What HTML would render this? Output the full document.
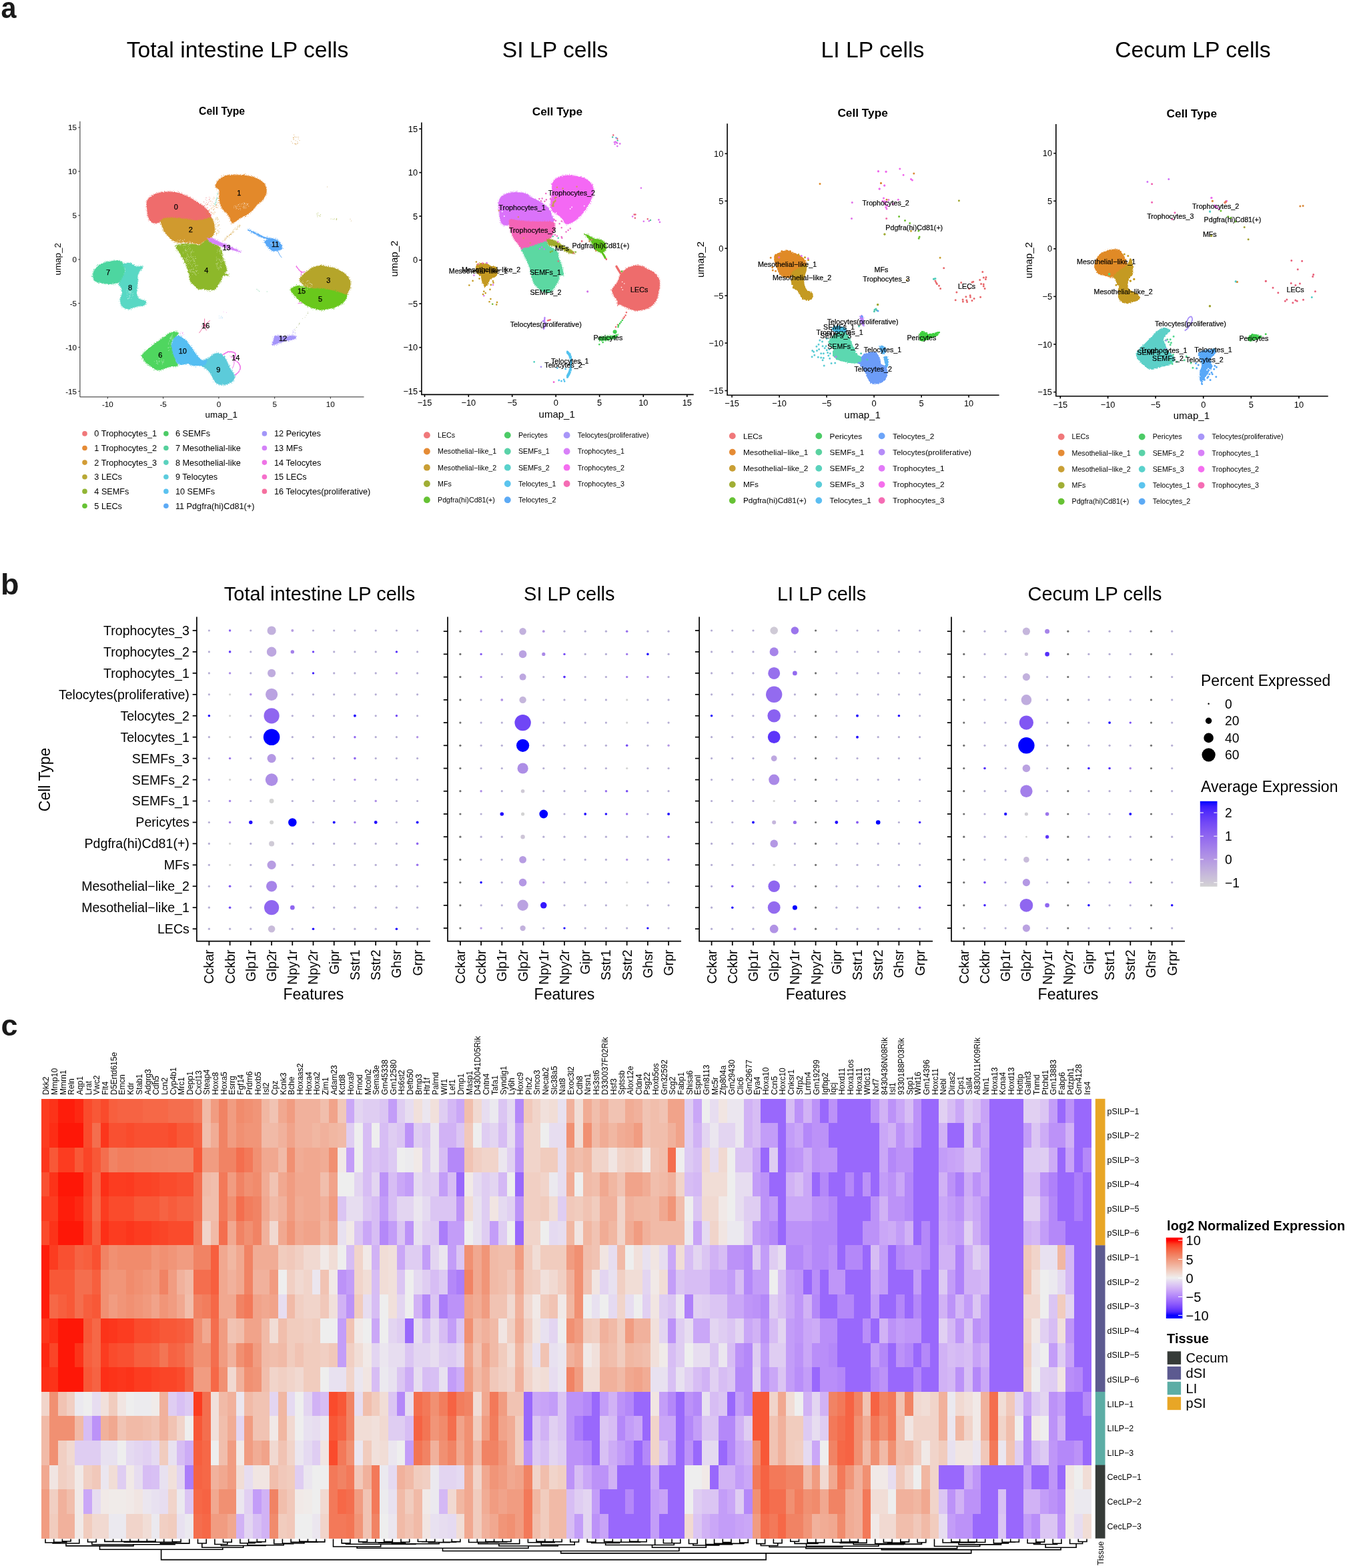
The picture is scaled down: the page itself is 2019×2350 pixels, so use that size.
<!DOCTYPE html>
<html lang="en"><head><meta charset="utf-8"><title>Figure</title>
<style>
html,body{margin:0;padding:0;background:#fff;}
body{width:2019px;height:2350px;overflow:hidden;}
svg{display:block;font-family:"Liberation Sans", Arial, Helvetica, sans-serif;}
text{white-space:pre;}
</style></head><body>
<svg xmlns="http://www.w3.org/2000/svg" width="2019" height="2350" viewBox="0 0 2019 2350">
<rect width="2019" height="2350" fill="#fff"/>
<defs>
<filter id="rough" x="-5%" y="-5%" width="110%" height="110%"><feTurbulence type="fractalNoise" baseFrequency="0.9" numOctaves="2" seed="3" result="n"/><feDisplacementMap in="SourceGraphic" in2="n" scale="2.2" xChannelSelector="R" yChannelSelector="G"/></filter>
<filter id="rough2" x="-5%" y="-5%" width="110%" height="110%"><feTurbulence type="fractalNoise" baseFrequency="0.5" numOctaves="2" seed="7" result="n"/><feDisplacementMap in="SourceGraphic" in2="n" scale="3.5" xChannelSelector="R" yChannelSelector="G"/></filter>
<filter id="speck" x="-10%" y="-10%" width="120%" height="120%"><feTurbulence type="fractalNoise" baseFrequency="1.1" numOctaves="1" seed="11" result="n"/><feDisplacementMap in="SourceGraphic" in2="n" scale="5" xChannelSelector="R" yChannelSelector="G"/></filter>
</defs>
<path d="M219.8,304.3C220.1,301.6 220.6,300.1 222.2,298.1C223.9,296.0 226.4,293.6 229.7,291.9C233.0,290.3 237.7,288.9 242.0,288.2C246.3,287.5 251.1,287.4 255.6,287.6C260.1,287.8 264.9,288.3 269.2,289.4C273.5,290.6 277.5,292.3 281.6,294.4C285.7,296.4 290.0,299.3 293.9,301.8C297.8,304.3 301.8,306.5 305.1,309.2C308.4,311.9 311.8,315.0 313.7,317.9C315.7,320.7 316.6,324.3 316.8,326.5C317.0,328.8 320.0,330.5 314.9,331.5C309.9,332.4 297.4,332.5 286.5,332.1C275.6,331.7 257.7,328.7 249.4,329.0C241.2,329.3 240.4,333.1 237.1,333.9C233.8,334.8 231.8,334.6 229.7,333.9C227.5,333.3 225.4,332.1 224.1,330.2C222.8,328.4 222.2,325.5 221.6,322.8C221.0,320.1 220.7,317.2 220.4,314.2C220.1,311.1 219.5,306.9 219.8,304.3Z" fill="none" stroke="#EF6C6C" stroke-width="2.6" stroke-dasharray="0.9 1.9" filter="url(#speck)"/><path d="M219.8,304.3C220.1,301.6 220.6,300.1 222.2,298.1C223.9,296.0 226.4,293.6 229.7,291.9C233.0,290.3 237.7,288.9 242.0,288.2C246.3,287.5 251.1,287.4 255.6,287.6C260.1,287.8 264.9,288.3 269.2,289.4C273.5,290.6 277.5,292.3 281.6,294.4C285.7,296.4 290.0,299.3 293.9,301.8C297.8,304.3 301.8,306.5 305.1,309.2C308.4,311.9 311.8,315.0 313.7,317.9C315.7,320.7 316.6,324.3 316.8,326.5C317.0,328.8 320.0,330.5 314.9,331.5C309.9,332.4 297.4,332.5 286.5,332.1C275.6,331.7 257.7,328.7 249.4,329.0C241.2,329.3 240.4,333.1 237.1,333.9C233.8,334.8 231.8,334.6 229.7,333.9C227.5,333.3 225.4,332.1 224.1,330.2C222.8,328.4 222.2,325.5 221.6,322.8C221.0,320.1 220.7,317.2 220.4,314.2C220.1,311.1 219.5,306.9 219.8,304.3Z" fill="#EF6C6C" filter="url(#rough)"/>
<path d="M324.8,273.4C326.1,271.1 328.5,268.9 331.0,267.2C333.5,265.4 335.7,263.7 339.7,262.9C343.6,262.0 349.6,262.2 354.5,262.2C359.4,262.2 364.6,262.1 369.3,262.9C374.1,263.6 379.0,265.0 382.9,266.6C386.8,268.1 390.3,270.2 392.8,272.1C395.3,274.1 396.6,276.0 397.8,278.3C398.9,280.6 399.6,283.3 399.6,285.7C399.6,288.2 398.7,290.9 397.8,293.1C396.8,295.4 395.9,297.3 394.0,299.3C392.2,301.4 389.1,303.0 386.6,305.5C384.2,308.0 381.9,311.5 379.2,314.2C376.5,316.8 373.7,319.5 370.6,321.6C367.5,323.6 363.8,324.7 360.7,326.5C357.6,328.4 354.3,331.6 352.0,332.7C349.8,333.8 348.3,334.3 347.1,333.3C345.8,332.3 345.8,328.9 344.6,326.5C343.4,324.1 341.5,321.4 339.7,319.1C337.8,316.8 335.1,315.4 333.5,312.9C331.8,310.4 330.6,307.4 329.8,304.3C329.0,301.2 328.7,297.7 328.5,294.4C328.3,291.1 329.4,286.8 328.5,284.5C327.7,282.2 324.2,282.6 323.6,280.8C323.0,278.9 323.6,275.6 324.8,273.4Z" fill="none" stroke="#E3892C" stroke-width="2.6" stroke-dasharray="0.9 1.9" filter="url(#speck)"/><path d="M324.8,273.4C326.1,271.1 328.5,268.9 331.0,267.2C333.5,265.4 335.7,263.7 339.7,262.9C343.6,262.0 349.6,262.2 354.5,262.2C359.4,262.2 364.6,262.1 369.3,262.9C374.1,263.6 379.0,265.0 382.9,266.6C386.8,268.1 390.3,270.2 392.8,272.1C395.3,274.1 396.6,276.0 397.8,278.3C398.9,280.6 399.6,283.3 399.6,285.7C399.6,288.2 398.7,290.9 397.8,293.1C396.8,295.4 395.9,297.3 394.0,299.3C392.2,301.4 389.1,303.0 386.6,305.5C384.2,308.0 381.9,311.5 379.2,314.2C376.5,316.8 373.7,319.5 370.6,321.6C367.5,323.6 363.8,324.7 360.7,326.5C357.6,328.4 354.3,331.6 352.0,332.7C349.8,333.8 348.3,334.3 347.1,333.3C345.8,332.3 345.8,328.9 344.6,326.5C343.4,324.1 341.5,321.4 339.7,319.1C337.8,316.8 335.1,315.4 333.5,312.9C331.8,310.4 330.6,307.4 329.8,304.3C329.0,301.2 328.7,297.7 328.5,294.4C328.3,291.1 329.4,286.8 328.5,284.5C327.7,282.2 324.2,282.6 323.6,280.8C323.0,278.9 323.6,275.6 324.8,273.4Z" fill="#E3892C" filter="url(#rough)"/>
<path d="M264.3,368.5C265.7,365.9 274.6,365.2 279.1,364.8C283.6,364.4 288.2,365.7 291.5,366.1C294.8,366.5 296.4,368.0 298.9,367.3C301.3,366.6 304.2,363.2 306.3,361.7C308.4,360.3 309.2,358.1 311.2,358.7C313.3,359.2 316.0,363.2 318.7,364.8C321.3,366.5 325.0,366.7 327.3,368.5C329.6,370.4 331.0,372.7 332.2,376.0C333.5,379.3 333.7,384.6 334.7,388.3C335.7,392.0 337.6,395.3 338.4,398.2C339.3,401.1 340.0,403.7 339.7,405.6C339.4,407.5 336.2,408.4 336.6,409.6C337.0,410.7 342.4,411.8 342.1,412.4C341.8,413.0 336.6,411.7 334.7,413.0C332.9,414.4 332.5,418.0 331.0,420.4C329.6,422.9 327.7,425.6 326.1,427.9C324.4,430.1 323.6,432.9 321.1,434.0C318.7,435.2 313.9,434.9 311.2,434.7C308.6,434.5 307.3,433.0 305.1,432.8C302.8,432.6 299.9,434.3 297.6,433.4C295.4,432.6 293.5,429.8 291.5,427.9C289.4,425.9 286.5,424.2 285.3,421.7C284.0,419.2 284.7,415.9 284.0,413.0C283.4,410.2 282.8,407.9 281.6,404.4C280.3,400.9 278.5,395.9 276.6,392.0C274.8,388.1 272.5,384.8 270.4,380.9C268.4,377.0 262.8,371.2 264.3,368.5Z" fill="none" stroke="#8DB82A" stroke-width="2.6" stroke-dasharray="0.9 1.9" filter="url(#speck)"/><path d="M264.3,368.5C265.7,365.9 274.6,365.2 279.1,364.8C283.6,364.4 288.2,365.7 291.5,366.1C294.8,366.5 296.4,368.0 298.9,367.3C301.3,366.6 304.2,363.2 306.3,361.7C308.4,360.3 309.2,358.1 311.2,358.7C313.3,359.2 316.0,363.2 318.7,364.8C321.3,366.5 325.0,366.7 327.3,368.5C329.6,370.4 331.0,372.7 332.2,376.0C333.5,379.3 333.7,384.6 334.7,388.3C335.7,392.0 337.6,395.3 338.4,398.2C339.3,401.1 340.0,403.7 339.7,405.6C339.4,407.5 336.2,408.4 336.6,409.6C337.0,410.7 342.4,411.8 342.1,412.4C341.8,413.0 336.6,411.7 334.7,413.0C332.9,414.4 332.5,418.0 331.0,420.4C329.6,422.9 327.7,425.6 326.1,427.9C324.4,430.1 323.6,432.9 321.1,434.0C318.7,435.2 313.9,434.9 311.2,434.7C308.6,434.5 307.3,433.0 305.1,432.8C302.8,432.6 299.9,434.3 297.6,433.4C295.4,432.6 293.5,429.8 291.5,427.9C289.4,425.9 286.5,424.2 285.3,421.7C284.0,419.2 284.7,415.9 284.0,413.0C283.4,410.2 282.8,407.9 281.6,404.4C280.3,400.9 278.5,395.9 276.6,392.0C274.8,388.1 272.5,384.8 270.4,380.9C268.4,377.0 262.8,371.2 264.3,368.5Z" fill="#8DB82A" filter="url(#rough)"/>
<path d="M240.8,331.5C241.4,329.3 243.9,328.0 247.0,327.1C250.1,326.3 254.8,326.4 259.3,326.5C263.9,326.6 268.8,327.1 274.2,327.8C279.5,328.4 286.3,330.0 291.5,330.2C296.6,330.4 300.9,329.6 305.1,329.0C309.2,328.4 313.6,325.7 316.2,326.5C318.8,327.3 319.6,330.8 320.5,333.9C321.4,337.0 322.1,341.8 321.7,345.1C321.4,348.4 320.4,351.4 318.7,353.7C316.9,356.0 313.3,357.4 311.2,358.7C309.2,359.9 308.4,359.9 306.3,361.1C304.2,362.4 301.3,365.4 298.9,366.1C296.4,366.7 294.8,365.2 291.5,364.8C288.2,364.4 282.8,363.8 279.1,363.6C275.4,363.4 272.3,364.0 269.2,363.6C266.1,363.2 263.2,362.6 260.6,361.1C257.9,359.7 255.4,357.2 253.1,354.9C250.9,352.7 248.6,350.0 247.0,347.5C245.3,345.1 244.3,342.8 243.3,340.1C242.2,337.4 240.2,333.6 240.8,331.5Z" fill="none" stroke="#D09A2E" stroke-width="2.6" stroke-dasharray="0.9 1.9" filter="url(#speck)"/><path d="M240.8,331.5C241.4,329.3 243.9,328.0 247.0,327.1C250.1,326.3 254.8,326.4 259.3,326.5C263.9,326.6 268.8,327.1 274.2,327.8C279.5,328.4 286.3,330.0 291.5,330.2C296.6,330.4 300.9,329.6 305.1,329.0C309.2,328.4 313.6,325.7 316.2,326.5C318.8,327.3 319.6,330.8 320.5,333.9C321.4,337.0 322.1,341.8 321.7,345.1C321.4,348.4 320.4,351.4 318.7,353.7C316.9,356.0 313.3,357.4 311.2,358.7C309.2,359.9 308.4,359.9 306.3,361.1C304.2,362.4 301.3,365.4 298.9,366.1C296.4,366.7 294.8,365.2 291.5,364.8C288.2,364.4 282.8,363.8 279.1,363.6C275.4,363.4 272.3,364.0 269.2,363.6C266.1,363.2 263.2,362.6 260.6,361.1C257.9,359.7 255.4,357.2 253.1,354.9C250.9,352.7 248.6,350.0 247.0,347.5C245.3,345.1 244.3,342.8 243.3,340.1C242.2,337.4 240.2,333.6 240.8,331.5Z" fill="#D09A2E" filter="url(#rough)"/>
<path d="M311.9,357.4C312.2,356.9 316.7,356.8 318.7,357.4C320.6,358.0 328.3,362.4 331.0,363.6C333.7,364.8 342.8,368.4 345.8,369.8C348.9,371.2 361.7,377.3 361.9,377.8C362.2,378.3 351.5,375.6 348.3,374.7C345.1,373.8 333.1,369.8 329.8,368.5C326.4,367.3 316.7,363.5 314.9,362.4C313.2,361.2 311.5,357.9 311.9,357.4Z" fill="none" stroke="#D583FA" stroke-width="2.6" stroke-dasharray="0.9 1.9" filter="url(#speck)"/><path d="M311.9,357.4C312.2,356.9 316.7,356.8 318.7,357.4C320.6,358.0 328.3,362.4 331.0,363.6C333.7,364.8 342.8,368.4 345.8,369.8C348.9,371.2 361.7,377.3 361.9,377.8C362.2,378.3 351.5,375.6 348.3,374.7C345.1,373.8 333.1,369.8 329.8,368.5C326.4,367.3 316.7,363.5 314.9,362.4C313.2,361.2 311.5,357.9 311.9,357.4Z" fill="#D583FA" filter="url(#rough)"/>
<path d="M139.2,413.3C139.2,411.0 139.7,408.3 141.0,405.8C142.4,403.4 144.5,400.5 147.2,398.4C149.9,396.4 153.4,394.7 157.1,393.5C160.8,392.2 165.7,391.4 169.4,391.0C173.1,390.6 176.9,390.4 179.3,391.0C181.8,391.6 183.0,392.9 184.3,394.7C185.5,396.6 186.3,399.5 186.7,402.1C187.2,404.8 187.2,408.1 186.7,410.8C186.3,413.5 185.5,416.1 184.3,418.2C183.0,420.3 181.8,421.9 179.3,423.1C176.9,424.4 172.3,425.2 169.4,425.6C166.6,426.0 164.5,425.8 162.0,425.6C159.6,425.4 157.3,424.8 154.6,424.4C151.9,424.0 148.2,424.0 146.0,423.1C143.7,422.3 142.1,421.1 141.0,419.4C139.9,417.8 139.2,415.5 139.2,413.3Z" fill="none" stroke="#4ED6A0" stroke-width="2.6" stroke-dasharray="0.9 1.9" filter="url(#speck)"/><path d="M139.2,413.3C139.2,411.0 139.7,408.3 141.0,405.8C142.4,403.4 144.5,400.5 147.2,398.4C149.9,396.4 153.4,394.7 157.1,393.5C160.8,392.2 165.7,391.4 169.4,391.0C173.1,390.6 176.9,390.4 179.3,391.0C181.8,391.6 183.0,392.9 184.3,394.7C185.5,396.6 186.3,399.5 186.7,402.1C187.2,404.8 187.2,408.1 186.7,410.8C186.3,413.5 185.5,416.1 184.3,418.2C183.0,420.3 181.8,421.9 179.3,423.1C176.9,424.4 172.3,425.2 169.4,425.6C166.6,426.0 164.5,425.8 162.0,425.6C159.6,425.4 157.3,424.8 154.6,424.4C151.9,424.0 148.2,424.0 146.0,423.1C143.7,422.3 142.1,421.1 141.0,419.4C139.9,417.8 139.2,415.5 139.2,413.3Z" fill="#4ED6A0" filter="url(#rough)"/>
<path d="M184.3,396.0C185.4,394.6 190.9,393.5 194.2,394.1C197.5,394.7 201.2,398.8 204.0,399.7C206.9,400.5 209.8,398.8 211.5,399.0C213.1,399.3 214.3,399.6 213.9,400.9C213.5,402.2 210.2,405.0 209.0,407.1C207.8,409.1 206.9,410.8 206.5,413.3C206.1,415.7 206.7,418.8 206.5,421.9C206.3,425.0 205.5,428.5 205.3,431.8C205.1,435.1 204.7,439.0 205.3,441.7C205.9,444.4 207.1,446.4 209.0,447.9C210.8,449.3 214.8,449.5 216.4,450.3C218.1,451.2 218.9,451.6 218.9,452.8C218.9,454.0 218.5,456.7 216.4,457.8C214.3,458.8 209.4,458.4 206.5,459.0C203.6,459.6 201.6,460.7 199.1,461.5C196.6,462.2 194.2,463.5 191.7,463.3C189.2,463.1 186.1,461.8 184.3,460.2C182.4,458.7 181.2,456.3 180.6,454.0C179.9,451.8 180.1,449.1 180.6,446.6C181.0,444.2 182.8,441.7 183.0,439.2C183.2,436.7 182.6,434.1 181.8,431.8C181.0,429.5 178.1,427.7 178.1,425.6C178.1,423.6 180.4,421.9 181.8,419.4C183.2,417.0 185.8,413.7 186.7,410.8C187.7,407.9 187.8,404.6 187.4,402.1C186.9,399.7 183.1,397.3 184.3,396.0Z" fill="none" stroke="#58D8C4" stroke-width="2.6" stroke-dasharray="0.9 1.9" filter="url(#speck)"/><path d="M184.3,396.0C185.4,394.6 190.9,393.5 194.2,394.1C197.5,394.7 201.2,398.8 204.0,399.7C206.9,400.5 209.8,398.8 211.5,399.0C213.1,399.3 214.3,399.6 213.9,400.9C213.5,402.2 210.2,405.0 209.0,407.1C207.8,409.1 206.9,410.8 206.5,413.3C206.1,415.7 206.7,418.8 206.5,421.9C206.3,425.0 205.5,428.5 205.3,431.8C205.1,435.1 204.7,439.0 205.3,441.7C205.9,444.4 207.1,446.4 209.0,447.9C210.8,449.3 214.8,449.5 216.4,450.3C218.1,451.2 218.9,451.6 218.9,452.8C218.9,454.0 218.5,456.7 216.4,457.8C214.3,458.8 209.4,458.4 206.5,459.0C203.6,459.6 201.6,460.7 199.1,461.5C196.6,462.2 194.2,463.5 191.7,463.3C189.2,463.1 186.1,461.8 184.3,460.2C182.4,458.7 181.2,456.3 180.6,454.0C179.9,451.8 180.1,449.1 180.6,446.6C181.0,444.2 182.8,441.7 183.0,439.2C183.2,436.7 182.6,434.1 181.8,431.8C181.0,429.5 178.1,427.7 178.1,425.6C178.1,423.6 180.4,421.9 181.8,419.4C183.2,417.0 185.8,413.7 186.7,410.8C187.7,407.9 187.8,404.6 187.4,402.1C186.9,399.7 183.1,397.3 184.3,396.0Z" fill="#58D8C4" filter="url(#rough)"/>
<path d="M212.7,533.1C212.7,530.7 214.6,529.9 217.6,527.0C220.7,524.1 226.7,519.3 231.2,515.8C235.8,512.3 241.1,508.6 244.8,506.0C248.5,503.3 250.6,501.2 253.5,499.8C256.4,498.3 259.9,497.3 262.1,497.3C264.4,497.3 267.1,498.1 267.1,499.8C267.1,501.4 263.6,504.5 262.1,507.2C260.7,509.9 258.8,512.3 258.4,515.8C258.0,519.3 258.8,524.3 259.7,528.2C260.5,532.1 262.2,536.0 263.4,539.3C264.5,542.6 267.7,546.3 266.5,548.0C265.2,549.6 258.9,548.6 256.0,549.2C253.0,549.8 251.0,550.9 248.5,551.7C246.1,552.5 243.6,553.7 241.1,554.2C238.7,554.6 236.4,555.2 233.7,554.2C231.0,553.1 227.7,550.0 225.1,548.0C222.4,545.9 219.7,544.3 217.6,541.8C215.6,539.3 212.7,535.6 212.7,533.1Z" fill="none" stroke="#4FD65E" stroke-width="2.6" stroke-dasharray="0.9 1.9" filter="url(#speck)"/><path d="M212.7,533.1C212.7,530.7 214.6,529.9 217.6,527.0C220.7,524.1 226.7,519.3 231.2,515.8C235.8,512.3 241.1,508.6 244.8,506.0C248.5,503.3 250.6,501.2 253.5,499.8C256.4,498.3 259.9,497.3 262.1,497.3C264.4,497.3 267.1,498.1 267.1,499.8C267.1,501.4 263.6,504.5 262.1,507.2C260.7,509.9 258.8,512.3 258.4,515.8C258.0,519.3 258.8,524.3 259.7,528.2C260.5,532.1 262.2,536.0 263.4,539.3C264.5,542.6 267.7,546.3 266.5,548.0C265.2,549.6 258.9,548.6 256.0,549.2C253.0,549.8 251.0,550.9 248.5,551.7C246.1,552.5 243.6,553.7 241.1,554.2C238.7,554.6 236.4,555.2 233.7,554.2C231.0,553.1 227.7,550.0 225.1,548.0C222.4,545.9 219.7,544.3 217.6,541.8C215.6,539.3 212.7,535.6 212.7,533.1Z" fill="#4FD65E" filter="url(#rough)"/>
<path d="M305.4,540.6C307.2,538.7 310.3,538.5 312.8,536.9C315.3,535.2 317.8,531.9 320.2,530.7C322.7,529.4 325.4,529.0 327.6,529.4C329.9,529.9 333.4,533.0 333.8,533.1C334.2,533.3 329.8,530.1 330.0,530.2C330.2,530.2 333.3,531.5 334.9,533.3C336.6,535.0 338.2,537.6 339.9,540.7C341.5,543.8 343.2,548.7 344.8,551.8C346.5,554.9 348.6,556.9 349.8,559.2C350.9,561.5 351.8,563.3 351.6,565.4C351.4,567.5 350.1,569.9 348.5,571.6C347.0,573.2 344.6,574.5 342.4,575.3C340.1,576.1 337.0,576.4 334.9,576.5C332.9,576.6 330.8,575.9 330.0,575.9C329.2,575.9 331.1,576.7 330.1,576.4C329.1,576.1 325.8,575.6 323.9,573.9C322.1,572.3 320.6,569.2 319.0,566.5C317.3,563.8 315.9,560.3 314.0,557.9C312.2,555.4 309.9,553.3 307.9,551.7C305.8,550.0 302.1,549.8 301.7,548.0C301.3,546.1 303.5,542.4 305.4,540.6Z" fill="none" stroke="#5CCBDA" stroke-width="2.6" stroke-dasharray="0.9 1.9" filter="url(#speck)"/><path d="M305.4,540.6C307.2,538.7 310.3,538.5 312.8,536.9C315.3,535.2 317.8,531.9 320.2,530.7C322.7,529.4 325.4,529.0 327.6,529.4C329.9,529.9 333.4,533.0 333.8,533.1C334.2,533.3 329.8,530.1 330.0,530.2C330.2,530.2 333.3,531.5 334.9,533.3C336.6,535.0 338.2,537.6 339.9,540.7C341.5,543.8 343.2,548.7 344.8,551.8C346.5,554.9 348.6,556.9 349.8,559.2C350.9,561.5 351.8,563.3 351.6,565.4C351.4,567.5 350.1,569.9 348.5,571.6C347.0,573.2 344.6,574.5 342.4,575.3C340.1,576.1 337.0,576.4 334.9,576.5C332.9,576.6 330.8,575.9 330.0,575.9C329.2,575.9 331.1,576.7 330.1,576.4C329.1,576.1 325.8,575.6 323.9,573.9C322.1,572.3 320.6,569.2 319.0,566.5C317.3,563.8 315.9,560.3 314.0,557.9C312.2,555.4 309.9,553.3 307.9,551.7C305.8,550.0 302.1,549.8 301.7,548.0C301.3,546.1 303.5,542.4 305.4,540.6Z" fill="#5CCBDA" filter="url(#rough)"/>
<path d="M267.1,502.9C269.1,502.7 271.0,504.4 273.3,506.0C275.5,507.5 278.4,509.7 280.7,512.1C282.9,514.6 284.8,517.9 286.9,520.8C288.9,523.7 291.0,526.8 293.0,529.4C295.1,532.1 297.2,535.0 299.2,536.9C301.3,538.7 303.5,540.2 305.4,540.6C307.2,541.0 310.1,538.3 310.3,539.3C310.5,540.4 308.5,545.3 306.6,546.7C304.8,548.2 301.9,547.8 299.2,548.0C296.5,548.2 293.7,548.4 290.6,548.0C287.5,547.6 283.6,545.7 280.7,545.5C277.8,545.3 275.5,546.7 273.3,546.7C271.0,546.7 268.8,546.9 267.1,545.5C265.3,544.1 264.1,541.0 262.8,538.1C261.4,535.2 260.0,531.9 259.0,528.2C258.1,524.5 256.9,519.3 257.2,515.8C257.5,512.3 259.3,509.4 260.9,507.2C262.5,505.0 265.0,503.1 267.1,502.9Z" fill="none" stroke="#55BEF2" stroke-width="2.6" stroke-dasharray="0.9 1.9" filter="url(#speck)"/><path d="M267.1,502.9C269.1,502.7 271.0,504.4 273.3,506.0C275.5,507.5 278.4,509.7 280.7,512.1C282.9,514.6 284.8,517.9 286.9,520.8C288.9,523.7 291.0,526.8 293.0,529.4C295.1,532.1 297.2,535.0 299.2,536.9C301.3,538.7 303.5,540.2 305.4,540.6C307.2,541.0 310.1,538.3 310.3,539.3C310.5,540.4 308.5,545.3 306.6,546.7C304.8,548.2 301.9,547.8 299.2,548.0C296.5,548.2 293.7,548.4 290.6,548.0C287.5,547.6 283.6,545.7 280.7,545.5C277.8,545.3 275.5,546.7 273.3,546.7C271.0,546.7 268.8,546.9 267.1,545.5C265.3,544.1 264.1,541.0 262.8,538.1C261.4,535.2 260.0,531.9 259.0,528.2C258.1,524.5 256.9,519.3 257.2,515.8C257.5,512.3 259.3,509.4 260.9,507.2C262.5,505.0 265.0,503.1 267.1,502.9Z" fill="#55BEF2" filter="url(#rough)"/>
<path d="M449.3,418.3C449.7,416.5 451.8,414.0 453.6,412.1C455.3,410.3 457.7,408.8 459.8,407.2C461.8,405.5 463.7,403.6 466.0,402.2C468.2,400.9 470.7,399.9 473.4,399.2C476.0,398.4 479.1,397.8 482.0,397.9C484.9,398.0 487.6,399.2 490.7,399.8C493.8,400.4 497.5,400.7 500.6,401.6C503.7,402.6 506.3,403.8 509.2,405.3C512.1,406.9 515.6,408.9 517.9,410.9C520.1,412.9 521.6,414.8 522.8,417.1C524.0,419.3 525.0,422.0 525.3,424.5C525.6,427.0 525.3,429.6 524.7,431.9C524.0,434.2 522.7,435.6 521.6,438.1C520.4,440.6 519.9,444.9 517.9,446.7C515.8,448.6 512.7,449.2 509.2,449.2C505.7,449.2 501.0,447.6 496.9,446.7C492.7,445.9 488.6,445.5 484.5,444.3C480.4,443.0 475.6,441.0 472.1,439.3C468.6,437.7 466.2,436.0 463.5,434.4C460.8,432.7 458.1,431.3 456.1,429.4C454.0,427.6 452.3,425.1 451.1,423.3C450.0,421.4 448.9,420.2 449.3,418.3Z" fill="none" stroke="#B5A52A" stroke-width="2.6" stroke-dasharray="0.9 1.9" filter="url(#speck)"/><path d="M449.3,418.3C449.7,416.5 451.8,414.0 453.6,412.1C455.3,410.3 457.7,408.8 459.8,407.2C461.8,405.5 463.7,403.6 466.0,402.2C468.2,400.9 470.7,399.9 473.4,399.2C476.0,398.4 479.1,397.8 482.0,397.9C484.9,398.0 487.6,399.2 490.7,399.8C493.8,400.4 497.5,400.7 500.6,401.6C503.7,402.6 506.3,403.8 509.2,405.3C512.1,406.9 515.6,408.9 517.9,410.9C520.1,412.9 521.6,414.8 522.8,417.1C524.0,419.3 525.0,422.0 525.3,424.5C525.6,427.0 525.3,429.6 524.7,431.9C524.0,434.2 522.7,435.6 521.6,438.1C520.4,440.6 519.9,444.9 517.9,446.7C515.8,448.6 512.7,449.2 509.2,449.2C505.7,449.2 501.0,447.6 496.9,446.7C492.7,445.9 488.6,445.5 484.5,444.3C480.4,443.0 475.6,441.0 472.1,439.3C468.6,437.7 466.2,436.0 463.5,434.4C460.8,432.7 458.1,431.3 456.1,429.4C454.0,427.6 452.3,425.1 451.1,423.3C450.0,421.4 448.9,420.2 449.3,418.3Z" fill="#B5A52A" filter="url(#rough)"/>
<path d="M435.7,433.8C436.7,431.9 442.0,428.9 444.9,428.2C447.9,427.5 450.1,428.8 453.6,429.4C457.1,430.1 461.8,431.4 466.0,431.9C470.1,432.4 474.2,432.2 478.3,432.5C482.4,432.8 486.6,433.1 490.7,433.8C494.8,434.4 498.9,435.1 503.0,436.2C507.2,437.4 512.5,439.4 515.4,440.6C518.3,441.7 519.9,441.6 520.3,443.0C520.7,444.5 519.3,447.2 517.9,449.2C516.4,451.3 514.2,453.5 511.7,455.4C509.2,457.2 506.1,459.1 503.0,460.3C499.9,461.6 496.9,462.1 493.1,462.8C489.4,463.5 484.7,464.4 480.8,464.3C476.9,464.2 473.2,463.3 469.7,462.2C466.2,461.1 462.9,459.5 459.8,457.9C456.7,456.2 453.8,454.4 451.1,452.3C448.4,450.2 445.8,447.7 443.7,445.5C441.6,443.3 440.1,441.3 438.8,439.3C437.4,437.4 434.6,435.6 435.7,433.8Z" fill="none" stroke="#69C81E" stroke-width="2.6" stroke-dasharray="0.9 1.9" filter="url(#speck)"/><path d="M435.7,433.8C436.7,431.9 442.0,428.9 444.9,428.2C447.9,427.5 450.1,428.8 453.6,429.4C457.1,430.1 461.8,431.4 466.0,431.9C470.1,432.4 474.2,432.2 478.3,432.5C482.4,432.8 486.6,433.1 490.7,433.8C494.8,434.4 498.9,435.1 503.0,436.2C507.2,437.4 512.5,439.4 515.4,440.6C518.3,441.7 519.9,441.6 520.3,443.0C520.7,444.5 519.3,447.2 517.9,449.2C516.4,451.3 514.2,453.5 511.7,455.4C509.2,457.2 506.1,459.1 503.0,460.3C499.9,461.6 496.9,462.1 493.1,462.8C489.4,463.5 484.7,464.4 480.8,464.3C476.9,464.2 473.2,463.3 469.7,462.2C466.2,461.1 462.9,459.5 459.8,457.9C456.7,456.2 453.8,454.4 451.1,452.3C448.4,450.2 445.8,447.7 443.7,445.5C441.6,443.3 440.1,441.3 438.8,439.3C437.4,437.4 434.6,435.6 435.7,433.8Z" fill="#69C81E" filter="url(#rough)"/>
<path d="M408.5,516.0C408.5,514.5 409.8,510.6 410.3,508.5C410.9,506.5 410.1,504.4 411.6,503.6C413.0,502.8 416.1,503.4 419.0,503.6C421.9,503.8 426.2,504.9 428.9,504.8C431.6,504.7 432.8,503.1 435.1,503.0C437.3,502.9 441.1,503.5 442.5,504.2C443.8,504.9 444.3,506.4 443.1,507.3C441.9,508.2 437.8,509.1 435.1,509.8C432.3,510.5 429.5,510.8 426.4,511.6C423.3,512.5 419.2,513.8 416.5,514.7C413.8,515.6 411.7,517.0 410.3,517.2C409.0,517.4 408.5,517.4 408.5,516.0Z" fill="none" stroke="#A595FA" stroke-width="2.6" stroke-dasharray="0.9 1.9" filter="url(#speck)"/><path d="M408.5,516.0C408.5,514.5 409.8,510.6 410.3,508.5C410.9,506.5 410.1,504.4 411.6,503.6C413.0,502.8 416.1,503.4 419.0,503.6C421.9,503.8 426.2,504.9 428.9,504.8C431.6,504.7 432.8,503.1 435.1,503.0C437.3,502.9 441.1,503.5 442.5,504.2C443.8,504.9 444.3,506.4 443.1,507.3C441.9,508.2 437.8,509.1 435.1,509.8C432.3,510.5 429.5,510.8 426.4,511.6C423.3,512.5 419.2,513.8 416.5,514.7C413.8,515.6 411.7,517.0 410.3,517.2C409.0,517.4 408.5,517.4 408.5,516.0Z" fill="#A595FA" filter="url(#rough)"/>
<path d="M396.7,361.7C397.8,360.4 401.9,358.6 404.2,358.0C406.4,357.4 408.3,357.6 410.3,358.0C412.4,358.4 414.7,359.0 416.5,360.4C418.4,361.9 420.5,364.6 421.5,366.6C422.4,368.7 422.9,371.4 422.1,372.8C421.3,374.3 418.5,374.7 416.5,375.3C414.6,375.9 412.2,376.7 410.3,376.5C408.5,376.3 407.0,375.3 405.4,374.0C403.7,372.8 401.7,370.5 400.4,369.1C399.2,367.7 398.6,366.6 398.0,365.4C397.4,364.2 395.7,362.9 396.7,361.7Z" fill="none" stroke="#58A8F8" stroke-width="2.6" stroke-dasharray="0.9 1.9" filter="url(#speck)"/><path d="M396.7,361.7C397.8,360.4 401.9,358.6 404.2,358.0C406.4,357.4 408.3,357.6 410.3,358.0C412.4,358.4 414.7,359.0 416.5,360.4C418.4,361.9 420.5,364.6 421.5,366.6C422.4,368.7 422.9,371.4 422.1,372.8C421.3,374.3 418.5,374.7 416.5,375.3C414.6,375.9 412.2,376.7 410.3,376.5C408.5,376.3 407.0,375.3 405.4,374.0C403.7,372.8 401.7,370.5 400.4,369.1C399.2,367.7 398.6,366.6 398.0,365.4C397.4,364.2 395.7,362.9 396.7,361.7Z" fill="#58A8F8" filter="url(#rough)"/>
<path d="M371.4,344.1C371.6,344.1 380.4,347.4 381.9,348.1C383.4,348.8 392.6,353.6 394.3,354.3C395.9,354.9 406.0,357.6 406.6,358.0C407.3,358.3 405.1,359.4 404.2,359.2C403.2,359.0 393.4,356.2 391.8,355.5C390.1,354.8 380.8,350.1 379.4,349.3C378.1,348.6 371.2,344.2 371.4,344.1Z" fill="none" stroke="#58A8F8" stroke-width="2.6" stroke-dasharray="0.9 1.9" filter="url(#speck)"/><path d="M371.4,344.1C371.6,344.1 380.4,347.4 381.9,348.1C383.4,348.8 392.6,353.6 394.3,354.3C395.9,354.9 406.0,357.6 406.6,358.0C407.3,358.3 405.1,359.4 404.2,359.2C403.2,359.0 393.4,356.2 391.8,355.5C390.1,354.8 380.8,350.1 379.4,349.3C378.1,348.6 371.2,344.2 371.4,344.1Z" fill="#58A8F8" filter="url(#rough)"/>
<path d="M416.5,376.5C417.0,377.5 418.7,381.2 419.6,382.7C420.5,384.2 421.7,385.3 422.1,385.8" fill="none" stroke="#58A8F8" stroke-width="1.0" stroke-linecap="round"/>
<path d="M334.9,531.4C335.8,530.9 338.0,529.0 339.9,528.3C341.7,527.6 343.9,526.8 346.1,527.1C348.2,527.4 351.9,528.3 352.9,530.2C353.8,532.0 350.8,535.8 351.6,538.2C352.5,540.6 356.4,542.2 357.8,544.4C359.3,546.5 360.3,549.0 360.3,551.2C360.3,553.3 359.0,555.6 357.8,557.4C356.6,559.1 353.7,561.0 352.9,561.7" fill="none" stroke="#F072E8" stroke-width="1.6" stroke-linecap="round" filter="url(#rough)"/>
<path d="M344.8,533.3C345.7,533.9 348.7,535.1 349.8,537.0C350.8,538.8 351.2,541.9 351.0,544.4C350.8,546.9 349.0,550.6 348.5,551.8" fill="none" stroke="#F072E8" stroke-width="1.0" stroke-linecap="round" filter="url(#rough)"/>
<path d="M443.7,398.5C444.3,399.4 446.1,401.9 447.4,403.5C448.8,405.0 450.2,407.1 451.7,407.8C453.3,408.5 455.9,407.5 456.7,407.4" fill="none" stroke="#F072E8" stroke-width="1.4" stroke-linecap="round" filter="url(#rough)"/>
<path d="M451.7,407.8 L451.1,412.8" fill="none" stroke="#F072E8" stroke-width="1.0" stroke-linecap="round"/>
<path d="M446.8,454.8 L452.4,453.9" fill="none" stroke="#F072E8" stroke-width="1.0" stroke-linecap="round"/>
<line x1="306.63" y1="487.42" x2="298.53" y2="499.12" stroke="#F0609C" stroke-width="0.9"/>
<line x1="306.63" y1="487.42" x2="314.73" y2="480.22" stroke="#F0609C" stroke-width="0.9"/>
<line x1="306.63" y1="487.42" x2="306.63" y2="477.52" stroke="#F0609C" stroke-width="0.9"/>
<line x1="306.63" y1="487.42" x2="309.33" y2="495.52" stroke="#F0609C" stroke-width="0.9"/>
<line x1="306.63" y1="487.42" x2="302.13" y2="489.22" stroke="#F0609C" stroke-width="0.9"/>
<line x1="306.63" y1="487.42" x2="312.03" y2="491.02" stroke="#F0609C" stroke-width="0.9"/>
<circle cx="306.6" cy="487.4" r="1.60" fill="#F0609C"/>
<path d="M275.3,501.8a0.45,0.45 0 1,0 0.9,0a0.45,0.45 0 1,0 -0.9,0M273.0,498.3a0.45,0.45 0 1,0 0.9,0a0.45,0.45 0 1,0 -0.9,0M270.1,499.8a0.45,0.45 0 1,0 0.9,0a0.45,0.45 0 1,0 -0.9,0M270.7,497.6a0.45,0.45 0 1,0 0.9,0a0.45,0.45 0 1,0 -0.9,0M273.4,500.1a0.45,0.45 0 1,0 0.9,0a0.45,0.45 0 1,0 -0.9,0M274.2,498.1a0.45,0.45 0 1,0 0.9,0a0.45,0.45 0 1,0 -0.9,0M272.8,499.6a0.45,0.45 0 1,0 0.9,0a0.45,0.45 0 1,0 -0.9,0M269.6,500.6a0.45,0.45 0 1,0 0.9,0a0.45,0.45 0 1,0 -0.9,0M273.3,502.7a0.45,0.45 0 1,0 0.9,0a0.45,0.45 0 1,0 -0.9,0M273.4,499.5a0.45,0.45 0 1,0 0.9,0a0.45,0.45 0 1,0 -0.9,0" fill="#F072E8"/>
<path d="M356.3,337.7a0.45,0.45 0 1,0 0.9,0a0.45,0.45 0 1,0 -0.9,0M349.3,348.0a0.45,0.45 0 1,0 0.9,0a0.45,0.45 0 1,0 -0.9,0M358.4,339.3a0.45,0.45 0 1,0 0.9,0a0.45,0.45 0 1,0 -0.9,0M346.2,350.5a0.45,0.45 0 1,0 0.9,0a0.45,0.45 0 1,0 -0.9,0M352.6,343.2a0.45,0.45 0 1,0 0.9,0a0.45,0.45 0 1,0 -0.9,0M359.0,337.2a0.45,0.45 0 1,0 0.9,0a0.45,0.45 0 1,0 -0.9,0M343.4,356.1a0.45,0.45 0 1,0 0.9,0a0.45,0.45 0 1,0 -0.9,0M337.3,359.5a0.45,0.45 0 1,0 0.9,0a0.45,0.45 0 1,0 -0.9,0M339.8,353.4a0.45,0.45 0 1,0 0.9,0a0.45,0.45 0 1,0 -0.9,0M348.7,346.9a0.45,0.45 0 1,0 0.9,0a0.45,0.45 0 1,0 -0.9,0M349.5,344.2a0.45,0.45 0 1,0 0.9,0a0.45,0.45 0 1,0 -0.9,0M335.8,358.5a0.45,0.45 0 1,0 0.9,0a0.45,0.45 0 1,0 -0.9,0M358.2,340.1a0.45,0.45 0 1,0 0.9,0a0.45,0.45 0 1,0 -0.9,0M348.8,348.9a0.45,0.45 0 1,0 0.9,0a0.45,0.45 0 1,0 -0.9,0M340.3,354.2a0.45,0.45 0 1,0 0.9,0a0.45,0.45 0 1,0 -0.9,0M346.0,348.4a0.45,0.45 0 1,0 0.9,0a0.45,0.45 0 1,0 -0.9,0M344.6,351.2a0.45,0.45 0 1,0 0.9,0a0.45,0.45 0 1,0 -0.9,0M359.6,338.8a0.45,0.45 0 1,0 0.9,0a0.45,0.45 0 1,0 -0.9,0M332.7,361.4a0.45,0.45 0 1,0 0.9,0a0.45,0.45 0 1,0 -0.9,0M352.0,341.8a0.45,0.45 0 1,0 0.9,0a0.45,0.45 0 1,0 -0.9,0M337.3,356.2a0.45,0.45 0 1,0 0.9,0a0.45,0.45 0 1,0 -0.9,0M350.7,343.2a0.45,0.45 0 1,0 0.9,0a0.45,0.45 0 1,0 -0.9,0M343.3,352.1a0.45,0.45 0 1,0 0.9,0a0.45,0.45 0 1,0 -0.9,0M344.9,351.2a0.45,0.45 0 1,0 0.9,0a0.45,0.45 0 1,0 -0.9,0M339.5,355.3a0.45,0.45 0 1,0 0.9,0a0.45,0.45 0 1,0 -0.9,0M340.2,354.9a0.45,0.45 0 1,0 0.9,0a0.45,0.45 0 1,0 -0.9,0M344.1,351.7a0.45,0.45 0 1,0 0.9,0a0.45,0.45 0 1,0 -0.9,0M335.9,358.9a0.45,0.45 0 1,0 0.9,0a0.45,0.45 0 1,0 -0.9,0M345.0,350.2a0.45,0.45 0 1,0 0.9,0a0.45,0.45 0 1,0 -0.9,0M348.8,345.9a0.45,0.45 0 1,0 0.9,0a0.45,0.45 0 1,0 -0.9,0M342.9,352.8a0.45,0.45 0 1,0 0.9,0a0.45,0.45 0 1,0 -0.9,0M353.6,344.4a0.45,0.45 0 1,0 0.9,0a0.45,0.45 0 1,0 -0.9,0M337.1,357.4a0.45,0.45 0 1,0 0.9,0a0.45,0.45 0 1,0 -0.9,0M337.7,359.5a0.45,0.45 0 1,0 0.9,0a0.45,0.45 0 1,0 -0.9,0M341.7,354.4a0.45,0.45 0 1,0 0.9,0a0.45,0.45 0 1,0 -0.9,0M358.6,337.3a0.45,0.45 0 1,0 0.9,0a0.45,0.45 0 1,0 -0.9,0M355.6,339.8a0.45,0.45 0 1,0 0.9,0a0.45,0.45 0 1,0 -0.9,0M357.8,340.3a0.45,0.45 0 1,0 0.9,0a0.45,0.45 0 1,0 -0.9,0M354.4,343.2a0.45,0.45 0 1,0 0.9,0a0.45,0.45 0 1,0 -0.9,0M346.7,349.8a0.45,0.45 0 1,0 0.9,0a0.45,0.45 0 1,0 -0.9,0M357.7,338.8a0.45,0.45 0 1,0 0.9,0a0.45,0.45 0 1,0 -0.9,0M355.6,343.5a0.45,0.45 0 1,0 0.9,0a0.45,0.45 0 1,0 -0.9,0M346.1,351.4a0.45,0.45 0 1,0 0.9,0a0.45,0.45 0 1,0 -0.9,0M338.0,357.9a0.45,0.45 0 1,0 0.9,0a0.45,0.45 0 1,0 -0.9,0M355.1,340.7a0.45,0.45 0 1,0 0.9,0a0.45,0.45 0 1,0 -0.9,0M340.2,354.0a0.45,0.45 0 1,0 0.9,0a0.45,0.45 0 1,0 -0.9,0M354.9,342.8a0.45,0.45 0 1,0 0.9,0a0.45,0.45 0 1,0 -0.9,0M345.8,351.7a0.45,0.45 0 1,0 0.9,0a0.45,0.45 0 1,0 -0.9,0M348.0,347.0a0.45,0.45 0 1,0 0.9,0a0.45,0.45 0 1,0 -0.9,0M343.3,353.5a0.45,0.45 0 1,0 0.9,0a0.45,0.45 0 1,0 -0.9,0M334.4,361.0a0.45,0.45 0 1,0 0.9,0a0.45,0.45 0 1,0 -0.9,0M335.9,360.8a0.45,0.45 0 1,0 0.9,0a0.45,0.45 0 1,0 -0.9,0M339.1,356.4a0.45,0.45 0 1,0 0.9,0a0.45,0.45 0 1,0 -0.9,0M358.9,337.7a0.45,0.45 0 1,0 0.9,0a0.45,0.45 0 1,0 -0.9,0M338.9,357.6a0.45,0.45 0 1,0 0.9,0a0.45,0.45 0 1,0 -0.9,0M356.2,340.1a0.45,0.45 0 1,0 0.9,0a0.45,0.45 0 1,0 -0.9,0M339.8,355.0a0.45,0.45 0 1,0 0.9,0a0.45,0.45 0 1,0 -0.9,0M350.4,347.5a0.45,0.45 0 1,0 0.9,0a0.45,0.45 0 1,0 -0.9,0M347.9,348.7a0.45,0.45 0 1,0 0.9,0a0.45,0.45 0 1,0 -0.9,0M341.4,355.1a0.45,0.45 0 1,0 0.9,0a0.45,0.45 0 1,0 -0.9,0" fill="#D09A2E"/>
<path d="M309.1,319.6a0.45,0.45 0 1,0 0.9,0a0.45,0.45 0 1,0 -0.9,0M319.6,308.5a0.45,0.45 0 1,0 0.9,0a0.45,0.45 0 1,0 -0.9,0M315.9,317.8a0.45,0.45 0 1,0 0.9,0a0.45,0.45 0 1,0 -0.9,0M325.9,311.5a0.45,0.45 0 1,0 0.9,0a0.45,0.45 0 1,0 -0.9,0M313.6,314.0a0.45,0.45 0 1,0 0.9,0a0.45,0.45 0 1,0 -0.9,0M320.3,295.8a0.45,0.45 0 1,0 0.9,0a0.45,0.45 0 1,0 -0.9,0M324.2,307.7a0.45,0.45 0 1,0 0.9,0a0.45,0.45 0 1,0 -0.9,0M327.0,303.4a0.45,0.45 0 1,0 0.9,0a0.45,0.45 0 1,0 -0.9,0M309.5,306.9a0.45,0.45 0 1,0 0.9,0a0.45,0.45 0 1,0 -0.9,0M313.1,321.8a0.45,0.45 0 1,0 0.9,0a0.45,0.45 0 1,0 -0.9,0M319.7,313.6a0.45,0.45 0 1,0 0.9,0a0.45,0.45 0 1,0 -0.9,0M323.0,307.2a0.45,0.45 0 1,0 0.9,0a0.45,0.45 0 1,0 -0.9,0M323.8,298.2a0.45,0.45 0 1,0 0.9,0a0.45,0.45 0 1,0 -0.9,0M324.3,303.1a0.45,0.45 0 1,0 0.9,0a0.45,0.45 0 1,0 -0.9,0M312.8,314.7a0.45,0.45 0 1,0 0.9,0a0.45,0.45 0 1,0 -0.9,0M326.4,302.9a0.45,0.45 0 1,0 0.9,0a0.45,0.45 0 1,0 -0.9,0M327.4,308.8a0.45,0.45 0 1,0 0.9,0a0.45,0.45 0 1,0 -0.9,0M318.4,319.2a0.45,0.45 0 1,0 0.9,0a0.45,0.45 0 1,0 -0.9,0M318.7,311.6a0.45,0.45 0 1,0 0.9,0a0.45,0.45 0 1,0 -0.9,0M322.2,318.4a0.45,0.45 0 1,0 0.9,0a0.45,0.45 0 1,0 -0.9,0M325.9,297.2a0.45,0.45 0 1,0 0.9,0a0.45,0.45 0 1,0 -0.9,0M310.3,317.2a0.45,0.45 0 1,0 0.9,0a0.45,0.45 0 1,0 -0.9,0M323.3,300.9a0.45,0.45 0 1,0 0.9,0a0.45,0.45 0 1,0 -0.9,0M316.1,304.6a0.45,0.45 0 1,0 0.9,0a0.45,0.45 0 1,0 -0.9,0M320.2,314.6a0.45,0.45 0 1,0 0.9,0a0.45,0.45 0 1,0 -0.9,0M326.2,304.5a0.45,0.45 0 1,0 0.9,0a0.45,0.45 0 1,0 -0.9,0M325.2,307.1a0.45,0.45 0 1,0 0.9,0a0.45,0.45 0 1,0 -0.9,0M311.1,321.3a0.45,0.45 0 1,0 0.9,0a0.45,0.45 0 1,0 -0.9,0M319.3,308.0a0.45,0.45 0 1,0 0.9,0a0.45,0.45 0 1,0 -0.9,0M318.8,304.8a0.45,0.45 0 1,0 0.9,0a0.45,0.45 0 1,0 -0.9,0M319.7,320.9a0.45,0.45 0 1,0 0.9,0a0.45,0.45 0 1,0 -0.9,0M321.2,312.8a0.45,0.45 0 1,0 0.9,0a0.45,0.45 0 1,0 -0.9,0M323.8,311.0a0.45,0.45 0 1,0 0.9,0a0.45,0.45 0 1,0 -0.9,0M318.9,314.3a0.45,0.45 0 1,0 0.9,0a0.45,0.45 0 1,0 -0.9,0M312.8,321.9a0.45,0.45 0 1,0 0.9,0a0.45,0.45 0 1,0 -0.9,0M320.5,320.4a0.45,0.45 0 1,0 0.9,0a0.45,0.45 0 1,0 -0.9,0M307.8,316.4a0.45,0.45 0 1,0 0.9,0a0.45,0.45 0 1,0 -0.9,0M323.9,306.7a0.45,0.45 0 1,0 0.9,0a0.45,0.45 0 1,0 -0.9,0M313.4,319.2a0.45,0.45 0 1,0 0.9,0a0.45,0.45 0 1,0 -0.9,0M320.3,318.6a0.45,0.45 0 1,0 0.9,0a0.45,0.45 0 1,0 -0.9,0M318.8,310.0a0.45,0.45 0 1,0 0.9,0a0.45,0.45 0 1,0 -0.9,0M323.0,310.4a0.45,0.45 0 1,0 0.9,0a0.45,0.45 0 1,0 -0.9,0M316.3,301.6a0.45,0.45 0 1,0 0.9,0a0.45,0.45 0 1,0 -0.9,0M315.8,312.2a0.45,0.45 0 1,0 0.9,0a0.45,0.45 0 1,0 -0.9,0M328.5,305.0a0.45,0.45 0 1,0 0.9,0a0.45,0.45 0 1,0 -0.9,0M321.3,309.5a0.45,0.45 0 1,0 0.9,0a0.45,0.45 0 1,0 -0.9,0M314.4,321.0a0.45,0.45 0 1,0 0.9,0a0.45,0.45 0 1,0 -0.9,0M324.8,310.7a0.45,0.45 0 1,0 0.9,0a0.45,0.45 0 1,0 -0.9,0M320.8,297.1a0.45,0.45 0 1,0 0.9,0a0.45,0.45 0 1,0 -0.9,0M312.9,319.7a0.45,0.45 0 1,0 0.9,0a0.45,0.45 0 1,0 -0.9,0M313.6,315.3a0.45,0.45 0 1,0 0.9,0a0.45,0.45 0 1,0 -0.9,0M320.2,314.7a0.45,0.45 0 1,0 0.9,0a0.45,0.45 0 1,0 -0.9,0M324.1,310.7a0.45,0.45 0 1,0 0.9,0a0.45,0.45 0 1,0 -0.9,0M318.9,298.0a0.45,0.45 0 1,0 0.9,0a0.45,0.45 0 1,0 -0.9,0M324.5,308.1a0.45,0.45 0 1,0 0.9,0a0.45,0.45 0 1,0 -0.9,0M312.9,316.2a0.45,0.45 0 1,0 0.9,0a0.45,0.45 0 1,0 -0.9,0M309.5,320.0a0.45,0.45 0 1,0 0.9,0a0.45,0.45 0 1,0 -0.9,0M324.0,305.9a0.45,0.45 0 1,0 0.9,0a0.45,0.45 0 1,0 -0.9,0M310.9,317.0a0.45,0.45 0 1,0 0.9,0a0.45,0.45 0 1,0 -0.9,0M315.2,301.3a0.45,0.45 0 1,0 0.9,0a0.45,0.45 0 1,0 -0.9,0M317.3,311.3a0.45,0.45 0 1,0 0.9,0a0.45,0.45 0 1,0 -0.9,0M316.5,313.2a0.45,0.45 0 1,0 0.9,0a0.45,0.45 0 1,0 -0.9,0M316.7,307.0a0.45,0.45 0 1,0 0.9,0a0.45,0.45 0 1,0 -0.9,0M321.5,317.2a0.45,0.45 0 1,0 0.9,0a0.45,0.45 0 1,0 -0.9,0M310.5,320.8a0.45,0.45 0 1,0 0.9,0a0.45,0.45 0 1,0 -0.9,0M310.4,306.3a0.45,0.45 0 1,0 0.9,0a0.45,0.45 0 1,0 -0.9,0M317.5,319.2a0.45,0.45 0 1,0 0.9,0a0.45,0.45 0 1,0 -0.9,0M320.6,305.6a0.45,0.45 0 1,0 0.9,0a0.45,0.45 0 1,0 -0.9,0M322.3,308.8a0.45,0.45 0 1,0 0.9,0a0.45,0.45 0 1,0 -0.9,0M326.1,295.6a0.45,0.45 0 1,0 0.9,0a0.45,0.45 0 1,0 -0.9,0" fill="#E3892C"/>
<path d="M312.8,299.2a0.45,0.45 0 1,0 0.9,0a0.45,0.45 0 1,0 -0.9,0M315.3,308.7a0.45,0.45 0 1,0 0.9,0a0.45,0.45 0 1,0 -0.9,0M314.6,301.6a0.45,0.45 0 1,0 0.9,0a0.45,0.45 0 1,0 -0.9,0M313.2,301.9a0.45,0.45 0 1,0 0.9,0a0.45,0.45 0 1,0 -0.9,0M312.0,303.3a0.45,0.45 0 1,0 0.9,0a0.45,0.45 0 1,0 -0.9,0M307.7,313.0a0.45,0.45 0 1,0 0.9,0a0.45,0.45 0 1,0 -0.9,0M313.3,295.3a0.45,0.45 0 1,0 0.9,0a0.45,0.45 0 1,0 -0.9,0M314.5,297.0a0.45,0.45 0 1,0 0.9,0a0.45,0.45 0 1,0 -0.9,0M309.5,300.3a0.45,0.45 0 1,0 0.9,0a0.45,0.45 0 1,0 -0.9,0M307.9,305.9a0.45,0.45 0 1,0 0.9,0a0.45,0.45 0 1,0 -0.9,0M309.4,296.3a0.45,0.45 0 1,0 0.9,0a0.45,0.45 0 1,0 -0.9,0M310.8,306.8a0.45,0.45 0 1,0 0.9,0a0.45,0.45 0 1,0 -0.9,0M317.8,302.2a0.45,0.45 0 1,0 0.9,0a0.45,0.45 0 1,0 -0.9,0M305.2,302.0a0.45,0.45 0 1,0 0.9,0a0.45,0.45 0 1,0 -0.9,0M314.0,298.9a0.45,0.45 0 1,0 0.9,0a0.45,0.45 0 1,0 -0.9,0M307.1,307.8a0.45,0.45 0 1,0 0.9,0a0.45,0.45 0 1,0 -0.9,0M310.7,305.8a0.45,0.45 0 1,0 0.9,0a0.45,0.45 0 1,0 -0.9,0M307.7,299.1a0.45,0.45 0 1,0 0.9,0a0.45,0.45 0 1,0 -0.9,0M309.0,303.2a0.45,0.45 0 1,0 0.9,0a0.45,0.45 0 1,0 -0.9,0M309.0,307.2a0.45,0.45 0 1,0 0.9,0a0.45,0.45 0 1,0 -0.9,0M313.7,307.9a0.45,0.45 0 1,0 0.9,0a0.45,0.45 0 1,0 -0.9,0M313.2,298.7a0.45,0.45 0 1,0 0.9,0a0.45,0.45 0 1,0 -0.9,0M305.7,308.8a0.45,0.45 0 1,0 0.9,0a0.45,0.45 0 1,0 -0.9,0M310.9,305.1a0.45,0.45 0 1,0 0.9,0a0.45,0.45 0 1,0 -0.9,0M305.2,303.0a0.45,0.45 0 1,0 0.9,0a0.45,0.45 0 1,0 -0.9,0M307.6,298.9a0.45,0.45 0 1,0 0.9,0a0.45,0.45 0 1,0 -0.9,0M308.1,296.4a0.45,0.45 0 1,0 0.9,0a0.45,0.45 0 1,0 -0.9,0M311.2,311.3a0.45,0.45 0 1,0 0.9,0a0.45,0.45 0 1,0 -0.9,0M307.0,304.9a0.45,0.45 0 1,0 0.9,0a0.45,0.45 0 1,0 -0.9,0M305.7,308.2a0.45,0.45 0 1,0 0.9,0a0.45,0.45 0 1,0 -0.9,0" fill="#EF6C6C"/>
<path d="M328.4,331.5a0.45,0.45 0 1,0 0.9,0a0.45,0.45 0 1,0 -0.9,0M323.7,350.0a0.45,0.45 0 1,0 0.9,0a0.45,0.45 0 1,0 -0.9,0M325.7,340.0a0.45,0.45 0 1,0 0.9,0a0.45,0.45 0 1,0 -0.9,0M319.7,337.9a0.45,0.45 0 1,0 0.9,0a0.45,0.45 0 1,0 -0.9,0M326.7,349.2a0.45,0.45 0 1,0 0.9,0a0.45,0.45 0 1,0 -0.9,0M326.5,333.6a0.45,0.45 0 1,0 0.9,0a0.45,0.45 0 1,0 -0.9,0M322.8,326.8a0.45,0.45 0 1,0 0.9,0a0.45,0.45 0 1,0 -0.9,0M321.5,347.3a0.45,0.45 0 1,0 0.9,0a0.45,0.45 0 1,0 -0.9,0M324.1,328.1a0.45,0.45 0 1,0 0.9,0a0.45,0.45 0 1,0 -0.9,0M327.3,328.5a0.45,0.45 0 1,0 0.9,0a0.45,0.45 0 1,0 -0.9,0M328.0,336.3a0.45,0.45 0 1,0 0.9,0a0.45,0.45 0 1,0 -0.9,0M325.5,345.1a0.45,0.45 0 1,0 0.9,0a0.45,0.45 0 1,0 -0.9,0M325.1,349.2a0.45,0.45 0 1,0 0.9,0a0.45,0.45 0 1,0 -0.9,0M324.4,335.7a0.45,0.45 0 1,0 0.9,0a0.45,0.45 0 1,0 -0.9,0M322.6,328.1a0.45,0.45 0 1,0 0.9,0a0.45,0.45 0 1,0 -0.9,0M322.3,347.1a0.45,0.45 0 1,0 0.9,0a0.45,0.45 0 1,0 -0.9,0M326.6,349.2a0.45,0.45 0 1,0 0.9,0a0.45,0.45 0 1,0 -0.9,0M329.2,342.4a0.45,0.45 0 1,0 0.9,0a0.45,0.45 0 1,0 -0.9,0M325.8,328.5a0.45,0.45 0 1,0 0.9,0a0.45,0.45 0 1,0 -0.9,0M323.9,352.2a0.45,0.45 0 1,0 0.9,0a0.45,0.45 0 1,0 -0.9,0M326.2,337.6a0.45,0.45 0 1,0 0.9,0a0.45,0.45 0 1,0 -0.9,0M325.1,326.2a0.45,0.45 0 1,0 0.9,0a0.45,0.45 0 1,0 -0.9,0M322.1,329.0a0.45,0.45 0 1,0 0.9,0a0.45,0.45 0 1,0 -0.9,0M319.9,343.4a0.45,0.45 0 1,0 0.9,0a0.45,0.45 0 1,0 -0.9,0M327.4,337.3a0.45,0.45 0 1,0 0.9,0a0.45,0.45 0 1,0 -0.9,0M325.5,330.2a0.45,0.45 0 1,0 0.9,0a0.45,0.45 0 1,0 -0.9,0M325.8,345.7a0.45,0.45 0 1,0 0.9,0a0.45,0.45 0 1,0 -0.9,0M327.7,348.4a0.45,0.45 0 1,0 0.9,0a0.45,0.45 0 1,0 -0.9,0M326.1,337.7a0.45,0.45 0 1,0 0.9,0a0.45,0.45 0 1,0 -0.9,0M321.8,333.6a0.45,0.45 0 1,0 0.9,0a0.45,0.45 0 1,0 -0.9,0M326.4,344.0a0.45,0.45 0 1,0 0.9,0a0.45,0.45 0 1,0 -0.9,0M324.4,351.0a0.45,0.45 0 1,0 0.9,0a0.45,0.45 0 1,0 -0.9,0M326.6,339.0a0.45,0.45 0 1,0 0.9,0a0.45,0.45 0 1,0 -0.9,0M323.7,339.6a0.45,0.45 0 1,0 0.9,0a0.45,0.45 0 1,0 -0.9,0M321.7,331.1a0.45,0.45 0 1,0 0.9,0a0.45,0.45 0 1,0 -0.9,0M325.5,333.4a0.45,0.45 0 1,0 0.9,0a0.45,0.45 0 1,0 -0.9,0M323.6,348.9a0.45,0.45 0 1,0 0.9,0a0.45,0.45 0 1,0 -0.9,0M323.8,349.5a0.45,0.45 0 1,0 0.9,0a0.45,0.45 0 1,0 -0.9,0M324.4,350.5a0.45,0.45 0 1,0 0.9,0a0.45,0.45 0 1,0 -0.9,0M325.5,326.7a0.45,0.45 0 1,0 0.9,0a0.45,0.45 0 1,0 -0.9,0M328.0,337.2a0.45,0.45 0 1,0 0.9,0a0.45,0.45 0 1,0 -0.9,0M319.8,339.6a0.45,0.45 0 1,0 0.9,0a0.45,0.45 0 1,0 -0.9,0M324.8,328.4a0.45,0.45 0 1,0 0.9,0a0.45,0.45 0 1,0 -0.9,0M322.4,343.9a0.45,0.45 0 1,0 0.9,0a0.45,0.45 0 1,0 -0.9,0M327.9,346.8a0.45,0.45 0 1,0 0.9,0a0.45,0.45 0 1,0 -0.9,0M327.6,347.1a0.45,0.45 0 1,0 0.9,0a0.45,0.45 0 1,0 -0.9,0M319.7,335.0a0.45,0.45 0 1,0 0.9,0a0.45,0.45 0 1,0 -0.9,0M324.7,325.1a0.45,0.45 0 1,0 0.9,0a0.45,0.45 0 1,0 -0.9,0M326.7,346.4a0.45,0.45 0 1,0 0.9,0a0.45,0.45 0 1,0 -0.9,0M321.9,335.4a0.45,0.45 0 1,0 0.9,0a0.45,0.45 0 1,0 -0.9,0" fill="#D09A2E"/>
<path d="M323.8,300.1a0.45,0.45 0 1,0 0.9,0a0.45,0.45 0 1,0 -0.9,0M326.1,289.7a0.45,0.45 0 1,0 0.9,0a0.45,0.45 0 1,0 -0.9,0M324.4,296.2a0.45,0.45 0 1,0 0.9,0a0.45,0.45 0 1,0 -0.9,0M322.5,303.0a0.45,0.45 0 1,0 0.9,0a0.45,0.45 0 1,0 -0.9,0M325.0,297.0a0.45,0.45 0 1,0 0.9,0a0.45,0.45 0 1,0 -0.9,0M324.3,294.1a0.45,0.45 0 1,0 0.9,0a0.45,0.45 0 1,0 -0.9,0M320.7,305.7a0.45,0.45 0 1,0 0.9,0a0.45,0.45 0 1,0 -0.9,0M324.9,297.9a0.45,0.45 0 1,0 0.9,0a0.45,0.45 0 1,0 -0.9,0M323.8,304.1a0.45,0.45 0 1,0 0.9,0a0.45,0.45 0 1,0 -0.9,0M325.4,292.2a0.45,0.45 0 1,0 0.9,0a0.45,0.45 0 1,0 -0.9,0M325.8,296.6a0.45,0.45 0 1,0 0.9,0a0.45,0.45 0 1,0 -0.9,0M323.6,298.6a0.45,0.45 0 1,0 0.9,0a0.45,0.45 0 1,0 -0.9,0M323.8,299.5a0.45,0.45 0 1,0 0.9,0a0.45,0.45 0 1,0 -0.9,0M322.0,304.3a0.45,0.45 0 1,0 0.9,0a0.45,0.45 0 1,0 -0.9,0M323.1,301.3a0.45,0.45 0 1,0 0.9,0a0.45,0.45 0 1,0 -0.9,0M324.2,296.8a0.45,0.45 0 1,0 0.9,0a0.45,0.45 0 1,0 -0.9,0M322.5,306.6a0.45,0.45 0 1,0 0.9,0a0.45,0.45 0 1,0 -0.9,0M323.4,303.7a0.45,0.45 0 1,0 0.9,0a0.45,0.45 0 1,0 -0.9,0M325.0,297.4a0.45,0.45 0 1,0 0.9,0a0.45,0.45 0 1,0 -0.9,0M322.1,306.6a0.45,0.45 0 1,0 0.9,0a0.45,0.45 0 1,0 -0.9,0M322.0,306.0a0.45,0.45 0 1,0 0.9,0a0.45,0.45 0 1,0 -0.9,0M325.5,290.3a0.45,0.45 0 1,0 0.9,0a0.45,0.45 0 1,0 -0.9,0M324.1,298.6a0.45,0.45 0 1,0 0.9,0a0.45,0.45 0 1,0 -0.9,0M325.1,289.8a0.45,0.45 0 1,0 0.9,0a0.45,0.45 0 1,0 -0.9,0M322.6,303.7a0.45,0.45 0 1,0 0.9,0a0.45,0.45 0 1,0 -0.9,0M324.0,301.9a0.45,0.45 0 1,0 0.9,0a0.45,0.45 0 1,0 -0.9,0M322.4,307.2a0.45,0.45 0 1,0 0.9,0a0.45,0.45 0 1,0 -0.9,0M322.1,305.8a0.45,0.45 0 1,0 0.9,0a0.45,0.45 0 1,0 -0.9,0M324.3,299.1a0.45,0.45 0 1,0 0.9,0a0.45,0.45 0 1,0 -0.9,0M323.3,301.1a0.45,0.45 0 1,0 0.9,0a0.45,0.45 0 1,0 -0.9,0" fill="#58D8C4"/>
<path d="M441.3,215.2a0.5,0.5 0 1,0 1.0,0a0.5,0.5 0 1,0 -1.0,0M442.6,215.0a0.5,0.5 0 1,0 1.0,0a0.5,0.5 0 1,0 -1.0,0M444.9,215.3a0.5,0.5 0 1,0 1.0,0a0.5,0.5 0 1,0 -1.0,0M444.7,205.6a0.5,0.5 0 1,0 1.0,0a0.5,0.5 0 1,0 -1.0,0M443.2,216.8a0.5,0.5 0 1,0 1.0,0a0.5,0.5 0 1,0 -1.0,0M440.2,202.0a0.5,0.5 0 1,0 1.0,0a0.5,0.5 0 1,0 -1.0,0M448.5,210.5a0.5,0.5 0 1,0 1.0,0a0.5,0.5 0 1,0 -1.0,0M439.1,205.9a0.5,0.5 0 1,0 1.0,0a0.5,0.5 0 1,0 -1.0,0M436.4,211.9a0.5,0.5 0 1,0 1.0,0a0.5,0.5 0 1,0 -1.0,0M442.6,205.6a0.5,0.5 0 1,0 1.0,0a0.5,0.5 0 1,0 -1.0,0M440.0,206.7a0.5,0.5 0 1,0 1.0,0a0.5,0.5 0 1,0 -1.0,0M446.6,208.1a0.5,0.5 0 1,0 1.0,0a0.5,0.5 0 1,0 -1.0,0M447.1,205.5a0.5,0.5 0 1,0 1.0,0a0.5,0.5 0 1,0 -1.0,0M439.2,206.5a0.5,0.5 0 1,0 1.0,0a0.5,0.5 0 1,0 -1.0,0M439.4,208.5a0.5,0.5 0 1,0 1.0,0a0.5,0.5 0 1,0 -1.0,0M445.8,214.2a0.5,0.5 0 1,0 1.0,0a0.5,0.5 0 1,0 -1.0,0M438.1,214.4a0.5,0.5 0 1,0 1.0,0a0.5,0.5 0 1,0 -1.0,0M442.3,215.8a0.5,0.5 0 1,0 1.0,0a0.5,0.5 0 1,0 -1.0,0M441.2,204.7a0.5,0.5 0 1,0 1.0,0a0.5,0.5 0 1,0 -1.0,0M445.4,212.2a0.5,0.5 0 1,0 1.0,0a0.5,0.5 0 1,0 -1.0,0M439.8,209.2a0.5,0.5 0 1,0 1.0,0a0.5,0.5 0 1,0 -1.0,0M442.6,210.8a0.5,0.5 0 1,0 1.0,0a0.5,0.5 0 1,0 -1.0,0" fill="#D8A050"/>
<path d="M474.5,320.2a0.5,0.5 0 1,0 1.0,0a0.5,0.5 0 1,0 -1.0,0M477.3,322.8a0.5,0.5 0 1,0 1.0,0a0.5,0.5 0 1,0 -1.0,0M476.3,319.1a0.5,0.5 0 1,0 1.0,0a0.5,0.5 0 1,0 -1.0,0M479.9,321.5a0.5,0.5 0 1,0 1.0,0a0.5,0.5 0 1,0 -1.0,0M475.4,324.8a0.5,0.5 0 1,0 1.0,0a0.5,0.5 0 1,0 -1.0,0M479.3,324.1a0.5,0.5 0 1,0 1.0,0a0.5,0.5 0 1,0 -1.0,0M479.0,323.4a0.5,0.5 0 1,0 1.0,0a0.5,0.5 0 1,0 -1.0,0M475.0,322.2a0.5,0.5 0 1,0 1.0,0a0.5,0.5 0 1,0 -1.0,0" fill="#A8B848"/>
<path d="M503.8,329.6a0.5,0.5 0 1,0 1.0,0a0.5,0.5 0 1,0 -1.0,0M504.2,328.0a0.5,0.5 0 1,0 1.0,0a0.5,0.5 0 1,0 -1.0,0M498.7,328.6a0.5,0.5 0 1,0 1.0,0a0.5,0.5 0 1,0 -1.0,0M500.9,328.1a0.5,0.5 0 1,0 1.0,0a0.5,0.5 0 1,0 -1.0,0M495.6,328.1a0.5,0.5 0 1,0 1.0,0a0.5,0.5 0 1,0 -1.0,0M503.6,328.9a0.5,0.5 0 1,0 1.0,0a0.5,0.5 0 1,0 -1.0,0M504.1,327.6a0.5,0.5 0 1,0 1.0,0a0.5,0.5 0 1,0 -1.0,0" fill="#A8B848"/>
<path d="M489.9,279.9a0.5,0.5 0 1,0 1.0,0a0.5,0.5 0 1,0 -1.0,0M524.5,328.3a0.5,0.5 0 1,0 1.0,0a0.5,0.5 0 1,0 -1.0,0M525.8,331.0a0.5,0.5 0 1,0 1.0,0a0.5,0.5 0 1,0 -1.0,0" fill="#C8A860"/>
<path d="M384.5,433.4a0.5,0.5 0 1,0 1.0,0a0.5,0.5 0 1,0 -1.0,0M386.4,435.0a0.5,0.5 0 1,0 1.0,0a0.5,0.5 0 1,0 -1.0,0M388.2,436.6a0.5,0.5 0 1,0 1.0,0a0.5,0.5 0 1,0 -1.0,0M399.7,436.9a0.5,0.5 0 1,0 1.0,0a0.5,0.5 0 1,0 -1.0,0" fill="#60C890"/>
<path d="M330.0,476.7a0.45,0.45 0 1,0 0.9,0a0.45,0.45 0 1,0 -0.9,0M328.0,473.7a0.45,0.45 0 1,0 0.9,0a0.45,0.45 0 1,0 -0.9,0M328.2,476.7a0.45,0.45 0 1,0 0.9,0a0.45,0.45 0 1,0 -0.9,0M331.0,473.9a0.45,0.45 0 1,0 0.9,0a0.45,0.45 0 1,0 -0.9,0M331.3,474.9a0.45,0.45 0 1,0 0.9,0a0.45,0.45 0 1,0 -0.9,0M332.6,477.0a0.45,0.45 0 1,0 0.9,0a0.45,0.45 0 1,0 -0.9,0M332.9,475.7a0.45,0.45 0 1,0 0.9,0a0.45,0.45 0 1,0 -0.9,0M332.5,476.5a0.45,0.45 0 1,0 0.9,0a0.45,0.45 0 1,0 -0.9,0" fill="#80C0F0"/>
<path d="M334.6,467.4a0.45,0.45 0 1,0 0.9,0a0.45,0.45 0 1,0 -0.9,0M338.9,468.3a0.45,0.45 0 1,0 0.9,0a0.45,0.45 0 1,0 -0.9,0" fill="#F072E8"/>
<path d="M444.4,490.5a0.45,0.45 0 1,0 0.9,0a0.45,0.45 0 1,0 -0.9,0M461.2,469.3a0.45,0.45 0 1,0 0.9,0a0.45,0.45 0 1,0 -0.9,0M456.7,475.4a0.45,0.45 0 1,0 0.9,0a0.45,0.45 0 1,0 -0.9,0M461.2,467.8a0.45,0.45 0 1,0 0.9,0a0.45,0.45 0 1,0 -0.9,0M448.1,485.7a0.45,0.45 0 1,0 0.9,0a0.45,0.45 0 1,0 -0.9,0M452.9,477.2a0.45,0.45 0 1,0 0.9,0a0.45,0.45 0 1,0 -0.9,0M448.5,485.4a0.45,0.45 0 1,0 0.9,0a0.45,0.45 0 1,0 -0.9,0M441.7,492.9a0.45,0.45 0 1,0 0.9,0a0.45,0.45 0 1,0 -0.9,0M448.6,483.9a0.45,0.45 0 1,0 0.9,0a0.45,0.45 0 1,0 -0.9,0M460.7,469.9a0.45,0.45 0 1,0 0.9,0a0.45,0.45 0 1,0 -0.9,0M458.6,472.7a0.45,0.45 0 1,0 0.9,0a0.45,0.45 0 1,0 -0.9,0M447.9,484.8a0.45,0.45 0 1,0 0.9,0a0.45,0.45 0 1,0 -0.9,0M446.8,486.9a0.45,0.45 0 1,0 0.9,0a0.45,0.45 0 1,0 -0.9,0M442.1,495.4a0.45,0.45 0 1,0 0.9,0a0.45,0.45 0 1,0 -0.9,0M444.0,490.8a0.45,0.45 0 1,0 0.9,0a0.45,0.45 0 1,0 -0.9,0M460.7,469.6a0.45,0.45 0 1,0 0.9,0a0.45,0.45 0 1,0 -0.9,0" fill="#A0B070"/>
<path d="M437.2,502.3a0.45,0.45 0 1,0 0.9,0a0.45,0.45 0 1,0 -0.9,0M442.0,499.6a0.45,0.45 0 1,0 0.9,0a0.45,0.45 0 1,0 -0.9,0M438.4,499.3a0.45,0.45 0 1,0 0.9,0a0.45,0.45 0 1,0 -0.9,0M437.2,501.2a0.45,0.45 0 1,0 0.9,0a0.45,0.45 0 1,0 -0.9,0M440.0,498.1a0.45,0.45 0 1,0 0.9,0a0.45,0.45 0 1,0 -0.9,0M438.5,498.4a0.45,0.45 0 1,0 0.9,0a0.45,0.45 0 1,0 -0.9,0M439.9,497.3a0.45,0.45 0 1,0 0.9,0a0.45,0.45 0 1,0 -0.9,0M441.7,499.3a0.45,0.45 0 1,0 0.9,0a0.45,0.45 0 1,0 -0.9,0M439.3,495.9a0.45,0.45 0 1,0 0.9,0a0.45,0.45 0 1,0 -0.9,0M441.7,501.9a0.45,0.45 0 1,0 0.9,0a0.45,0.45 0 1,0 -0.9,0M440.7,494.3a0.45,0.45 0 1,0 0.9,0a0.45,0.45 0 1,0 -0.9,0M438.8,501.7a0.45,0.45 0 1,0 0.9,0a0.45,0.45 0 1,0 -0.9,0M439.6,502.4a0.45,0.45 0 1,0 0.9,0a0.45,0.45 0 1,0 -0.9,0M438.6,501.2a0.45,0.45 0 1,0 0.9,0a0.45,0.45 0 1,0 -0.9,0M440.3,493.9a0.45,0.45 0 1,0 0.9,0a0.45,0.45 0 1,0 -0.9,0M438.6,497.8a0.45,0.45 0 1,0 0.9,0a0.45,0.45 0 1,0 -0.9,0M438.2,495.9a0.45,0.45 0 1,0 0.9,0a0.45,0.45 0 1,0 -0.9,0M442.5,498.3a0.45,0.45 0 1,0 0.9,0a0.45,0.45 0 1,0 -0.9,0" fill="#A595FA"/>
<path d="M365.9,304.8a0.4,0.4 0 1,0 0.8,0a0.4,0.4 0 1,0 -0.8,0M350.4,310.1a0.4,0.4 0 1,0 0.8,0a0.4,0.4 0 1,0 -0.8,0M364.2,306.3a0.4,0.4 0 1,0 0.8,0a0.4,0.4 0 1,0 -0.8,0M365.9,311.0a0.4,0.4 0 1,0 0.8,0a0.4,0.4 0 1,0 -0.8,0M357.8,309.7a0.4,0.4 0 1,0 0.8,0a0.4,0.4 0 1,0 -0.8,0M357.0,313.2a0.4,0.4 0 1,0 0.8,0a0.4,0.4 0 1,0 -0.8,0M372.0,308.6a0.4,0.4 0 1,0 0.8,0a0.4,0.4 0 1,0 -0.8,0M357.3,307.7a0.4,0.4 0 1,0 0.8,0a0.4,0.4 0 1,0 -0.8,0M359.9,312.4a0.4,0.4 0 1,0 0.8,0a0.4,0.4 0 1,0 -0.8,0M357.5,313.8a0.4,0.4 0 1,0 0.8,0a0.4,0.4 0 1,0 -0.8,0M352.9,310.7a0.4,0.4 0 1,0 0.8,0a0.4,0.4 0 1,0 -0.8,0M368.9,311.8a0.4,0.4 0 1,0 0.8,0a0.4,0.4 0 1,0 -0.8,0M358.9,312.3a0.4,0.4 0 1,0 0.8,0a0.4,0.4 0 1,0 -0.8,0M372.5,309.4a0.4,0.4 0 1,0 0.8,0a0.4,0.4 0 1,0 -0.8,0M350.4,311.8a0.4,0.4 0 1,0 0.8,0a0.4,0.4 0 1,0 -0.8,0M371.6,305.2a0.4,0.4 0 1,0 0.8,0a0.4,0.4 0 1,0 -0.8,0M365.3,304.1a0.4,0.4 0 1,0 0.8,0a0.4,0.4 0 1,0 -0.8,0M370.5,305.5a0.4,0.4 0 1,0 0.8,0a0.4,0.4 0 1,0 -0.8,0M367.7,310.9a0.4,0.4 0 1,0 0.8,0a0.4,0.4 0 1,0 -0.8,0M350.6,308.8a0.4,0.4 0 1,0 0.8,0a0.4,0.4 0 1,0 -0.8,0M362.9,304.8a0.4,0.4 0 1,0 0.8,0a0.4,0.4 0 1,0 -0.8,0M360.8,306.3a0.4,0.4 0 1,0 0.8,0a0.4,0.4 0 1,0 -0.8,0M370.1,306.3a0.4,0.4 0 1,0 0.8,0a0.4,0.4 0 1,0 -0.8,0M355.3,312.3a0.4,0.4 0 1,0 0.8,0a0.4,0.4 0 1,0 -0.8,0M370.0,307.3a0.4,0.4 0 1,0 0.8,0a0.4,0.4 0 1,0 -0.8,0M364.0,310.5a0.4,0.4 0 1,0 0.8,0a0.4,0.4 0 1,0 -0.8,0M357.5,306.4a0.4,0.4 0 1,0 0.8,0a0.4,0.4 0 1,0 -0.8,0M365.5,307.3a0.4,0.4 0 1,0 0.8,0a0.4,0.4 0 1,0 -0.8,0M353.4,312.9a0.4,0.4 0 1,0 0.8,0a0.4,0.4 0 1,0 -0.8,0M365.1,309.1a0.4,0.4 0 1,0 0.8,0a0.4,0.4 0 1,0 -0.8,0M355.5,309.5a0.4,0.4 0 1,0 0.8,0a0.4,0.4 0 1,0 -0.8,0M366.5,309.9a0.4,0.4 0 1,0 0.8,0a0.4,0.4 0 1,0 -0.8,0M355.3,307.6a0.4,0.4 0 1,0 0.8,0a0.4,0.4 0 1,0 -0.8,0M364.4,309.3a0.4,0.4 0 1,0 0.8,0a0.4,0.4 0 1,0 -0.8,0M366.5,305.0a0.4,0.4 0 1,0 0.8,0a0.4,0.4 0 1,0 -0.8,0M367.3,312.4a0.4,0.4 0 1,0 0.8,0a0.4,0.4 0 1,0 -0.8,0M368.7,308.4a0.4,0.4 0 1,0 0.8,0a0.4,0.4 0 1,0 -0.8,0M366.6,304.8a0.4,0.4 0 1,0 0.8,0a0.4,0.4 0 1,0 -0.8,0M360.0,314.2a0.4,0.4 0 1,0 0.8,0a0.4,0.4 0 1,0 -0.8,0M352.1,308.1a0.4,0.4 0 1,0 0.8,0a0.4,0.4 0 1,0 -0.8,0M367.2,306.1a0.4,0.4 0 1,0 0.8,0a0.4,0.4 0 1,0 -0.8,0M357.0,306.7a0.4,0.4 0 1,0 0.8,0a0.4,0.4 0 1,0 -0.8,0M371.2,306.0a0.4,0.4 0 1,0 0.8,0a0.4,0.4 0 1,0 -0.8,0M359.1,305.1a0.4,0.4 0 1,0 0.8,0a0.4,0.4 0 1,0 -0.8,0M367.5,308.1a0.4,0.4 0 1,0 0.8,0a0.4,0.4 0 1,0 -0.8,0M365.3,312.7a0.4,0.4 0 1,0 0.8,0a0.4,0.4 0 1,0 -0.8,0M362.0,305.5a0.4,0.4 0 1,0 0.8,0a0.4,0.4 0 1,0 -0.8,0M354.1,310.8a0.4,0.4 0 1,0 0.8,0a0.4,0.4 0 1,0 -0.8,0M368.8,304.9a0.4,0.4 0 1,0 0.8,0a0.4,0.4 0 1,0 -0.8,0M359.4,309.1a0.4,0.4 0 1,0 0.8,0a0.4,0.4 0 1,0 -0.8,0M365.8,305.7a0.4,0.4 0 1,0 0.8,0a0.4,0.4 0 1,0 -0.8,0M364.3,311.3a0.4,0.4 0 1,0 0.8,0a0.4,0.4 0 1,0 -0.8,0M361.1,308.9a0.4,0.4 0 1,0 0.8,0a0.4,0.4 0 1,0 -0.8,0M366.6,310.2a0.4,0.4 0 1,0 0.8,0a0.4,0.4 0 1,0 -0.8,0M368.8,305.1a0.4,0.4 0 1,0 0.8,0a0.4,0.4 0 1,0 -0.8,0M370.0,307.0a0.4,0.4 0 1,0 0.8,0a0.4,0.4 0 1,0 -0.8,0M353.3,309.0a0.4,0.4 0 1,0 0.8,0a0.4,0.4 0 1,0 -0.8,0M352.8,310.1a0.4,0.4 0 1,0 0.8,0a0.4,0.4 0 1,0 -0.8,0M365.6,304.0a0.4,0.4 0 1,0 0.8,0a0.4,0.4 0 1,0 -0.8,0M354.0,312.7a0.4,0.4 0 1,0 0.8,0a0.4,0.4 0 1,0 -0.8,0" fill="#fff"/>
<path d="M288.9,403.5a0.4,0.4 0 1,0 0.8,0a0.4,0.4 0 1,0 -0.8,0M279.4,392.4a0.4,0.4 0 1,0 0.8,0a0.4,0.4 0 1,0 -0.8,0M275.6,386.5a0.4,0.4 0 1,0 0.8,0a0.4,0.4 0 1,0 -0.8,0M295.5,405.5a0.4,0.4 0 1,0 0.8,0a0.4,0.4 0 1,0 -0.8,0M293.1,387.5a0.4,0.4 0 1,0 0.8,0a0.4,0.4 0 1,0 -0.8,0M279.3,386.8a0.4,0.4 0 1,0 0.8,0a0.4,0.4 0 1,0 -0.8,0M284.2,406.3a0.4,0.4 0 1,0 0.8,0a0.4,0.4 0 1,0 -0.8,0M287.3,377.0a0.4,0.4 0 1,0 0.8,0a0.4,0.4 0 1,0 -0.8,0M287.8,375.0a0.4,0.4 0 1,0 0.8,0a0.4,0.4 0 1,0 -0.8,0M284.7,377.7a0.4,0.4 0 1,0 0.8,0a0.4,0.4 0 1,0 -0.8,0M280.5,398.1a0.4,0.4 0 1,0 0.8,0a0.4,0.4 0 1,0 -0.8,0M286.3,407.2a0.4,0.4 0 1,0 0.8,0a0.4,0.4 0 1,0 -0.8,0M281.8,394.1a0.4,0.4 0 1,0 0.8,0a0.4,0.4 0 1,0 -0.8,0M284.1,394.0a0.4,0.4 0 1,0 0.8,0a0.4,0.4 0 1,0 -0.8,0M287.2,404.0a0.4,0.4 0 1,0 0.8,0a0.4,0.4 0 1,0 -0.8,0M290.0,390.6a0.4,0.4 0 1,0 0.8,0a0.4,0.4 0 1,0 -0.8,0M293.5,412.7a0.4,0.4 0 1,0 0.8,0a0.4,0.4 0 1,0 -0.8,0M279.8,385.5a0.4,0.4 0 1,0 0.8,0a0.4,0.4 0 1,0 -0.8,0M290.3,389.1a0.4,0.4 0 1,0 0.8,0a0.4,0.4 0 1,0 -0.8,0M278.2,391.7a0.4,0.4 0 1,0 0.8,0a0.4,0.4 0 1,0 -0.8,0M278.9,377.1a0.4,0.4 0 1,0 0.8,0a0.4,0.4 0 1,0 -0.8,0M281.2,374.3a0.4,0.4 0 1,0 0.8,0a0.4,0.4 0 1,0 -0.8,0M279.0,375.2a0.4,0.4 0 1,0 0.8,0a0.4,0.4 0 1,0 -0.8,0M291.9,384.7a0.4,0.4 0 1,0 0.8,0a0.4,0.4 0 1,0 -0.8,0M290.3,394.4a0.4,0.4 0 1,0 0.8,0a0.4,0.4 0 1,0 -0.8,0M289.2,387.0a0.4,0.4 0 1,0 0.8,0a0.4,0.4 0 1,0 -0.8,0M291.0,391.2a0.4,0.4 0 1,0 0.8,0a0.4,0.4 0 1,0 -0.8,0M279.0,396.7a0.4,0.4 0 1,0 0.8,0a0.4,0.4 0 1,0 -0.8,0M284.6,404.7a0.4,0.4 0 1,0 0.8,0a0.4,0.4 0 1,0 -0.8,0M285.2,384.3a0.4,0.4 0 1,0 0.8,0a0.4,0.4 0 1,0 -0.8,0M274.2,378.0a0.4,0.4 0 1,0 0.8,0a0.4,0.4 0 1,0 -0.8,0M278.3,387.7a0.4,0.4 0 1,0 0.8,0a0.4,0.4 0 1,0 -0.8,0M288.2,411.3a0.4,0.4 0 1,0 0.8,0a0.4,0.4 0 1,0 -0.8,0M288.3,388.4a0.4,0.4 0 1,0 0.8,0a0.4,0.4 0 1,0 -0.8,0M279.1,387.7a0.4,0.4 0 1,0 0.8,0a0.4,0.4 0 1,0 -0.8,0M282.1,384.2a0.4,0.4 0 1,0 0.8,0a0.4,0.4 0 1,0 -0.8,0M290.2,403.3a0.4,0.4 0 1,0 0.8,0a0.4,0.4 0 1,0 -0.8,0M279.6,396.2a0.4,0.4 0 1,0 0.8,0a0.4,0.4 0 1,0 -0.8,0M284.9,372.8a0.4,0.4 0 1,0 0.8,0a0.4,0.4 0 1,0 -0.8,0M282.7,385.0a0.4,0.4 0 1,0 0.8,0a0.4,0.4 0 1,0 -0.8,0M285.3,405.0a0.4,0.4 0 1,0 0.8,0a0.4,0.4 0 1,0 -0.8,0M290.3,407.5a0.4,0.4 0 1,0 0.8,0a0.4,0.4 0 1,0 -0.8,0M286.9,385.4a0.4,0.4 0 1,0 0.8,0a0.4,0.4 0 1,0 -0.8,0M285.6,384.1a0.4,0.4 0 1,0 0.8,0a0.4,0.4 0 1,0 -0.8,0M285.4,407.6a0.4,0.4 0 1,0 0.8,0a0.4,0.4 0 1,0 -0.8,0M293.8,406.3a0.4,0.4 0 1,0 0.8,0a0.4,0.4 0 1,0 -0.8,0M283.2,404.4a0.4,0.4 0 1,0 0.8,0a0.4,0.4 0 1,0 -0.8,0M290.4,388.5a0.4,0.4 0 1,0 0.8,0a0.4,0.4 0 1,0 -0.8,0M278.5,394.7a0.4,0.4 0 1,0 0.8,0a0.4,0.4 0 1,0 -0.8,0M281.3,389.1a0.4,0.4 0 1,0 0.8,0a0.4,0.4 0 1,0 -0.8,0M281.5,377.1a0.4,0.4 0 1,0 0.8,0a0.4,0.4 0 1,0 -0.8,0M285.4,391.3a0.4,0.4 0 1,0 0.8,0a0.4,0.4 0 1,0 -0.8,0M292.5,387.0a0.4,0.4 0 1,0 0.8,0a0.4,0.4 0 1,0 -0.8,0M289.8,377.7a0.4,0.4 0 1,0 0.8,0a0.4,0.4 0 1,0 -0.8,0M291.7,408.2a0.4,0.4 0 1,0 0.8,0a0.4,0.4 0 1,0 -0.8,0M282.0,400.8a0.4,0.4 0 1,0 0.8,0a0.4,0.4 0 1,0 -0.8,0M284.9,380.6a0.4,0.4 0 1,0 0.8,0a0.4,0.4 0 1,0 -0.8,0M292.1,410.7a0.4,0.4 0 1,0 0.8,0a0.4,0.4 0 1,0 -0.8,0M285.1,396.2a0.4,0.4 0 1,0 0.8,0a0.4,0.4 0 1,0 -0.8,0M294.3,406.6a0.4,0.4 0 1,0 0.8,0a0.4,0.4 0 1,0 -0.8,0M274.5,379.9a0.4,0.4 0 1,0 0.8,0a0.4,0.4 0 1,0 -0.8,0M278.3,389.4a0.4,0.4 0 1,0 0.8,0a0.4,0.4 0 1,0 -0.8,0M293.8,401.8a0.4,0.4 0 1,0 0.8,0a0.4,0.4 0 1,0 -0.8,0M291.8,410.5a0.4,0.4 0 1,0 0.8,0a0.4,0.4 0 1,0 -0.8,0M289.6,401.8a0.4,0.4 0 1,0 0.8,0a0.4,0.4 0 1,0 -0.8,0M286.5,404.1a0.4,0.4 0 1,0 0.8,0a0.4,0.4 0 1,0 -0.8,0M288.3,407.6a0.4,0.4 0 1,0 0.8,0a0.4,0.4 0 1,0 -0.8,0M296.7,409.6a0.4,0.4 0 1,0 0.8,0a0.4,0.4 0 1,0 -0.8,0M278.1,375.4a0.4,0.4 0 1,0 0.8,0a0.4,0.4 0 1,0 -0.8,0M292.4,393.9a0.4,0.4 0 1,0 0.8,0a0.4,0.4 0 1,0 -0.8,0M277.2,374.1a0.4,0.4 0 1,0 0.8,0a0.4,0.4 0 1,0 -0.8,0M281.7,369.2a0.4,0.4 0 1,0 0.8,0a0.4,0.4 0 1,0 -0.8,0M289.3,406.8a0.4,0.4 0 1,0 0.8,0a0.4,0.4 0 1,0 -0.8,0M287.3,398.7a0.4,0.4 0 1,0 0.8,0a0.4,0.4 0 1,0 -0.8,0M292.2,399.0a0.4,0.4 0 1,0 0.8,0a0.4,0.4 0 1,0 -0.8,0M294.7,397.9a0.4,0.4 0 1,0 0.8,0a0.4,0.4 0 1,0 -0.8,0M278.1,374.6a0.4,0.4 0 1,0 0.8,0a0.4,0.4 0 1,0 -0.8,0M280.8,381.1a0.4,0.4 0 1,0 0.8,0a0.4,0.4 0 1,0 -0.8,0M294.2,406.9a0.4,0.4 0 1,0 0.8,0a0.4,0.4 0 1,0 -0.8,0M286.5,379.1a0.4,0.4 0 1,0 0.8,0a0.4,0.4 0 1,0 -0.8,0M287.3,390.4a0.4,0.4 0 1,0 0.8,0a0.4,0.4 0 1,0 -0.8,0M290.2,408.9a0.4,0.4 0 1,0 0.8,0a0.4,0.4 0 1,0 -0.8,0M291.6,395.2a0.4,0.4 0 1,0 0.8,0a0.4,0.4 0 1,0 -0.8,0M274.9,370.9a0.4,0.4 0 1,0 0.8,0a0.4,0.4 0 1,0 -0.8,0M288.1,407.4a0.4,0.4 0 1,0 0.8,0a0.4,0.4 0 1,0 -0.8,0M284.7,390.8a0.4,0.4 0 1,0 0.8,0a0.4,0.4 0 1,0 -0.8,0M287.4,399.0a0.4,0.4 0 1,0 0.8,0a0.4,0.4 0 1,0 -0.8,0M293.6,411.4a0.4,0.4 0 1,0 0.8,0a0.4,0.4 0 1,0 -0.8,0M283.8,386.7a0.4,0.4 0 1,0 0.8,0a0.4,0.4 0 1,0 -0.8,0M295.9,397.8a0.4,0.4 0 1,0 0.8,0a0.4,0.4 0 1,0 -0.8,0M292.8,397.4a0.4,0.4 0 1,0 0.8,0a0.4,0.4 0 1,0 -0.8,0M287.8,396.1a0.4,0.4 0 1,0 0.8,0a0.4,0.4 0 1,0 -0.8,0M289.8,391.4a0.4,0.4 0 1,0 0.8,0a0.4,0.4 0 1,0 -0.8,0M284.4,406.6a0.4,0.4 0 1,0 0.8,0a0.4,0.4 0 1,0 -0.8,0M280.2,382.9a0.4,0.4 0 1,0 0.8,0a0.4,0.4 0 1,0 -0.8,0M280.2,380.4a0.4,0.4 0 1,0 0.8,0a0.4,0.4 0 1,0 -0.8,0M280.9,391.3a0.4,0.4 0 1,0 0.8,0a0.4,0.4 0 1,0 -0.8,0M289.3,384.6a0.4,0.4 0 1,0 0.8,0a0.4,0.4 0 1,0 -0.8,0M281.9,372.2a0.4,0.4 0 1,0 0.8,0a0.4,0.4 0 1,0 -0.8,0M284.2,374.2a0.4,0.4 0 1,0 0.8,0a0.4,0.4 0 1,0 -0.8,0M285.9,378.6a0.4,0.4 0 1,0 0.8,0a0.4,0.4 0 1,0 -0.8,0M277.2,375.1a0.4,0.4 0 1,0 0.8,0a0.4,0.4 0 1,0 -0.8,0M278.7,390.0a0.4,0.4 0 1,0 0.8,0a0.4,0.4 0 1,0 -0.8,0M279.7,389.4a0.4,0.4 0 1,0 0.8,0a0.4,0.4 0 1,0 -0.8,0M287.5,377.7a0.4,0.4 0 1,0 0.8,0a0.4,0.4 0 1,0 -0.8,0M283.6,389.8a0.4,0.4 0 1,0 0.8,0a0.4,0.4 0 1,0 -0.8,0M282.4,391.5a0.4,0.4 0 1,0 0.8,0a0.4,0.4 0 1,0 -0.8,0M292.8,405.5a0.4,0.4 0 1,0 0.8,0a0.4,0.4 0 1,0 -0.8,0M280.8,388.9a0.4,0.4 0 1,0 0.8,0a0.4,0.4 0 1,0 -0.8,0M291.5,408.0a0.4,0.4 0 1,0 0.8,0a0.4,0.4 0 1,0 -0.8,0M281.7,395.2a0.4,0.4 0 1,0 0.8,0a0.4,0.4 0 1,0 -0.8,0M293.4,398.0a0.4,0.4 0 1,0 0.8,0a0.4,0.4 0 1,0 -0.8,0M277.4,377.8a0.4,0.4 0 1,0 0.8,0a0.4,0.4 0 1,0 -0.8,0M276.5,387.5a0.4,0.4 0 1,0 0.8,0a0.4,0.4 0 1,0 -0.8,0M278.0,372.1a0.4,0.4 0 1,0 0.8,0a0.4,0.4 0 1,0 -0.8,0M291.6,391.6a0.4,0.4 0 1,0 0.8,0a0.4,0.4 0 1,0 -0.8,0M281.7,382.8a0.4,0.4 0 1,0 0.8,0a0.4,0.4 0 1,0 -0.8,0M287.2,385.2a0.4,0.4 0 1,0 0.8,0a0.4,0.4 0 1,0 -0.8,0M286.2,382.2a0.4,0.4 0 1,0 0.8,0a0.4,0.4 0 1,0 -0.8,0M283.7,371.1a0.4,0.4 0 1,0 0.8,0a0.4,0.4 0 1,0 -0.8,0" fill="#fff"/>
<path d="M325.2,401.3a0.4,0.4 0 1,0 0.8,0a0.4,0.4 0 1,0 -0.8,0M331.1,400.8a0.4,0.4 0 1,0 0.8,0a0.4,0.4 0 1,0 -0.8,0M325.2,395.5a0.4,0.4 0 1,0 0.8,0a0.4,0.4 0 1,0 -0.8,0M331.6,396.7a0.4,0.4 0 1,0 0.8,0a0.4,0.4 0 1,0 -0.8,0M327.5,401.3a0.4,0.4 0 1,0 0.8,0a0.4,0.4 0 1,0 -0.8,0M329.6,376.5a0.4,0.4 0 1,0 0.8,0a0.4,0.4 0 1,0 -0.8,0M334.0,389.1a0.4,0.4 0 1,0 0.8,0a0.4,0.4 0 1,0 -0.8,0M332.4,382.1a0.4,0.4 0 1,0 0.8,0a0.4,0.4 0 1,0 -0.8,0M324.9,396.6a0.4,0.4 0 1,0 0.8,0a0.4,0.4 0 1,0 -0.8,0M331.2,381.0a0.4,0.4 0 1,0 0.8,0a0.4,0.4 0 1,0 -0.8,0M329.0,376.1a0.4,0.4 0 1,0 0.8,0a0.4,0.4 0 1,0 -0.8,0M323.0,395.6a0.4,0.4 0 1,0 0.8,0a0.4,0.4 0 1,0 -0.8,0M324.2,395.1a0.4,0.4 0 1,0 0.8,0a0.4,0.4 0 1,0 -0.8,0M332.0,391.9a0.4,0.4 0 1,0 0.8,0a0.4,0.4 0 1,0 -0.8,0M333.0,391.4a0.4,0.4 0 1,0 0.8,0a0.4,0.4 0 1,0 -0.8,0M329.4,388.3a0.4,0.4 0 1,0 0.8,0a0.4,0.4 0 1,0 -0.8,0M329.9,392.2a0.4,0.4 0 1,0 0.8,0a0.4,0.4 0 1,0 -0.8,0M324.6,387.8a0.4,0.4 0 1,0 0.8,0a0.4,0.4 0 1,0 -0.8,0M327.4,404.0a0.4,0.4 0 1,0 0.8,0a0.4,0.4 0 1,0 -0.8,0M332.2,381.3a0.4,0.4 0 1,0 0.8,0a0.4,0.4 0 1,0 -0.8,0M329.9,374.6a0.4,0.4 0 1,0 0.8,0a0.4,0.4 0 1,0 -0.8,0M328.3,402.7a0.4,0.4 0 1,0 0.8,0a0.4,0.4 0 1,0 -0.8,0M328.4,400.3a0.4,0.4 0 1,0 0.8,0a0.4,0.4 0 1,0 -0.8,0M326.6,393.3a0.4,0.4 0 1,0 0.8,0a0.4,0.4 0 1,0 -0.8,0M329.1,373.2a0.4,0.4 0 1,0 0.8,0a0.4,0.4 0 1,0 -0.8,0M325.9,402.1a0.4,0.4 0 1,0 0.8,0a0.4,0.4 0 1,0 -0.8,0M325.4,399.0a0.4,0.4 0 1,0 0.8,0a0.4,0.4 0 1,0 -0.8,0M333.4,387.9a0.4,0.4 0 1,0 0.8,0a0.4,0.4 0 1,0 -0.8,0M331.9,391.9a0.4,0.4 0 1,0 0.8,0a0.4,0.4 0 1,0 -0.8,0M325.8,394.4a0.4,0.4 0 1,0 0.8,0a0.4,0.4 0 1,0 -0.8,0M329.7,378.6a0.4,0.4 0 1,0 0.8,0a0.4,0.4 0 1,0 -0.8,0M326.6,376.2a0.4,0.4 0 1,0 0.8,0a0.4,0.4 0 1,0 -0.8,0M326.7,387.9a0.4,0.4 0 1,0 0.8,0a0.4,0.4 0 1,0 -0.8,0M325.5,374.9a0.4,0.4 0 1,0 0.8,0a0.4,0.4 0 1,0 -0.8,0M330.4,399.6a0.4,0.4 0 1,0 0.8,0a0.4,0.4 0 1,0 -0.8,0M324.6,389.1a0.4,0.4 0 1,0 0.8,0a0.4,0.4 0 1,0 -0.8,0M326.7,373.0a0.4,0.4 0 1,0 0.8,0a0.4,0.4 0 1,0 -0.8,0M333.8,390.4a0.4,0.4 0 1,0 0.8,0a0.4,0.4 0 1,0 -0.8,0M324.1,398.1a0.4,0.4 0 1,0 0.8,0a0.4,0.4 0 1,0 -0.8,0M330.5,400.4a0.4,0.4 0 1,0 0.8,0a0.4,0.4 0 1,0 -0.8,0M331.0,393.7a0.4,0.4 0 1,0 0.8,0a0.4,0.4 0 1,0 -0.8,0M332.9,385.9a0.4,0.4 0 1,0 0.8,0a0.4,0.4 0 1,0 -0.8,0M329.0,377.7a0.4,0.4 0 1,0 0.8,0a0.4,0.4 0 1,0 -0.8,0M324.0,390.3a0.4,0.4 0 1,0 0.8,0a0.4,0.4 0 1,0 -0.8,0M328.9,374.9a0.4,0.4 0 1,0 0.8,0a0.4,0.4 0 1,0 -0.8,0M329.5,398.3a0.4,0.4 0 1,0 0.8,0a0.4,0.4 0 1,0 -0.8,0M323.8,385.2a0.4,0.4 0 1,0 0.8,0a0.4,0.4 0 1,0 -0.8,0M333.1,381.8a0.4,0.4 0 1,0 0.8,0a0.4,0.4 0 1,0 -0.8,0M330.3,396.2a0.4,0.4 0 1,0 0.8,0a0.4,0.4 0 1,0 -0.8,0M328.9,390.0a0.4,0.4 0 1,0 0.8,0a0.4,0.4 0 1,0 -0.8,0M330.4,391.4a0.4,0.4 0 1,0 0.8,0a0.4,0.4 0 1,0 -0.8,0M328.6,375.3a0.4,0.4 0 1,0 0.8,0a0.4,0.4 0 1,0 -0.8,0M329.1,380.1a0.4,0.4 0 1,0 0.8,0a0.4,0.4 0 1,0 -0.8,0M331.4,401.4a0.4,0.4 0 1,0 0.8,0a0.4,0.4 0 1,0 -0.8,0M330.8,374.5a0.4,0.4 0 1,0 0.8,0a0.4,0.4 0 1,0 -0.8,0M331.9,389.5a0.4,0.4 0 1,0 0.8,0a0.4,0.4 0 1,0 -0.8,0M324.7,378.1a0.4,0.4 0 1,0 0.8,0a0.4,0.4 0 1,0 -0.8,0M331.9,382.2a0.4,0.4 0 1,0 0.8,0a0.4,0.4 0 1,0 -0.8,0M327.8,389.1a0.4,0.4 0 1,0 0.8,0a0.4,0.4 0 1,0 -0.8,0M330.1,373.4a0.4,0.4 0 1,0 0.8,0a0.4,0.4 0 1,0 -0.8,0" fill="#fff"/>
<path d="M283.3,361.4a0.4,0.4 0 1,0 0.8,0a0.4,0.4 0 1,0 -0.8,0M270.0,365.6a0.4,0.4 0 1,0 0.8,0a0.4,0.4 0 1,0 -0.8,0M275.9,358.8a0.4,0.4 0 1,0 0.8,0a0.4,0.4 0 1,0 -0.8,0M279.4,363.1a0.4,0.4 0 1,0 0.8,0a0.4,0.4 0 1,0 -0.8,0M265.1,361.8a0.4,0.4 0 1,0 0.8,0a0.4,0.4 0 1,0 -0.8,0M262.6,365.6a0.4,0.4 0 1,0 0.8,0a0.4,0.4 0 1,0 -0.8,0M284.7,361.9a0.4,0.4 0 1,0 0.8,0a0.4,0.4 0 1,0 -0.8,0M270.2,359.6a0.4,0.4 0 1,0 0.8,0a0.4,0.4 0 1,0 -0.8,0M267.9,360.6a0.4,0.4 0 1,0 0.8,0a0.4,0.4 0 1,0 -0.8,0M273.9,368.0a0.4,0.4 0 1,0 0.8,0a0.4,0.4 0 1,0 -0.8,0M282.0,366.3a0.4,0.4 0 1,0 0.8,0a0.4,0.4 0 1,0 -0.8,0M265.8,366.0a0.4,0.4 0 1,0 0.8,0a0.4,0.4 0 1,0 -0.8,0M267.6,360.9a0.4,0.4 0 1,0 0.8,0a0.4,0.4 0 1,0 -0.8,0M280.5,363.3a0.4,0.4 0 1,0 0.8,0a0.4,0.4 0 1,0 -0.8,0M287.4,364.0a0.4,0.4 0 1,0 0.8,0a0.4,0.4 0 1,0 -0.8,0M271.0,366.0a0.4,0.4 0 1,0 0.8,0a0.4,0.4 0 1,0 -0.8,0M264.4,365.5a0.4,0.4 0 1,0 0.8,0a0.4,0.4 0 1,0 -0.8,0M285.5,363.2a0.4,0.4 0 1,0 0.8,0a0.4,0.4 0 1,0 -0.8,0M269.5,366.9a0.4,0.4 0 1,0 0.8,0a0.4,0.4 0 1,0 -0.8,0M264.4,364.7a0.4,0.4 0 1,0 0.8,0a0.4,0.4 0 1,0 -0.8,0M268.8,364.6a0.4,0.4 0 1,0 0.8,0a0.4,0.4 0 1,0 -0.8,0M266.8,365.5a0.4,0.4 0 1,0 0.8,0a0.4,0.4 0 1,0 -0.8,0M277.6,367.9a0.4,0.4 0 1,0 0.8,0a0.4,0.4 0 1,0 -0.8,0M270.3,365.1a0.4,0.4 0 1,0 0.8,0a0.4,0.4 0 1,0 -0.8,0M262.0,361.7a0.4,0.4 0 1,0 0.8,0a0.4,0.4 0 1,0 -0.8,0M275.9,359.7a0.4,0.4 0 1,0 0.8,0a0.4,0.4 0 1,0 -0.8,0M272.8,360.7a0.4,0.4 0 1,0 0.8,0a0.4,0.4 0 1,0 -0.8,0M278.2,365.6a0.4,0.4 0 1,0 0.8,0a0.4,0.4 0 1,0 -0.8,0M269.4,365.7a0.4,0.4 0 1,0 0.8,0a0.4,0.4 0 1,0 -0.8,0M268.5,364.0a0.4,0.4 0 1,0 0.8,0a0.4,0.4 0 1,0 -0.8,0M278.6,365.4a0.4,0.4 0 1,0 0.8,0a0.4,0.4 0 1,0 -0.8,0M277.9,367.8a0.4,0.4 0 1,0 0.8,0a0.4,0.4 0 1,0 -0.8,0M267.7,363.1a0.4,0.4 0 1,0 0.8,0a0.4,0.4 0 1,0 -0.8,0M262.0,365.6a0.4,0.4 0 1,0 0.8,0a0.4,0.4 0 1,0 -0.8,0M264.6,361.9a0.4,0.4 0 1,0 0.8,0a0.4,0.4 0 1,0 -0.8,0M269.0,365.0a0.4,0.4 0 1,0 0.8,0a0.4,0.4 0 1,0 -0.8,0M271.0,362.6a0.4,0.4 0 1,0 0.8,0a0.4,0.4 0 1,0 -0.8,0M274.5,362.4a0.4,0.4 0 1,0 0.8,0a0.4,0.4 0 1,0 -0.8,0M273.6,360.5a0.4,0.4 0 1,0 0.8,0a0.4,0.4 0 1,0 -0.8,0M269.3,360.1a0.4,0.4 0 1,0 0.8,0a0.4,0.4 0 1,0 -0.8,0M280.8,366.3a0.4,0.4 0 1,0 0.8,0a0.4,0.4 0 1,0 -0.8,0M279.9,364.7a0.4,0.4 0 1,0 0.8,0a0.4,0.4 0 1,0 -0.8,0M268.2,365.4a0.4,0.4 0 1,0 0.8,0a0.4,0.4 0 1,0 -0.8,0M266.4,359.4a0.4,0.4 0 1,0 0.8,0a0.4,0.4 0 1,0 -0.8,0M265.8,367.2a0.4,0.4 0 1,0 0.8,0a0.4,0.4 0 1,0 -0.8,0M275.6,367.8a0.4,0.4 0 1,0 0.8,0a0.4,0.4 0 1,0 -0.8,0M267.9,366.6a0.4,0.4 0 1,0 0.8,0a0.4,0.4 0 1,0 -0.8,0M284.6,366.0a0.4,0.4 0 1,0 0.8,0a0.4,0.4 0 1,0 -0.8,0M276.2,366.9a0.4,0.4 0 1,0 0.8,0a0.4,0.4 0 1,0 -0.8,0M270.6,368.0a0.4,0.4 0 1,0 0.8,0a0.4,0.4 0 1,0 -0.8,0M264.6,361.4a0.4,0.4 0 1,0 0.8,0a0.4,0.4 0 1,0 -0.8,0M274.0,361.1a0.4,0.4 0 1,0 0.8,0a0.4,0.4 0 1,0 -0.8,0M285.7,365.2a0.4,0.4 0 1,0 0.8,0a0.4,0.4 0 1,0 -0.8,0M268.7,367.7a0.4,0.4 0 1,0 0.8,0a0.4,0.4 0 1,0 -0.8,0M284.5,362.5a0.4,0.4 0 1,0 0.8,0a0.4,0.4 0 1,0 -0.8,0M284.1,366.4a0.4,0.4 0 1,0 0.8,0a0.4,0.4 0 1,0 -0.8,0M269.1,361.8a0.4,0.4 0 1,0 0.8,0a0.4,0.4 0 1,0 -0.8,0M276.4,367.0a0.4,0.4 0 1,0 0.8,0a0.4,0.4 0 1,0 -0.8,0M283.4,366.9a0.4,0.4 0 1,0 0.8,0a0.4,0.4 0 1,0 -0.8,0M270.4,359.2a0.4,0.4 0 1,0 0.8,0a0.4,0.4 0 1,0 -0.8,0" fill="#fff"/>
<path d="M451.0,431.5a0.4,0.4 0 1,0 0.8,0a0.4,0.4 0 1,0 -0.8,0M463.8,431.4a0.4,0.4 0 1,0 0.8,0a0.4,0.4 0 1,0 -0.8,0M458.1,427.4a0.4,0.4 0 1,0 0.8,0a0.4,0.4 0 1,0 -0.8,0M461.4,429.1a0.4,0.4 0 1,0 0.8,0a0.4,0.4 0 1,0 -0.8,0M458.7,422.7a0.4,0.4 0 1,0 0.8,0a0.4,0.4 0 1,0 -0.8,0M450.4,427.6a0.4,0.4 0 1,0 0.8,0a0.4,0.4 0 1,0 -0.8,0M457.3,432.5a0.4,0.4 0 1,0 0.8,0a0.4,0.4 0 1,0 -0.8,0M453.6,421.0a0.4,0.4 0 1,0 0.8,0a0.4,0.4 0 1,0 -0.8,0M448.9,426.8a0.4,0.4 0 1,0 0.8,0a0.4,0.4 0 1,0 -0.8,0M466.7,425.7a0.4,0.4 0 1,0 0.8,0a0.4,0.4 0 1,0 -0.8,0M453.6,428.7a0.4,0.4 0 1,0 0.8,0a0.4,0.4 0 1,0 -0.8,0M465.6,430.6a0.4,0.4 0 1,0 0.8,0a0.4,0.4 0 1,0 -0.8,0M463.3,430.8a0.4,0.4 0 1,0 0.8,0a0.4,0.4 0 1,0 -0.8,0M456.1,427.4a0.4,0.4 0 1,0 0.8,0a0.4,0.4 0 1,0 -0.8,0M460.2,433.2a0.4,0.4 0 1,0 0.8,0a0.4,0.4 0 1,0 -0.8,0M448.8,425.3a0.4,0.4 0 1,0 0.8,0a0.4,0.4 0 1,0 -0.8,0M460.7,425.8a0.4,0.4 0 1,0 0.8,0a0.4,0.4 0 1,0 -0.8,0M457.2,425.7a0.4,0.4 0 1,0 0.8,0a0.4,0.4 0 1,0 -0.8,0M452.3,429.1a0.4,0.4 0 1,0 0.8,0a0.4,0.4 0 1,0 -0.8,0M465.6,425.5a0.4,0.4 0 1,0 0.8,0a0.4,0.4 0 1,0 -0.8,0M460.8,431.6a0.4,0.4 0 1,0 0.8,0a0.4,0.4 0 1,0 -0.8,0M453.7,426.5a0.4,0.4 0 1,0 0.8,0a0.4,0.4 0 1,0 -0.8,0M452.2,432.0a0.4,0.4 0 1,0 0.8,0a0.4,0.4 0 1,0 -0.8,0M466.9,426.2a0.4,0.4 0 1,0 0.8,0a0.4,0.4 0 1,0 -0.8,0M466.9,429.6a0.4,0.4 0 1,0 0.8,0a0.4,0.4 0 1,0 -0.8,0M449.3,428.6a0.4,0.4 0 1,0 0.8,0a0.4,0.4 0 1,0 -0.8,0M459.8,429.4a0.4,0.4 0 1,0 0.8,0a0.4,0.4 0 1,0 -0.8,0M462.6,424.9a0.4,0.4 0 1,0 0.8,0a0.4,0.4 0 1,0 -0.8,0M465.0,428.3a0.4,0.4 0 1,0 0.8,0a0.4,0.4 0 1,0 -0.8,0M467.3,426.6a0.4,0.4 0 1,0 0.8,0a0.4,0.4 0 1,0 -0.8,0M450.2,431.2a0.4,0.4 0 1,0 0.8,0a0.4,0.4 0 1,0 -0.8,0M460.8,420.8a0.4,0.4 0 1,0 0.8,0a0.4,0.4 0 1,0 -0.8,0M454.3,423.5a0.4,0.4 0 1,0 0.8,0a0.4,0.4 0 1,0 -0.8,0M463.8,424.3a0.4,0.4 0 1,0 0.8,0a0.4,0.4 0 1,0 -0.8,0M465.0,424.9a0.4,0.4 0 1,0 0.8,0a0.4,0.4 0 1,0 -0.8,0M464.0,424.4a0.4,0.4 0 1,0 0.8,0a0.4,0.4 0 1,0 -0.8,0M451.3,429.3a0.4,0.4 0 1,0 0.8,0a0.4,0.4 0 1,0 -0.8,0M456.6,429.4a0.4,0.4 0 1,0 0.8,0a0.4,0.4 0 1,0 -0.8,0M450.3,423.5a0.4,0.4 0 1,0 0.8,0a0.4,0.4 0 1,0 -0.8,0M456.5,433.4a0.4,0.4 0 1,0 0.8,0a0.4,0.4 0 1,0 -0.8,0M460.2,421.0a0.4,0.4 0 1,0 0.8,0a0.4,0.4 0 1,0 -0.8,0M449.5,430.5a0.4,0.4 0 1,0 0.8,0a0.4,0.4 0 1,0 -0.8,0M460.1,421.8a0.4,0.4 0 1,0 0.8,0a0.4,0.4 0 1,0 -0.8,0M463.9,430.4a0.4,0.4 0 1,0 0.8,0a0.4,0.4 0 1,0 -0.8,0M467.6,427.6a0.4,0.4 0 1,0 0.8,0a0.4,0.4 0 1,0 -0.8,0M455.0,430.6a0.4,0.4 0 1,0 0.8,0a0.4,0.4 0 1,0 -0.8,0M450.6,425.2a0.4,0.4 0 1,0 0.8,0a0.4,0.4 0 1,0 -0.8,0M452.1,424.5a0.4,0.4 0 1,0 0.8,0a0.4,0.4 0 1,0 -0.8,0M452.0,422.2a0.4,0.4 0 1,0 0.8,0a0.4,0.4 0 1,0 -0.8,0M451.5,428.6a0.4,0.4 0 1,0 0.8,0a0.4,0.4 0 1,0 -0.8,0M458.4,426.6a0.4,0.4 0 1,0 0.8,0a0.4,0.4 0 1,0 -0.8,0M461.2,430.3a0.4,0.4 0 1,0 0.8,0a0.4,0.4 0 1,0 -0.8,0M460.3,433.4a0.4,0.4 0 1,0 0.8,0a0.4,0.4 0 1,0 -0.8,0M460.1,428.8a0.4,0.4 0 1,0 0.8,0a0.4,0.4 0 1,0 -0.8,0M455.2,431.5a0.4,0.4 0 1,0 0.8,0a0.4,0.4 0 1,0 -0.8,0M462.5,420.7a0.4,0.4 0 1,0 0.8,0a0.4,0.4 0 1,0 -0.8,0M462.8,422.6a0.4,0.4 0 1,0 0.8,0a0.4,0.4 0 1,0 -0.8,0M460.6,427.4a0.4,0.4 0 1,0 0.8,0a0.4,0.4 0 1,0 -0.8,0M452.0,422.3a0.4,0.4 0 1,0 0.8,0a0.4,0.4 0 1,0 -0.8,0M457.2,433.8a0.4,0.4 0 1,0 0.8,0a0.4,0.4 0 1,0 -0.8,0" fill="#fff"/>
<path d="M189.4,436.9a0.4,0.4 0 1,0 0.8,0a0.4,0.4 0 1,0 -0.8,0M192.6,437.4a0.4,0.4 0 1,0 0.8,0a0.4,0.4 0 1,0 -0.8,0M196.5,447.7a0.4,0.4 0 1,0 0.8,0a0.4,0.4 0 1,0 -0.8,0M193.6,442.1a0.4,0.4 0 1,0 0.8,0a0.4,0.4 0 1,0 -0.8,0M192.7,447.6a0.4,0.4 0 1,0 0.8,0a0.4,0.4 0 1,0 -0.8,0M193.5,443.8a0.4,0.4 0 1,0 0.8,0a0.4,0.4 0 1,0 -0.8,0M193.1,446.0a0.4,0.4 0 1,0 0.8,0a0.4,0.4 0 1,0 -0.8,0M193.5,433.7a0.4,0.4 0 1,0 0.8,0a0.4,0.4 0 1,0 -0.8,0M197.9,432.2a0.4,0.4 0 1,0 0.8,0a0.4,0.4 0 1,0 -0.8,0M194.5,436.7a0.4,0.4 0 1,0 0.8,0a0.4,0.4 0 1,0 -0.8,0M191.4,448.0a0.4,0.4 0 1,0 0.8,0a0.4,0.4 0 1,0 -0.8,0M195.1,436.4a0.4,0.4 0 1,0 0.8,0a0.4,0.4 0 1,0 -0.8,0M190.4,441.4a0.4,0.4 0 1,0 0.8,0a0.4,0.4 0 1,0 -0.8,0M193.7,437.5a0.4,0.4 0 1,0 0.8,0a0.4,0.4 0 1,0 -0.8,0M191.7,447.2a0.4,0.4 0 1,0 0.8,0a0.4,0.4 0 1,0 -0.8,0M194.7,437.9a0.4,0.4 0 1,0 0.8,0a0.4,0.4 0 1,0 -0.8,0M189.6,434.9a0.4,0.4 0 1,0 0.8,0a0.4,0.4 0 1,0 -0.8,0M196.5,434.5a0.4,0.4 0 1,0 0.8,0a0.4,0.4 0 1,0 -0.8,0M196.4,438.5a0.4,0.4 0 1,0 0.8,0a0.4,0.4 0 1,0 -0.8,0M195.4,441.6a0.4,0.4 0 1,0 0.8,0a0.4,0.4 0 1,0 -0.8,0M192.0,437.4a0.4,0.4 0 1,0 0.8,0a0.4,0.4 0 1,0 -0.8,0M193.5,443.6a0.4,0.4 0 1,0 0.8,0a0.4,0.4 0 1,0 -0.8,0M199.3,442.6a0.4,0.4 0 1,0 0.8,0a0.4,0.4 0 1,0 -0.8,0M190.8,447.7a0.4,0.4 0 1,0 0.8,0a0.4,0.4 0 1,0 -0.8,0M193.3,434.6a0.4,0.4 0 1,0 0.8,0a0.4,0.4 0 1,0 -0.8,0M194.3,438.8a0.4,0.4 0 1,0 0.8,0a0.4,0.4 0 1,0 -0.8,0M194.8,439.0a0.4,0.4 0 1,0 0.8,0a0.4,0.4 0 1,0 -0.8,0M193.7,446.6a0.4,0.4 0 1,0 0.8,0a0.4,0.4 0 1,0 -0.8,0M199.0,439.7a0.4,0.4 0 1,0 0.8,0a0.4,0.4 0 1,0 -0.8,0M198.4,443.8a0.4,0.4 0 1,0 0.8,0a0.4,0.4 0 1,0 -0.8,0M198.0,440.8a0.4,0.4 0 1,0 0.8,0a0.4,0.4 0 1,0 -0.8,0M194.6,444.4a0.4,0.4 0 1,0 0.8,0a0.4,0.4 0 1,0 -0.8,0M190.1,439.6a0.4,0.4 0 1,0 0.8,0a0.4,0.4 0 1,0 -0.8,0M190.0,444.3a0.4,0.4 0 1,0 0.8,0a0.4,0.4 0 1,0 -0.8,0M194.6,443.2a0.4,0.4 0 1,0 0.8,0a0.4,0.4 0 1,0 -0.8,0M192.4,434.2a0.4,0.4 0 1,0 0.8,0a0.4,0.4 0 1,0 -0.8,0M197.3,436.5a0.4,0.4 0 1,0 0.8,0a0.4,0.4 0 1,0 -0.8,0M192.9,439.5a0.4,0.4 0 1,0 0.8,0a0.4,0.4 0 1,0 -0.8,0M195.7,439.6a0.4,0.4 0 1,0 0.8,0a0.4,0.4 0 1,0 -0.8,0M190.3,433.4a0.4,0.4 0 1,0 0.8,0a0.4,0.4 0 1,0 -0.8,0" fill="#fff"/>
<path d="M258.1,510.0a0.4,0.4 0 1,0 0.8,0a0.4,0.4 0 1,0 -0.8,0M257.2,504.4a0.4,0.4 0 1,0 0.8,0a0.4,0.4 0 1,0 -0.8,0M256.2,516.5a0.4,0.4 0 1,0 0.8,0a0.4,0.4 0 1,0 -0.8,0M257.9,500.4a0.4,0.4 0 1,0 0.8,0a0.4,0.4 0 1,0 -0.8,0M259.1,509.1a0.4,0.4 0 1,0 0.8,0a0.4,0.4 0 1,0 -0.8,0M254.6,507.7a0.4,0.4 0 1,0 0.8,0a0.4,0.4 0 1,0 -0.8,0M253.6,511.5a0.4,0.4 0 1,0 0.8,0a0.4,0.4 0 1,0 -0.8,0M257.1,502.6a0.4,0.4 0 1,0 0.8,0a0.4,0.4 0 1,0 -0.8,0M258.7,505.4a0.4,0.4 0 1,0 0.8,0a0.4,0.4 0 1,0 -0.8,0M252.4,513.7a0.4,0.4 0 1,0 0.8,0a0.4,0.4 0 1,0 -0.8,0M257.0,503.1a0.4,0.4 0 1,0 0.8,0a0.4,0.4 0 1,0 -0.8,0M254.4,506.8a0.4,0.4 0 1,0 0.8,0a0.4,0.4 0 1,0 -0.8,0M255.6,507.5a0.4,0.4 0 1,0 0.8,0a0.4,0.4 0 1,0 -0.8,0M252.1,521.7a0.4,0.4 0 1,0 0.8,0a0.4,0.4 0 1,0 -0.8,0M256.7,515.2a0.4,0.4 0 1,0 0.8,0a0.4,0.4 0 1,0 -0.8,0M257.7,508.3a0.4,0.4 0 1,0 0.8,0a0.4,0.4 0 1,0 -0.8,0M252.2,515.4a0.4,0.4 0 1,0 0.8,0a0.4,0.4 0 1,0 -0.8,0M259.1,507.6a0.4,0.4 0 1,0 0.8,0a0.4,0.4 0 1,0 -0.8,0M255.9,505.8a0.4,0.4 0 1,0 0.8,0a0.4,0.4 0 1,0 -0.8,0M252.3,515.7a0.4,0.4 0 1,0 0.8,0a0.4,0.4 0 1,0 -0.8,0M251.4,521.1a0.4,0.4 0 1,0 0.8,0a0.4,0.4 0 1,0 -0.8,0M257.9,513.4a0.4,0.4 0 1,0 0.8,0a0.4,0.4 0 1,0 -0.8,0M257.5,504.6a0.4,0.4 0 1,0 0.8,0a0.4,0.4 0 1,0 -0.8,0M257.0,513.3a0.4,0.4 0 1,0 0.8,0a0.4,0.4 0 1,0 -0.8,0M255.1,505.2a0.4,0.4 0 1,0 0.8,0a0.4,0.4 0 1,0 -0.8,0M257.7,507.9a0.4,0.4 0 1,0 0.8,0a0.4,0.4 0 1,0 -0.8,0M255.8,514.7a0.4,0.4 0 1,0 0.8,0a0.4,0.4 0 1,0 -0.8,0M258.1,512.0a0.4,0.4 0 1,0 0.8,0a0.4,0.4 0 1,0 -0.8,0M255.0,520.7a0.4,0.4 0 1,0 0.8,0a0.4,0.4 0 1,0 -0.8,0M258.5,510.1a0.4,0.4 0 1,0 0.8,0a0.4,0.4 0 1,0 -0.8,0M252.3,525.4a0.4,0.4 0 1,0 0.8,0a0.4,0.4 0 1,0 -0.8,0M256.7,506.5a0.4,0.4 0 1,0 0.8,0a0.4,0.4 0 1,0 -0.8,0M258.3,502.6a0.4,0.4 0 1,0 0.8,0a0.4,0.4 0 1,0 -0.8,0M255.0,508.0a0.4,0.4 0 1,0 0.8,0a0.4,0.4 0 1,0 -0.8,0M252.8,520.4a0.4,0.4 0 1,0 0.8,0a0.4,0.4 0 1,0 -0.8,0M254.0,510.1a0.4,0.4 0 1,0 0.8,0a0.4,0.4 0 1,0 -0.8,0M256.8,509.5a0.4,0.4 0 1,0 0.8,0a0.4,0.4 0 1,0 -0.8,0M253.1,524.8a0.4,0.4 0 1,0 0.8,0a0.4,0.4 0 1,0 -0.8,0M255.6,505.0a0.4,0.4 0 1,0 0.8,0a0.4,0.4 0 1,0 -0.8,0M255.9,507.0a0.4,0.4 0 1,0 0.8,0a0.4,0.4 0 1,0 -0.8,0" fill="#fff"/>
<path d="M235.4,543.2a0.4,0.4 0 1,0 0.8,0a0.4,0.4 0 1,0 -0.8,0M242.8,545.9a0.4,0.4 0 1,0 0.8,0a0.4,0.4 0 1,0 -0.8,0M238.0,537.1a0.4,0.4 0 1,0 0.8,0a0.4,0.4 0 1,0 -0.8,0M245.0,541.8a0.4,0.4 0 1,0 0.8,0a0.4,0.4 0 1,0 -0.8,0M236.3,545.1a0.4,0.4 0 1,0 0.8,0a0.4,0.4 0 1,0 -0.8,0M237.6,541.0a0.4,0.4 0 1,0 0.8,0a0.4,0.4 0 1,0 -0.8,0M234.2,544.5a0.4,0.4 0 1,0 0.8,0a0.4,0.4 0 1,0 -0.8,0M242.3,539.3a0.4,0.4 0 1,0 0.8,0a0.4,0.4 0 1,0 -0.8,0M235.7,545.3a0.4,0.4 0 1,0 0.8,0a0.4,0.4 0 1,0 -0.8,0M234.5,540.4a0.4,0.4 0 1,0 0.8,0a0.4,0.4 0 1,0 -0.8,0M234.2,541.0a0.4,0.4 0 1,0 0.8,0a0.4,0.4 0 1,0 -0.8,0M242.7,542.0a0.4,0.4 0 1,0 0.8,0a0.4,0.4 0 1,0 -0.8,0M243.1,543.6a0.4,0.4 0 1,0 0.8,0a0.4,0.4 0 1,0 -0.8,0M230.8,541.8a0.4,0.4 0 1,0 0.8,0a0.4,0.4 0 1,0 -0.8,0M238.2,537.5a0.4,0.4 0 1,0 0.8,0a0.4,0.4 0 1,0 -0.8,0M242.4,541.6a0.4,0.4 0 1,0 0.8,0a0.4,0.4 0 1,0 -0.8,0M235.6,543.5a0.4,0.4 0 1,0 0.8,0a0.4,0.4 0 1,0 -0.8,0M242.8,544.0a0.4,0.4 0 1,0 0.8,0a0.4,0.4 0 1,0 -0.8,0M235.4,541.7a0.4,0.4 0 1,0 0.8,0a0.4,0.4 0 1,0 -0.8,0M245.2,539.5a0.4,0.4 0 1,0 0.8,0a0.4,0.4 0 1,0 -0.8,0M238.7,541.9a0.4,0.4 0 1,0 0.8,0a0.4,0.4 0 1,0 -0.8,0M244.6,543.4a0.4,0.4 0 1,0 0.8,0a0.4,0.4 0 1,0 -0.8,0M239.5,540.8a0.4,0.4 0 1,0 0.8,0a0.4,0.4 0 1,0 -0.8,0M244.1,542.0a0.4,0.4 0 1,0 0.8,0a0.4,0.4 0 1,0 -0.8,0M237.7,542.4a0.4,0.4 0 1,0 0.8,0a0.4,0.4 0 1,0 -0.8,0" fill="#fff"/>
<path d="M411.0,365.5a0.4,0.4 0 1,0 0.8,0a0.4,0.4 0 1,0 -0.8,0M409.5,366.9a0.4,0.4 0 1,0 0.8,0a0.4,0.4 0 1,0 -0.8,0M406.3,364.9a0.4,0.4 0 1,0 0.8,0a0.4,0.4 0 1,0 -0.8,0M408.9,366.8a0.4,0.4 0 1,0 0.8,0a0.4,0.4 0 1,0 -0.8,0M410.6,364.4a0.4,0.4 0 1,0 0.8,0a0.4,0.4 0 1,0 -0.8,0M405.5,364.7a0.4,0.4 0 1,0 0.8,0a0.4,0.4 0 1,0 -0.8,0M407.1,367.1a0.4,0.4 0 1,0 0.8,0a0.4,0.4 0 1,0 -0.8,0M410.8,365.5a0.4,0.4 0 1,0 0.8,0a0.4,0.4 0 1,0 -0.8,0M405.9,363.4a0.4,0.4 0 1,0 0.8,0a0.4,0.4 0 1,0 -0.8,0M409.1,366.6a0.4,0.4 0 1,0 0.8,0a0.4,0.4 0 1,0 -0.8,0M410.0,364.9a0.4,0.4 0 1,0 0.8,0a0.4,0.4 0 1,0 -0.8,0M410.0,362.7a0.4,0.4 0 1,0 0.8,0a0.4,0.4 0 1,0 -0.8,0M411.5,367.6a0.4,0.4 0 1,0 0.8,0a0.4,0.4 0 1,0 -0.8,0M409.3,365.9a0.4,0.4 0 1,0 0.8,0a0.4,0.4 0 1,0 -0.8,0M408.0,367.1a0.4,0.4 0 1,0 0.8,0a0.4,0.4 0 1,0 -0.8,0M405.9,364.3a0.4,0.4 0 1,0 0.8,0a0.4,0.4 0 1,0 -0.8,0M409.8,363.0a0.4,0.4 0 1,0 0.8,0a0.4,0.4 0 1,0 -0.8,0M410.3,366.3a0.4,0.4 0 1,0 0.8,0a0.4,0.4 0 1,0 -0.8,0M408.7,364.4a0.4,0.4 0 1,0 0.8,0a0.4,0.4 0 1,0 -0.8,0M413.0,364.6a0.4,0.4 0 1,0 0.8,0a0.4,0.4 0 1,0 -0.8,0" fill="#fff"/>
<path d="M144.7,450.8a0.4,0.4 0 1,0 0.8,0a0.4,0.4 0 1,0 -0.8,0M144.3,451.8a0.4,0.4 0 1,0 0.8,0a0.4,0.4 0 1,0 -0.8,0M144.3,448.1a0.4,0.4 0 1,0 0.8,0a0.4,0.4 0 1,0 -0.8,0M144.3,450.2a0.4,0.4 0 1,0 0.8,0a0.4,0.4 0 1,0 -0.8,0M142.7,451.0a0.4,0.4 0 1,0 0.8,0a0.4,0.4 0 1,0 -0.8,0M146.6,442.0a0.4,0.4 0 1,0 0.8,0a0.4,0.4 0 1,0 -0.8,0M141.5,441.7a0.4,0.4 0 1,0 0.8,0a0.4,0.4 0 1,0 -0.8,0M142.3,450.0a0.4,0.4 0 1,0 0.8,0a0.4,0.4 0 1,0 -0.8,0M144.4,453.9a0.4,0.4 0 1,0 0.8,0a0.4,0.4 0 1,0 -0.8,0M147.1,441.3a0.4,0.4 0 1,0 0.8,0a0.4,0.4 0 1,0 -0.8,0M143.3,445.0a0.4,0.4 0 1,0 0.8,0a0.4,0.4 0 1,0 -0.8,0M147.5,449.8a0.4,0.4 0 1,0 0.8,0a0.4,0.4 0 1,0 -0.8,0M146.5,442.8a0.4,0.4 0 1,0 0.8,0a0.4,0.4 0 1,0 -0.8,0M147.7,442.9a0.4,0.4 0 1,0 0.8,0a0.4,0.4 0 1,0 -0.8,0M144.4,441.8a0.4,0.4 0 1,0 0.8,0a0.4,0.4 0 1,0 -0.8,0M142.0,447.9a0.4,0.4 0 1,0 0.8,0a0.4,0.4 0 1,0 -0.8,0M142.1,450.0a0.4,0.4 0 1,0 0.8,0a0.4,0.4 0 1,0 -0.8,0M145.7,446.9a0.4,0.4 0 1,0 0.8,0a0.4,0.4 0 1,0 -0.8,0M145.8,451.9a0.4,0.4 0 1,0 0.8,0a0.4,0.4 0 1,0 -0.8,0M146.7,441.8a0.4,0.4 0 1,0 0.8,0a0.4,0.4 0 1,0 -0.8,0M145.9,451.0a0.4,0.4 0 1,0 0.8,0a0.4,0.4 0 1,0 -0.8,0M143.3,444.5a0.4,0.4 0 1,0 0.8,0a0.4,0.4 0 1,0 -0.8,0M147.1,449.6a0.4,0.4 0 1,0 0.8,0a0.4,0.4 0 1,0 -0.8,0M144.6,453.0a0.4,0.4 0 1,0 0.8,0a0.4,0.4 0 1,0 -0.8,0M146.1,453.1a0.4,0.4 0 1,0 0.8,0a0.4,0.4 0 1,0 -0.8,0" fill="#fff"/>
<text x="263.91" y="313.73" font-size="11" text-anchor="middle" stroke="#000" stroke-width="0.25">0</text>
<text x="358.27" y="292.70" font-size="11" text-anchor="middle" stroke="#000" stroke-width="0.25">1</text>
<text x="285.82" y="348.20" font-size="11" text-anchor="middle" stroke="#000" stroke-width="0.25">2</text>
<text x="492.36" y="423.57" font-size="11" text-anchor="middle" stroke="#000" stroke-width="0.25">3</text>
<text x="309.19" y="409.26" font-size="11" text-anchor="middle" stroke="#000" stroke-width="0.25">4</text>
<text x="480.09" y="452.20" font-size="11" text-anchor="middle" stroke="#000" stroke-width="0.25">5</text>
<text x="240.25" y="536.04" font-size="11" text-anchor="middle" stroke="#000" stroke-width="0.25">6</text>
<text x="161.95" y="411.89" font-size="11" text-anchor="middle" stroke="#000" stroke-width="0.25">7</text>
<text x="194.97" y="435.26" font-size="11" text-anchor="middle" stroke="#000" stroke-width="0.25">8</text>
<text x="327.30" y="558.24" font-size="11" text-anchor="middle" stroke="#000" stroke-width="0.25">9</text>
<text x="273.84" y="529.62" font-size="11" text-anchor="middle" stroke="#000" stroke-width="0.25">10</text>
<text x="412.60" y="370.40" font-size="11" text-anchor="middle" stroke="#000" stroke-width="0.25">11</text>
<text x="424.00" y="510.63" font-size="11" text-anchor="middle" stroke="#000" stroke-width="0.25">12</text>
<text x="339.57" y="375.08" font-size="11" text-anchor="middle" stroke="#000" stroke-width="0.25">13</text>
<text x="353.30" y="540.13" font-size="11" text-anchor="middle" stroke="#000" stroke-width="0.25">14</text>
<text x="452.04" y="439.93" font-size="11" text-anchor="middle" stroke="#000" stroke-width="0.25">15</text>
<text x="308.31" y="491.64" font-size="11" text-anchor="middle" stroke="#000" stroke-width="0.25">16</text>
<path d="M119.90,181.80V594.90H545.50" fill="none" stroke="#2a2a2a" stroke-width="1.0"/>
<line x1="161.40" y1="594.90" x2="161.40" y2="597.50" stroke="#2a2a2a" stroke-width="1.0"/>
<text x="161.40" y="610.20" font-size="11.7" text-anchor="middle">-10</text>
<line x1="244.60" y1="594.90" x2="244.60" y2="597.50" stroke="#2a2a2a" stroke-width="1.0"/>
<text x="244.60" y="610.20" font-size="11.7" text-anchor="middle">-5</text>
<line x1="327.90" y1="594.90" x2="327.90" y2="597.50" stroke="#2a2a2a" stroke-width="1.0"/>
<text x="327.90" y="610.20" font-size="11.7" text-anchor="middle">0</text>
<line x1="411.70" y1="594.90" x2="411.70" y2="597.50" stroke="#2a2a2a" stroke-width="1.0"/>
<text x="411.70" y="610.20" font-size="11.7" text-anchor="middle">5</text>
<line x1="495.30" y1="594.90" x2="495.30" y2="597.50" stroke="#2a2a2a" stroke-width="1.0"/>
<text x="495.30" y="610.20" font-size="11.7" text-anchor="middle">10</text>
<line x1="117.30" y1="191.10" x2="119.90" y2="191.10" stroke="#2a2a2a" stroke-width="1.0"/>
<text x="115.10" y="195.31" font-size="11.7" text-anchor="end">15</text>
<line x1="117.30" y1="256.90" x2="119.90" y2="256.90" stroke="#2a2a2a" stroke-width="1.0"/>
<text x="115.10" y="261.11" font-size="11.7" text-anchor="end">10</text>
<line x1="117.30" y1="322.90" x2="119.90" y2="322.90" stroke="#2a2a2a" stroke-width="1.0"/>
<text x="115.10" y="327.11" font-size="11.7" text-anchor="end">5</text>
<line x1="117.30" y1="388.90" x2="119.90" y2="388.90" stroke="#2a2a2a" stroke-width="1.0"/>
<text x="115.10" y="393.11" font-size="11.7" text-anchor="end">0</text>
<line x1="117.30" y1="454.60" x2="119.90" y2="454.60" stroke="#2a2a2a" stroke-width="1.0"/>
<text x="115.10" y="458.81" font-size="11.7" text-anchor="end">-5</text>
<line x1="117.30" y1="520.40" x2="119.90" y2="520.40" stroke="#2a2a2a" stroke-width="1.0"/>
<text x="115.10" y="524.61" font-size="11.7" text-anchor="end">-10</text>
<line x1="117.30" y1="586.40" x2="119.90" y2="586.40" stroke="#2a2a2a" stroke-width="1.0"/>
<text x="115.10" y="590.61" font-size="11.7" text-anchor="end">-15</text>
<text x="331.80" y="626.12" font-size="13.4" text-anchor="middle">umap_1</text>
<text x="90.52" y="388.30" font-size="13.4" text-anchor="middle" transform="rotate(-90 90.52 388.30)">umap_2</text>
<text x="332.60" y="171.69" font-size="15.8" text-anchor="middle" font-weight="bold">Cell Type</text>
<circle cx="127.0" cy="649.9" r="3.80" fill="#F0787A"/>
<text x="141.30" y="654.47" font-size="12.7">0 Trophocytes_1</text>
<circle cx="127.0" cy="671.5" r="3.80" fill="#E58B35"/>
<text x="141.30" y="676.07" font-size="12.7">1 Trophocytes_2</text>
<circle cx="127.0" cy="693.1" r="3.80" fill="#D29C35"/>
<text x="141.30" y="697.67" font-size="12.7">2 Trophocytes_3</text>
<circle cx="127.0" cy="714.7" r="3.80" fill="#B8A835"/>
<text x="141.30" y="719.27" font-size="12.7">3 LECs</text>
<circle cx="127.0" cy="736.4" r="3.80" fill="#92B535"/>
<text x="141.30" y="740.97" font-size="12.7">4 SEMFs</text>
<circle cx="127.0" cy="758.3" r="3.80" fill="#66C234"/>
<text x="141.30" y="762.87" font-size="12.7">5 LECs</text>
<circle cx="248.9" cy="649.9" r="3.80" fill="#4CCB66"/>
<text x="262.90" y="654.47" font-size="12.7">6 SEMFs</text>
<circle cx="248.9" cy="671.5" r="3.80" fill="#55D09C"/>
<text x="262.90" y="676.07" font-size="12.7">7 Mesothelial-like</text>
<circle cx="248.9" cy="693.1" r="3.80" fill="#5AD2BE"/>
<text x="262.90" y="697.67" font-size="12.7">8 Mesothelial-like</text>
<circle cx="248.9" cy="714.7" r="3.80" fill="#5CCCDD"/>
<text x="262.90" y="719.27" font-size="12.7">9 Telocytes</text>
<circle cx="248.9" cy="736.4" r="3.80" fill="#5BC2F0"/>
<text x="262.90" y="740.97" font-size="12.7">10 SEMFs</text>
<circle cx="248.9" cy="758.3" r="3.80" fill="#5CAAF5"/>
<text x="262.90" y="762.87" font-size="12.7">11 Pdgfra(hi)Cd81(+)</text>
<circle cx="396.4" cy="649.9" r="3.80" fill="#A296F8"/>
<text x="411.00" y="654.47" font-size="12.7">12 Pericytes</text>
<circle cx="396.4" cy="671.5" r="3.80" fill="#D482F8"/>
<text x="411.00" y="676.07" font-size="12.7">13 MFs</text>
<circle cx="396.4" cy="693.1" r="3.80" fill="#EE74E6"/>
<text x="411.00" y="697.67" font-size="12.7">14 Telocytes</text>
<circle cx="396.4" cy="714.7" r="3.80" fill="#F56FCB"/>
<text x="411.00" y="719.27" font-size="12.7">15 LECs</text>
<circle cx="396.4" cy="736.4" r="3.80" fill="#F5709F"/>
<text x="411.00" y="740.97" font-size="12.7">16 Telocytes(proliferative)</text>
<path d="M827.5,275.8C828.1,273.4 829.4,271.5 831.2,269.7C833.1,267.8 835.8,265.9 838.7,264.7C841.5,263.6 845.0,263.1 848.5,262.9C852.0,262.7 856.0,263.1 859.7,263.5C863.4,263.9 867.3,264.3 870.8,265.3C874.3,266.4 878.0,267.9 880.7,269.7C883.4,271.4 885.4,273.6 886.9,275.8C888.3,278.1 889.0,280.6 889.3,283.3C889.6,285.9 889.3,289.0 888.7,291.9C888.1,294.8 887.0,297.7 885.6,300.6C884.3,303.4 882.5,306.3 880.7,309.2C878.8,312.1 876.6,315.2 874.5,317.9C872.4,320.5 870.6,323.0 868.3,325.3C866.0,327.5 863.4,329.8 860.9,331.5C858.4,333.1 855.7,334.6 853.5,335.2C851.2,335.8 849.0,336.2 847.3,335.2C845.7,334.1 845.0,330.8 843.6,329.0C842.2,327.1 840.7,325.7 838.7,324.0C836.6,322.4 833.3,321.0 831.2,319.1C829.2,317.2 827.3,315.4 826.3,312.9C825.3,310.4 825.1,307.4 825.1,304.3C825.1,301.2 825.9,297.7 826.3,294.4C826.7,291.1 827.3,287.6 827.5,284.5C827.7,281.4 826.9,278.3 827.5,275.8Z" fill="none" stroke="#F468F4" stroke-width="2.6" stroke-dasharray="0.9 1.9" filter="url(#speck)"/><path d="M827.5,275.8C828.1,273.4 829.4,271.5 831.2,269.7C833.1,267.8 835.8,265.9 838.7,264.7C841.5,263.6 845.0,263.1 848.5,262.9C852.0,262.7 856.0,263.1 859.7,263.5C863.4,263.9 867.3,264.3 870.8,265.3C874.3,266.4 878.0,267.9 880.7,269.7C883.4,271.4 885.4,273.6 886.9,275.8C888.3,278.1 889.0,280.6 889.3,283.3C889.6,285.9 889.3,289.0 888.7,291.9C888.1,294.8 887.0,297.7 885.6,300.6C884.3,303.4 882.5,306.3 880.7,309.2C878.8,312.1 876.6,315.2 874.5,317.9C872.4,320.5 870.6,323.0 868.3,325.3C866.0,327.5 863.4,329.8 860.9,331.5C858.4,333.1 855.7,334.6 853.5,335.2C851.2,335.8 849.0,336.2 847.3,335.2C845.7,334.1 845.0,330.8 843.6,329.0C842.2,327.1 840.7,325.7 838.7,324.0C836.6,322.4 833.3,321.0 831.2,319.1C829.2,317.2 827.3,315.4 826.3,312.9C825.3,310.4 825.1,307.4 825.1,304.3C825.1,301.2 825.9,297.7 826.3,294.4C826.7,291.1 827.3,287.6 827.5,284.5C827.7,281.4 826.9,278.3 827.5,275.8Z" fill="#F468F4" filter="url(#rough)"/>
<path d="M747.2,304.3C747.6,300.8 749.0,297.9 750.9,295.6C752.8,293.4 755.2,291.9 758.3,290.7C761.4,289.4 765.5,288.5 769.4,288.2C773.4,287.9 778.5,288.4 781.8,288.8C785.1,289.2 786.7,289.5 789.2,290.7C791.7,291.8 793.7,294.0 796.6,295.6C799.5,297.3 803.2,298.7 806.5,300.6C809.8,302.4 813.5,304.5 816.4,306.7C819.3,309.0 822.0,311.3 823.8,314.2C825.7,317.0 826.7,321.0 827.5,324.0C828.4,327.1 832.3,331.0 828.8,332.7C825.3,334.3 814.3,333.7 806.5,333.9C798.7,334.1 788.4,333.9 781.8,333.9C775.2,333.9 770.5,333.3 767.0,333.9C763.5,334.6 763.1,337.2 760.8,337.6C758.5,338.1 755.2,337.8 753.4,336.4C751.5,335.0 750.5,332.3 749.7,329.0C748.8,325.7 748.8,320.7 748.4,316.6C748.0,312.5 746.8,307.8 747.2,304.3Z" fill="none" stroke="#DA72FA" stroke-width="2.6" stroke-dasharray="0.9 1.9" filter="url(#speck)"/><path d="M747.2,304.3C747.6,300.8 749.0,297.9 750.9,295.6C752.8,293.4 755.2,291.9 758.3,290.7C761.4,289.4 765.5,288.5 769.4,288.2C773.4,287.9 778.5,288.4 781.8,288.8C785.1,289.2 786.7,289.5 789.2,290.7C791.7,291.8 793.7,294.0 796.6,295.6C799.5,297.3 803.2,298.7 806.5,300.6C809.8,302.4 813.5,304.5 816.4,306.7C819.3,309.0 822.0,311.3 823.8,314.2C825.7,317.0 826.7,321.0 827.5,324.0C828.4,327.1 832.3,331.0 828.8,332.7C825.3,334.3 814.3,333.7 806.5,333.9C798.7,334.1 788.4,333.9 781.8,333.9C775.2,333.9 770.5,333.3 767.0,333.9C763.5,334.6 763.1,337.2 760.8,337.6C758.5,338.1 755.2,337.8 753.4,336.4C751.5,335.0 750.5,332.3 749.7,329.0C748.8,325.7 748.8,320.7 748.4,316.6C748.0,312.5 746.8,307.8 747.2,304.3Z" fill="#DA72FA" filter="url(#rough)"/>
<path d="M764.5,329.0C766.6,327.8 771.5,329.8 775.6,330.2C779.7,330.6 784.1,331.2 789.2,331.5C794.4,331.8 799.9,331.9 806.5,332.1C813.1,332.3 824.6,331.2 828.8,332.7C832.9,334.2 831.2,338.3 831.2,341.3C831.2,344.4 829.8,348.6 828.8,351.2C827.7,353.9 826.7,355.4 825.1,357.4C823.4,359.5 822.0,361.9 818.9,363.6C815.8,365.2 810.2,366.3 806.5,367.3C802.8,368.3 799.5,369.0 796.6,369.8C793.7,370.6 791.7,371.6 789.2,372.0C786.7,372.4 784.1,373.4 781.8,372.2C779.5,371.1 777.7,367.5 775.6,364.8C773.6,362.2 771.1,359.3 769.4,356.2C767.8,353.1 766.8,349.4 765.7,346.3C764.7,343.2 763.5,340.5 763.3,337.6C763.1,334.8 762.4,330.2 764.5,329.0Z" fill="none" stroke="#F464B6" stroke-width="2.6" stroke-dasharray="0.9 1.9" filter="url(#speck)"/><path d="M764.5,329.0C766.6,327.8 771.5,329.8 775.6,330.2C779.7,330.6 784.1,331.2 789.2,331.5C794.4,331.8 799.9,331.9 806.5,332.1C813.1,332.3 824.6,331.2 828.8,332.7C832.9,334.2 831.2,338.3 831.2,341.3C831.2,344.4 829.8,348.6 828.8,351.2C827.7,353.9 826.7,355.4 825.1,357.4C823.4,359.5 822.0,361.9 818.9,363.6C815.8,365.2 810.2,366.3 806.5,367.3C802.8,368.3 799.5,369.0 796.6,369.8C793.7,370.6 791.7,371.6 789.2,372.0C786.7,372.4 784.1,373.4 781.8,372.2C779.5,371.1 777.7,367.5 775.6,364.8C773.6,362.2 771.1,359.3 769.4,356.2C767.8,353.1 766.8,349.4 765.7,346.3C764.7,343.2 763.5,340.5 763.3,337.6C763.1,334.8 762.4,330.2 764.5,329.0Z" fill="#F464B6" filter="url(#rough)"/>
<path d="M781.8,373.5C782.6,372.1 786.3,372.5 789.2,371.6C792.1,370.8 795.8,369.7 799.1,368.5C802.4,367.4 805.7,365.9 809.0,364.8C812.3,363.8 816.6,361.7 818.9,362.4C821.1,363.0 820.5,366.7 822.6,368.5C824.6,370.4 829.0,371.8 831.2,373.5C833.5,375.1 835.1,376.4 836.2,378.4C837.2,380.5 836.6,383.0 837.4,385.8C838.2,388.7 840.1,392.6 841.1,395.7C842.2,398.8 843.0,401.7 843.6,404.4C844.2,407.1 845.7,410.4 844.8,411.8C844.0,413.2 839.9,411.8 838.7,413.0C837.4,414.3 838.2,416.9 837.4,419.2C836.6,421.5 835.1,424.2 833.7,426.6C832.3,429.1 830.6,432.0 828.8,434.0C826.9,436.1 824.6,438.4 822.6,439.0C820.5,439.6 818.7,438.6 816.4,437.8C814.1,436.9 811.5,435.9 809.0,434.0C806.5,432.2 803.4,429.3 801.6,426.6C799.7,424.0 798.9,421.1 797.9,418.0C796.8,414.9 796.2,411.4 795.4,408.1C794.6,404.8 794.2,401.7 792.9,398.2C791.7,394.7 789.4,390.2 788.0,387.1C786.5,384.0 785.3,381.9 784.3,379.7C783.2,377.4 781.0,374.8 781.8,373.5Z" fill="none" stroke="#5CD8A2" stroke-width="2.6" stroke-dasharray="0.9 1.9" filter="url(#speck)"/><path d="M781.8,373.5C782.6,372.1 786.3,372.5 789.2,371.6C792.1,370.8 795.8,369.7 799.1,368.5C802.4,367.4 805.7,365.9 809.0,364.8C812.3,363.8 816.6,361.7 818.9,362.4C821.1,363.0 820.5,366.7 822.6,368.5C824.6,370.4 829.0,371.8 831.2,373.5C833.5,375.1 835.1,376.4 836.2,378.4C837.2,380.5 836.6,383.0 837.4,385.8C838.2,388.7 840.1,392.6 841.1,395.7C842.2,398.8 843.0,401.7 843.6,404.4C844.2,407.1 845.7,410.4 844.8,411.8C844.0,413.2 839.9,411.8 838.7,413.0C837.4,414.3 838.2,416.9 837.4,419.2C836.6,421.5 835.1,424.2 833.7,426.6C832.3,429.1 830.6,432.0 828.8,434.0C826.9,436.1 824.6,438.4 822.6,439.0C820.5,439.6 818.7,438.6 816.4,437.8C814.1,436.9 811.5,435.9 809.0,434.0C806.5,432.2 803.4,429.3 801.6,426.6C799.7,424.0 798.9,421.1 797.9,418.0C796.8,414.9 796.2,411.4 795.4,408.1C794.6,404.8 794.2,401.7 792.9,398.2C791.7,394.7 789.4,390.2 788.0,387.1C786.5,384.0 785.3,381.9 784.3,379.7C783.2,377.4 781.0,374.8 781.8,373.5Z" fill="#5CD8A2" filter="url(#rough)"/>
<path d="M820.1,359.3C820.6,358.1 824.8,358.5 826.3,358.7C827.8,358.8 829.6,359.7 831.2,360.5C832.9,361.3 836.3,363.4 838.7,364.8C841.0,366.2 845.9,369.5 848.5,371.0C851.2,372.5 856.8,374.8 858.4,376.0C860.1,377.1 861.4,379.2 860.9,379.7C860.4,380.2 856.7,380.2 854.7,379.7C852.7,379.2 848.4,377.1 846.1,376.0C843.8,374.8 839.7,372.0 837.4,371.0C835.1,370.0 830.7,369.0 828.8,368.5C826.8,368.0 823.7,368.5 822.6,367.3C821.4,366.1 819.6,360.4 820.1,359.3Z" fill="none" stroke="#9FAA2A" stroke-width="2.6" stroke-dasharray="0.9 1.9" filter="url(#speck)"/><path d="M820.1,359.3C820.6,358.1 824.8,358.5 826.3,358.7C827.8,358.8 829.6,359.7 831.2,360.5C832.9,361.3 836.3,363.4 838.7,364.8C841.0,366.2 845.9,369.5 848.5,371.0C851.2,372.5 856.8,374.8 858.4,376.0C860.1,377.1 861.4,379.2 860.9,379.7C860.4,380.2 856.7,380.2 854.7,379.7C852.7,379.2 848.4,377.1 846.1,376.0C843.8,374.8 839.7,372.0 837.4,371.0C835.1,370.0 830.7,369.0 828.8,368.5C826.8,368.0 823.7,368.5 822.6,367.3C821.4,366.1 819.6,360.4 820.1,359.3Z" fill="#9FAA2A" filter="url(#rough)"/>
<path d="M877.0,351.9C876.6,350.9 878.9,351.1 880.7,351.9C882.5,352.6 888.3,356.5 890.6,357.4C892.9,358.3 896.0,358.0 898.0,358.7C900.0,359.3 904.0,361.0 905.4,362.4C906.8,363.7 908.2,366.9 908.5,368.5C908.8,370.2 908.6,373.4 907.9,374.7C907.1,376.0 904.4,378.1 902.9,378.4C901.4,378.8 898.2,377.9 896.7,377.2C895.3,376.5 893.0,375.0 891.8,373.5C890.6,372.0 889.2,368.0 888.1,366.1C886.9,364.1 884.6,360.5 883.1,358.7C881.7,356.8 877.3,352.8 877.0,351.9Z" fill="none" stroke="#5EC21E" stroke-width="2.6" stroke-dasharray="0.9 1.9" filter="url(#speck)"/><path d="M877.0,351.9C876.6,350.9 878.9,351.1 880.7,351.9C882.5,352.6 888.3,356.5 890.6,357.4C892.9,358.3 896.0,358.0 898.0,358.7C900.0,359.3 904.0,361.0 905.4,362.4C906.8,363.7 908.2,366.9 908.5,368.5C908.8,370.2 908.6,373.4 907.9,374.7C907.1,376.0 904.4,378.1 902.9,378.4C901.4,378.8 898.2,377.9 896.7,377.2C895.3,376.5 893.0,375.0 891.8,373.5C890.6,372.0 889.2,368.0 888.1,366.1C886.9,364.1 884.6,360.5 883.1,358.7C881.7,356.8 877.3,352.8 877.0,351.9Z" fill="#5EC21E" filter="url(#rough)"/>
<path d="M901.7,377.2C902.2,378.0 903.8,380.6 904.8,382.1C905.7,383.7 906.8,385.7 907.2,386.5" fill="none" stroke="#5EC21E" stroke-width="2.99" stroke-linecap="round"/>
<path d="M907.6,388.3a1.26,1.26 0 1,0 2.52,0a1.26,1.26 0 1,0 -2.52,0" fill="#EE6C6C"/>
<path d="M827.6,308.5a1.2,1.2 0 1,0 2.4,0a1.2,1.2 0 1,0 -2.4,0M832.5,295.7a1.2,1.2 0 1,0 2.4,0a1.2,1.2 0 1,0 -2.4,0M828.0,306.5a1.2,1.2 0 1,0 2.4,0a1.2,1.2 0 1,0 -2.4,0M828.3,303.8a1.2,1.2 0 1,0 2.4,0a1.2,1.2 0 1,0 -2.4,0M828.3,303.0a1.2,1.2 0 1,0 2.4,0a1.2,1.2 0 1,0 -2.4,0M828.4,308.7a1.2,1.2 0 1,0 2.4,0a1.2,1.2 0 1,0 -2.4,0M829.7,302.3a1.2,1.2 0 1,0 2.4,0a1.2,1.2 0 1,0 -2.4,0M830.7,296.8a1.2,1.2 0 1,0 2.4,0a1.2,1.2 0 1,0 -2.4,0M831.2,300.2a1.2,1.2 0 1,0 2.4,0a1.2,1.2 0 1,0 -2.4,0M829.1,303.8a1.2,1.2 0 1,0 2.4,0a1.2,1.2 0 1,0 -2.4,0M831.2,301.5a1.2,1.2 0 1,0 2.4,0a1.2,1.2 0 1,0 -2.4,0M826.6,308.5a1.2,1.2 0 1,0 2.4,0a1.2,1.2 0 1,0 -2.4,0M828.0,306.0a1.2,1.2 0 1,0 2.4,0a1.2,1.2 0 1,0 -2.4,0M827.6,305.9a1.2,1.2 0 1,0 2.4,0a1.2,1.2 0 1,0 -2.4,0" fill="#C89858"/>
<path d="M833.7,280.8a1.26,1.26 0 1,0 2.52,0a1.26,1.26 0 1,0 -2.52,0M842.3,282.6a1.26,1.26 0 1,0 2.52,0a1.26,1.26 0 1,0 -2.52,0M863.3,279.8a1.26,1.26 0 1,0 2.52,0a1.26,1.26 0 1,0 -2.52,0M775.6,325.3a1.26,1.26 0 1,0 2.52,0a1.26,1.26 0 1,0 -2.52,0M783.6,356.8a1.26,1.26 0 1,0 2.52,0a1.26,1.26 0 1,0 -2.52,0M793.5,364.2a1.26,1.26 0 1,0 2.52,0a1.26,1.26 0 1,0 -2.52,0M746.5,315.4a1.26,1.26 0 1,0 2.52,0a1.26,1.26 0 1,0 -2.52,0" fill="#D89068"/>
<path d="M807.1,298.1a1.26,1.26 0 1,0 2.52,0a1.26,1.26 0 1,0 -2.52,0M811.4,297.5a1.26,1.26 0 1,0 2.52,0a1.26,1.26 0 1,0 -2.52,0M809.6,301.2a1.26,1.26 0 1,0 2.52,0a1.26,1.26 0 1,0 -2.52,0M815.1,301.8a1.26,1.26 0 1,0 2.52,0a1.26,1.26 0 1,0 -2.52,0M817.6,299.3a1.26,1.26 0 1,0 2.52,0a1.26,1.26 0 1,0 -2.52,0M823.8,298.1a1.26,1.26 0 1,0 2.52,0a1.26,1.26 0 1,0 -2.52,0M817.0,290.1a1.26,1.26 0 1,0 2.52,0a1.26,1.26 0 1,0 -2.52,0M837.4,335.2a1.26,1.26 0 1,0 2.52,0a1.26,1.26 0 1,0 -2.52,0M840.5,331.5a1.26,1.26 0 1,0 2.52,0a1.26,1.26 0 1,0 -2.52,0M840.5,341.3a1.26,1.26 0 1,0 2.52,0a1.26,1.26 0 1,0 -2.52,0M853.5,342.6a1.26,1.26 0 1,0 2.52,0a1.26,1.26 0 1,0 -2.52,0M850.4,345.1a1.26,1.26 0 1,0 2.52,0a1.26,1.26 0 1,0 -2.52,0M847.3,347.5a1.26,1.26 0 1,0 2.52,0a1.26,1.26 0 1,0 -2.52,0M830.6,351.9a1.26,1.26 0 1,0 2.52,0a1.26,1.26 0 1,0 -2.52,0M833.7,353.7a1.26,1.26 0 1,0 2.52,0a1.26,1.26 0 1,0 -2.52,0M840.5,354.9a1.26,1.26 0 1,0 2.52,0a1.26,1.26 0 1,0 -2.52,0M841.1,356.8a1.26,1.26 0 1,0 2.52,0a1.26,1.26 0 1,0 -2.52,0M829.4,329.0a1.26,1.26 0 1,0 2.52,0a1.26,1.26 0 1,0 -2.52,0M831.8,330.8a1.26,1.26 0 1,0 2.52,0a1.26,1.26 0 1,0 -2.52,0M834.9,362.4a1.26,1.26 0 1,0 2.52,0a1.26,1.26 0 1,0 -2.52,0M780.5,372.9a1.26,1.26 0 1,0 2.52,0a1.26,1.26 0 1,0 -2.52,0" fill="#EC6CC8"/>
<path d="M827.5,354.3a1.26,1.26 0 1,0 2.52,0a1.26,1.26 0 1,0 -2.52,0M835.5,356.8a1.26,1.26 0 1,0 2.52,0a1.26,1.26 0 1,0 -2.52,0" fill="#50C8A8"/>
<path d="M807.7,372.9a1.26,1.26 0 1,0 2.52,0a1.26,1.26 0 1,0 -2.52,0M810.8,370.4a1.26,1.26 0 1,0 2.52,0a1.26,1.26 0 1,0 -2.52,0M814.5,373.5a1.26,1.26 0 1,0 2.52,0a1.26,1.26 0 1,0 -2.52,0" fill="#C080F0"/>
<path d="M870.8,361.5a1.26,1.26 0 1,0 2.52,0a1.26,1.26 0 1,0 -2.52,0M885.6,359.3a1.26,1.26 0 1,0 2.52,0a1.26,1.26 0 1,0 -2.52,0M835.5,391.4a1.26,1.26 0 1,0 2.52,0a1.26,1.26 0 1,0 -2.52,0M858.4,379.4a1.26,1.26 0 1,0 2.52,0a1.26,1.26 0 1,0 -2.52,0" fill="#E07080"/>
<path d="M861.5,377.8a1.26,1.26 0 1,0 2.52,0a1.26,1.26 0 1,0 -2.52,0M826.3,376.6a1.26,1.26 0 1,0 2.52,0a1.26,1.26 0 1,0 -2.52,0M823.8,377.8a1.26,1.26 0 1,0 2.52,0a1.26,1.26 0 1,0 -2.52,0" fill="#80B030"/>
<path d="M879.3,436.8a1.38,1.38 0 1,0 2.76,0a1.38,1.38 0 1,0 -2.76,0" fill="#D080E8"/>
<path d="M853.8,312.9a0.9,0.9 0 1,0 1.8,0a0.9,0.9 0 1,0 -1.8,0M856.3,310.4a0.9,0.9 0 1,0 1.8,0a0.9,0.9 0 1,0 -1.8,0M874.8,308.6a0.9,0.9 0 1,0 1.8,0a0.9,0.9 0 1,0 -1.8,0M829.1,322.2a0.9,0.9 0 1,0 1.8,0a0.9,0.9 0 1,0 -1.8,0M831.0,325.3a0.9,0.9 0 1,0 1.8,0a0.9,0.9 0 1,0 -1.8,0M835.3,326.5a0.9,0.9 0 1,0 1.8,0a0.9,0.9 0 1,0 -1.8,0M832.8,319.1a0.9,0.9 0 1,0 1.8,0a0.9,0.9 0 1,0 -1.8,0M826.6,319.1a0.9,0.9 0 1,0 1.8,0a0.9,0.9 0 1,0 -1.8,0M754.9,324.0a0.9,0.9 0 1,0 1.8,0a0.9,0.9 0 1,0 -1.8,0M751.9,317.2a0.9,0.9 0 1,0 1.8,0a0.9,0.9 0 1,0 -1.8,0" fill="#fff"/>
<path d="M714.2,397.2C715.4,395.4 717.9,394.5 720.3,394.1C722.8,393.7 726.3,394.0 729.0,394.7C731.7,395.4 734.1,397.6 736.4,398.4C738.7,399.3 740.9,398.6 742.6,399.7C744.2,400.7 745.9,402.5 746.3,404.6C746.7,406.7 745.9,410.2 745.1,412.0C744.2,413.9 742.8,414.9 741.3,415.7C739.9,416.6 737.8,415.7 736.4,417.0C735.0,418.2 733.7,421.3 732.7,423.1C731.7,425.0 731.3,426.9 730.2,428.1C729.2,429.3 727.5,431.0 726.5,430.6C725.5,430.1 724.9,427.5 724.0,425.6C723.2,423.8 722.2,421.5 721.6,419.4C721.0,417.4 721.4,414.7 720.3,413.3C719.3,411.8 716.6,412.2 715.4,410.8C714.2,409.3 713.1,406.9 712.9,404.6C712.7,402.3 712.9,398.9 714.2,397.2Z" fill="#C49A20" filter="url(#rough2)"/>
<path d="M712.6,392.5a1.32,1.32 0 1,0 2.64,0a1.32,1.32 0 1,0 -2.64,0M707.3,420.9a1.32,1.32 0 1,0 2.64,0a1.32,1.32 0 1,0 -2.64,0M702.0,427.5a1.32,1.32 0 1,0 2.64,0a1.32,1.32 0 1,0 -2.64,0M733.2,433.9a1.32,1.32 0 1,0 2.64,0a1.32,1.32 0 1,0 -2.64,0M724.0,436.7a1.32,1.32 0 1,0 2.64,0a1.32,1.32 0 1,0 -2.64,0M726.4,439.2a1.32,1.32 0 1,0 2.64,0a1.32,1.32 0 1,0 -2.64,0M722.7,441.1a1.32,1.32 0 1,0 2.64,0a1.32,1.32 0 1,0 -2.64,0M734.1,448.1a1.32,1.32 0 1,0 2.64,0a1.32,1.32 0 1,0 -2.64,0M732.2,452.2a1.32,1.32 0 1,0 2.64,0a1.32,1.32 0 1,0 -2.64,0M743.7,453.1a1.32,1.32 0 1,0 2.64,0a1.32,1.32 0 1,0 -2.64,0M742.9,456.5a1.32,1.32 0 1,0 2.64,0a1.32,1.32 0 1,0 -2.64,0M737.6,421.3a1.32,1.32 0 1,0 2.64,0a1.32,1.32 0 1,0 -2.64,0M738.2,423.8a1.32,1.32 0 1,0 2.64,0a1.32,1.32 0 1,0 -2.64,0M717.2,417.6a1.32,1.32 0 1,0 2.64,0a1.32,1.32 0 1,0 -2.64,0M734.5,426.9a1.32,1.32 0 1,0 2.64,0a1.32,1.32 0 1,0 -2.64,0M717.8,412.6a1.32,1.32 0 1,0 2.64,0a1.32,1.32 0 1,0 -2.64,0M742.5,401.5a1.32,1.32 0 1,0 2.64,0a1.32,1.32 0 1,0 -2.64,0M709.1,407.1a1.32,1.32 0 1,0 2.64,0a1.32,1.32 0 1,0 -2.64,0" fill="#C49A20"/>
<path d="M709.1,412.6a1.32,1.32 0 1,0 2.64,0a1.32,1.32 0 1,0 -2.64,0M737.6,426.9a1.32,1.32 0 1,0 2.64,0a1.32,1.32 0 1,0 -2.64,0M724.0,443.2a1.32,1.32 0 1,0 2.64,0a1.32,1.32 0 1,0 -2.64,0M728.3,394.1a1.32,1.32 0 1,0 2.64,0a1.32,1.32 0 1,0 -2.64,0" fill="#D878F0"/>
<path d="M715.2,396.0a1.38,1.38 0 1,0 2.76,0a1.38,1.38 0 1,0 -2.76,0M722.0,394.7a1.38,1.38 0 1,0 2.76,0a1.38,1.38 0 1,0 -2.76,0" fill="#E870A0"/>
<path d="M736.9,455.7a1.32,1.32 0 1,0 2.64,0a1.32,1.32 0 1,0 -2.64,0" fill="#70B838"/>
<path d="M816.5,476.0C816.4,476.9 816.1,479.3 816.1,481.2C816.2,483.1 816.9,485.5 816.7,487.4C816.5,489.4 815.2,492.1 814.9,493.0" fill="none" stroke="#B582FA" stroke-width="2.3" stroke-linecap="round"/>
<path d="M812.8,481.2a1.49,1.49 0 1,0 2.98,0a1.49,1.49 0 1,0 -2.98,0M816.5,484.3a1.49,1.49 0 1,0 2.98,0a1.49,1.49 0 1,0 -2.98,0" fill="#B582FA"/>
<path d="M821.1,480.4 L824.8,479.4" fill="none" stroke="#E86878" stroke-width="2.53" stroke-linecap="round"/>
<path d="M850.1,527.6C850.8,528.5 853.4,530.6 854.4,533.1C855.5,535.7 856.1,539.9 856.3,543.0C856.5,546.1 856.2,549.0 855.7,551.7C855.2,554.4 854.1,556.9 853.2,559.1C852.3,561.3 850.6,563.7 850.1,564.7" fill="none" stroke="#52C2EE" stroke-width="4.2" stroke-linecap="round" filter="url(#rough)"/>
<path d="M836.4,570.0a1.38,1.38 0 1,0 2.76,0a1.38,1.38 0 1,0 -2.76,0M840.1,571.2a1.38,1.38 0 1,0 2.76,0a1.38,1.38 0 1,0 -2.76,0M843.8,569.0a1.38,1.38 0 1,0 2.76,0a1.38,1.38 0 1,0 -2.76,0M844.8,571.5a1.38,1.38 0 1,0 2.76,0a1.38,1.38 0 1,0 -2.76,0M833.9,551.7a1.38,1.38 0 1,0 2.76,0a1.38,1.38 0 1,0 -2.76,0M846.3,552.9a1.38,1.38 0 1,0 2.76,0a1.38,1.38 0 1,0 -2.76,0" fill="#52C2EE"/>
<path d="M799.3,542.4a1.38,1.38 0 1,0 2.76,0a1.38,1.38 0 1,0 -2.76,0" fill="#50D0C0"/>
<path d="M809.6,549.8a1.38,1.38 0 1,0 2.76,0a1.38,1.38 0 1,0 -2.76,0" fill="#A890F8"/>
<path d="M828.7,572.7a1.38,1.38 0 1,0 2.76,0a1.38,1.38 0 1,0 -2.76,0" fill="#F060D0"/>
<path d="M917.2,434.9C917.5,432.4 920.0,430.5 921.6,428.1C923.1,425.7 925.3,423.1 926.5,420.7C927.8,418.2 927.8,415.5 929.0,413.3C930.2,411.0 932.1,408.9 933.9,407.1C935.8,405.2 937.8,403.5 940.1,402.1C942.4,400.8 945.1,399.8 947.5,399.0C950.0,398.3 952.3,397.7 954.9,397.8C957.6,397.9 960.9,398.7 963.6,399.7C966.3,400.6 968.5,402.1 971.0,403.4C973.5,404.6 976.2,405.4 978.4,407.1C980.7,408.7 983.0,411.2 984.6,413.3C986.3,415.3 987.6,417.2 988.3,419.4C989.0,421.7 989.0,424.2 988.9,426.9C988.8,429.5 988.2,432.6 987.7,435.5C987.2,438.4 986.8,441.3 985.8,444.2C984.9,447.0 983.8,450.3 982.1,452.8C980.5,455.3 978.4,457.2 976.0,459.0C973.5,460.7 970.2,462.3 967.3,463.3C964.4,464.3 961.3,464.9 958.7,465.2C956.0,465.5 953.9,465.6 951.2,465.2C948.6,464.8 945.3,463.7 942.6,462.7C939.9,461.7 937.4,460.0 935.2,459.0C932.9,458.0 930.5,456.9 929.0,456.5C927.4,456.1 926.5,457.5 925.9,456.5C925.3,455.5 926.2,452.6 925.3,450.3C924.4,448.1 921.7,445.5 920.3,442.9C919.0,440.3 917.0,437.4 917.2,434.9Z" fill="none" stroke="#EE6C6C" stroke-width="2.6" stroke-dasharray="0.9 1.9" filter="url(#speck)"/><path d="M917.2,434.9C917.5,432.4 920.0,430.5 921.6,428.1C923.1,425.7 925.3,423.1 926.5,420.7C927.8,418.2 927.8,415.5 929.0,413.3C930.2,411.0 932.1,408.9 933.9,407.1C935.8,405.2 937.8,403.5 940.1,402.1C942.4,400.8 945.1,399.8 947.5,399.0C950.0,398.3 952.3,397.7 954.9,397.8C957.6,397.9 960.9,398.7 963.6,399.7C966.3,400.6 968.5,402.1 971.0,403.4C973.5,404.6 976.2,405.4 978.4,407.1C980.7,408.7 983.0,411.2 984.6,413.3C986.3,415.3 987.6,417.2 988.3,419.4C989.0,421.7 989.0,424.2 988.9,426.9C988.8,429.5 988.2,432.6 987.7,435.5C987.2,438.4 986.8,441.3 985.8,444.2C984.9,447.0 983.8,450.3 982.1,452.8C980.5,455.3 978.4,457.2 976.0,459.0C973.5,460.7 970.2,462.3 967.3,463.3C964.4,464.3 961.3,464.9 958.7,465.2C956.0,465.5 953.9,465.6 951.2,465.2C948.6,464.8 945.3,463.7 942.6,462.7C939.9,461.7 937.4,460.0 935.2,459.0C932.9,458.0 930.5,456.9 929.0,456.5C927.4,456.1 926.5,457.5 925.9,456.5C925.3,455.5 926.2,452.6 925.3,450.3C924.4,448.1 921.7,445.5 920.3,442.9C919.0,440.3 917.0,437.4 917.2,434.9Z" fill="#EE6C6C" filter="url(#rough)"/>
<path d="M924.0,399.4C924.6,400.3 926.1,402.9 927.1,404.6C928.2,406.3 929.7,408.7 930.2,409.6" fill="none" stroke="#EE6C6C" stroke-width="3.45" stroke-linecap="round"/>
<path d="M930.6,406.8a1.49,1.49 0 1,0 2.98,0a1.49,1.49 0 1,0 -2.98,0" fill="#70B838"/>
<path d="M937.6,468.3a1.32,1.32 0 1,0 2.64,0a1.32,1.32 0 1,0 -2.64,0M936.3,472.6a1.32,1.32 0 1,0 2.64,0a1.32,1.32 0 1,0 -2.64,0M934.5,475.1a1.32,1.32 0 1,0 2.64,0a1.32,1.32 0 1,0 -2.64,0M932.9,477.3a1.32,1.32 0 1,0 2.64,0a1.32,1.32 0 1,0 -2.64,0M924.6,486.8a1.32,1.32 0 1,0 2.64,0a1.32,1.32 0 1,0 -2.64,0M921.7,490.1a1.32,1.32 0 1,0 2.64,0a1.32,1.32 0 1,0 -2.64,0" fill="#EE6C6C"/>
<path d="M931.4,480.0a1.32,1.32 0 1,0 2.64,0a1.32,1.32 0 1,0 -2.64,0M929.5,482.5a1.32,1.32 0 1,0 2.64,0a1.32,1.32 0 1,0 -2.64,0M927.7,484.9a1.32,1.32 0 1,0 2.64,0a1.32,1.32 0 1,0 -2.64,0M925.8,487.4a1.32,1.32 0 1,0 2.64,0a1.32,1.32 0 1,0 -2.64,0M925.2,489.9a1.32,1.32 0 1,0 2.64,0a1.32,1.32 0 1,0 -2.64,0M902.3,513.1a1.32,1.32 0 1,0 2.64,0a1.32,1.32 0 1,0 -2.64,0M897.0,516.2a1.32,1.32 0 1,0 2.64,0a1.32,1.32 0 1,0 -2.64,0" fill="#40CF50"/>
<circle cx="921.6" cy="497.3" r="3.00" fill="#40CF50"/>
<path d="M898.1,506.0C899.0,505.3 902.5,504.4 904.3,504.1C906.1,503.8 909.7,503.6 911.7,503.5C913.7,503.3 917.3,503.2 919.1,502.9C920.9,502.5 924.6,500.6 925.3,501.0C925.9,501.4 925.2,505.0 924.0,506.0C922.9,506.9 918.6,507.9 916.6,508.4C914.7,509.0 911.2,510.0 909.2,510.3C907.2,510.6 903.4,511.1 901.8,510.9C900.2,510.7 898.0,509.7 897.5,509.0C897.0,508.4 897.2,506.6 898.1,506.0Z" fill="none" stroke="#40CF50" stroke-width="2.6" stroke-dasharray="0.9 1.9" filter="url(#speck)"/><path d="M898.1,506.0C899.0,505.3 902.5,504.4 904.3,504.1C906.1,503.8 909.7,503.6 911.7,503.5C913.7,503.3 917.3,503.2 919.1,502.9C920.9,502.5 924.6,500.6 925.3,501.0C925.9,501.4 925.2,505.0 924.0,506.0C922.9,506.9 918.6,507.9 916.6,508.4C914.7,509.0 911.2,510.0 909.2,510.3C907.2,510.6 903.4,511.1 901.8,510.9C900.2,510.7 898.0,509.7 897.5,509.0C897.0,508.4 897.2,506.6 898.1,506.0Z" fill="#40CF50" filter="url(#rough)"/>
<path d="M879.3,437.0a1.49,1.49 0 1,0 2.98,0a1.49,1.49 0 1,0 -2.98,0" fill="#D070E8"/>
<path d="M930.7,430.6a0.8,0.8 0 1,0 1.6,0a0.8,0.8 0 1,0 -1.6,0M931.9,422.5a0.8,0.8 0 1,0 1.6,0a0.8,0.8 0 1,0 -1.6,0M932.5,434.3a0.8,0.8 0 1,0 1.6,0a0.8,0.8 0 1,0 -1.6,0M935.0,425.0a0.8,0.8 0 1,0 1.6,0a0.8,0.8 0 1,0 -1.6,0" fill="#fff"/>
<path d="M918.0,202.5a1.26,1.26 0 1,0 2.52,0a1.26,1.26 0 1,0 -2.52,0M924.0,207.7a1.26,1.26 0 1,0 2.52,0a1.26,1.26 0 1,0 -2.52,0M949.4,321.4a1.26,1.26 0 1,0 2.52,0a1.26,1.26 0 1,0 -2.52,0M951.2,321.4a1.26,1.26 0 1,0 2.52,0a1.26,1.26 0 1,0 -2.52,0M950.6,326.7a1.26,1.26 0 1,0 2.52,0a1.26,1.26 0 1,0 -2.52,0M969.5,328.2a1.26,1.26 0 1,0 2.52,0a1.26,1.26 0 1,0 -2.52,0M870.9,361.6a1.26,1.26 0 1,0 2.52,0a1.26,1.26 0 1,0 -2.52,0M907.6,388.8a1.26,1.26 0 1,0 2.52,0a1.26,1.26 0 1,0 -2.52,0" fill="#E8607A"/>
<path d="M916.9,205.6a1.26,1.26 0 1,0 2.52,0a1.26,1.26 0 1,0 -2.52,0M924.4,210.5a1.26,1.26 0 1,0 2.52,0a1.26,1.26 0 1,0 -2.52,0M973.7,330.1a1.26,1.26 0 1,0 2.52,0a1.26,1.26 0 1,0 -2.52,0" fill="#50C0A0"/>
<path d="M922.2,206.6a1.26,1.26 0 1,0 2.52,0a1.26,1.26 0 1,0 -2.52,0" fill="#60A8F0"/>
<path d="M919.6,213.3a1.32,1.32 0 1,0 2.64,0a1.32,1.32 0 1,0 -2.64,0M921.2,212.6a1.32,1.32 0 1,0 2.64,0a1.32,1.32 0 1,0 -2.64,0M922.7,213.9a1.32,1.32 0 1,0 2.64,0a1.32,1.32 0 1,0 -2.64,0M920.3,216.0a1.32,1.32 0 1,0 2.64,0a1.32,1.32 0 1,0 -2.64,0M924.0,214.5a1.32,1.32 0 1,0 2.64,0a1.32,1.32 0 1,0 -2.64,0M927.9,215.4a1.32,1.32 0 1,0 2.64,0a1.32,1.32 0 1,0 -2.64,0M924.0,219.1a1.32,1.32 0 1,0 2.64,0a1.32,1.32 0 1,0 -2.64,0M959.6,281.7a1.32,1.32 0 1,0 2.64,0a1.32,1.32 0 1,0 -2.64,0M946.8,324.5a1.32,1.32 0 1,0 2.64,0a1.32,1.32 0 1,0 -2.64,0M963.5,331.7a1.32,1.32 0 1,0 2.64,0a1.32,1.32 0 1,0 -2.64,0M971.5,331.3a1.32,1.32 0 1,0 2.64,0a1.32,1.32 0 1,0 -2.64,0M986.1,329.4a1.32,1.32 0 1,0 2.64,0a1.32,1.32 0 1,0 -2.64,0M987.6,332.9a1.32,1.32 0 1,0 2.64,0a1.32,1.32 0 1,0 -2.64,0" fill="#DC70F0"/>
<path d="M882.0,361.6a1.26,1.26 0 1,0 2.52,0a1.26,1.26 0 1,0 -2.52,0M891.9,375.8a1.26,1.26 0 1,0 2.52,0a1.26,1.26 0 1,0 -2.52,0" fill="#D89050"/>
<text x="856.81" y="293.27" font-size="10.7" text-anchor="middle" stroke="#000" stroke-width="0.2">Trophocytes_2</text>
<text x="782.61" y="314.60" font-size="10.7" text-anchor="middle" stroke="#000" stroke-width="0.2">Trophocytes_1</text>
<text x="798.09" y="349.36" font-size="10.7" text-anchor="middle" stroke="#000" stroke-width="0.2">Trophocytes_3</text>
<text x="842.49" y="375.95" font-size="10.7" text-anchor="middle" stroke="#000" stroke-width="0.2">MFs</text>
<text x="900.33" y="371.56" font-size="10.7" text-anchor="middle" stroke="#000" stroke-width="0.2">Pdgfra(hi)Cd81(+)</text>
<text x="736.16" y="408.08" font-size="10.7" text-anchor="middle" stroke="#000" stroke-width="0.2">Mesothelial−like_2</text>
<text x="716.88" y="410.13" font-size="10.7" text-anchor="middle" stroke="#000" stroke-width="0.2">Mesothelial−like_1</text>
<text x="817.37" y="411.59" font-size="10.7" text-anchor="middle" stroke="#000" stroke-width="0.2">SEMFs_1</text>
<text x="817.95" y="441.68" font-size="10.7" text-anchor="middle" stroke="#000" stroke-width="0.2">SEMFs_2</text>
<text x="958.18" y="438.17" font-size="10.7" text-anchor="middle" stroke="#000" stroke-width="0.2">LECs</text>
<text x="818.25" y="489.88" font-size="10.7" text-anchor="middle" stroke="#000" stroke-width="0.2">Telocytes(proliferative)</text>
<text x="911.44" y="509.74" font-size="10.7" text-anchor="middle" stroke="#000" stroke-width="0.2">Pericytes</text>
<text x="854.18" y="545.38" font-size="10.7" text-anchor="middle" stroke="#000" stroke-width="0.2">Telocytes_1</text>
<text x="844.54" y="551.23" font-size="10.7" text-anchor="middle" stroke="#000" stroke-width="0.2">Telocytes_2</text>
<path d="M631.90,183.50V591.40H1039.70" fill="none" stroke="#000" stroke-width="1.6"/>
<line x1="636.50" y1="591.40" x2="636.50" y2="595.00" stroke="#000" stroke-width="1.6"/>
<text x="636.50" y="608.00" font-size="12.8" text-anchor="middle">−15</text>
<line x1="702.30" y1="591.40" x2="702.30" y2="595.00" stroke="#000" stroke-width="1.6"/>
<text x="702.30" y="608.00" font-size="12.8" text-anchor="middle">−10</text>
<line x1="767.70" y1="591.40" x2="767.70" y2="595.00" stroke="#000" stroke-width="1.6"/>
<text x="767.70" y="608.00" font-size="12.8" text-anchor="middle">−5</text>
<line x1="833.20" y1="591.40" x2="833.20" y2="595.00" stroke="#000" stroke-width="1.6"/>
<text x="833.20" y="608.00" font-size="12.8" text-anchor="middle">0</text>
<line x1="898.60" y1="591.40" x2="898.60" y2="595.00" stroke="#000" stroke-width="1.6"/>
<text x="898.60" y="608.00" font-size="12.8" text-anchor="middle">5</text>
<line x1="964.30" y1="591.40" x2="964.30" y2="595.00" stroke="#000" stroke-width="1.6"/>
<text x="964.30" y="608.00" font-size="12.8" text-anchor="middle">10</text>
<line x1="1029.80" y1="591.40" x2="1029.80" y2="595.00" stroke="#000" stroke-width="1.6"/>
<text x="1029.80" y="608.00" font-size="12.8" text-anchor="middle">15</text>
<line x1="628.30" y1="193.20" x2="631.90" y2="193.20" stroke="#000" stroke-width="1.6"/>
<text x="626.10" y="197.81" font-size="12.8" text-anchor="end">15</text>
<line x1="628.30" y1="258.60" x2="631.90" y2="258.60" stroke="#000" stroke-width="1.6"/>
<text x="626.10" y="263.21" font-size="12.8" text-anchor="end">10</text>
<line x1="628.30" y1="324.00" x2="631.90" y2="324.00" stroke="#000" stroke-width="1.6"/>
<text x="626.10" y="328.61" font-size="12.8" text-anchor="end">5</text>
<line x1="628.30" y1="389.80" x2="631.90" y2="389.80" stroke="#000" stroke-width="1.6"/>
<text x="626.10" y="394.41" font-size="12.8" text-anchor="end">0</text>
<line x1="628.30" y1="455.20" x2="631.90" y2="455.20" stroke="#000" stroke-width="1.6"/>
<text x="626.10" y="459.81" font-size="12.8" text-anchor="end">−5</text>
<line x1="628.30" y1="520.70" x2="631.90" y2="520.70" stroke="#000" stroke-width="1.6"/>
<text x="626.10" y="525.31" font-size="12.8" text-anchor="end">−10</text>
<line x1="628.30" y1="586.40" x2="631.90" y2="586.40" stroke="#000" stroke-width="1.6"/>
<text x="626.10" y="591.01" font-size="12.8" text-anchor="end">−15</text>
<text x="834.70" y="626.10" font-size="15" text-anchor="middle">umap_1</text>
<text x="596.10" y="387.70" font-size="15" text-anchor="middle" transform="rotate(-90 596.10 387.70)">umap_2</text>
<text x="835.50" y="173.01" font-size="17.25" text-anchor="middle" font-weight="bold">Cell Type</text>
<circle cx="639.9" cy="652.2" r="4.90" fill="#F0787A"/>
<text x="656.00" y="656.05" font-size="10.7">LECs</text>
<circle cx="639.9" cy="676.5" r="4.90" fill="#E58B35"/>
<text x="656.00" y="680.35" font-size="10.7">Mesothelial−like_1</text>
<circle cx="639.9" cy="700.7" r="4.90" fill="#C99F35"/>
<text x="656.00" y="704.55" font-size="10.7">Mesothelial−like_2</text>
<circle cx="639.9" cy="725.0" r="4.90" fill="#A0AE35"/>
<text x="656.00" y="728.85" font-size="10.7">MFs</text>
<circle cx="639.9" cy="749.2" r="4.90" fill="#66C234"/>
<text x="656.00" y="753.05" font-size="10.7">Pdgfra(hi)Cd81(+)</text>
<circle cx="760.8" cy="652.2" r="4.90" fill="#4CCB66"/>
<text x="776.90" y="656.05" font-size="10.7">Pericytes</text>
<circle cx="760.8" cy="676.5" r="4.90" fill="#5AD2A8"/>
<text x="776.90" y="680.35" font-size="10.7">SEMFs_1</text>
<circle cx="760.8" cy="700.7" r="4.90" fill="#5AD2CC"/>
<text x="776.90" y="704.55" font-size="10.7">SEMFs_2</text>
<circle cx="760.8" cy="725.0" r="4.90" fill="#5BC4EE"/>
<text x="776.90" y="728.85" font-size="10.7">Telocytes_1</text>
<circle cx="760.8" cy="749.2" r="4.90" fill="#5CAAF5"/>
<text x="776.90" y="753.05" font-size="10.7">Telocytes_2</text>
<circle cx="849.6" cy="652.2" r="4.90" fill="#A896F8"/>
<text x="865.70" y="656.05" font-size="10.7">Telocytes(proliferative)</text>
<circle cx="849.6" cy="676.5" r="4.90" fill="#D880F8"/>
<text x="865.70" y="680.35" font-size="10.7">Trophocytes_1</text>
<circle cx="849.6" cy="700.7" r="4.90" fill="#F56EF0"/>
<text x="865.70" y="704.55" font-size="10.7">Trophocytes_2</text>
<circle cx="849.6" cy="725.0" r="4.90" fill="#F56CB4"/>
<text x="865.70" y="728.85" font-size="10.7">Trophocytes_3</text>
<path d="M1160.8,382.1C1162.0,379.9 1165.9,379.5 1168.2,378.4C1170.5,377.4 1172.1,376.5 1174.4,376.0C1176.6,375.4 1179.3,374.9 1181.8,375.3C1184.3,375.7 1186.7,377.5 1189.2,378.4C1191.7,379.4 1194.6,379.9 1196.6,380.9C1198.7,381.9 1199.9,383.2 1201.6,384.6C1203.2,386.0 1205.3,387.7 1206.5,389.6C1207.8,391.4 1209.0,393.7 1209.0,395.7C1209.0,397.8 1208.2,400.7 1206.5,401.9C1204.9,403.1 1201.6,402.5 1199.1,403.1C1196.6,403.8 1193.7,404.0 1191.7,405.6C1189.6,407.3 1188.4,411.2 1186.7,413.0C1185.1,414.9 1183.9,416.3 1181.8,416.7C1179.7,417.2 1176.4,416.3 1174.4,415.5C1172.3,414.7 1170.9,413.4 1169.4,411.8C1168.0,410.2 1166.8,407.7 1165.7,405.6C1164.7,403.6 1164.1,401.7 1163.3,399.4C1162.4,397.2 1161.2,394.9 1160.8,392.0C1160.4,389.1 1159.6,384.4 1160.8,382.1Z" fill="#E08A28" filter="url(#rough2)"/>
<path d="M1186.7,408.1C1188.0,406.0 1191.7,404.6 1194.2,403.1C1196.6,401.7 1199.1,400.7 1201.6,399.4C1204.0,398.2 1207.8,394.9 1209.0,395.7C1210.2,396.6 1209.4,401.5 1209.0,404.4C1208.6,407.3 1207.1,410.2 1206.5,413.0C1205.9,415.9 1205.3,419.0 1205.3,421.7C1205.3,424.4 1205.7,426.8 1206.5,429.1C1207.3,431.4 1208.4,433.6 1210.2,435.3C1212.1,436.9 1216.3,437.3 1217.6,439.0C1219.0,440.6 1218.7,443.5 1218.3,445.2C1217.8,446.8 1216.7,448.1 1215.2,448.9C1213.6,449.7 1211.0,450.3 1209.0,450.1C1206.9,449.9 1204.5,448.9 1202.8,447.6C1201.2,446.4 1200.3,444.6 1199.1,442.7C1197.9,440.8 1196.8,438.2 1195.4,436.5C1194.0,434.9 1191.7,434.5 1190.4,432.8C1189.2,431.2 1188.8,428.5 1188.0,426.6C1187.2,424.8 1185.7,423.5 1185.5,421.7C1185.3,419.8 1186.5,417.8 1186.7,415.5C1186.9,413.2 1185.5,410.2 1186.7,408.1Z" fill="#C49A20" filter="url(#rough2)"/>
<path d="M1153.7,386.2a1.5,1.5 0 1,0 3.0,0a1.5,1.5 0 1,0 -3.0,0M1156.2,400.7a1.5,1.5 0 1,0 3.0,0a1.5,1.5 0 1,0 -3.0,0M1161.1,406.2a1.5,1.5 0 1,0 3.0,0a1.5,1.5 0 1,0 -3.0,0M1156.8,405.0a1.5,1.5 0 1,0 3.0,0a1.5,1.5 0 1,0 -3.0,0M1227.5,275.6a1.5,1.5 0 1,0 3.0,0a1.5,1.5 0 1,0 -3.0,0M1319.0,274.4a1.5,1.5 0 1,0 3.0,0a1.5,1.5 0 1,0 -3.0,0M1170.4,376.6a1.5,1.5 0 1,0 3.0,0a1.5,1.5 0 1,0 -3.0,0M1177.8,375.7a1.5,1.5 0 1,0 3.0,0a1.5,1.5 0 1,0 -3.0,0M1182.8,376.6a1.5,1.5 0 1,0 3.0,0a1.5,1.5 0 1,0 -3.0,0" fill="#E08A28"/>
<path d="M1210.0,389.6a1.5,1.5 0 1,0 3.0,0a1.5,1.5 0 1,0 -3.0,0M1185.9,425.4a1.5,1.5 0 1,0 3.0,0a1.5,1.5 0 1,0 -3.0,0M1187.7,431.0a1.5,1.5 0 1,0 3.0,0a1.5,1.5 0 1,0 -3.0,0M1205.0,385.8a1.5,1.5 0 1,0 3.0,0a1.5,1.5 0 1,0 -3.0,0M1195.1,382.1a1.5,1.5 0 1,0 3.0,0a1.5,1.5 0 1,0 -3.0,0" fill="#C49A20"/>
<path d="M1165.8,385.8a1.7999999999999998,1.7999999999999998 0 1,0 3.5999999999999996,0a1.7999999999999998,1.7999999999999998 0 1,0 -3.5999999999999996,0" fill="#F070A0"/>
<path d="M1199.8,383.4a1.5,1.5 0 1,0 3.0,0a1.5,1.5 0 1,0 -3.0,0M1209.7,387.3a1.5,1.5 0 1,0 3.0,0a1.5,1.5 0 1,0 -3.0,0M1315.0,256.7a1.5,1.5 0 1,0 3.0,0a1.5,1.5 0 1,0 -3.0,0M1326.5,257.3a1.5,1.5 0 1,0 3.0,0a1.5,1.5 0 1,0 -3.0,0M1324.3,277.9a1.5,1.5 0 1,0 3.0,0a1.5,1.5 0 1,0 -3.0,0M1316.6,282.9a1.5,1.5 0 1,0 3.0,0a1.5,1.5 0 1,0 -3.0,0M1275.8,303.4a1.5,1.5 0 1,0 3.0,0a1.5,1.5 0 1,0 -3.0,0M1275.0,327.5a1.5,1.5 0 1,0 3.0,0a1.5,1.5 0 1,0 -3.0,0" fill="#E070E8"/>
<path d="M1324.4,351.0a1.5,1.5 0 1,0 3.0,0a1.5,1.5 0 1,0 -3.0,0M1314.2,456.5a1.5,1.5 0 1,0 3.0,0a1.5,1.5 0 1,0 -3.0,0" fill="#90B030"/>
<path d="M1314.9,256.7a1.5,1.5 0 1,0 3.0,0a1.5,1.5 0 1,0 -3.0,0M1326.6,257.3a1.5,1.5 0 1,0 3.0,0a1.5,1.5 0 1,0 -3.0,0M1347.3,253.0a1.5,1.5 0 1,0 3.0,0a1.5,1.5 0 1,0 -3.0,0M1352.6,262.2a1.5,1.5 0 1,0 3.0,0a1.5,1.5 0 1,0 -3.0,0M1364.0,268.4a1.5,1.5 0 1,0 3.0,0a1.5,1.5 0 1,0 -3.0,0M1365.9,269.9a1.5,1.5 0 1,0 3.0,0a1.5,1.5 0 1,0 -3.0,0M1324.2,277.9a1.5,1.5 0 1,0 3.0,0a1.5,1.5 0 1,0 -3.0,0M1316.7,282.9a1.5,1.5 0 1,0 3.0,0a1.5,1.5 0 1,0 -3.0,0M1323.0,296.9a1.5,1.5 0 1,0 3.0,0a1.5,1.5 0 1,0 -3.0,0M1330.4,299.6a1.5,1.5 0 1,0 3.0,0a1.5,1.5 0 1,0 -3.0,0M1344.8,299.3a1.5,1.5 0 1,0 3.0,0a1.5,1.5 0 1,0 -3.0,0M1321.4,301.2a1.5,1.5 0 1,0 3.0,0a1.5,1.5 0 1,0 -3.0,0M1324.5,301.8a1.5,1.5 0 1,0 3.0,0a1.5,1.5 0 1,0 -3.0,0M1327.5,302.4a1.5,1.5 0 1,0 3.0,0a1.5,1.5 0 1,0 -3.0,0M1325.7,306.7a1.5,1.5 0 1,0 3.0,0a1.5,1.5 0 1,0 -3.0,0M1336.8,305.5a1.5,1.5 0 1,0 3.0,0a1.5,1.5 0 1,0 -3.0,0M1326.3,310.4a1.5,1.5 0 1,0 3.0,0a1.5,1.5 0 1,0 -3.0,0M1327.5,312.9a1.5,1.5 0 1,0 3.0,0a1.5,1.5 0 1,0 -3.0,0M1323.8,304.3a1.5,1.5 0 1,0 3.0,0a1.5,1.5 0 1,0 -3.0,0M1328.8,308.6a1.5,1.5 0 1,0 3.0,0a1.5,1.5 0 1,0 -3.0,0" fill="#F068EC"/>
<path d="M1368.3,260.1a1.5,1.5 0 1,0 3.0,0a1.5,1.5 0 1,0 -3.0,0M1318.9,274.4a1.5,1.5 0 1,0 3.0,0a1.5,1.5 0 1,0 -3.0,0M1327.5,299.3a1.5,1.5 0 1,0 3.0,0a1.5,1.5 0 1,0 -3.0,0" fill="#D88838"/>
<path d="M1327.2,327.4a1.5,1.5 0 1,0 3.0,0a1.5,1.5 0 1,0 -3.0,0" fill="#F06CA8"/>
<path d="M1346.1,324.4a1.5,1.5 0 1,0 3.0,0a1.5,1.5 0 1,0 -3.0,0M1355.0,330.5a1.5,1.5 0 1,0 3.0,0a1.5,1.5 0 1,0 -3.0,0M1362.2,334.6a1.5,1.5 0 1,0 3.0,0a1.5,1.5 0 1,0 -3.0,0M1375.4,346.0a1.5,1.5 0 1,0 3.0,0a1.5,1.5 0 1,0 -3.0,0M1376.6,354.9a1.5,1.5 0 1,0 3.0,0a1.5,1.5 0 1,0 -3.0,0M1375.7,357.2a1.5,1.5 0 1,0 3.0,0a1.5,1.5 0 1,0 -3.0,0" fill="#6CC030"/>
<path d="M1435.9,300.7a1.5,1.5 0 1,0 3.0,0a1.5,1.5 0 1,0 -3.0,0M1324.5,351.1a1.5,1.5 0 1,0 3.0,0a1.5,1.5 0 1,0 -3.0,0M1314.2,456.7a1.5,1.5 0 1,0 3.0,0a1.5,1.5 0 1,0 -3.0,0" fill="#A0A830"/>
<path d="M1364.0,346.3a1.5,1.5 0 1,0 3.0,0a1.5,1.5 0 1,0 -3.0,0M1407.6,386.2a1.5,1.5 0 1,0 3.0,0a1.5,1.5 0 1,0 -3.0,0M1357.8,419.8a1.5,1.5 0 1,0 3.0,0a1.5,1.5 0 1,0 -3.0,0" fill="#C8A030"/>
<path d="M1413.2,401.7a1.5,1.5 0 1,0 3.0,0a1.5,1.5 0 1,0 -3.0,0M1471.3,407.5a1.5,1.5 0 1,0 3.0,0a1.5,1.5 0 1,0 -3.0,0M1472.8,416.1a1.5,1.5 0 1,0 3.0,0a1.5,1.5 0 1,0 -3.0,0M1476.5,415.5a1.5,1.5 0 1,0 3.0,0a1.5,1.5 0 1,0 -3.0,0M1475.9,418.6a1.5,1.5 0 1,0 3.0,0a1.5,1.5 0 1,0 -3.0,0M1467.2,419.5a1.5,1.5 0 1,0 3.0,0a1.5,1.5 0 1,0 -3.0,0M1457.3,422.3a1.5,1.5 0 1,0 3.0,0a1.5,1.5 0 1,0 -3.0,0M1439.2,423.5a1.5,1.5 0 1,0 3.0,0a1.5,1.5 0 1,0 -3.0,0M1469.1,425.4a1.5,1.5 0 1,0 3.0,0a1.5,1.5 0 1,0 -3.0,0M1472.8,426.0a1.5,1.5 0 1,0 3.0,0a1.5,1.5 0 1,0 -3.0,0M1472.8,429.1a1.5,1.5 0 1,0 3.0,0a1.5,1.5 0 1,0 -3.0,0M1474.6,432.4a1.5,1.5 0 1,0 3.0,0a1.5,1.5 0 1,0 -3.0,0M1451.1,432.8a1.5,1.5 0 1,0 3.0,0a1.5,1.5 0 1,0 -3.0,0M1432.4,438.1a1.5,1.5 0 1,0 3.0,0a1.5,1.5 0 1,0 -3.0,0M1452.7,442.7a1.5,1.5 0 1,0 3.0,0a1.5,1.5 0 1,0 -3.0,0M1453.0,445.2a1.5,1.5 0 1,0 3.0,0a1.5,1.5 0 1,0 -3.0,0M1446.4,444.8a1.5,1.5 0 1,0 3.0,0a1.5,1.5 0 1,0 -3.0,0M1468.1,445.2a1.5,1.5 0 1,0 3.0,0a1.5,1.5 0 1,0 -3.0,0M1458.6,447.6a1.5,1.5 0 1,0 3.0,0a1.5,1.5 0 1,0 -3.0,0M1455.5,450.5a1.5,1.5 0 1,0 3.0,0a1.5,1.5 0 1,0 -3.0,0M1430.7,449.7a1.5,1.5 0 1,0 3.0,0a1.5,1.5 0 1,0 -3.0,0M1441.6,448.9a1.5,1.5 0 1,0 3.0,0a1.5,1.5 0 1,0 -3.0,0M1441.9,452.0a1.5,1.5 0 1,0 3.0,0a1.5,1.5 0 1,0 -3.0,0M1447.4,450.1a1.5,1.5 0 1,0 3.0,0a1.5,1.5 0 1,0 -3.0,0M1448.1,452.6a1.5,1.5 0 1,0 3.0,0a1.5,1.5 0 1,0 -3.0,0M1400.5,421.1a1.5,1.5 0 1,0 3.0,0a1.5,1.5 0 1,0 -3.0,0M1401.7,423.5a1.5,1.5 0 1,0 3.0,0a1.5,1.5 0 1,0 -3.0,0M1402.9,425.4a1.5,1.5 0 1,0 3.0,0a1.5,1.5 0 1,0 -3.0,0M1406.0,428.2a1.5,1.5 0 1,0 3.0,0a1.5,1.5 0 1,0 -3.0,0M1408.1,432.4a1.5,1.5 0 1,0 3.0,0a1.5,1.5 0 1,0 -3.0,0M1455.5,422.9a1.5,1.5 0 1,0 3.0,0a1.5,1.5 0 1,0 -3.0,0" fill="#E8686C"/>
<path d="M1398.6,418.0a1.5,1.5 0 1,0 3.0,0a1.5,1.5 0 1,0 -3.0,0M1400.5,417.6a1.5,1.5 0 1,0 3.0,0a1.5,1.5 0 1,0 -3.0,0" fill="#50D0C0"/>
<path d="M1227.3,510.0a1.5,1.5 0 1,0 3.0,0a1.5,1.5 0 1,0 -3.0,0M1231.0,511.9a1.5,1.5 0 1,0 3.0,0a1.5,1.5 0 1,0 -3.0,0M1225.5,516.2a1.5,1.5 0 1,0 3.0,0a1.5,1.5 0 1,0 -3.0,0M1222.4,519.3a1.5,1.5 0 1,0 3.0,0a1.5,1.5 0 1,0 -3.0,0M1231.6,518.7a1.5,1.5 0 1,0 3.0,0a1.5,1.5 0 1,0 -3.0,0M1234.7,521.7a1.5,1.5 0 1,0 3.0,0a1.5,1.5 0 1,0 -3.0,0M1216.2,525.4a1.5,1.5 0 1,0 3.0,0a1.5,1.5 0 1,0 -3.0,0M1218.1,527.3a1.5,1.5 0 1,0 3.0,0a1.5,1.5 0 1,0 -3.0,0M1223.0,525.4a1.5,1.5 0 1,0 3.0,0a1.5,1.5 0 1,0 -3.0,0M1226.1,523.6a1.5,1.5 0 1,0 3.0,0a1.5,1.5 0 1,0 -3.0,0M1229.2,529.8a1.5,1.5 0 1,0 3.0,0a1.5,1.5 0 1,0 -3.0,0M1232.9,529.8a1.5,1.5 0 1,0 3.0,0a1.5,1.5 0 1,0 -3.0,0M1239.1,528.5a1.5,1.5 0 1,0 3.0,0a1.5,1.5 0 1,0 -3.0,0M1242.8,529.8a1.5,1.5 0 1,0 3.0,0a1.5,1.5 0 1,0 -3.0,0M1219.3,532.2a1.5,1.5 0 1,0 3.0,0a1.5,1.5 0 1,0 -3.0,0M1215.6,534.7a1.5,1.5 0 1,0 3.0,0a1.5,1.5 0 1,0 -3.0,0M1224.8,535.3a1.5,1.5 0 1,0 3.0,0a1.5,1.5 0 1,0 -3.0,0M1229.2,536.0a1.5,1.5 0 1,0 3.0,0a1.5,1.5 0 1,0 -3.0,0M1232.9,536.6a1.5,1.5 0 1,0 3.0,0a1.5,1.5 0 1,0 -3.0,0M1240.3,532.9a1.5,1.5 0 1,0 3.0,0a1.5,1.5 0 1,0 -3.0,0M1242.2,537.2a1.5,1.5 0 1,0 3.0,0a1.5,1.5 0 1,0 -3.0,0M1231.6,539.7a1.5,1.5 0 1,0 3.0,0a1.5,1.5 0 1,0 -3.0,0M1244.6,544.6a1.5,1.5 0 1,0 3.0,0a1.5,1.5 0 1,0 -3.0,0M1250.2,544.0a1.5,1.5 0 1,0 3.0,0a1.5,1.5 0 1,0 -3.0,0M1233.7,547.9a1.5,1.5 0 1,0 3.0,0a1.5,1.5 0 1,0 -3.0,0M1237.8,507.5a1.5,1.5 0 1,0 3.0,0a1.5,1.5 0 1,0 -3.0,0M1241.5,523.6a1.5,1.5 0 1,0 3.0,0a1.5,1.5 0 1,0 -3.0,0M1236.6,518.7a1.5,1.5 0 1,0 3.0,0a1.5,1.5 0 1,0 -3.0,0M1237.8,524.8a1.5,1.5 0 1,0 3.0,0a1.5,1.5 0 1,0 -3.0,0" fill="#5CCCD4"/>
<path d="M1246.7,491.5C1247.6,490.1 1251.3,488.6 1254.2,488.4C1257.0,488.2 1261.6,489.1 1264.0,490.2C1266.5,491.4 1268.6,493.7 1269.0,495.2C1269.4,496.6 1268.6,498.3 1266.5,498.9C1264.5,499.5 1259.5,499.3 1256.6,498.9C1253.7,498.5 1250.9,497.6 1249.2,496.4C1247.6,495.2 1245.9,492.8 1246.7,491.5Z" fill="#40B8E0" filter="url(#rough2)"/>
<path d="M1241.8,511.2C1242.2,509.0 1244.7,507.1 1246.7,505.1C1248.8,503.0 1251.7,500.1 1254.2,498.9C1256.6,497.6 1259.1,497.4 1261.6,497.6C1264.0,497.8 1266.9,498.5 1269.0,500.1C1271.0,501.8 1272.5,504.9 1273.9,507.5C1275.4,510.2 1276.4,513.5 1277.6,516.2C1278.9,518.9 1280.1,521.1 1281.3,523.6C1282.6,526.1 1283.4,529.2 1285.1,531.0C1286.7,532.9 1289.6,533.5 1291.2,534.7C1292.9,536.0 1294.9,537.0 1294.9,538.4C1294.9,539.9 1292.9,542.3 1291.2,543.4C1289.6,544.4 1287.3,544.4 1285.1,544.6C1282.8,544.8 1280.1,544.8 1277.6,544.6C1275.2,544.4 1272.5,543.8 1270.2,543.4C1268.0,543.0 1266.3,542.8 1264.0,542.1C1261.8,541.5 1258.9,540.7 1256.6,539.7C1254.4,538.6 1251.9,537.6 1250.4,536.0C1249.0,534.3 1248.2,531.8 1248.0,529.8C1247.8,527.7 1249.8,525.4 1249.2,523.6C1248.6,521.7 1245.5,520.7 1244.3,518.7C1243.0,516.6 1241.4,513.5 1241.8,511.2Z" fill="#5CD8B0" filter="url(#rough2)"/>
<path d="M1318.4,519.3C1319.0,517.8 1321.8,518.2 1323.4,518.7C1324.9,519.1 1327.0,520.1 1327.7,521.7C1328.4,523.4 1328.2,527.0 1327.7,528.5C1327.2,530.1 1325.9,531.2 1324.6,531.0C1323.3,530.8 1320.7,529.3 1319.7,527.3C1318.6,525.3 1317.8,520.7 1318.4,519.3Z" fill="#5CB4F4" filter="url(#rough2)"/>
<path d="M1324.0,535.3C1324.6,534.0 1328.3,533.0 1329.6,534.1C1330.8,535.2 1331.6,539.5 1331.8,542.1C1331.9,544.8 1331.4,548.8 1330.5,550.2C1329.7,551.5 1327.2,551.5 1326.5,550.2C1325.7,548.8 1326.3,544.6 1325.8,542.1C1325.4,539.7 1323.4,536.7 1324.0,535.3Z" fill="#5CB4F4" filter="url(#rough2)"/>
<path d="M1291.2,534.7C1292.3,532.9 1294.9,531.0 1297.4,529.8C1299.9,528.5 1303.4,527.5 1306.1,527.3C1308.7,527.1 1311.6,527.5 1313.5,528.5C1315.3,529.6 1316.2,531.6 1317.2,533.5C1318.2,535.3 1319.0,537.6 1319.7,539.7C1320.3,541.7 1319.7,544.4 1320.9,545.8C1322.1,547.3 1325.5,546.7 1327.1,548.3C1328.6,550.0 1329.8,553.1 1330.2,555.7C1330.6,558.4 1330.3,561.9 1329.6,564.4C1328.8,566.9 1327.5,568.9 1325.8,570.6C1324.2,572.2 1322.1,573.4 1319.7,574.3C1317.2,575.1 1313.5,575.5 1311.0,575.5C1308.5,575.5 1306.5,575.5 1304.8,574.3C1303.2,573.0 1302.4,570.4 1301.1,568.1C1299.9,565.8 1298.7,563.1 1297.4,560.7C1296.2,558.2 1295.1,555.5 1293.7,553.3C1292.3,551.0 1290.0,548.7 1288.8,547.1C1287.5,545.4 1285.9,544.4 1286.3,543.4C1286.7,542.3 1290.4,542.3 1291.2,540.9C1292.1,539.5 1290.2,536.6 1291.2,534.7Z" fill="#6C9CF8" filter="url(#rough2)"/>
<path d="M1323.0,537.2a1.0,1.0 0 1,0 2.0,0a1.0,1.0 0 1,0 -2.0,0M1321.1,544.6a1.0,1.0 0 1,0 2.0,0a1.0,1.0 0 1,0 -2.0,0" fill="#fff"/>
<path d="M1288.8,475.4C1289.1,473.7 1290.4,471.9 1291.2,471.7C1292.1,471.5 1293.1,472.7 1293.7,474.2C1294.3,475.6 1294.6,478.3 1294.9,480.3C1295.3,482.4 1295.7,484.9 1295.6,486.5C1295.5,488.2 1294.9,490.2 1294.3,490.2C1293.7,490.2 1292.7,488.0 1291.9,486.5C1291.0,485.1 1289.9,483.4 1289.4,481.6C1288.9,479.7 1288.5,477.0 1288.8,475.4Z" fill="#B582FA" filter="url(#rough2)"/>
<path d="M1290.4,474.2a1.5,1.5 0 1,0 3.0,0a1.5,1.5 0 1,0 -3.0,0" fill="#60A8F8"/>
<path d="M1286.0,489.0a1.5,1.5 0 1,0 3.0,0a1.5,1.5 0 1,0 -3.0,0M1309.5,464.3a1.5,1.5 0 1,0 3.0,0a1.5,1.5 0 1,0 -3.0,0M1311.4,463.0a1.5,1.5 0 1,0 3.0,0a1.5,1.5 0 1,0 -3.0,0M1308.9,466.7a1.5,1.5 0 1,0 3.0,0a1.5,1.5 0 1,0 -3.0,0M1312.6,464.9a1.5,1.5 0 1,0 3.0,0a1.5,1.5 0 1,0 -3.0,0M1397.9,418.3a1.5,1.5 0 1,0 3.0,0a1.5,1.5 0 1,0 -3.0,0M1289.1,529.8a1.5,1.5 0 1,0 3.0,0a1.5,1.5 0 1,0 -3.0,0M1298.4,539.0a1.5,1.5 0 1,0 3.0,0a1.5,1.5 0 1,0 -3.0,0" fill="#50C8B0"/>
<path d="M1314.5,466.1a1.5,1.5 0 1,0 3.0,0a1.5,1.5 0 1,0 -3.0,0" fill="#60A0F0"/>
<path d="M1314.1,456.6a1.5,1.5 0 1,0 3.0,0a1.5,1.5 0 1,0 -3.0,0" fill="#A0A830"/>
<path d="M1251.4,534.7a1.5,1.5 0 1,0 3.0,0a1.5,1.5 0 1,0 -3.0,0" fill="#B080F0"/>
<path d="M1377.9,502.2C1378.3,499.8 1380.1,496.2 1382.2,495.8C1384.4,495.4 1388.1,499.4 1391.0,499.9C1393.9,500.4 1397.0,499.2 1399.8,498.7C1402.5,498.3 1406.6,496.4 1407.7,497.0C1408.7,497.6 1408.0,500.6 1406.2,502.2C1404.4,503.9 1400.4,505.2 1396.9,506.6C1393.3,508.1 1388.1,510.4 1385.2,511.0C1382.2,511.6 1380.5,511.9 1379.3,510.4C1378.1,509.0 1377.4,504.7 1377.9,502.2Z" fill="#40D040" filter="url(#rough2)"/>
<text x="1327.62" y="307.88" font-size="10.7" text-anchor="middle" stroke="#000" stroke-width="0.2">Trophocytes_2</text>
<text x="1370.27" y="344.69" font-size="10.7" text-anchor="middle" stroke="#000" stroke-width="0.2">Pdgfra(hi)Cd81(+)</text>
<text x="1180.09" y="400.48" font-size="10.7" text-anchor="middle" stroke="#000" stroke-width="0.2">Mesothelial−like_1</text>
<text x="1202.00" y="420.06" font-size="10.7" text-anchor="middle" stroke="#000" stroke-width="0.2">Mesothelial−like_2</text>
<text x="1320.90" y="408.08" font-size="10.7" text-anchor="middle" stroke="#000" stroke-width="0.2">MFs</text>
<text x="1328.49" y="421.81" font-size="10.7" text-anchor="middle" stroke="#000" stroke-width="0.2">Trophocytes_3</text>
<text x="1449.14" y="432.91" font-size="10.7" text-anchor="middle" stroke="#000" stroke-width="0.2">LECs</text>
<text x="1293.14" y="486.08" font-size="10.7" text-anchor="middle" stroke="#000" stroke-width="0.2">Telocytes(proliferative)</text>
<text x="1257.50" y="493.97" font-size="10.7" text-anchor="middle" stroke="#000" stroke-width="0.2">SEMFs_1</text>
<text x="1258.67" y="502.15" font-size="10.7" text-anchor="middle" stroke="#000" stroke-width="0.2">Trophocytes_1</text>
<text x="1252.83" y="507.41" font-size="10.7" text-anchor="middle" stroke="#000" stroke-width="0.2">SEMFs_3</text>
<text x="1263.64" y="523.18" font-size="10.7" text-anchor="middle" stroke="#000" stroke-width="0.2">SEMFs_2</text>
<text x="1322.94" y="528.44" font-size="10.7" text-anchor="middle" stroke="#000" stroke-width="0.2">Telocytes_1</text>
<text x="1381.37" y="510.03" font-size="10.7" text-anchor="middle" stroke="#000" stroke-width="0.2">Pericytes</text>
<text x="1308.63" y="557.07" font-size="10.7" text-anchor="middle" stroke="#000" stroke-width="0.2">Telocytes_2</text>
<path d="M1090.10,185.30V592.20H1497.60" fill="none" stroke="#000" stroke-width="1.6"/>
<line x1="1097.10" y1="592.20" x2="1097.10" y2="595.80" stroke="#000" stroke-width="1.6"/>
<text x="1097.10" y="609.20" font-size="12.8" text-anchor="middle">−15</text>
<line x1="1168.10" y1="592.20" x2="1168.10" y2="595.80" stroke="#000" stroke-width="1.6"/>
<text x="1168.10" y="609.20" font-size="12.8" text-anchor="middle">−10</text>
<line x1="1239.10" y1="592.20" x2="1239.10" y2="595.80" stroke="#000" stroke-width="1.6"/>
<text x="1239.10" y="609.20" font-size="12.8" text-anchor="middle">−5</text>
<line x1="1310.10" y1="592.20" x2="1310.10" y2="595.80" stroke="#000" stroke-width="1.6"/>
<text x="1310.10" y="609.20" font-size="12.8" text-anchor="middle">0</text>
<line x1="1381.10" y1="592.20" x2="1381.10" y2="595.80" stroke="#000" stroke-width="1.6"/>
<text x="1381.10" y="609.20" font-size="12.8" text-anchor="middle">5</text>
<line x1="1452.10" y1="592.20" x2="1452.10" y2="595.80" stroke="#000" stroke-width="1.6"/>
<text x="1452.10" y="609.20" font-size="12.8" text-anchor="middle">10</text>
<line x1="1086.50" y1="230.30" x2="1090.10" y2="230.30" stroke="#000" stroke-width="1.6"/>
<text x="1084.30" y="234.91" font-size="12.8" text-anchor="end">10</text>
<line x1="1086.50" y1="301.30" x2="1090.10" y2="301.30" stroke="#000" stroke-width="1.6"/>
<text x="1084.30" y="305.91" font-size="12.8" text-anchor="end">5</text>
<line x1="1086.50" y1="372.30" x2="1090.10" y2="372.30" stroke="#000" stroke-width="1.6"/>
<text x="1084.30" y="376.91" font-size="12.8" text-anchor="end">0</text>
<line x1="1086.50" y1="443.20" x2="1090.10" y2="443.20" stroke="#000" stroke-width="1.6"/>
<text x="1084.30" y="447.81" font-size="12.8" text-anchor="end">−5</text>
<line x1="1086.50" y1="514.20" x2="1090.10" y2="514.20" stroke="#000" stroke-width="1.6"/>
<text x="1084.30" y="518.81" font-size="12.8" text-anchor="end">−10</text>
<line x1="1086.50" y1="585.50" x2="1090.10" y2="585.50" stroke="#000" stroke-width="1.6"/>
<text x="1084.30" y="590.11" font-size="12.8" text-anchor="end">−15</text>
<text x="1292.70" y="626.70" font-size="15" text-anchor="middle">umap_1</text>
<text x="1054.60" y="388.90" font-size="15" text-anchor="middle" transform="rotate(-90 1054.60 388.90)">umap_2</text>
<text x="1293.10" y="175.11" font-size="17.25" text-anchor="middle" font-weight="bold">Cell Type</text>
<circle cx="1097.8" cy="653.4" r="4.90" fill="#F0787A"/>
<text x="1113.90" y="657.65" font-size="11.8">LECs</text>
<circle cx="1097.8" cy="677.6" r="4.90" fill="#E58B35"/>
<text x="1113.90" y="681.85" font-size="11.8">Mesothelial−like_1</text>
<circle cx="1097.8" cy="701.9" r="4.90" fill="#C99F35"/>
<text x="1113.90" y="706.15" font-size="11.8">Mesothelial−like_2</text>
<circle cx="1097.8" cy="726.1" r="4.90" fill="#A0AE35"/>
<text x="1113.90" y="730.35" font-size="11.8">MFs</text>
<circle cx="1097.8" cy="750.1" r="4.90" fill="#66C234"/>
<text x="1113.90" y="754.35" font-size="11.8">Pdgfra(hi)Cd81(+)</text>
<circle cx="1227.3" cy="653.4" r="4.90" fill="#4CCB66"/>
<text x="1243.60" y="657.65" font-size="11.8">Pericytes</text>
<circle cx="1227.3" cy="677.6" r="4.90" fill="#5AD2A0"/>
<text x="1243.60" y="681.85" font-size="11.8">SEMFs_1</text>
<circle cx="1227.3" cy="701.9" r="4.90" fill="#5AD2BC"/>
<text x="1243.60" y="706.15" font-size="11.8">SEMFs_2</text>
<circle cx="1227.3" cy="726.1" r="4.90" fill="#5ACCD8"/>
<text x="1243.60" y="730.35" font-size="11.8">SEMFs_3</text>
<circle cx="1227.3" cy="750.1" r="4.90" fill="#5BBEF2"/>
<text x="1243.60" y="754.35" font-size="11.8">Telocytes_1</text>
<circle cx="1321.6" cy="653.4" r="4.90" fill="#6CA4F8"/>
<text x="1338.00" y="657.65" font-size="11.8">Telocytes_2</text>
<circle cx="1321.6" cy="677.6" r="4.90" fill="#B58CF8"/>
<text x="1338.00" y="681.85" font-size="11.8">Telocytes(proliferative)</text>
<circle cx="1321.6" cy="701.9" r="4.90" fill="#E27AF8"/>
<text x="1338.00" y="706.15" font-size="11.8">Trophocytes_1</text>
<circle cx="1321.6" cy="726.1" r="4.90" fill="#F56EEC"/>
<text x="1338.00" y="730.35" font-size="11.8">Trophocytes_2</text>
<circle cx="1321.6" cy="750.1" r="4.90" fill="#F56CB4"/>
<text x="1338.00" y="754.35" font-size="11.8">Trophocytes_3</text>
<path d="M1640.2,399.4C1640.0,396.8 1641.1,393.5 1642.0,390.8C1642.9,388.1 1644.1,385.4 1645.7,383.4C1647.4,381.3 1649.4,379.9 1651.9,378.4C1654.4,377.0 1657.7,375.5 1660.6,374.7C1663.4,373.9 1666.7,373.7 1669.2,373.5C1671.7,373.3 1673.5,372.9 1675.4,373.5C1677.2,374.1 1678.9,375.7 1680.3,377.2C1681.8,378.6 1682.8,380.1 1684.0,382.1C1685.3,384.2 1686.7,386.9 1687.8,389.6C1688.8,392.2 1690.0,395.7 1690.2,398.2C1690.4,400.7 1690.0,402.7 1689.0,404.4C1688.0,406.0 1686.1,407.1 1684.0,408.1C1682.0,409.1 1679.1,409.3 1676.6,410.6C1674.2,411.8 1671.5,414.7 1669.2,415.5C1666.9,416.3 1665.3,415.9 1663.0,415.5C1660.8,415.1 1658.1,413.7 1655.6,413.0C1653.1,412.4 1650.3,412.8 1648.2,411.8C1646.1,410.8 1644.6,408.9 1643.3,406.9C1641.9,404.8 1640.4,402.1 1640.2,399.4Z" fill="#E08A28" filter="url(#rough2)"/>
<path d="M1669.2,414.3C1670.0,412.0 1674.2,407.9 1676.6,405.6C1679.1,403.4 1681.8,402.3 1684.0,400.7C1686.3,399.0 1688.6,398.0 1690.2,395.7C1691.9,393.5 1692.7,387.5 1693.9,387.1C1695.2,386.7 1696.9,390.6 1697.6,393.3C1698.4,395.9 1698.3,400.1 1698.3,403.1C1698.3,406.2 1698.6,409.3 1697.6,411.8C1696.7,414.3 1693.9,415.7 1692.7,418.0C1691.5,420.2 1690.4,422.9 1690.2,425.4C1690.0,427.9 1690.2,431.0 1691.5,432.8C1692.7,434.7 1695.4,435.3 1697.6,436.5C1699.9,437.8 1703.3,438.8 1705.1,440.2C1706.8,441.7 1707.9,443.5 1708.1,445.2C1708.4,446.8 1707.8,448.9 1706.3,450.1C1704.7,451.3 1701.3,451.9 1698.9,452.6C1696.4,453.3 1693.7,454.1 1691.5,454.4C1689.2,454.7 1687.3,455.0 1685.3,454.4C1683.2,453.9 1680.6,452.9 1679.1,451.3C1677.6,449.8 1676.5,447.4 1676.0,445.2C1675.5,442.9 1675.8,440.2 1676.0,437.8C1676.2,435.3 1677.6,432.4 1677.2,430.3C1676.9,428.3 1675.1,427.2 1674.2,425.4C1673.2,423.5 1672.5,421.1 1671.7,419.2C1670.9,417.4 1668.4,416.5 1669.2,414.3Z" fill="#C49A20" filter="url(#rough2)"/>
<path d="M1689.3,383.4a1.5,1.5 0 1,0 3.0,0a1.5,1.5 0 1,0 -3.0,0M1698.4,418.3a1.5,1.5 0 1,0 3.0,0a1.5,1.5 0 1,0 -3.0,0M1693.1,421.1a1.5,1.5 0 1,0 3.0,0a1.5,1.5 0 1,0 -3.0,0M1687.5,422.3a1.5,1.5 0 1,0 3.0,0a1.5,1.5 0 1,0 -3.0,0M1671.4,427.2a1.5,1.5 0 1,0 3.0,0a1.5,1.5 0 1,0 -3.0,0M1683.8,380.9a1.5,1.5 0 1,0 3.0,0a1.5,1.5 0 1,0 -3.0,0" fill="#C49A20"/>
<path d="M1698.3,418.5a1.5,1.5 0 1,0 3.0,0a1.5,1.5 0 1,0 -3.0,0M1692.7,421.0a1.5,1.5 0 1,0 3.0,0a1.5,1.5 0 1,0 -3.0,0" fill="#C49A20"/>
<path d="M1660.9,410.9a1.7999999999999998,1.7999999999999998 0 1,0 3.5999999999999996,0a1.7999999999999998,1.7999999999999998 0 1,0 -3.5999999999999996,0" fill="#50D880"/>
<path d="M1718.4,272.4a1.5,1.5 0 1,0 3.0,0a1.5,1.5 0 1,0 -3.0,0M1750.3,268.4a1.5,1.5 0 1,0 3.0,0a1.5,1.5 0 1,0 -3.0,0M1814.4,296.5a1.5,1.5 0 1,0 3.0,0a1.5,1.5 0 1,0 -3.0,0" fill="#D070F8"/>
<path d="M1725.1,275.7a1.5,1.5 0 1,0 3.0,0a1.5,1.5 0 1,0 -3.0,0M1725.1,303.2a1.5,1.5 0 1,0 3.0,0a1.5,1.5 0 1,0 -3.0,0M1759.5,318.7a1.5,1.5 0 1,0 3.0,0a1.5,1.5 0 1,0 -3.0,0M1755.5,328.4a1.5,1.5 0 1,0 3.0,0a1.5,1.5 0 1,0 -3.0,0" fill="#F060B0"/>
<path d="M1815.8,301.2a1.5,1.5 0 1,0 3.0,0a1.5,1.5 0 1,0 -3.0,0" fill="#D88838"/>
<path d="M1812.1,316.9a1.5,1.5 0 1,0 3.0,0a1.5,1.5 0 1,0 -3.0,0" fill="#50D0C8"/>
<path d="M1814.2,353.5a1.5,1.5 0 1,0 3.0,0a1.5,1.5 0 1,0 -3.0,0M1812.1,458.8a1.5,1.5 0 1,0 3.0,0a1.5,1.5 0 1,0 -3.0,0" fill="#98B030"/>
<path d="M1702.9,529.8C1703.4,527.7 1705.2,525.9 1707.2,523.6C1709.1,521.3 1712.1,518.7 1714.6,516.2C1717.1,513.7 1719.6,511.2 1722.0,508.8C1724.5,506.3 1727.2,503.6 1729.4,501.3C1731.7,499.1 1733.6,496.8 1735.6,495.2C1737.7,493.5 1739.7,492.1 1741.8,491.5C1743.9,490.8 1745.9,491.0 1748.0,491.5C1750.0,491.9 1753.5,492.7 1754.2,493.9C1754.8,495.2 1752.9,497.4 1751.7,498.9C1750.4,500.3 1748.0,500.9 1746.7,502.6C1745.5,504.2 1744.3,506.5 1744.3,508.8C1744.3,511.0 1745.9,513.9 1746.7,516.2C1747.6,518.4 1748.0,520.3 1749.2,522.4C1750.4,524.4 1752.5,526.7 1754.2,528.5C1755.8,530.4 1758.1,531.6 1759.1,533.5C1760.1,535.3 1760.7,537.8 1760.3,539.7C1759.9,541.5 1758.3,543.2 1756.6,544.6C1755.0,546.0 1752.9,547.5 1750.4,548.3C1748.0,549.1 1744.5,548.9 1741.8,549.6C1739.1,550.2 1736.9,551.3 1734.4,552.0C1731.9,552.7 1729.4,553.9 1727.0,553.9C1724.5,553.9 1721.8,553.2 1719.6,552.0C1717.3,550.9 1715.4,548.9 1713.4,547.1C1711.3,545.2 1708.7,542.8 1707.2,540.9C1705.6,539.0 1704.8,537.8 1704.1,536.0C1703.4,534.1 1702.4,531.8 1702.9,529.8Z" fill="#5CD0C8" filter="url(#rough2)"/>
<path d="M1757.6,504.2a1.5,1.5 0 1,0 3.0,0a1.5,1.5 0 1,0 -3.0,0M1752.7,508.8a1.5,1.5 0 1,0 3.0,0a1.5,1.5 0 1,0 -3.0,0M1748.3,508.8a1.5,1.5 0 1,0 3.0,0a1.5,1.5 0 1,0 -3.0,0M1750.2,512.5a1.5,1.5 0 1,0 3.0,0a1.5,1.5 0 1,0 -3.0,0M1753.9,513.7a1.5,1.5 0 1,0 3.0,0a1.5,1.5 0 1,0 -3.0,0M1752.7,516.8a1.5,1.5 0 1,0 3.0,0a1.5,1.5 0 1,0 -3.0,0M1745.9,510.0a1.5,1.5 0 1,0 3.0,0a1.5,1.5 0 1,0 -3.0,0M1755.7,545.2a1.5,1.5 0 1,0 3.0,0a1.5,1.5 0 1,0 -3.0,0M1757.0,531.6a1.5,1.5 0 1,0 3.0,0a1.5,1.5 0 1,0 -3.0,0M1762.5,542.1a1.5,1.5 0 1,0 3.0,0a1.5,1.5 0 1,0 -3.0,0M1773.7,539.7a1.5,1.5 0 1,0 3.0,0a1.5,1.5 0 1,0 -3.0,0M1776.8,534.1a1.5,1.5 0 1,0 3.0,0a1.5,1.5 0 1,0 -3.0,0M1783.6,544.0a1.5,1.5 0 1,0 3.0,0a1.5,1.5 0 1,0 -3.0,0M1786.4,551.2a1.5,1.5 0 1,0 3.0,0a1.5,1.5 0 1,0 -3.0,0M1751.4,539.7a1.5,1.5 0 1,0 3.0,0a1.5,1.5 0 1,0 -3.0,0M1753.9,542.1a1.5,1.5 0 1,0 3.0,0a1.5,1.5 0 1,0 -3.0,0" fill="#50D890"/>
<path d="M1745.9,523.6a1.5,1.5 0 1,0 3.0,0a1.5,1.5 0 1,0 -3.0,0M1746.5,510.0a1.5,1.5 0 1,0 3.0,0a1.5,1.5 0 1,0 -3.0,0" fill="#B090F0"/>
<path d="M1776.4,495.2C1777.0,494.7 1778.9,493.5 1780.1,492.1C1781.3,490.6 1782.7,488.5 1783.8,486.5C1785.0,484.6 1786.5,482.2 1786.9,480.3C1787.3,478.5 1786.8,476.3 1786.3,475.4C1785.8,474.5 1784.7,474.4 1783.8,474.8C1782.9,475.2 1781.6,476.3 1780.7,477.9C1779.9,479.4 1779.0,482.1 1778.9,484.0C1778.8,486.0 1779.9,488.7 1780.1,489.6" fill="none" stroke="#A890F8" stroke-width="1.8" stroke-linecap="round"/>
<path d="M1815.3,524.2C1815.7,522.7 1819.7,521.1 1820.9,521.7C1822.1,522.4 1823.2,526.4 1822.8,527.9C1822.3,529.5 1819.7,531.6 1818.4,531.0C1817.2,530.4 1814.9,525.8 1815.3,524.2Z" fill="#5CB8F0" filter="url(#rough2)"/>
<path d="M1796.2,529.8C1797.2,527.9 1801.1,525.9 1803.6,524.8C1806.1,523.8 1808.5,523.6 1811.0,523.6C1813.5,523.6 1816.6,524.0 1818.4,524.8C1820.3,525.7 1822.1,527.1 1822.1,528.5C1822.1,530.0 1819.7,532.0 1818.4,533.5C1817.2,534.9 1815.1,535.3 1814.7,537.2C1814.3,539.0 1815.5,542.3 1816.0,544.6C1816.4,546.9 1817.6,548.9 1817.2,550.8C1816.8,552.6 1814.7,554.1 1813.5,555.7C1812.2,557.4 1811.0,558.8 1809.8,560.7C1808.5,562.5 1807.3,564.8 1806.1,566.9C1804.8,568.9 1803.1,571.6 1802.4,573.0C1801.6,574.5 1802.4,575.9 1801.7,575.5C1801.1,575.1 1799.3,572.6 1798.7,570.6C1798.0,568.5 1798.0,565.6 1798.0,563.1C1798.0,560.7 1798.1,558.2 1798.7,555.7C1799.2,553.3 1800.9,550.6 1801.1,548.3C1801.3,546.0 1800.5,544.2 1799.9,542.1C1799.3,540.1 1798.0,538.0 1797.4,536.0C1796.8,533.9 1795.1,531.6 1796.2,529.8Z" fill="#58A8F8" filter="url(#rough2)"/>
<path d="M1791.0,544.6a1.5,1.5 0 1,0 3.0,0a1.5,1.5 0 1,0 -3.0,0M1792.2,552.0a1.5,1.5 0 1,0 3.0,0a1.5,1.5 0 1,0 -3.0,0M1794.7,547.1a1.5,1.5 0 1,0 3.0,0a1.5,1.5 0 1,0 -3.0,0M1819.4,548.3a1.5,1.5 0 1,0 3.0,0a1.5,1.5 0 1,0 -3.0,0M1821.9,550.2a1.5,1.5 0 1,0 3.0,0a1.5,1.5 0 1,0 -3.0,0M1818.2,553.3a1.5,1.5 0 1,0 3.0,0a1.5,1.5 0 1,0 -3.0,0M1815.7,560.7a1.5,1.5 0 1,0 3.0,0a1.5,1.5 0 1,0 -3.0,0M1809.5,564.4a1.5,1.5 0 1,0 3.0,0a1.5,1.5 0 1,0 -3.0,0M1808.3,566.2a1.5,1.5 0 1,0 3.0,0a1.5,1.5 0 1,0 -3.0,0M1821.3,564.8a1.5,1.5 0 1,0 3.0,0a1.5,1.5 0 1,0 -3.0,0M1812.6,569.6a1.5,1.5 0 1,0 3.0,0a1.5,1.5 0 1,0 -3.0,0M1803.9,569.3a1.5,1.5 0 1,0 3.0,0a1.5,1.5 0 1,0 -3.0,0M1800.2,575.5a1.5,1.5 0 1,0 3.0,0a1.5,1.5 0 1,0 -3.0,0M1814.5,558.2a1.5,1.5 0 1,0 3.0,0a1.5,1.5 0 1,0 -3.0,0M1811.4,560.7a1.5,1.5 0 1,0 3.0,0a1.5,1.5 0 1,0 -3.0,0" fill="#58A8F8"/>
<path d="M1810.0,552.6a1.0,1.0 0 1,0 2.0,0a1.0,1.0 0 1,0 -2.0,0M1812.5,553.9a1.0,1.0 0 1,0 2.0,0a1.0,1.0 0 1,0 -2.0,0M1808.2,554.5a1.0,1.0 0 1,0 2.0,0a1.0,1.0 0 1,0 -2.0,0" fill="#fff"/>
<path d="M1870.0,506.6C1870.5,504.8 1872.9,501.5 1875.9,500.8C1878.8,500.1 1885.0,501.4 1887.5,502.2C1890.1,503.1 1892.3,504.4 1891.3,505.8C1890.4,507.1 1884.8,509.2 1881.7,510.1C1878.6,511.1 1874.9,512.2 1872.9,511.6C1871.0,511.0 1869.5,508.4 1870.0,506.6Z" fill="#40D050" filter="url(#rough2)"/>
<path d="M1895.7,500.8a1.5,1.5 0 1,0 3.0,0a1.5,1.5 0 1,0 -3.0,0" fill="#40D050"/>
<path d="M1850.9,422.0a1.5,1.5 0 1,0 3.0,0a1.5,1.5 0 1,0 -3.0,0" fill="#50C8D0"/>
<path d="M1852.8,422.6a1.5,1.5 0 1,0 3.0,0a1.5,1.5 0 1,0 -3.0,0" fill="#D89040"/>
<path d="M1895.7,421.3a1.5,1.5 0 1,0 3.0,0a1.5,1.5 0 1,0 -3.0,0" fill="#E8686C"/>
<path d="M1811.7,458.8a1.5,1.5 0 1,0 3.0,0a1.5,1.5 0 1,0 -3.0,0" fill="#A0A830"/>
<path d="M1814.4,296.5a1.5,1.5 0 1,0 3.0,0a1.5,1.5 0 1,0 -3.0,0M1819.1,308.0a1.5,1.5 0 1,0 3.0,0a1.5,1.5 0 1,0 -3.0,0M1820.4,310.4a1.5,1.5 0 1,0 3.0,0a1.5,1.5 0 1,0 -3.0,0M1825.3,312.9a1.5,1.5 0 1,0 3.0,0a1.5,1.5 0 1,0 -3.0,0M1822.2,309.8a1.5,1.5 0 1,0 3.0,0a1.5,1.5 0 1,0 -3.0,0M1837.1,301.2a1.5,1.5 0 1,0 3.0,0a1.5,1.5 0 1,0 -3.0,0" fill="#F068EC"/>
<path d="M1815.8,301.2a1.5,1.5 0 1,0 3.0,0a1.5,1.5 0 1,0 -3.0,0M1947.3,309.0a1.5,1.5 0 1,0 3.0,0a1.5,1.5 0 1,0 -3.0,0M1951.6,308.6a1.5,1.5 0 1,0 3.0,0a1.5,1.5 0 1,0 -3.0,0M1852.7,422.6a1.5,1.5 0 1,0 3.0,0a1.5,1.5 0 1,0 -3.0,0" fill="#D88838"/>
<path d="M1834.3,303.7a1.7999999999999998,1.7999999999999998 0 1,0 3.5999999999999996,0a1.7999999999999998,1.7999999999999998 0 1,0 -3.5999999999999996,0M1835.5,302.4a1.7999999999999998,1.7999999999999998 0 1,0 3.5999999999999996,0a1.7999999999999998,1.7999999999999998 0 1,0 -3.5999999999999996,0" fill="#E87860"/>
<path d="M1828.4,316.0a1.5,1.5 0 1,0 3.0,0a1.5,1.5 0 1,0 -3.0,0M1839.3,324.7a1.5,1.5 0 1,0 3.0,0a1.5,1.5 0 1,0 -3.0,0M1843.2,326.5a1.5,1.5 0 1,0 3.0,0a1.5,1.5 0 1,0 -3.0,0M1850.6,332.1a1.5,1.5 0 1,0 3.0,0a1.5,1.5 0 1,0 -3.0,0" fill="#6CC030"/>
<path d="M1812.1,316.9a1.5,1.5 0 1,0 3.0,0a1.5,1.5 0 1,0 -3.0,0M1964.8,445.4a1.5,1.5 0 1,0 3.0,0a1.5,1.5 0 1,0 -3.0,0M1850.6,421.7a1.5,1.5 0 1,0 3.0,0a1.5,1.5 0 1,0 -3.0,0" fill="#50D0C8"/>
<path d="M1863.7,340.4a1.5,1.5 0 1,0 3.0,0a1.5,1.5 0 1,0 -3.0,0M1869.6,358.7a1.5,1.5 0 1,0 3.0,0a1.5,1.5 0 1,0 -3.0,0M1814.4,353.5a1.5,1.5 0 1,0 3.0,0a1.5,1.5 0 1,0 -3.0,0M1812.0,458.8a1.5,1.5 0 1,0 3.0,0a1.5,1.5 0 1,0 -3.0,0" fill="#A0A030"/>
<path d="M1934.3,390.5a1.5,1.5 0 1,0 3.0,0a1.5,1.5 0 1,0 -3.0,0M1950.1,391.3a1.5,1.5 0 1,0 3.0,0a1.5,1.5 0 1,0 -3.0,0M1943.7,403.8a1.5,1.5 0 1,0 3.0,0a1.5,1.5 0 1,0 -3.0,0M1967.2,411.6a1.5,1.5 0 1,0 3.0,0a1.5,1.5 0 1,0 -3.0,0M1966.2,414.6a1.5,1.5 0 1,0 3.0,0a1.5,1.5 0 1,0 -3.0,0M1895.8,421.3a1.5,1.5 0 1,0 3.0,0a1.5,1.5 0 1,0 -3.0,0M1933.7,424.4a1.5,1.5 0 1,0 3.0,0a1.5,1.5 0 1,0 -3.0,0M1940.3,427.5a1.5,1.5 0 1,0 3.0,0a1.5,1.5 0 1,0 -3.0,0M1946.9,425.0a1.5,1.5 0 1,0 3.0,0a1.5,1.5 0 1,0 -3.0,0M1906.5,431.3a1.5,1.5 0 1,0 3.0,0a1.5,1.5 0 1,0 -3.0,0M1914.3,438.7a1.5,1.5 0 1,0 3.0,0a1.5,1.5 0 1,0 -3.0,0M1969.9,436.8a1.5,1.5 0 1,0 3.0,0a1.5,1.5 0 1,0 -3.0,0M1927.3,448.9a1.5,1.5 0 1,0 3.0,0a1.5,1.5 0 1,0 -3.0,0M1924.8,451.3a1.5,1.5 0 1,0 3.0,0a1.5,1.5 0 1,0 -3.0,0M1940.3,450.1a1.5,1.5 0 1,0 3.0,0a1.5,1.5 0 1,0 -3.0,0M1942.7,451.3a1.5,1.5 0 1,0 3.0,0a1.5,1.5 0 1,0 -3.0,0M1952.0,449.2a1.5,1.5 0 1,0 3.0,0a1.5,1.5 0 1,0 -3.0,0M1936.3,453.8a1.5,1.5 0 1,0 3.0,0a1.5,1.5 0 1,0 -3.0,0" fill="#E8607A"/>
<text x="1822.10" y="313.43" font-size="10.7" text-anchor="middle" stroke="#000" stroke-width="0.2">Trophocytes_2</text>
<text x="1754.32" y="328.04" font-size="10.7" text-anchor="middle" stroke="#000" stroke-width="0.2">Trophocytes_3</text>
<text x="1847.51" y="333.00" font-size="10.7" text-anchor="middle" stroke="#000" stroke-width="0.2">Pdgfra(hi)Cd81(+)</text>
<text x="1813.33" y="354.62" font-size="10.7" text-anchor="middle" stroke="#000" stroke-width="0.2">MFs</text>
<text x="1658.21" y="396.39" font-size="10.7" text-anchor="middle" stroke="#000" stroke-width="0.2">Mesothelial−like_1</text>
<text x="1683.63" y="440.80" font-size="10.7" text-anchor="middle" stroke="#000" stroke-width="0.2">Mesothelial−like_2</text>
<text x="1941.58" y="438.17" font-size="10.7" text-anchor="middle" stroke="#000" stroke-width="0.2">LECs</text>
<text x="1784.41" y="489.29" font-size="10.7" text-anchor="middle" stroke="#000" stroke-width="0.2">Telocytes(proliferative)</text>
<text x="1879.36" y="510.62" font-size="10.7" text-anchor="middle" stroke="#000" stroke-width="0.2">Pericytes</text>
<text x="1744.39" y="529.32" font-size="10.7" text-anchor="middle" stroke="#000" stroke-width="0.2">Trophocytes_1</text>
<text x="1727.74" y="532.24" font-size="10.7" text-anchor="middle" stroke="#000" stroke-width="0.2">SEMFs_3</text>
<text x="1818.59" y="528.44" font-size="10.7" text-anchor="middle" stroke="#000" stroke-width="0.2">Telocytes_1</text>
<text x="1750.53" y="541.00" font-size="10.7" text-anchor="middle" stroke="#000" stroke-width="0.2">SEMFs_2</text>
<text x="1805.45" y="542.75" font-size="10.7" text-anchor="middle" stroke="#000" stroke-width="0.2">Telocytes_2</text>
<path d="M1582.80,185.90V593.70H1990.70" fill="none" stroke="#000" stroke-width="1.6"/>
<line x1="1589.30" y1="593.70" x2="1589.30" y2="597.30" stroke="#000" stroke-width="1.6"/>
<text x="1589.30" y="610.80" font-size="12.8" text-anchor="middle">−15</text>
<line x1="1660.60" y1="593.70" x2="1660.60" y2="597.30" stroke="#000" stroke-width="1.6"/>
<text x="1660.60" y="610.80" font-size="12.8" text-anchor="middle">−10</text>
<line x1="1732.10" y1="593.70" x2="1732.10" y2="597.30" stroke="#000" stroke-width="1.6"/>
<text x="1732.10" y="610.80" font-size="12.8" text-anchor="middle">−5</text>
<line x1="1803.70" y1="593.70" x2="1803.70" y2="597.30" stroke="#000" stroke-width="1.6"/>
<text x="1803.70" y="610.80" font-size="12.8" text-anchor="middle">0</text>
<line x1="1875.30" y1="593.70" x2="1875.30" y2="597.30" stroke="#000" stroke-width="1.6"/>
<text x="1875.30" y="610.80" font-size="12.8" text-anchor="middle">5</text>
<line x1="1946.90" y1="593.70" x2="1946.90" y2="597.30" stroke="#000" stroke-width="1.6"/>
<text x="1946.90" y="610.80" font-size="12.8" text-anchor="middle">10</text>
<line x1="1579.20" y1="229.70" x2="1582.80" y2="229.70" stroke="#000" stroke-width="1.6"/>
<text x="1577.00" y="234.31" font-size="12.8" text-anchor="end">10</text>
<line x1="1579.20" y1="301.30" x2="1582.80" y2="301.30" stroke="#000" stroke-width="1.6"/>
<text x="1577.00" y="305.91" font-size="12.8" text-anchor="end">5</text>
<line x1="1579.20" y1="372.80" x2="1582.80" y2="372.80" stroke="#000" stroke-width="1.6"/>
<text x="1577.00" y="377.41" font-size="12.8" text-anchor="end">0</text>
<line x1="1579.20" y1="444.40" x2="1582.80" y2="444.40" stroke="#000" stroke-width="1.6"/>
<text x="1577.00" y="449.01" font-size="12.8" text-anchor="end">−5</text>
<line x1="1579.20" y1="516.00" x2="1582.80" y2="516.00" stroke="#000" stroke-width="1.6"/>
<text x="1577.00" y="520.61" font-size="12.8" text-anchor="end">−10</text>
<line x1="1579.20" y1="587.60" x2="1582.80" y2="587.60" stroke="#000" stroke-width="1.6"/>
<text x="1577.00" y="592.21" font-size="12.8" text-anchor="end">−15</text>
<text x="1785.90" y="628.40" font-size="15" text-anchor="middle">umap_1</text>
<text x="1547.30" y="390.10" font-size="15" text-anchor="middle" transform="rotate(-90 1547.30 390.10)">umap_2</text>
<text x="1786.30" y="175.71" font-size="17.25" text-anchor="middle" font-weight="bold">Cell Type</text>
<circle cx="1590.7" cy="654.6" r="4.90" fill="#F0787A"/>
<text x="1606.50" y="658.45" font-size="10.7">LECs</text>
<circle cx="1590.7" cy="678.8" r="4.90" fill="#E58B35"/>
<text x="1606.50" y="682.65" font-size="10.7">Mesothelial−like_1</text>
<circle cx="1590.7" cy="703.1" r="4.90" fill="#C99F35"/>
<text x="1606.50" y="706.95" font-size="10.7">Mesothelial−like_2</text>
<circle cx="1590.7" cy="727.3" r="4.90" fill="#A0AE35"/>
<text x="1606.50" y="731.15" font-size="10.7">MFs</text>
<circle cx="1590.7" cy="751.6" r="4.90" fill="#66C234"/>
<text x="1606.50" y="755.45" font-size="10.7">Pdgfra(hi)Cd81(+)</text>
<circle cx="1711.7" cy="654.6" r="4.90" fill="#4CCB66"/>
<text x="1727.70" y="658.45" font-size="10.7">Pericytes</text>
<circle cx="1711.7" cy="678.8" r="4.90" fill="#5AD2A8"/>
<text x="1727.70" y="682.65" font-size="10.7">SEMFs_2</text>
<circle cx="1711.7" cy="703.1" r="4.90" fill="#5AD2CC"/>
<text x="1727.70" y="706.95" font-size="10.7">SEMFs_3</text>
<circle cx="1711.7" cy="727.3" r="4.90" fill="#5BC4EE"/>
<text x="1727.70" y="731.15" font-size="10.7">Telocytes_1</text>
<circle cx="1711.7" cy="751.6" r="4.90" fill="#5CAAF5"/>
<text x="1727.70" y="755.45" font-size="10.7">Telocytes_2</text>
<circle cx="1800.5" cy="654.6" r="4.90" fill="#A896F8"/>
<text x="1816.60" y="658.45" font-size="10.7">Telocytes(proliferative)</text>
<circle cx="1800.5" cy="678.8" r="4.90" fill="#D880F8"/>
<text x="1816.60" y="682.65" font-size="10.7">Trophocytes_1</text>
<circle cx="1800.5" cy="703.1" r="4.90" fill="#F56EF0"/>
<text x="1816.60" y="706.95" font-size="10.7">Trophocytes_2</text>
<circle cx="1800.5" cy="727.3" r="4.90" fill="#F56CB4"/>
<text x="1816.60" y="731.15" font-size="10.7">Trophocytes_3</text>
<text transform="translate(1.6 26.6) scale(0.92 1)" font-size="45" font-weight="bold" fill="#1a1a1a">a</text>
<text x="1.10" y="890.60" font-size="45" font-weight="bold" fill="#1a1a1a">b</text>
<text x="1.60" y="1551.60" font-size="45" font-weight="bold" fill="#1a1a1a">c</text>
<text x="356.00" y="85.80" font-size="33.7" text-anchor="middle">Total intestine LP cells</text>
<text x="832.10" y="85.80" font-size="33.7" text-anchor="middle">SI LP cells</text>
<text x="1307.90" y="85.80" font-size="33.7" text-anchor="middle">LI LP cells</text>
<text x="1788.00" y="85.80" font-size="33.7" text-anchor="middle">Cecum LP cells</text>
<text x="479.00" y="899.80" font-size="29.0" text-anchor="middle">Total intestine LP cells</text>
<text x="853.30" y="899.80" font-size="29.0" text-anchor="middle">SI LP cells</text>
<text x="1231.60" y="899.80" font-size="29.0" text-anchor="middle">LI LP cells</text>
<text x="1641.00" y="899.80" font-size="29.0" text-anchor="middle">Cecum LP cells</text>
<path d="M294.90,924.50V1410.60H644.90" fill="none" stroke="#000" stroke-width="1.7"/>
<line x1="288.70" y1="945.00" x2="294.90" y2="945.00" stroke="#000" stroke-width="1.7"/>
<text x="283.90" y="951.96" font-size="19.6" text-anchor="end">Trophocytes_3</text>
<circle cx="313.4" cy="945.0" r="1.60" fill="#B5AED4"/>
<circle cx="344.6" cy="945.0" r="1.70" fill="#865BF2"/>
<circle cx="375.8" cy="945.0" r="1.60" fill="#B5AED4"/>
<circle cx="407.1" cy="945.0" r="6.60" fill="#C2B1DD"/>
<circle cx="438.3" cy="945.0" r="2.00" fill="#B79DE2"/>
<circle cx="469.5" cy="945.0" r="1.60" fill="#B5AED4"/>
<circle cx="500.7" cy="945.0" r="1.60" fill="#B5AED4"/>
<circle cx="531.9" cy="945.0" r="1.60" fill="#B5AED4"/>
<circle cx="563.2" cy="945.0" r="1.60" fill="#B5AED4"/>
<circle cx="594.4" cy="945.0" r="1.60" fill="#B5AED4"/>
<circle cx="625.6" cy="945.0" r="1.60" fill="#B5AED4"/>
<line x1="288.70" y1="976.94" x2="294.90" y2="976.94" stroke="#000" stroke-width="1.7"/>
<text x="283.90" y="983.90" font-size="19.6" text-anchor="end">Trophocytes_2</text>
<circle cx="313.4" cy="976.9" r="1.60" fill="#B5AED4"/>
<circle cx="344.6" cy="976.9" r="1.80" fill="#643BF8"/>
<circle cx="375.8" cy="976.9" r="1.60" fill="#B5AED4"/>
<circle cx="407.1" cy="976.9" r="7.30" fill="#BDA7E0"/>
<circle cx="438.3" cy="976.9" r="2.70" fill="#A37FEA"/>
<circle cx="469.5" cy="976.9" r="1.70" fill="#7046F6"/>
<circle cx="500.7" cy="976.9" r="1.60" fill="#B5AED4"/>
<circle cx="531.9" cy="976.9" r="1.60" fill="#B5AED4"/>
<circle cx="563.2" cy="976.9" r="1.60" fill="#B5AED4"/>
<circle cx="594.4" cy="976.9" r="1.70" fill="#542FFA"/>
<circle cx="625.6" cy="976.9" r="1.60" fill="#B5AED4"/>
<line x1="288.70" y1="1008.88" x2="294.90" y2="1008.88" stroke="#000" stroke-width="1.7"/>
<text x="283.90" y="1015.84" font-size="19.6" text-anchor="end">Trophocytes_1</text>
<circle cx="313.4" cy="1008.9" r="1.60" fill="#B5AED4"/>
<circle cx="344.6" cy="1008.9" r="1.70" fill="#AA89E7"/>
<circle cx="375.8" cy="1008.9" r="1.60" fill="#B5AED4"/>
<circle cx="407.1" cy="1008.9" r="6.10" fill="#BFACDE"/>
<circle cx="438.3" cy="1008.9" r="1.60" fill="#B5AED4"/>
<circle cx="469.5" cy="1008.9" r="1.70" fill="#4121FC"/>
<circle cx="500.7" cy="1008.9" r="1.60" fill="#B5AED4"/>
<circle cx="531.9" cy="1008.9" r="1.60" fill="#B5AED4"/>
<circle cx="563.2" cy="1008.9" r="1.60" fill="#B5AED4"/>
<circle cx="594.4" cy="1008.9" r="1.70" fill="#AD8EE6"/>
<circle cx="625.6" cy="1008.9" r="1.60" fill="#B5AED4"/>
<line x1="288.70" y1="1040.82" x2="294.90" y2="1040.82" stroke="#000" stroke-width="1.7"/>
<text x="283.90" y="1047.78" font-size="19.6" text-anchor="end">Telocytes(proliferative)</text>
<circle cx="313.4" cy="1040.8" r="1.60" fill="#B5AED4"/>
<circle cx="344.6" cy="1040.8" r="1.60" fill="#D3D3D3"/>
<circle cx="375.8" cy="1040.8" r="1.80" fill="#AD8EE6"/>
<circle cx="407.1" cy="1040.8" r="9.10" fill="#BAA2E1"/>
<circle cx="438.3" cy="1040.8" r="1.60" fill="#B5AED4"/>
<circle cx="469.5" cy="1040.8" r="1.60" fill="#B5AED4"/>
<circle cx="500.7" cy="1040.8" r="1.60" fill="#B5AED4"/>
<circle cx="531.9" cy="1040.8" r="1.60" fill="#B5AED4"/>
<circle cx="563.2" cy="1040.8" r="1.60" fill="#B5AED4"/>
<circle cx="594.4" cy="1040.8" r="1.60" fill="#B5AED4"/>
<circle cx="625.6" cy="1040.8" r="1.60" fill="#B5AED4"/>
<line x1="288.70" y1="1072.76" x2="294.90" y2="1072.76" stroke="#000" stroke-width="1.7"/>
<text x="283.90" y="1079.72" font-size="19.6" text-anchor="end">Telocytes_2</text>
<circle cx="313.4" cy="1072.8" r="1.80" fill="#220DFE"/>
<circle cx="344.6" cy="1072.8" r="1.60" fill="#D3D3D3"/>
<circle cx="375.8" cy="1072.8" r="1.60" fill="#B5AED4"/>
<circle cx="407.1" cy="1072.8" r="11.60" fill="#8F66F0"/>
<circle cx="438.3" cy="1072.8" r="1.60" fill="#B5AED4"/>
<circle cx="469.5" cy="1072.8" r="1.60" fill="#B5AED4"/>
<circle cx="500.7" cy="1072.8" r="1.60" fill="#B5AED4"/>
<circle cx="531.9" cy="1072.8" r="2.00" fill="#220DFE"/>
<circle cx="563.2" cy="1072.8" r="1.60" fill="#B5AED4"/>
<circle cx="594.4" cy="1072.8" r="1.70" fill="#7046F6"/>
<circle cx="625.6" cy="1072.8" r="1.60" fill="#B5AED4"/>
<line x1="288.70" y1="1104.70" x2="294.90" y2="1104.70" stroke="#000" stroke-width="1.7"/>
<text x="283.90" y="1111.66" font-size="19.6" text-anchor="end">Telocytes_1</text>
<circle cx="313.4" cy="1104.7" r="1.60" fill="#B5AED4"/>
<circle cx="344.6" cy="1104.7" r="1.60" fill="#D3D3D3"/>
<circle cx="375.8" cy="1104.7" r="1.60" fill="#B5AED4"/>
<circle cx="407.1" cy="1104.7" r="12.30" fill="#0000FF"/>
<circle cx="438.3" cy="1104.7" r="1.60" fill="#B5AED4"/>
<circle cx="469.5" cy="1104.7" r="1.60" fill="#B5AED4"/>
<circle cx="500.7" cy="1104.7" r="1.60" fill="#B5AED4"/>
<circle cx="531.9" cy="1104.7" r="1.70" fill="#8F66F0"/>
<circle cx="563.2" cy="1104.7" r="1.60" fill="#B5AED4"/>
<circle cx="594.4" cy="1104.7" r="1.60" fill="#B5AED4"/>
<circle cx="625.6" cy="1104.7" r="1.70" fill="#B193E5"/>
<line x1="288.70" y1="1136.64" x2="294.90" y2="1136.64" stroke="#000" stroke-width="1.7"/>
<text x="283.90" y="1143.60" font-size="19.6" text-anchor="end">SEMFs_3</text>
<circle cx="313.4" cy="1136.6" r="1.60" fill="#B5AED4"/>
<circle cx="344.6" cy="1136.6" r="1.70" fill="#9770ED"/>
<circle cx="375.8" cy="1136.6" r="1.60" fill="#B5AED4"/>
<circle cx="407.1" cy="1136.6" r="6.60" fill="#B498E4"/>
<circle cx="438.3" cy="1136.6" r="1.60" fill="#B5AED4"/>
<circle cx="469.5" cy="1136.6" r="1.60" fill="#B5AED4"/>
<circle cx="500.7" cy="1136.6" r="1.60" fill="#B5AED4"/>
<circle cx="531.9" cy="1136.6" r="1.80" fill="#8F66F0"/>
<circle cx="563.2" cy="1136.6" r="1.60" fill="#B5AED4"/>
<circle cx="594.4" cy="1136.6" r="1.60" fill="#B5AED4"/>
<circle cx="625.6" cy="1136.6" r="1.60" fill="#B5AED4"/>
<line x1="288.70" y1="1168.58" x2="294.90" y2="1168.58" stroke="#000" stroke-width="1.7"/>
<text x="283.90" y="1175.54" font-size="19.6" text-anchor="end">SEMFs_2</text>
<circle cx="313.4" cy="1168.6" r="1.60" fill="#B5AED4"/>
<circle cx="344.6" cy="1168.6" r="1.60" fill="#D3D3D3"/>
<circle cx="375.8" cy="1168.6" r="1.60" fill="#B5AED4"/>
<circle cx="407.1" cy="1168.6" r="9.30" fill="#AD8EE6"/>
<circle cx="438.3" cy="1168.6" r="1.60" fill="#B5AED4"/>
<circle cx="469.5" cy="1168.6" r="1.60" fill="#B5AED4"/>
<circle cx="500.7" cy="1168.6" r="1.60" fill="#B5AED4"/>
<circle cx="531.9" cy="1168.6" r="1.70" fill="#AD8EE6"/>
<circle cx="563.2" cy="1168.6" r="1.60" fill="#B5AED4"/>
<circle cx="594.4" cy="1168.6" r="1.60" fill="#B5AED4"/>
<circle cx="625.6" cy="1168.6" r="1.60" fill="#B5AED4"/>
<line x1="288.70" y1="1200.52" x2="294.90" y2="1200.52" stroke="#000" stroke-width="1.7"/>
<text x="283.90" y="1207.48" font-size="19.6" text-anchor="end">SEMFs_1</text>
<circle cx="313.4" cy="1200.5" r="1.60" fill="#B5AED4"/>
<circle cx="344.6" cy="1200.5" r="1.70" fill="#A684E9"/>
<circle cx="375.8" cy="1200.5" r="1.60" fill="#B5AED4"/>
<circle cx="407.1" cy="1200.5" r="3.40" fill="#D3D3D3"/>
<circle cx="438.3" cy="1200.5" r="1.60" fill="#B5AED4"/>
<circle cx="469.5" cy="1200.5" r="1.60" fill="#B5AED4"/>
<circle cx="500.7" cy="1200.5" r="1.60" fill="#B5AED4"/>
<circle cx="531.9" cy="1200.5" r="1.60" fill="#B5AED4"/>
<circle cx="563.2" cy="1200.5" r="1.70" fill="#AD8EE6"/>
<circle cx="594.4" cy="1200.5" r="1.60" fill="#B5AED4"/>
<circle cx="625.6" cy="1200.5" r="1.60" fill="#B5AED4"/>
<line x1="288.70" y1="1232.46" x2="294.90" y2="1232.46" stroke="#000" stroke-width="1.7"/>
<text x="283.90" y="1239.42" font-size="19.6" text-anchor="end">Pericytes</text>
<circle cx="313.4" cy="1232.5" r="1.60" fill="#B5AED4"/>
<circle cx="344.6" cy="1232.5" r="1.70" fill="#A37FEA"/>
<circle cx="375.8" cy="1232.5" r="2.70" fill="#220DFE"/>
<circle cx="407.1" cy="1232.5" r="3.00" fill="#D3D3D3"/>
<circle cx="438.3" cy="1232.5" r="6.30" fill="#0000FF"/>
<circle cx="469.5" cy="1232.5" r="1.60" fill="#B5AED4"/>
<circle cx="500.7" cy="1232.5" r="2.00" fill="#220DFE"/>
<circle cx="531.9" cy="1232.5" r="1.70" fill="#A37FEA"/>
<circle cx="563.2" cy="1232.5" r="2.40" fill="#220DFE"/>
<circle cx="594.4" cy="1232.5" r="1.60" fill="#B5AED4"/>
<circle cx="625.6" cy="1232.5" r="2.00" fill="#220DFE"/>
<line x1="288.70" y1="1264.40" x2="294.90" y2="1264.40" stroke="#000" stroke-width="1.7"/>
<text x="283.90" y="1271.36" font-size="19.6" text-anchor="end">Pdgfra(hi)Cd81(+)</text>
<circle cx="313.4" cy="1264.4" r="1.60" fill="#B5AED4"/>
<circle cx="344.6" cy="1264.4" r="1.60" fill="#D3D3D3"/>
<circle cx="375.8" cy="1264.4" r="1.60" fill="#B5AED4"/>
<circle cx="407.1" cy="1264.4" r="4.00" fill="#CFCAD6"/>
<circle cx="438.3" cy="1264.4" r="1.60" fill="#B5AED4"/>
<circle cx="469.5" cy="1264.4" r="1.60" fill="#B5AED4"/>
<circle cx="500.7" cy="1264.4" r="1.60" fill="#B5AED4"/>
<circle cx="531.9" cy="1264.4" r="1.60" fill="#B5AED4"/>
<circle cx="563.2" cy="1264.4" r="1.60" fill="#B5AED4"/>
<circle cx="594.4" cy="1264.4" r="1.60" fill="#B5AED4"/>
<circle cx="625.6" cy="1264.4" r="1.80" fill="#8F66F0"/>
<line x1="288.70" y1="1296.34" x2="294.90" y2="1296.34" stroke="#000" stroke-width="1.7"/>
<text x="283.90" y="1303.30" font-size="19.6" text-anchor="end">MFs</text>
<circle cx="313.4" cy="1296.3" r="1.60" fill="#B5AED4"/>
<circle cx="344.6" cy="1296.3" r="1.60" fill="#D3D3D3"/>
<circle cx="375.8" cy="1296.3" r="1.60" fill="#B5AED4"/>
<circle cx="407.1" cy="1296.3" r="6.60" fill="#B79DE2"/>
<circle cx="438.3" cy="1296.3" r="1.60" fill="#B5AED4"/>
<circle cx="469.5" cy="1296.3" r="1.60" fill="#B5AED4"/>
<circle cx="500.7" cy="1296.3" r="1.60" fill="#B5AED4"/>
<circle cx="531.9" cy="1296.3" r="1.60" fill="#B5AED4"/>
<circle cx="563.2" cy="1296.3" r="1.60" fill="#B5AED4"/>
<circle cx="594.4" cy="1296.3" r="1.60" fill="#B5AED4"/>
<circle cx="625.6" cy="1296.3" r="1.80" fill="#9770ED"/>
<line x1="288.70" y1="1328.28" x2="294.90" y2="1328.28" stroke="#000" stroke-width="1.7"/>
<text x="283.90" y="1335.24" font-size="19.6" text-anchor="end">Mesothelial−like_2</text>
<circle cx="313.4" cy="1328.3" r="1.60" fill="#B5AED4"/>
<circle cx="344.6" cy="1328.3" r="1.80" fill="#8156F3"/>
<circle cx="375.8" cy="1328.3" r="1.60" fill="#B5AED4"/>
<circle cx="407.1" cy="1328.3" r="8.10" fill="#A684E9"/>
<circle cx="438.3" cy="1328.3" r="1.60" fill="#B5AED4"/>
<circle cx="469.5" cy="1328.3" r="1.60" fill="#B5AED4"/>
<circle cx="500.7" cy="1328.3" r="1.60" fill="#B5AED4"/>
<circle cx="531.9" cy="1328.3" r="1.60" fill="#B5AED4"/>
<circle cx="563.2" cy="1328.3" r="1.60" fill="#B5AED4"/>
<circle cx="594.4" cy="1328.3" r="1.60" fill="#B5AED4"/>
<circle cx="625.6" cy="1328.3" r="1.60" fill="#B5AED4"/>
<line x1="288.70" y1="1360.22" x2="294.90" y2="1360.22" stroke="#000" stroke-width="1.7"/>
<text x="283.90" y="1367.18" font-size="19.6" text-anchor="end">Mesothelial−like_1</text>
<circle cx="313.4" cy="1360.2" r="1.60" fill="#B5AED4"/>
<circle cx="344.6" cy="1360.2" r="1.80" fill="#7046F6"/>
<circle cx="375.8" cy="1360.2" r="1.60" fill="#B5AED4"/>
<circle cx="407.1" cy="1360.2" r="11.10" fill="#8F66F0"/>
<circle cx="438.3" cy="1360.2" r="3.40" fill="#8F66F0"/>
<circle cx="469.5" cy="1360.2" r="1.60" fill="#B5AED4"/>
<circle cx="500.7" cy="1360.2" r="1.60" fill="#B5AED4"/>
<circle cx="531.9" cy="1360.2" r="1.60" fill="#B5AED4"/>
<circle cx="563.2" cy="1360.2" r="1.60" fill="#B5AED4"/>
<circle cx="594.4" cy="1360.2" r="1.60" fill="#B5AED4"/>
<circle cx="625.6" cy="1360.2" r="1.60" fill="#B5AED4"/>
<line x1="288.70" y1="1392.16" x2="294.90" y2="1392.16" stroke="#000" stroke-width="1.7"/>
<text x="283.90" y="1399.12" font-size="19.6" text-anchor="end">LECs</text>
<circle cx="313.4" cy="1392.2" r="1.60" fill="#B5AED4"/>
<circle cx="344.6" cy="1392.2" r="1.60" fill="#B5AED4"/>
<circle cx="375.8" cy="1392.2" r="1.60" fill="#B5AED4"/>
<circle cx="407.1" cy="1392.2" r="5.30" fill="#C8BBDA"/>
<circle cx="438.3" cy="1392.2" r="1.60" fill="#B5AED4"/>
<circle cx="469.5" cy="1392.2" r="1.80" fill="#220DFE"/>
<circle cx="500.7" cy="1392.2" r="1.60" fill="#B5AED4"/>
<circle cx="531.9" cy="1392.2" r="1.60" fill="#B5AED4"/>
<circle cx="563.2" cy="1392.2" r="1.60" fill="#B5AED4"/>
<circle cx="594.4" cy="1392.2" r="1.80" fill="#220DFE"/>
<circle cx="625.6" cy="1392.2" r="1.60" fill="#B5AED4"/>
<line x1="313.40" y1="1410.60" x2="313.40" y2="1417.00" stroke="#000" stroke-width="1.7"/>
<text x="320.36" y="1423.40" font-size="19.6" text-anchor="end" transform="rotate(-90 320.36 1423.40)">Cckar</text>
<line x1="344.62" y1="1410.60" x2="344.62" y2="1417.00" stroke="#000" stroke-width="1.7"/>
<text x="351.58" y="1423.40" font-size="19.6" text-anchor="end" transform="rotate(-90 351.58 1423.40)">Cckbr</text>
<line x1="375.84" y1="1410.60" x2="375.84" y2="1417.00" stroke="#000" stroke-width="1.7"/>
<text x="382.80" y="1423.40" font-size="19.6" text-anchor="end" transform="rotate(-90 382.80 1423.40)">Glp1r</text>
<line x1="407.06" y1="1410.60" x2="407.06" y2="1417.00" stroke="#000" stroke-width="1.7"/>
<text x="414.02" y="1423.40" font-size="19.6" text-anchor="end" transform="rotate(-90 414.02 1423.40)">Glp2r</text>
<line x1="438.28" y1="1410.60" x2="438.28" y2="1417.00" stroke="#000" stroke-width="1.7"/>
<text x="445.24" y="1423.40" font-size="19.6" text-anchor="end" transform="rotate(-90 445.24 1423.40)">Npy1r</text>
<line x1="469.50" y1="1410.60" x2="469.50" y2="1417.00" stroke="#000" stroke-width="1.7"/>
<text x="476.46" y="1423.40" font-size="19.6" text-anchor="end" transform="rotate(-90 476.46 1423.40)">Npy2r</text>
<line x1="500.72" y1="1410.60" x2="500.72" y2="1417.00" stroke="#000" stroke-width="1.7"/>
<text x="507.68" y="1423.40" font-size="19.6" text-anchor="end" transform="rotate(-90 507.68 1423.40)">Gipr</text>
<line x1="531.94" y1="1410.60" x2="531.94" y2="1417.00" stroke="#000" stroke-width="1.7"/>
<text x="538.90" y="1423.40" font-size="19.6" text-anchor="end" transform="rotate(-90 538.90 1423.40)">Sstr1</text>
<line x1="563.16" y1="1410.60" x2="563.16" y2="1417.00" stroke="#000" stroke-width="1.7"/>
<text x="570.12" y="1423.40" font-size="19.6" text-anchor="end" transform="rotate(-90 570.12 1423.40)">Sstr2</text>
<line x1="594.38" y1="1410.60" x2="594.38" y2="1417.00" stroke="#000" stroke-width="1.7"/>
<text x="601.34" y="1423.40" font-size="19.6" text-anchor="end" transform="rotate(-90 601.34 1423.40)">Ghsr</text>
<line x1="625.60" y1="1410.60" x2="625.60" y2="1417.00" stroke="#000" stroke-width="1.7"/>
<text x="632.56" y="1423.40" font-size="19.6" text-anchor="end" transform="rotate(-90 632.56 1423.40)">Grpr</text>
<text x="469.90" y="1497.87" font-size="23" text-anchor="middle">Features</text>
<path d="M671.00,924.50V1410.60H1021.00" fill="none" stroke="#000" stroke-width="1.7"/>
<line x1="664.80" y1="946.20" x2="671.00" y2="946.20" stroke="#000" stroke-width="1.7"/>
<circle cx="689.9" cy="946.2" r="1.60" fill="#707070"/>
<circle cx="721.1" cy="946.2" r="1.70" fill="#A37FEA"/>
<circle cx="752.3" cy="946.2" r="1.60" fill="#B5AED4"/>
<circle cx="783.6" cy="946.2" r="5.20" fill="#C2B1DD"/>
<circle cx="814.8" cy="946.2" r="1.90" fill="#B498E4"/>
<circle cx="846.0" cy="946.2" r="1.60" fill="#B5AED4"/>
<circle cx="877.2" cy="946.2" r="1.60" fill="#B5AED4"/>
<circle cx="908.4" cy="946.2" r="1.60" fill="#B5AED4"/>
<circle cx="939.7" cy="946.2" r="1.80" fill="#9770ED"/>
<circle cx="970.9" cy="946.2" r="1.60" fill="#B5AED4"/>
<circle cx="1002.1" cy="946.2" r="1.60" fill="#B5AED4"/>
<line x1="664.80" y1="980.42" x2="671.00" y2="980.42" stroke="#000" stroke-width="1.7"/>
<circle cx="689.9" cy="980.4" r="1.60" fill="#707070"/>
<circle cx="721.1" cy="980.4" r="1.70" fill="#865BF2"/>
<circle cx="752.3" cy="980.4" r="1.60" fill="#B5AED4"/>
<circle cx="783.6" cy="980.4" r="5.80" fill="#BAA2E1"/>
<circle cx="814.8" cy="980.4" r="2.60" fill="#AA89E7"/>
<circle cx="846.0" cy="980.4" r="1.70" fill="#764CF5"/>
<circle cx="877.2" cy="980.4" r="1.60" fill="#B5AED4"/>
<circle cx="908.4" cy="980.4" r="1.60" fill="#B5AED4"/>
<circle cx="939.7" cy="980.4" r="1.70" fill="#9F7AEB"/>
<circle cx="970.9" cy="980.4" r="1.80" fill="#220DFE"/>
<circle cx="1002.1" cy="980.4" r="1.60" fill="#B5AED4"/>
<line x1="664.80" y1="1014.64" x2="671.00" y2="1014.64" stroke="#000" stroke-width="1.7"/>
<circle cx="689.9" cy="1014.6" r="1.60" fill="#707070"/>
<circle cx="721.1" cy="1014.6" r="1.70" fill="#AA89E7"/>
<circle cx="752.3" cy="1014.6" r="1.60" fill="#B5AED4"/>
<circle cx="783.6" cy="1014.6" r="5.00" fill="#BDA7E0"/>
<circle cx="814.8" cy="1014.6" r="1.60" fill="#B5AED4"/>
<circle cx="846.0" cy="1014.6" r="1.80" fill="#542FFA"/>
<circle cx="877.2" cy="1014.6" r="1.60" fill="#B5AED4"/>
<circle cx="908.4" cy="1014.6" r="1.60" fill="#B5AED4"/>
<circle cx="939.7" cy="1014.6" r="1.70" fill="#9F7AEB"/>
<circle cx="970.9" cy="1014.6" r="1.70" fill="#AA89E7"/>
<circle cx="1002.1" cy="1014.6" r="1.60" fill="#B5AED4"/>
<line x1="664.80" y1="1048.86" x2="671.00" y2="1048.86" stroke="#000" stroke-width="1.7"/>
<circle cx="689.9" cy="1048.9" r="1.60" fill="#707070"/>
<circle cx="721.1" cy="1048.9" r="1.60" fill="#B5AED4"/>
<circle cx="752.3" cy="1048.9" r="1.90" fill="#B193E5"/>
<circle cx="783.6" cy="1048.9" r="5.20" fill="#C5B6DC"/>
<circle cx="814.8" cy="1048.9" r="1.60" fill="#B5AED4"/>
<circle cx="846.0" cy="1048.9" r="1.60" fill="#B5AED4"/>
<circle cx="877.2" cy="1048.9" r="1.60" fill="#B5AED4"/>
<circle cx="908.4" cy="1048.9" r="1.60" fill="#B5AED4"/>
<circle cx="939.7" cy="1048.9" r="1.60" fill="#D3D3D3"/>
<circle cx="970.9" cy="1048.9" r="1.60" fill="#B5AED4"/>
<circle cx="1002.1" cy="1048.9" r="1.60" fill="#B5AED4"/>
<line x1="664.80" y1="1083.08" x2="671.00" y2="1083.08" stroke="#000" stroke-width="1.7"/>
<circle cx="689.9" cy="1083.1" r="1.60" fill="#707070"/>
<circle cx="721.1" cy="1083.1" r="1.60" fill="#B5AED4"/>
<circle cx="752.3" cy="1083.1" r="1.60" fill="#B5AED4"/>
<circle cx="783.6" cy="1083.1" r="12.20" fill="#7046F6"/>
<circle cx="814.8" cy="1083.1" r="1.60" fill="#B5AED4"/>
<circle cx="846.0" cy="1083.1" r="1.60" fill="#B5AED4"/>
<circle cx="877.2" cy="1083.1" r="1.60" fill="#B5AED4"/>
<circle cx="908.4" cy="1083.1" r="1.60" fill="#B5AED4"/>
<circle cx="939.7" cy="1083.1" r="1.60" fill="#D3D3D3"/>
<circle cx="970.9" cy="1083.1" r="1.60" fill="#B5AED4"/>
<circle cx="1002.1" cy="1083.1" r="1.60" fill="#B5AED4"/>
<line x1="664.80" y1="1117.30" x2="671.00" y2="1117.30" stroke="#000" stroke-width="1.7"/>
<circle cx="689.9" cy="1117.3" r="1.60" fill="#707070"/>
<circle cx="721.1" cy="1117.3" r="1.60" fill="#B5AED4"/>
<circle cx="752.3" cy="1117.3" r="1.60" fill="#B5AED4"/>
<circle cx="783.6" cy="1117.3" r="9.60" fill="#0000FF"/>
<circle cx="814.8" cy="1117.3" r="1.60" fill="#B5AED4"/>
<circle cx="846.0" cy="1117.3" r="1.60" fill="#B5AED4"/>
<circle cx="877.2" cy="1117.3" r="1.60" fill="#B5AED4"/>
<circle cx="908.4" cy="1117.3" r="1.60" fill="#B5AED4"/>
<circle cx="939.7" cy="1117.3" r="1.80" fill="#764CF5"/>
<circle cx="970.9" cy="1117.3" r="1.60" fill="#B5AED4"/>
<circle cx="1002.1" cy="1117.3" r="1.70" fill="#B498E4"/>
<line x1="664.80" y1="1151.52" x2="671.00" y2="1151.52" stroke="#000" stroke-width="1.7"/>
<circle cx="689.9" cy="1151.5" r="1.60" fill="#707070"/>
<circle cx="721.1" cy="1151.5" r="1.60" fill="#B5AED4"/>
<circle cx="752.3" cy="1151.5" r="1.60" fill="#B5AED4"/>
<circle cx="783.6" cy="1151.5" r="8.10" fill="#AD8EE6"/>
<circle cx="814.8" cy="1151.5" r="1.60" fill="#B5AED4"/>
<circle cx="846.0" cy="1151.5" r="1.60" fill="#B5AED4"/>
<circle cx="877.2" cy="1151.5" r="1.60" fill="#B5AED4"/>
<circle cx="908.4" cy="1151.5" r="1.60" fill="#B5AED4"/>
<circle cx="939.7" cy="1151.5" r="1.60" fill="#D3D3D3"/>
<circle cx="970.9" cy="1151.5" r="1.60" fill="#B5AED4"/>
<circle cx="1002.1" cy="1151.5" r="1.60" fill="#B5AED4"/>
<line x1="664.80" y1="1185.74" x2="671.00" y2="1185.74" stroke="#000" stroke-width="1.7"/>
<circle cx="689.9" cy="1185.7" r="1.60" fill="#707070"/>
<circle cx="721.1" cy="1185.7" r="1.70" fill="#AD8EE6"/>
<circle cx="752.3" cy="1185.7" r="1.60" fill="#B5AED4"/>
<circle cx="783.6" cy="1185.7" r="2.80" fill="#CFCAD6"/>
<circle cx="814.8" cy="1185.7" r="1.60" fill="#B5AED4"/>
<circle cx="846.0" cy="1185.7" r="1.60" fill="#B5AED4"/>
<circle cx="877.2" cy="1185.7" r="1.60" fill="#B5AED4"/>
<circle cx="908.4" cy="1185.7" r="1.70" fill="#9770ED"/>
<circle cx="939.7" cy="1185.7" r="1.80" fill="#764CF5"/>
<circle cx="970.9" cy="1185.7" r="1.60" fill="#B5AED4"/>
<circle cx="1002.1" cy="1185.7" r="1.60" fill="#B5AED4"/>
<line x1="664.80" y1="1219.96" x2="671.00" y2="1219.96" stroke="#000" stroke-width="1.7"/>
<circle cx="689.9" cy="1220.0" r="1.60" fill="#707070"/>
<circle cx="721.1" cy="1220.0" r="1.60" fill="#B5AED4"/>
<circle cx="752.3" cy="1220.0" r="2.80" fill="#220DFE"/>
<circle cx="783.6" cy="1220.0" r="2.60" fill="#D3D3D3"/>
<circle cx="814.8" cy="1220.0" r="6.40" fill="#0000FF"/>
<circle cx="846.0" cy="1220.0" r="1.60" fill="#B5AED4"/>
<circle cx="877.2" cy="1220.0" r="1.90" fill="#220DFE"/>
<circle cx="908.4" cy="1220.0" r="1.80" fill="#220DFE"/>
<circle cx="939.7" cy="1220.0" r="1.70" fill="#9770ED"/>
<circle cx="970.9" cy="1220.0" r="1.60" fill="#B5AED4"/>
<circle cx="1002.1" cy="1220.0" r="2.00" fill="#220DFE"/>
<line x1="664.80" y1="1254.18" x2="671.00" y2="1254.18" stroke="#000" stroke-width="1.7"/>
<circle cx="689.9" cy="1254.2" r="1.60" fill="#707070"/>
<circle cx="721.1" cy="1254.2" r="1.60" fill="#B5AED4"/>
<circle cx="752.3" cy="1254.2" r="1.60" fill="#B5AED4"/>
<circle cx="783.6" cy="1254.2" r="3.20" fill="#CDC5D7"/>
<circle cx="814.8" cy="1254.2" r="1.60" fill="#B5AED4"/>
<circle cx="846.0" cy="1254.2" r="1.60" fill="#B5AED4"/>
<circle cx="877.2" cy="1254.2" r="1.60" fill="#B5AED4"/>
<circle cx="908.4" cy="1254.2" r="1.60" fill="#B5AED4"/>
<circle cx="939.7" cy="1254.2" r="1.60" fill="#B5AED4"/>
<circle cx="970.9" cy="1254.2" r="1.60" fill="#B5AED4"/>
<circle cx="1002.1" cy="1254.2" r="1.70" fill="#9F7AEB"/>
<line x1="664.80" y1="1288.40" x2="671.00" y2="1288.40" stroke="#000" stroke-width="1.7"/>
<circle cx="689.9" cy="1288.4" r="1.60" fill="#707070"/>
<circle cx="721.1" cy="1288.4" r="1.60" fill="#B5AED4"/>
<circle cx="752.3" cy="1288.4" r="1.60" fill="#B5AED4"/>
<circle cx="783.6" cy="1288.4" r="5.40" fill="#B79DE2"/>
<circle cx="814.8" cy="1288.4" r="1.60" fill="#B5AED4"/>
<circle cx="846.0" cy="1288.4" r="1.60" fill="#B5AED4"/>
<circle cx="877.2" cy="1288.4" r="1.60" fill="#B5AED4"/>
<circle cx="908.4" cy="1288.4" r="1.60" fill="#B5AED4"/>
<circle cx="939.7" cy="1288.4" r="1.70" fill="#B193E5"/>
<circle cx="970.9" cy="1288.4" r="1.60" fill="#B5AED4"/>
<circle cx="1002.1" cy="1288.4" r="1.70" fill="#A37FEA"/>
<line x1="664.80" y1="1322.62" x2="671.00" y2="1322.62" stroke="#000" stroke-width="1.7"/>
<circle cx="689.9" cy="1322.6" r="1.60" fill="#707070"/>
<circle cx="721.1" cy="1322.6" r="1.80" fill="#220DFE"/>
<circle cx="752.3" cy="1322.6" r="1.60" fill="#B5AED4"/>
<circle cx="783.6" cy="1322.6" r="5.80" fill="#B498E4"/>
<circle cx="814.8" cy="1322.6" r="1.70" fill="#B79DE2"/>
<circle cx="846.0" cy="1322.6" r="1.60" fill="#B5AED4"/>
<circle cx="877.2" cy="1322.6" r="1.60" fill="#B5AED4"/>
<circle cx="908.4" cy="1322.6" r="1.60" fill="#B5AED4"/>
<circle cx="939.7" cy="1322.6" r="1.60" fill="#D3D3D3"/>
<circle cx="970.9" cy="1322.6" r="1.60" fill="#B5AED4"/>
<circle cx="1002.1" cy="1322.6" r="1.60" fill="#B5AED4"/>
<line x1="664.80" y1="1356.84" x2="671.00" y2="1356.84" stroke="#000" stroke-width="1.7"/>
<circle cx="689.9" cy="1356.8" r="1.60" fill="#707070"/>
<circle cx="721.1" cy="1356.8" r="1.60" fill="#B5AED4"/>
<circle cx="752.3" cy="1356.8" r="1.60" fill="#B5AED4"/>
<circle cx="783.6" cy="1356.8" r="8.20" fill="#BAA2E1"/>
<circle cx="814.8" cy="1356.8" r="4.80" fill="#3418FD"/>
<circle cx="846.0" cy="1356.8" r="1.60" fill="#B5AED4"/>
<circle cx="877.2" cy="1356.8" r="1.60" fill="#B5AED4"/>
<circle cx="908.4" cy="1356.8" r="1.60" fill="#B5AED4"/>
<circle cx="939.7" cy="1356.8" r="1.60" fill="#D3D3D3"/>
<circle cx="970.9" cy="1356.8" r="1.60" fill="#B5AED4"/>
<circle cx="1002.1" cy="1356.8" r="1.60" fill="#B5AED4"/>
<line x1="664.80" y1="1391.06" x2="671.00" y2="1391.06" stroke="#000" stroke-width="1.7"/>
<circle cx="689.9" cy="1391.1" r="1.60" fill="#707070"/>
<circle cx="721.1" cy="1391.1" r="1.70" fill="#B498E4"/>
<circle cx="752.3" cy="1391.1" r="1.60" fill="#B5AED4"/>
<circle cx="783.6" cy="1391.1" r="4.20" fill="#C2B1DD"/>
<circle cx="814.8" cy="1391.1" r="1.60" fill="#B5AED4"/>
<circle cx="846.0" cy="1391.1" r="1.70" fill="#220DFE"/>
<circle cx="877.2" cy="1391.1" r="1.60" fill="#B5AED4"/>
<circle cx="908.4" cy="1391.1" r="1.60" fill="#B5AED4"/>
<circle cx="939.7" cy="1391.1" r="1.60" fill="#B5AED4"/>
<circle cx="970.9" cy="1391.1" r="1.70" fill="#220DFE"/>
<circle cx="1002.1" cy="1391.1" r="1.60" fill="#B5AED4"/>
<line x1="689.90" y1="1410.60" x2="689.90" y2="1417.00" stroke="#000" stroke-width="1.7"/>
<text x="696.86" y="1423.40" font-size="19.6" text-anchor="end" transform="rotate(-90 696.86 1423.40)">Cckar</text>
<line x1="721.12" y1="1410.60" x2="721.12" y2="1417.00" stroke="#000" stroke-width="1.7"/>
<text x="728.08" y="1423.40" font-size="19.6" text-anchor="end" transform="rotate(-90 728.08 1423.40)">Cckbr</text>
<line x1="752.34" y1="1410.60" x2="752.34" y2="1417.00" stroke="#000" stroke-width="1.7"/>
<text x="759.30" y="1423.40" font-size="19.6" text-anchor="end" transform="rotate(-90 759.30 1423.40)">Glp1r</text>
<line x1="783.56" y1="1410.60" x2="783.56" y2="1417.00" stroke="#000" stroke-width="1.7"/>
<text x="790.52" y="1423.40" font-size="19.6" text-anchor="end" transform="rotate(-90 790.52 1423.40)">Glp2r</text>
<line x1="814.78" y1="1410.60" x2="814.78" y2="1417.00" stroke="#000" stroke-width="1.7"/>
<text x="821.74" y="1423.40" font-size="19.6" text-anchor="end" transform="rotate(-90 821.74 1423.40)">Npy1r</text>
<line x1="846.00" y1="1410.60" x2="846.00" y2="1417.00" stroke="#000" stroke-width="1.7"/>
<text x="852.96" y="1423.40" font-size="19.6" text-anchor="end" transform="rotate(-90 852.96 1423.40)">Npy2r</text>
<line x1="877.22" y1="1410.60" x2="877.22" y2="1417.00" stroke="#000" stroke-width="1.7"/>
<text x="884.18" y="1423.40" font-size="19.6" text-anchor="end" transform="rotate(-90 884.18 1423.40)">Gipr</text>
<line x1="908.44" y1="1410.60" x2="908.44" y2="1417.00" stroke="#000" stroke-width="1.7"/>
<text x="915.40" y="1423.40" font-size="19.6" text-anchor="end" transform="rotate(-90 915.40 1423.40)">Sstr1</text>
<line x1="939.66" y1="1410.60" x2="939.66" y2="1417.00" stroke="#000" stroke-width="1.7"/>
<text x="946.62" y="1423.40" font-size="19.6" text-anchor="end" transform="rotate(-90 946.62 1423.40)">Sstr2</text>
<line x1="970.88" y1="1410.60" x2="970.88" y2="1417.00" stroke="#000" stroke-width="1.7"/>
<text x="977.84" y="1423.40" font-size="19.6" text-anchor="end" transform="rotate(-90 977.84 1423.40)">Ghsr</text>
<line x1="1002.10" y1="1410.60" x2="1002.10" y2="1417.00" stroke="#000" stroke-width="1.7"/>
<text x="1009.06" y="1423.40" font-size="19.6" text-anchor="end" transform="rotate(-90 1009.06 1423.40)">Grpr</text>
<text x="846.00" y="1497.87" font-size="23" text-anchor="middle">Features</text>
<path d="M1048.10,924.50V1410.60H1398.00" fill="none" stroke="#000" stroke-width="1.7"/>
<line x1="1041.90" y1="945.00" x2="1048.10" y2="945.00" stroke="#000" stroke-width="1.7"/>
<circle cx="1066.6" cy="945.0" r="1.60" fill="#B5AED4"/>
<circle cx="1097.8" cy="945.0" r="1.60" fill="#B5AED4"/>
<circle cx="1129.0" cy="945.0" r="1.60" fill="#B5AED4"/>
<circle cx="1160.2" cy="945.0" r="5.80" fill="#CFCAD6"/>
<circle cx="1191.4" cy="945.0" r="5.80" fill="#9B75EC"/>
<circle cx="1222.6" cy="945.0" r="1.60" fill="#707070"/>
<circle cx="1253.8" cy="945.0" r="1.60" fill="#B5AED4"/>
<circle cx="1285.0" cy="945.0" r="1.60" fill="#B5AED4"/>
<circle cx="1316.2" cy="945.0" r="1.60" fill="#B5AED4"/>
<circle cx="1347.4" cy="945.0" r="1.60" fill="#B5AED4"/>
<circle cx="1378.6" cy="945.0" r="1.60" fill="#B5AED4"/>
<line x1="1041.90" y1="976.94" x2="1048.10" y2="976.94" stroke="#000" stroke-width="1.7"/>
<circle cx="1066.6" cy="976.9" r="1.60" fill="#B5AED4"/>
<circle cx="1097.8" cy="976.9" r="1.60" fill="#B5AED4"/>
<circle cx="1129.0" cy="976.9" r="1.60" fill="#B5AED4"/>
<circle cx="1160.2" cy="976.9" r="6.60" fill="#A684E9"/>
<circle cx="1191.4" cy="976.9" r="1.60" fill="#B5AED4"/>
<circle cx="1222.6" cy="976.9" r="1.60" fill="#707070"/>
<circle cx="1253.8" cy="976.9" r="1.60" fill="#B5AED4"/>
<circle cx="1285.0" cy="976.9" r="1.60" fill="#B5AED4"/>
<circle cx="1316.2" cy="976.9" r="1.60" fill="#B5AED4"/>
<circle cx="1347.4" cy="976.9" r="1.60" fill="#B5AED4"/>
<circle cx="1378.6" cy="976.9" r="1.60" fill="#B5AED4"/>
<line x1="1041.90" y1="1008.88" x2="1048.10" y2="1008.88" stroke="#000" stroke-width="1.7"/>
<circle cx="1066.6" cy="1008.9" r="1.60" fill="#B5AED4"/>
<circle cx="1097.8" cy="1008.9" r="1.60" fill="#B5AED4"/>
<circle cx="1129.0" cy="1008.9" r="1.60" fill="#B5AED4"/>
<circle cx="1160.2" cy="1008.9" r="9.00" fill="#9770ED"/>
<circle cx="1191.4" cy="1008.9" r="3.40" fill="#936BEF"/>
<circle cx="1222.6" cy="1008.9" r="1.60" fill="#707070"/>
<circle cx="1253.8" cy="1008.9" r="1.60" fill="#B5AED4"/>
<circle cx="1285.0" cy="1008.9" r="1.60" fill="#B5AED4"/>
<circle cx="1316.2" cy="1008.9" r="1.60" fill="#B5AED4"/>
<circle cx="1347.4" cy="1008.9" r="1.60" fill="#B5AED4"/>
<circle cx="1378.6" cy="1008.9" r="1.60" fill="#B5AED4"/>
<line x1="1041.90" y1="1040.82" x2="1048.10" y2="1040.82" stroke="#000" stroke-width="1.7"/>
<circle cx="1066.6" cy="1040.8" r="1.60" fill="#B5AED4"/>
<circle cx="1097.8" cy="1040.8" r="1.60" fill="#B5AED4"/>
<circle cx="1129.0" cy="1040.8" r="1.60" fill="#B5AED4"/>
<circle cx="1160.2" cy="1040.8" r="12.20" fill="#936BEF"/>
<circle cx="1191.4" cy="1040.8" r="1.60" fill="#B5AED4"/>
<circle cx="1222.6" cy="1040.8" r="1.60" fill="#707070"/>
<circle cx="1253.8" cy="1040.8" r="1.60" fill="#B5AED4"/>
<circle cx="1285.0" cy="1040.8" r="1.60" fill="#B5AED4"/>
<circle cx="1316.2" cy="1040.8" r="1.60" fill="#B5AED4"/>
<circle cx="1347.4" cy="1040.8" r="1.60" fill="#B5AED4"/>
<circle cx="1378.6" cy="1040.8" r="1.60" fill="#B5AED4"/>
<line x1="1041.90" y1="1072.76" x2="1048.10" y2="1072.76" stroke="#000" stroke-width="1.7"/>
<circle cx="1066.6" cy="1072.8" r="1.80" fill="#220DFE"/>
<circle cx="1097.8" cy="1072.8" r="1.60" fill="#B5AED4"/>
<circle cx="1129.0" cy="1072.8" r="1.60" fill="#B5AED4"/>
<circle cx="1160.2" cy="1072.8" r="9.80" fill="#8A61F1"/>
<circle cx="1191.4" cy="1072.8" r="1.60" fill="#B5AED4"/>
<circle cx="1222.6" cy="1072.8" r="1.60" fill="#707070"/>
<circle cx="1253.8" cy="1072.8" r="1.60" fill="#B5AED4"/>
<circle cx="1285.0" cy="1072.8" r="2.00" fill="#220DFE"/>
<circle cx="1316.2" cy="1072.8" r="1.60" fill="#B5AED4"/>
<circle cx="1347.4" cy="1072.8" r="1.80" fill="#220DFE"/>
<circle cx="1378.6" cy="1072.8" r="1.60" fill="#B5AED4"/>
<line x1="1041.90" y1="1104.70" x2="1048.10" y2="1104.70" stroke="#000" stroke-width="1.7"/>
<circle cx="1066.6" cy="1104.7" r="1.60" fill="#B5AED4"/>
<circle cx="1097.8" cy="1104.7" r="1.60" fill="#B5AED4"/>
<circle cx="1129.0" cy="1104.7" r="1.60" fill="#B5AED4"/>
<circle cx="1160.2" cy="1104.7" r="9.40" fill="#5C35F9"/>
<circle cx="1191.4" cy="1104.7" r="1.60" fill="#B5AED4"/>
<circle cx="1222.6" cy="1104.7" r="1.60" fill="#707070"/>
<circle cx="1253.8" cy="1104.7" r="1.60" fill="#B5AED4"/>
<circle cx="1285.0" cy="1104.7" r="2.00" fill="#220DFE"/>
<circle cx="1316.2" cy="1104.7" r="1.60" fill="#B5AED4"/>
<circle cx="1347.4" cy="1104.7" r="1.60" fill="#B5AED4"/>
<circle cx="1378.6" cy="1104.7" r="1.60" fill="#B5AED4"/>
<line x1="1041.90" y1="1136.64" x2="1048.10" y2="1136.64" stroke="#000" stroke-width="1.7"/>
<circle cx="1066.6" cy="1136.6" r="1.60" fill="#B5AED4"/>
<circle cx="1097.8" cy="1136.6" r="1.60" fill="#B5AED4"/>
<circle cx="1129.0" cy="1136.6" r="1.60" fill="#B5AED4"/>
<circle cx="1160.2" cy="1136.6" r="4.40" fill="#BDA7E0"/>
<circle cx="1191.4" cy="1136.6" r="1.60" fill="#B5AED4"/>
<circle cx="1222.6" cy="1136.6" r="1.60" fill="#707070"/>
<circle cx="1253.8" cy="1136.6" r="1.60" fill="#B5AED4"/>
<circle cx="1285.0" cy="1136.6" r="1.60" fill="#B5AED4"/>
<circle cx="1316.2" cy="1136.6" r="1.60" fill="#B5AED4"/>
<circle cx="1347.4" cy="1136.6" r="1.60" fill="#B5AED4"/>
<circle cx="1378.6" cy="1136.6" r="1.60" fill="#B5AED4"/>
<line x1="1041.90" y1="1168.58" x2="1048.10" y2="1168.58" stroke="#000" stroke-width="1.7"/>
<circle cx="1066.6" cy="1168.6" r="1.60" fill="#B5AED4"/>
<circle cx="1097.8" cy="1168.6" r="1.60" fill="#B5AED4"/>
<circle cx="1129.0" cy="1168.6" r="1.60" fill="#B5AED4"/>
<circle cx="1160.2" cy="1168.6" r="8.00" fill="#AA89E7"/>
<circle cx="1191.4" cy="1168.6" r="1.60" fill="#B5AED4"/>
<circle cx="1222.6" cy="1168.6" r="1.60" fill="#707070"/>
<circle cx="1253.8" cy="1168.6" r="1.60" fill="#B5AED4"/>
<circle cx="1285.0" cy="1168.6" r="1.60" fill="#B5AED4"/>
<circle cx="1316.2" cy="1168.6" r="1.60" fill="#B5AED4"/>
<circle cx="1347.4" cy="1168.6" r="1.60" fill="#B5AED4"/>
<circle cx="1378.6" cy="1168.6" r="1.60" fill="#B5AED4"/>
<line x1="1041.90" y1="1200.52" x2="1048.10" y2="1200.52" stroke="#000" stroke-width="1.7"/>
<circle cx="1066.6" cy="1200.5" r="1.60" fill="#B5AED4"/>
<circle cx="1097.8" cy="1200.5" r="1.60" fill="#B5AED4"/>
<circle cx="1129.0" cy="1200.5" r="1.60" fill="#B5AED4"/>
<circle cx="1160.2" cy="1200.5" r="1.60" fill="#D3D3D3"/>
<circle cx="1191.4" cy="1200.5" r="1.60" fill="#B5AED4"/>
<circle cx="1222.6" cy="1200.5" r="1.60" fill="#707070"/>
<circle cx="1253.8" cy="1200.5" r="1.60" fill="#B5AED4"/>
<circle cx="1285.0" cy="1200.5" r="1.60" fill="#B5AED4"/>
<circle cx="1316.2" cy="1200.5" r="1.60" fill="#B5AED4"/>
<circle cx="1347.4" cy="1200.5" r="1.60" fill="#B5AED4"/>
<circle cx="1378.6" cy="1200.5" r="1.60" fill="#B5AED4"/>
<line x1="1041.90" y1="1232.46" x2="1048.10" y2="1232.46" stroke="#000" stroke-width="1.7"/>
<circle cx="1066.6" cy="1232.5" r="1.60" fill="#B5AED4"/>
<circle cx="1097.8" cy="1232.5" r="1.60" fill="#B5AED4"/>
<circle cx="1129.0" cy="1232.5" r="2.00" fill="#220DFE"/>
<circle cx="1160.2" cy="1232.5" r="3.00" fill="#C5B6DC"/>
<circle cx="1191.4" cy="1232.5" r="2.60" fill="#9770ED"/>
<circle cx="1222.6" cy="1232.5" r="1.60" fill="#707070"/>
<circle cx="1253.8" cy="1232.5" r="2.40" fill="#220DFE"/>
<circle cx="1285.0" cy="1232.5" r="1.90" fill="#865BF2"/>
<circle cx="1316.2" cy="1232.5" r="3.30" fill="#0000FF"/>
<circle cx="1347.4" cy="1232.5" r="1.60" fill="#B5AED4"/>
<circle cx="1378.6" cy="1232.5" r="1.80" fill="#4121FC"/>
<line x1="1041.90" y1="1264.40" x2="1048.10" y2="1264.40" stroke="#000" stroke-width="1.7"/>
<circle cx="1066.6" cy="1264.4" r="1.60" fill="#B5AED4"/>
<circle cx="1097.8" cy="1264.4" r="1.60" fill="#B5AED4"/>
<circle cx="1129.0" cy="1264.4" r="1.60" fill="#B5AED4"/>
<circle cx="1160.2" cy="1264.4" r="5.80" fill="#B498E4"/>
<circle cx="1191.4" cy="1264.4" r="1.60" fill="#B5AED4"/>
<circle cx="1222.6" cy="1264.4" r="1.60" fill="#707070"/>
<circle cx="1253.8" cy="1264.4" r="1.60" fill="#B5AED4"/>
<circle cx="1285.0" cy="1264.4" r="1.60" fill="#B5AED4"/>
<circle cx="1316.2" cy="1264.4" r="1.60" fill="#B5AED4"/>
<circle cx="1347.4" cy="1264.4" r="1.60" fill="#B5AED4"/>
<circle cx="1378.6" cy="1264.4" r="1.60" fill="#B5AED4"/>
<line x1="1041.90" y1="1296.34" x2="1048.10" y2="1296.34" stroke="#000" stroke-width="1.7"/>
<circle cx="1066.6" cy="1296.3" r="1.60" fill="#B5AED4"/>
<circle cx="1097.8" cy="1296.3" r="1.60" fill="#B5AED4"/>
<circle cx="1129.0" cy="1296.3" r="1.60" fill="#B5AED4"/>
<circle cx="1160.2" cy="1296.3" r="1.60" fill="#D3D3D3"/>
<circle cx="1191.4" cy="1296.3" r="1.60" fill="#B5AED4"/>
<circle cx="1222.6" cy="1296.3" r="1.60" fill="#707070"/>
<circle cx="1253.8" cy="1296.3" r="1.60" fill="#B5AED4"/>
<circle cx="1285.0" cy="1296.3" r="1.60" fill="#B5AED4"/>
<circle cx="1316.2" cy="1296.3" r="1.60" fill="#B5AED4"/>
<circle cx="1347.4" cy="1296.3" r="1.60" fill="#B5AED4"/>
<circle cx="1378.6" cy="1296.3" r="1.60" fill="#B5AED4"/>
<line x1="1041.90" y1="1328.28" x2="1048.10" y2="1328.28" stroke="#000" stroke-width="1.7"/>
<circle cx="1066.6" cy="1328.3" r="1.60" fill="#B5AED4"/>
<circle cx="1097.8" cy="1328.3" r="1.80" fill="#7046F6"/>
<circle cx="1129.0" cy="1328.3" r="1.60" fill="#B5AED4"/>
<circle cx="1160.2" cy="1328.3" r="8.80" fill="#8F66F0"/>
<circle cx="1191.4" cy="1328.3" r="1.60" fill="#B5AED4"/>
<circle cx="1222.6" cy="1328.3" r="1.60" fill="#707070"/>
<circle cx="1253.8" cy="1328.3" r="1.60" fill="#B5AED4"/>
<circle cx="1285.0" cy="1328.3" r="1.60" fill="#B5AED4"/>
<circle cx="1316.2" cy="1328.3" r="1.60" fill="#B5AED4"/>
<circle cx="1347.4" cy="1328.3" r="1.60" fill="#B5AED4"/>
<circle cx="1378.6" cy="1328.3" r="1.80" fill="#220DFE"/>
<line x1="1041.90" y1="1360.22" x2="1048.10" y2="1360.22" stroke="#000" stroke-width="1.7"/>
<circle cx="1066.6" cy="1360.2" r="1.60" fill="#B5AED4"/>
<circle cx="1097.8" cy="1360.2" r="1.80" fill="#220DFE"/>
<circle cx="1129.0" cy="1360.2" r="1.60" fill="#B5AED4"/>
<circle cx="1160.2" cy="1360.2" r="9.40" fill="#936BEF"/>
<circle cx="1191.4" cy="1360.2" r="3.50" fill="#0000FF"/>
<circle cx="1222.6" cy="1360.2" r="1.60" fill="#707070"/>
<circle cx="1253.8" cy="1360.2" r="1.60" fill="#B5AED4"/>
<circle cx="1285.0" cy="1360.2" r="1.60" fill="#B5AED4"/>
<circle cx="1316.2" cy="1360.2" r="1.60" fill="#B5AED4"/>
<circle cx="1347.4" cy="1360.2" r="1.60" fill="#B5AED4"/>
<circle cx="1378.6" cy="1360.2" r="1.80" fill="#865BF2"/>
<line x1="1041.90" y1="1392.16" x2="1048.10" y2="1392.16" stroke="#000" stroke-width="1.7"/>
<circle cx="1066.6" cy="1392.2" r="1.60" fill="#B5AED4"/>
<circle cx="1097.8" cy="1392.2" r="1.60" fill="#B5AED4"/>
<circle cx="1129.0" cy="1392.2" r="1.60" fill="#B5AED4"/>
<circle cx="1160.2" cy="1392.2" r="6.40" fill="#B193E5"/>
<circle cx="1191.4" cy="1392.2" r="2.00" fill="#9F7AEB"/>
<circle cx="1222.6" cy="1392.2" r="1.60" fill="#707070"/>
<circle cx="1253.8" cy="1392.2" r="1.60" fill="#B5AED4"/>
<circle cx="1285.0" cy="1392.2" r="1.60" fill="#B5AED4"/>
<circle cx="1316.2" cy="1392.2" r="1.60" fill="#B5AED4"/>
<circle cx="1347.4" cy="1392.2" r="1.60" fill="#B5AED4"/>
<circle cx="1378.6" cy="1392.2" r="1.60" fill="#B5AED4"/>
<line x1="1066.60" y1="1410.60" x2="1066.60" y2="1417.00" stroke="#000" stroke-width="1.7"/>
<text x="1073.56" y="1423.40" font-size="19.6" text-anchor="end" transform="rotate(-90 1073.56 1423.40)">Cckar</text>
<line x1="1097.80" y1="1410.60" x2="1097.80" y2="1417.00" stroke="#000" stroke-width="1.7"/>
<text x="1104.76" y="1423.40" font-size="19.6" text-anchor="end" transform="rotate(-90 1104.76 1423.40)">Cckbr</text>
<line x1="1129.00" y1="1410.60" x2="1129.00" y2="1417.00" stroke="#000" stroke-width="1.7"/>
<text x="1135.96" y="1423.40" font-size="19.6" text-anchor="end" transform="rotate(-90 1135.96 1423.40)">Glp1r</text>
<line x1="1160.20" y1="1410.60" x2="1160.20" y2="1417.00" stroke="#000" stroke-width="1.7"/>
<text x="1167.16" y="1423.40" font-size="19.6" text-anchor="end" transform="rotate(-90 1167.16 1423.40)">Glp2r</text>
<line x1="1191.40" y1="1410.60" x2="1191.40" y2="1417.00" stroke="#000" stroke-width="1.7"/>
<text x="1198.36" y="1423.40" font-size="19.6" text-anchor="end" transform="rotate(-90 1198.36 1423.40)">Npy1r</text>
<line x1="1222.60" y1="1410.60" x2="1222.60" y2="1417.00" stroke="#000" stroke-width="1.7"/>
<text x="1229.56" y="1423.40" font-size="19.6" text-anchor="end" transform="rotate(-90 1229.56 1423.40)">Npy2r</text>
<line x1="1253.80" y1="1410.60" x2="1253.80" y2="1417.00" stroke="#000" stroke-width="1.7"/>
<text x="1260.76" y="1423.40" font-size="19.6" text-anchor="end" transform="rotate(-90 1260.76 1423.40)">Gipr</text>
<line x1="1285.00" y1="1410.60" x2="1285.00" y2="1417.00" stroke="#000" stroke-width="1.7"/>
<text x="1291.96" y="1423.40" font-size="19.6" text-anchor="end" transform="rotate(-90 1291.96 1423.40)">Sstr1</text>
<line x1="1316.20" y1="1410.60" x2="1316.20" y2="1417.00" stroke="#000" stroke-width="1.7"/>
<text x="1323.16" y="1423.40" font-size="19.6" text-anchor="end" transform="rotate(-90 1323.16 1423.40)">Sstr2</text>
<line x1="1347.40" y1="1410.60" x2="1347.40" y2="1417.00" stroke="#000" stroke-width="1.7"/>
<text x="1354.36" y="1423.40" font-size="19.6" text-anchor="end" transform="rotate(-90 1354.36 1423.40)">Ghsr</text>
<line x1="1378.60" y1="1410.60" x2="1378.60" y2="1417.00" stroke="#000" stroke-width="1.7"/>
<text x="1385.56" y="1423.40" font-size="19.6" text-anchor="end" transform="rotate(-90 1385.56 1423.40)">Grpr</text>
<text x="1223.05" y="1497.87" font-size="23" text-anchor="middle">Features</text>
<path d="M1426.00,924.50V1410.60H1776.00" fill="none" stroke="#000" stroke-width="1.7"/>
<line x1="1419.80" y1="946.20" x2="1426.00" y2="946.20" stroke="#000" stroke-width="1.7"/>
<circle cx="1444.8" cy="946.2" r="1.60" fill="#707070"/>
<circle cx="1476.0" cy="946.2" r="1.60" fill="#B5AED4"/>
<circle cx="1507.2" cy="946.2" r="1.60" fill="#B5AED4"/>
<circle cx="1538.4" cy="946.2" r="5.60" fill="#C5B6DC"/>
<circle cx="1569.6" cy="946.2" r="3.50" fill="#A684E9"/>
<circle cx="1600.8" cy="946.2" r="1.60" fill="#707070"/>
<circle cx="1631.9" cy="946.2" r="1.60" fill="#B5AED4"/>
<circle cx="1663.1" cy="946.2" r="1.60" fill="#B5AED4"/>
<circle cx="1694.3" cy="946.2" r="1.60" fill="#B5AED4"/>
<circle cx="1725.5" cy="946.2" r="1.60" fill="#707070"/>
<circle cx="1756.7" cy="946.2" r="1.60" fill="#B5AED4"/>
<line x1="1419.80" y1="980.42" x2="1426.00" y2="980.42" stroke="#000" stroke-width="1.7"/>
<circle cx="1444.8" cy="980.4" r="1.60" fill="#707070"/>
<circle cx="1476.0" cy="980.4" r="1.60" fill="#B5AED4"/>
<circle cx="1507.2" cy="980.4" r="1.60" fill="#B5AED4"/>
<circle cx="1538.4" cy="980.4" r="2.60" fill="#CAC0D9"/>
<circle cx="1569.6" cy="980.4" r="3.30" fill="#542FFA"/>
<circle cx="1600.8" cy="980.4" r="1.60" fill="#707070"/>
<circle cx="1631.9" cy="980.4" r="1.60" fill="#B5AED4"/>
<circle cx="1663.1" cy="980.4" r="1.60" fill="#B5AED4"/>
<circle cx="1694.3" cy="980.4" r="1.60" fill="#B5AED4"/>
<circle cx="1725.5" cy="980.4" r="1.60" fill="#707070"/>
<circle cx="1756.7" cy="980.4" r="1.60" fill="#B5AED4"/>
<line x1="1419.80" y1="1014.64" x2="1426.00" y2="1014.64" stroke="#000" stroke-width="1.7"/>
<circle cx="1444.8" cy="1014.6" r="1.60" fill="#707070"/>
<circle cx="1476.0" cy="1014.6" r="1.60" fill="#B5AED4"/>
<circle cx="1507.2" cy="1014.6" r="1.60" fill="#B5AED4"/>
<circle cx="1538.4" cy="1014.6" r="5.60" fill="#C2B1DD"/>
<circle cx="1569.6" cy="1014.6" r="1.60" fill="#B5AED4"/>
<circle cx="1600.8" cy="1014.6" r="1.60" fill="#707070"/>
<circle cx="1631.9" cy="1014.6" r="1.60" fill="#B5AED4"/>
<circle cx="1663.1" cy="1014.6" r="1.60" fill="#B5AED4"/>
<circle cx="1694.3" cy="1014.6" r="1.60" fill="#B5AED4"/>
<circle cx="1725.5" cy="1014.6" r="1.60" fill="#707070"/>
<circle cx="1756.7" cy="1014.6" r="1.60" fill="#B5AED4"/>
<line x1="1419.80" y1="1048.86" x2="1426.00" y2="1048.86" stroke="#000" stroke-width="1.7"/>
<circle cx="1444.8" cy="1048.9" r="1.60" fill="#707070"/>
<circle cx="1476.0" cy="1048.9" r="1.60" fill="#B5AED4"/>
<circle cx="1507.2" cy="1048.9" r="1.60" fill="#B5AED4"/>
<circle cx="1538.4" cy="1048.9" r="7.80" fill="#BFACDE"/>
<circle cx="1569.6" cy="1048.9" r="1.60" fill="#B5AED4"/>
<circle cx="1600.8" cy="1048.9" r="1.60" fill="#707070"/>
<circle cx="1631.9" cy="1048.9" r="1.60" fill="#B5AED4"/>
<circle cx="1663.1" cy="1048.9" r="1.60" fill="#B5AED4"/>
<circle cx="1694.3" cy="1048.9" r="1.60" fill="#B5AED4"/>
<circle cx="1725.5" cy="1048.9" r="1.60" fill="#707070"/>
<circle cx="1756.7" cy="1048.9" r="1.60" fill="#B5AED4"/>
<line x1="1419.80" y1="1083.08" x2="1426.00" y2="1083.08" stroke="#000" stroke-width="1.7"/>
<circle cx="1444.8" cy="1083.1" r="1.60" fill="#707070"/>
<circle cx="1476.0" cy="1083.1" r="1.60" fill="#B5AED4"/>
<circle cx="1507.2" cy="1083.1" r="1.60" fill="#B5AED4"/>
<circle cx="1538.4" cy="1083.1" r="10.60" fill="#8156F3"/>
<circle cx="1569.6" cy="1083.1" r="1.60" fill="#B5AED4"/>
<circle cx="1600.8" cy="1083.1" r="1.60" fill="#707070"/>
<circle cx="1631.9" cy="1083.1" r="1.60" fill="#B5AED4"/>
<circle cx="1663.1" cy="1083.1" r="1.90" fill="#220DFE"/>
<circle cx="1694.3" cy="1083.1" r="1.70" fill="#7C51F4"/>
<circle cx="1725.5" cy="1083.1" r="1.60" fill="#707070"/>
<circle cx="1756.7" cy="1083.1" r="1.60" fill="#B5AED4"/>
<line x1="1419.80" y1="1117.30" x2="1426.00" y2="1117.30" stroke="#000" stroke-width="1.7"/>
<circle cx="1444.8" cy="1117.3" r="1.60" fill="#707070"/>
<circle cx="1476.0" cy="1117.3" r="1.60" fill="#B5AED4"/>
<circle cx="1507.2" cy="1117.3" r="1.60" fill="#B5AED4"/>
<circle cx="1538.4" cy="1117.3" r="12.20" fill="#0000FF"/>
<circle cx="1569.6" cy="1117.3" r="1.60" fill="#B5AED4"/>
<circle cx="1600.8" cy="1117.3" r="1.60" fill="#707070"/>
<circle cx="1631.9" cy="1117.3" r="1.60" fill="#B5AED4"/>
<circle cx="1663.1" cy="1117.3" r="1.60" fill="#B5AED4"/>
<circle cx="1694.3" cy="1117.3" r="1.60" fill="#B5AED4"/>
<circle cx="1725.5" cy="1117.3" r="1.60" fill="#707070"/>
<circle cx="1756.7" cy="1117.3" r="1.60" fill="#B5AED4"/>
<line x1="1419.80" y1="1151.52" x2="1426.00" y2="1151.52" stroke="#000" stroke-width="1.7"/>
<circle cx="1444.8" cy="1151.5" r="1.60" fill="#707070"/>
<circle cx="1476.0" cy="1151.5" r="1.80" fill="#542FFA"/>
<circle cx="1507.2" cy="1151.5" r="1.60" fill="#B5AED4"/>
<circle cx="1538.4" cy="1151.5" r="5.80" fill="#BAA2E1"/>
<circle cx="1569.6" cy="1151.5" r="1.60" fill="#B5AED4"/>
<circle cx="1600.8" cy="1151.5" r="1.60" fill="#707070"/>
<circle cx="1631.9" cy="1151.5" r="1.80" fill="#4121FC"/>
<circle cx="1663.1" cy="1151.5" r="1.80" fill="#542FFA"/>
<circle cx="1694.3" cy="1151.5" r="1.70" fill="#AA89E7"/>
<circle cx="1725.5" cy="1151.5" r="1.60" fill="#707070"/>
<circle cx="1756.7" cy="1151.5" r="1.60" fill="#B5AED4"/>
<line x1="1419.80" y1="1185.74" x2="1426.00" y2="1185.74" stroke="#000" stroke-width="1.7"/>
<circle cx="1444.8" cy="1185.7" r="1.60" fill="#707070"/>
<circle cx="1476.0" cy="1185.7" r="1.60" fill="#B5AED4"/>
<circle cx="1507.2" cy="1185.7" r="1.60" fill="#B5AED4"/>
<circle cx="1538.4" cy="1185.7" r="9.20" fill="#A37FEA"/>
<circle cx="1569.6" cy="1185.7" r="1.60" fill="#B5AED4"/>
<circle cx="1600.8" cy="1185.7" r="1.60" fill="#707070"/>
<circle cx="1631.9" cy="1185.7" r="1.60" fill="#B5AED4"/>
<circle cx="1663.1" cy="1185.7" r="1.60" fill="#B5AED4"/>
<circle cx="1694.3" cy="1185.7" r="1.60" fill="#B5AED4"/>
<circle cx="1725.5" cy="1185.7" r="1.60" fill="#707070"/>
<circle cx="1756.7" cy="1185.7" r="1.60" fill="#B5AED4"/>
<line x1="1419.80" y1="1219.96" x2="1426.00" y2="1219.96" stroke="#000" stroke-width="1.7"/>
<circle cx="1444.8" cy="1220.0" r="1.60" fill="#707070"/>
<circle cx="1476.0" cy="1220.0" r="1.60" fill="#B5AED4"/>
<circle cx="1507.2" cy="1220.0" r="2.20" fill="#220DFE"/>
<circle cx="1538.4" cy="1220.0" r="2.60" fill="#D1CFD4"/>
<circle cx="1569.6" cy="1220.0" r="2.80" fill="#9B75EC"/>
<circle cx="1600.8" cy="1220.0" r="1.60" fill="#707070"/>
<circle cx="1631.9" cy="1220.0" r="1.60" fill="#B5AED4"/>
<circle cx="1663.1" cy="1220.0" r="1.60" fill="#B5AED4"/>
<circle cx="1694.3" cy="1220.0" r="2.00" fill="#220DFE"/>
<circle cx="1725.5" cy="1220.0" r="1.60" fill="#707070"/>
<circle cx="1756.7" cy="1220.0" r="1.60" fill="#B5AED4"/>
<line x1="1419.80" y1="1254.18" x2="1426.00" y2="1254.18" stroke="#000" stroke-width="1.7"/>
<circle cx="1444.8" cy="1254.2" r="1.60" fill="#707070"/>
<circle cx="1476.0" cy="1254.2" r="1.60" fill="#B5AED4"/>
<circle cx="1507.2" cy="1254.2" r="1.60" fill="#B5AED4"/>
<circle cx="1538.4" cy="1254.2" r="1.40" fill="#D3D3D3"/>
<circle cx="1569.6" cy="1254.2" r="2.60" fill="#5C35F9"/>
<circle cx="1600.8" cy="1254.2" r="1.60" fill="#707070"/>
<circle cx="1631.9" cy="1254.2" r="1.60" fill="#B5AED4"/>
<circle cx="1663.1" cy="1254.2" r="1.60" fill="#B5AED4"/>
<circle cx="1694.3" cy="1254.2" r="1.60" fill="#B5AED4"/>
<circle cx="1725.5" cy="1254.2" r="1.60" fill="#707070"/>
<circle cx="1756.7" cy="1254.2" r="1.60" fill="#B5AED4"/>
<line x1="1419.80" y1="1288.40" x2="1426.00" y2="1288.40" stroke="#000" stroke-width="1.7"/>
<circle cx="1444.8" cy="1288.4" r="1.60" fill="#707070"/>
<circle cx="1476.0" cy="1288.4" r="1.60" fill="#B5AED4"/>
<circle cx="1507.2" cy="1288.4" r="1.60" fill="#B5AED4"/>
<circle cx="1538.4" cy="1288.4" r="4.30" fill="#C8BBDA"/>
<circle cx="1569.6" cy="1288.4" r="1.60" fill="#B5AED4"/>
<circle cx="1600.8" cy="1288.4" r="1.60" fill="#707070"/>
<circle cx="1631.9" cy="1288.4" r="1.60" fill="#B5AED4"/>
<circle cx="1663.1" cy="1288.4" r="1.60" fill="#B5AED4"/>
<circle cx="1694.3" cy="1288.4" r="1.60" fill="#B5AED4"/>
<circle cx="1725.5" cy="1288.4" r="1.60" fill="#707070"/>
<circle cx="1756.7" cy="1288.4" r="1.60" fill="#B5AED4"/>
<line x1="1419.80" y1="1322.62" x2="1426.00" y2="1322.62" stroke="#000" stroke-width="1.7"/>
<circle cx="1444.8" cy="1322.6" r="1.60" fill="#707070"/>
<circle cx="1476.0" cy="1322.6" r="1.80" fill="#764CF5"/>
<circle cx="1507.2" cy="1322.6" r="1.60" fill="#B5AED4"/>
<circle cx="1538.4" cy="1322.6" r="5.60" fill="#B498E4"/>
<circle cx="1569.6" cy="1322.6" r="1.60" fill="#B5AED4"/>
<circle cx="1600.8" cy="1322.6" r="1.60" fill="#707070"/>
<circle cx="1631.9" cy="1322.6" r="1.60" fill="#B5AED4"/>
<circle cx="1663.1" cy="1322.6" r="1.60" fill="#B5AED4"/>
<circle cx="1694.3" cy="1322.6" r="1.70" fill="#9F7AEB"/>
<circle cx="1725.5" cy="1322.6" r="1.60" fill="#707070"/>
<circle cx="1756.7" cy="1322.6" r="1.60" fill="#B5AED4"/>
<line x1="1419.80" y1="1356.84" x2="1426.00" y2="1356.84" stroke="#000" stroke-width="1.7"/>
<circle cx="1444.8" cy="1356.8" r="1.60" fill="#707070"/>
<circle cx="1476.0" cy="1356.8" r="1.80" fill="#4121FC"/>
<circle cx="1507.2" cy="1356.8" r="1.60" fill="#B5AED4"/>
<circle cx="1538.4" cy="1356.8" r="9.90" fill="#8F66F0"/>
<circle cx="1569.6" cy="1356.8" r="3.30" fill="#8F66F0"/>
<circle cx="1600.8" cy="1356.8" r="1.60" fill="#707070"/>
<circle cx="1631.9" cy="1356.8" r="1.80" fill="#220DFE"/>
<circle cx="1663.1" cy="1356.8" r="1.60" fill="#B5AED4"/>
<circle cx="1694.3" cy="1356.8" r="1.60" fill="#B5AED4"/>
<circle cx="1725.5" cy="1356.8" r="1.60" fill="#707070"/>
<circle cx="1756.7" cy="1356.8" r="1.80" fill="#220DFE"/>
<line x1="1419.80" y1="1391.06" x2="1426.00" y2="1391.06" stroke="#000" stroke-width="1.7"/>
<circle cx="1444.8" cy="1391.1" r="1.60" fill="#707070"/>
<circle cx="1476.0" cy="1391.1" r="1.60" fill="#B5AED4"/>
<circle cx="1507.2" cy="1391.1" r="1.60" fill="#B5AED4"/>
<circle cx="1538.4" cy="1391.1" r="5.60" fill="#BAA2E1"/>
<circle cx="1569.6" cy="1391.1" r="1.60" fill="#B5AED4"/>
<circle cx="1600.8" cy="1391.1" r="1.60" fill="#707070"/>
<circle cx="1631.9" cy="1391.1" r="1.60" fill="#B5AED4"/>
<circle cx="1663.1" cy="1391.1" r="1.60" fill="#B5AED4"/>
<circle cx="1694.3" cy="1391.1" r="1.60" fill="#B5AED4"/>
<circle cx="1725.5" cy="1391.1" r="1.60" fill="#707070"/>
<circle cx="1756.7" cy="1391.1" r="1.60" fill="#B5AED4"/>
<line x1="1444.80" y1="1410.60" x2="1444.80" y2="1417.00" stroke="#000" stroke-width="1.7"/>
<text x="1451.76" y="1423.40" font-size="19.6" text-anchor="end" transform="rotate(-90 1451.76 1423.40)">Cckar</text>
<line x1="1475.99" y1="1410.60" x2="1475.99" y2="1417.00" stroke="#000" stroke-width="1.7"/>
<text x="1482.95" y="1423.40" font-size="19.6" text-anchor="end" transform="rotate(-90 1482.95 1423.40)">Cckbr</text>
<line x1="1507.18" y1="1410.60" x2="1507.18" y2="1417.00" stroke="#000" stroke-width="1.7"/>
<text x="1514.14" y="1423.40" font-size="19.6" text-anchor="end" transform="rotate(-90 1514.14 1423.40)">Glp1r</text>
<line x1="1538.37" y1="1410.60" x2="1538.37" y2="1417.00" stroke="#000" stroke-width="1.7"/>
<text x="1545.33" y="1423.40" font-size="19.6" text-anchor="end" transform="rotate(-90 1545.33 1423.40)">Glp2r</text>
<line x1="1569.56" y1="1410.60" x2="1569.56" y2="1417.00" stroke="#000" stroke-width="1.7"/>
<text x="1576.52" y="1423.40" font-size="19.6" text-anchor="end" transform="rotate(-90 1576.52 1423.40)">Npy1r</text>
<line x1="1600.75" y1="1410.60" x2="1600.75" y2="1417.00" stroke="#000" stroke-width="1.7"/>
<text x="1607.71" y="1423.40" font-size="19.6" text-anchor="end" transform="rotate(-90 1607.71 1423.40)">Npy2r</text>
<line x1="1631.94" y1="1410.60" x2="1631.94" y2="1417.00" stroke="#000" stroke-width="1.7"/>
<text x="1638.90" y="1423.40" font-size="19.6" text-anchor="end" transform="rotate(-90 1638.90 1423.40)">Gipr</text>
<line x1="1663.13" y1="1410.60" x2="1663.13" y2="1417.00" stroke="#000" stroke-width="1.7"/>
<text x="1670.09" y="1423.40" font-size="19.6" text-anchor="end" transform="rotate(-90 1670.09 1423.40)">Sstr1</text>
<line x1="1694.32" y1="1410.60" x2="1694.32" y2="1417.00" stroke="#000" stroke-width="1.7"/>
<text x="1701.28" y="1423.40" font-size="19.6" text-anchor="end" transform="rotate(-90 1701.28 1423.40)">Sstr2</text>
<line x1="1725.51" y1="1410.60" x2="1725.51" y2="1417.00" stroke="#000" stroke-width="1.7"/>
<text x="1732.47" y="1423.40" font-size="19.6" text-anchor="end" transform="rotate(-90 1732.47 1423.40)">Ghsr</text>
<line x1="1756.70" y1="1410.60" x2="1756.70" y2="1417.00" stroke="#000" stroke-width="1.7"/>
<text x="1763.66" y="1423.40" font-size="19.6" text-anchor="end" transform="rotate(-90 1763.66 1423.40)">Grpr</text>
<text x="1601.00" y="1497.87" font-size="23" text-anchor="middle">Features</text>
<text x="75.06" y="1168.40" font-size="23" text-anchor="middle" transform="rotate(-90 75.06 1168.40)">Cell Type</text>
<text x="1800.00" y="1027.90" font-size="23">Percent Expressed</text>
<circle cx="1811.6" cy="1054.8" r="1.20" fill="#000"/>
<text x="1836.10" y="1061.65" font-size="19.3">0</text>
<circle cx="1811.6" cy="1080.3" r="4.70" fill="#000"/>
<text x="1836.10" y="1087.15" font-size="19.3">20</text>
<circle cx="1811.6" cy="1105.9" r="7.30" fill="#000"/>
<text x="1836.10" y="1112.75" font-size="19.3">40</text>
<circle cx="1811.6" cy="1131.3" r="10.10" fill="#000"/>
<text x="1836.10" y="1138.15" font-size="19.3">60</text>
<text x="1800.00" y="1187.20" font-size="23">Average Expression</text>
<linearGradient id="avgexp" x1="0" y1="0" x2="0" y2="1"><stop offset="0.0%" stop-color="#0000FF"/><stop offset="6.2%" stop-color="#3A1CFD"/><stop offset="12.5%" stop-color="#522DFB"/><stop offset="18.8%" stop-color="#633BF8"/><stop offset="25.0%" stop-color="#7248F6"/><stop offset="31.2%" stop-color="#7E54F3"/><stop offset="37.5%" stop-color="#8A60F1"/><stop offset="43.8%" stop-color="#946CEE"/><stop offset="50.0%" stop-color="#9D77EC"/><stop offset="56.2%" stop-color="#A583E9"/><stop offset="62.5%" stop-color="#AD8EE6"/><stop offset="68.8%" stop-color="#B599E3"/><stop offset="75.0%" stop-color="#BBA5E0"/><stop offset="81.2%" stop-color="#C2B0DD"/><stop offset="87.5%" stop-color="#C8BCDA"/><stop offset="93.8%" stop-color="#CEC7D7"/><stop offset="100.0%" stop-color="#D3D3D3"/></linearGradient>
<rect x="1798.80" y="1200.80" width="25.70" height="128.00" fill="url(#avgexp)"/>
<line x1="1798.80" y1="1218.00" x2="1803.90" y2="1218.00" stroke="#fff" stroke-width="1.1"/>
<line x1="1819.40" y1="1218.00" x2="1824.50" y2="1218.00" stroke="#fff" stroke-width="1.1"/>
<text x="1836.10" y="1224.85" font-size="19.3">2</text>
<line x1="1798.80" y1="1253.20" x2="1803.90" y2="1253.20" stroke="#fff" stroke-width="1.1"/>
<line x1="1819.40" y1="1253.20" x2="1824.50" y2="1253.20" stroke="#fff" stroke-width="1.1"/>
<text x="1836.10" y="1260.05" font-size="19.3">1</text>
<line x1="1798.80" y1="1288.00" x2="1803.90" y2="1288.00" stroke="#fff" stroke-width="1.1"/>
<line x1="1819.40" y1="1288.00" x2="1824.50" y2="1288.00" stroke="#fff" stroke-width="1.1"/>
<text x="1836.10" y="1294.85" font-size="19.3">0</text>
<line x1="1798.80" y1="1322.70" x2="1803.90" y2="1322.70" stroke="#fff" stroke-width="1.1"/>
<line x1="1819.40" y1="1322.70" x2="1824.50" y2="1322.70" stroke="#fff" stroke-width="1.1"/>
<text x="1836.10" y="1329.55" font-size="19.3">−1</text>
<g shape-rendering="crispEdges"><rect x="61.70" y="1646.80" width="13.04" height="36.94" fill="#FC3C20"/><rect x="74.39" y="1646.80" width="13.04" height="36.94" fill="#FC3319"/><rect x="87.08" y="1646.80" width="25.73" height="36.94" fill="#FE1D0B"/><rect x="112.46" y="1646.80" width="13.04" height="36.94" fill="#FD2812"/><rect x="125.15" y="1646.80" width="13.04" height="36.94" fill="#FA4B2C"/><rect x="137.84" y="1646.80" width="13.04" height="36.94" fill="#F85837"/><rect x="150.53" y="1646.80" width="13.04" height="36.94" fill="#FA4B2C"/><rect x="163.22" y="1646.80" width="13.04" height="36.94" fill="#F75F3E"/><rect x="175.91" y="1646.80" width="38.42" height="36.94" fill="#F66343"/><rect x="213.98" y="1646.80" width="38.42" height="36.94" fill="#F66847"/><rect x="252.05" y="1646.80" width="38.42" height="36.94" fill="#F46E4E"/><rect x="290.13" y="1646.80" width="13.04" height="36.94" fill="#F37959"/><rect x="302.82" y="1646.80" width="13.04" height="36.94" fill="#F1BAA7"/><rect x="315.51" y="1646.80" width="13.04" height="36.94" fill="#F19C81"/><rect x="328.20" y="1646.80" width="13.04" height="36.94" fill="#F18364"/><rect x="340.89" y="1646.80" width="13.04" height="36.94" fill="#F19C81"/><rect x="353.58" y="1646.80" width="13.04" height="36.94" fill="#F18B6C"/><rect x="366.27" y="1646.80" width="13.04" height="36.94" fill="#F19072"/><rect x="378.96" y="1646.80" width="13.04" height="36.94" fill="#F19578"/><rect x="391.65" y="1646.80" width="13.04" height="36.94" fill="#F1B7A2"/><rect x="404.34" y="1646.80" width="13.04" height="36.94" fill="#F1C3B3"/><rect x="417.03" y="1646.80" width="13.04" height="36.94" fill="#F1A890"/><rect x="429.72" y="1646.80" width="13.04" height="36.94" fill="#F19C81"/><rect x="442.41" y="1646.80" width="38.42" height="36.94" fill="#F1B19C"/><rect x="480.48" y="1646.80" width="13.04" height="36.94" fill="#F1BEAC"/><rect x="493.17" y="1646.80" width="13.04" height="36.94" fill="#F1A38A"/><rect x="505.86" y="1646.80" width="13.04" height="36.94" fill="#F1C8BA"/><rect x="518.55" y="1646.80" width="13.04" height="36.94" fill="#CAA7F7"/><rect x="531.24" y="1646.80" width="13.04" height="36.94" fill="#E3D5F1"/><rect x="543.93" y="1646.80" width="25.73" height="36.94" fill="#DFCDF2"/><rect x="569.31" y="1646.80" width="13.04" height="36.94" fill="#DBC5F3"/><rect x="582.00" y="1646.80" width="13.04" height="36.94" fill="#C39DF8"/><rect x="594.69" y="1646.80" width="13.04" height="36.94" fill="#DFCDF2"/><rect x="607.38" y="1646.80" width="13.04" height="36.94" fill="#E7DDF0"/><rect x="620.07" y="1646.80" width="13.04" height="36.94" fill="#F1E0DB"/><rect x="632.76" y="1646.80" width="13.04" height="36.94" fill="#EBE6EF"/><rect x="645.45" y="1646.80" width="13.04" height="36.94" fill="#F1E0DB"/><rect x="658.15" y="1646.80" width="13.04" height="36.94" fill="#DFCDF2"/><rect x="670.84" y="1646.80" width="13.04" height="36.94" fill="#D4B8F5"/><rect x="683.53" y="1646.80" width="13.04" height="36.94" fill="#CAA7F7"/><rect x="696.22" y="1646.80" width="13.04" height="36.94" fill="#F1BEAC"/><rect x="708.91" y="1646.80" width="13.04" height="36.94" fill="#F1D9D1"/><rect x="721.60" y="1646.80" width="13.04" height="36.94" fill="#E7DDF0"/><rect x="734.29" y="1646.80" width="13.04" height="36.94" fill="#EBE9EF"/><rect x="746.98" y="1646.80" width="13.04" height="36.94" fill="#DBC5F3"/><rect x="759.67" y="1646.80" width="13.04" height="36.94" fill="#E5DAF1"/><rect x="772.36" y="1646.80" width="13.04" height="36.94" fill="#B488F9"/><rect x="785.05" y="1646.80" width="13.04" height="36.94" fill="#F1C8BA"/><rect x="797.74" y="1646.80" width="13.04" height="36.94" fill="#F1D4CA"/><rect x="810.43" y="1646.80" width="13.04" height="36.94" fill="#F1E0DB"/><rect x="823.12" y="1646.80" width="13.04" height="36.94" fill="#F1DDD6"/><rect x="835.81" y="1646.80" width="13.04" height="36.94" fill="#E8E1F0"/><rect x="848.50" y="1646.80" width="13.04" height="36.94" fill="#F1B19C"/><rect x="861.19" y="1646.80" width="13.04" height="36.94" fill="#F1DDD6"/><rect x="873.88" y="1646.80" width="13.04" height="36.94" fill="#F1AC95"/><rect x="886.57" y="1646.80" width="13.04" height="36.94" fill="#F1BEAC"/><rect x="899.26" y="1646.80" width="13.04" height="36.94" fill="#F1B19C"/><rect x="911.95" y="1646.80" width="25.73" height="36.94" fill="#F1C3B3"/><rect x="937.33" y="1646.80" width="13.04" height="36.94" fill="#F1AC95"/><rect x="950.02" y="1646.80" width="13.04" height="36.94" fill="#F1B19C"/><rect x="962.71" y="1646.80" width="13.04" height="36.94" fill="#F1C3B3"/><rect x="975.40" y="1646.80" width="13.04" height="36.94" fill="#F1BEAC"/><rect x="988.09" y="1646.80" width="13.04" height="36.94" fill="#F1C3B3"/><rect x="1000.78" y="1646.80" width="25.73" height="36.94" fill="#F1A38A"/><rect x="1026.16" y="1646.80" width="13.04" height="36.94" fill="#DFCDF2"/><rect x="1038.85" y="1646.80" width="13.04" height="36.94" fill="#CAA7F7"/><rect x="1051.55" y="1646.80" width="13.04" height="36.94" fill="#EEEEEE"/><rect x="1064.24" y="1646.80" width="13.04" height="36.94" fill="#E7DDF0"/><rect x="1076.93" y="1646.80" width="13.04" height="36.94" fill="#F1E5E2"/><rect x="1089.62" y="1646.80" width="25.73" height="36.94" fill="#EBE6EF"/><rect x="1115.00" y="1646.80" width="13.04" height="36.94" fill="#D1B2F5"/><rect x="1127.69" y="1646.80" width="13.04" height="36.94" fill="#D7BDF4"/><rect x="1140.38" y="1646.80" width="38.42" height="36.94" fill="#9968FC"/><rect x="1178.45" y="1646.80" width="13.04" height="36.94" fill="#D7BDF4"/><rect x="1191.14" y="1646.80" width="13.04" height="36.94" fill="#BC92F8"/><rect x="1203.83" y="1646.80" width="13.04" height="36.94" fill="#D1B2F5"/><rect x="1216.52" y="1646.80" width="13.04" height="36.94" fill="#BC92F8"/><rect x="1229.21" y="1646.80" width="13.04" height="36.94" fill="#9968FC"/><rect x="1241.90" y="1646.80" width="13.04" height="36.94" fill="#BC92F8"/><rect x="1254.59" y="1646.80" width="51.11" height="36.94" fill="#9968FC"/><rect x="1305.35" y="1646.80" width="13.04" height="36.94" fill="#BC92F8"/><rect x="1318.04" y="1646.80" width="13.04" height="36.94" fill="#D1B2F5"/><rect x="1330.73" y="1646.80" width="13.04" height="36.94" fill="#BC92F8"/><rect x="1343.42" y="1646.80" width="13.04" height="36.94" fill="#CAA7F7"/><rect x="1356.11" y="1646.80" width="13.04" height="36.94" fill="#D7BDF4"/><rect x="1368.80" y="1646.80" width="13.04" height="36.94" fill="#BC92F8"/><rect x="1381.49" y="1646.80" width="25.73" height="36.94" fill="#9968FC"/><rect x="1406.87" y="1646.80" width="13.04" height="36.94" fill="#E1D0F2"/><rect x="1419.56" y="1646.80" width="13.04" height="36.94" fill="#D7BDF4"/><rect x="1432.25" y="1646.80" width="13.04" height="36.94" fill="#CAA7F7"/><rect x="1444.95" y="1646.80" width="13.04" height="36.94" fill="#DDCAF3"/><rect x="1457.64" y="1646.80" width="13.04" height="36.94" fill="#D7BDF4"/><rect x="1470.33" y="1646.80" width="13.04" height="36.94" fill="#C8A3F7"/><rect x="1483.02" y="1646.80" width="51.11" height="36.94" fill="#9968FC"/><rect x="1533.78" y="1646.80" width="25.73" height="36.94" fill="#E1D0F2"/><rect x="1559.16" y="1646.80" width="13.04" height="36.94" fill="#DBC5F3"/><rect x="1571.85" y="1646.80" width="13.04" height="36.94" fill="#C39DF8"/><rect x="1584.54" y="1646.80" width="13.04" height="36.94" fill="#9968FC"/><rect x="1597.23" y="1646.80" width="13.04" height="36.94" fill="#BC92F8"/><rect x="1609.92" y="1646.80" width="25.73" height="36.94" fill="#9968FC"/><rect x="61.70" y="1683.39" width="13.04" height="36.94" fill="#FC3C20"/><rect x="74.39" y="1683.39" width="13.04" height="36.94" fill="#FD2D15"/><rect x="87.08" y="1683.39" width="38.42" height="36.94" fill="#FE1707"/><rect x="125.15" y="1683.39" width="13.04" height="36.94" fill="#FA4B2C"/><rect x="137.84" y="1683.39" width="13.04" height="36.94" fill="#F46E4E"/><rect x="150.53" y="1683.39" width="13.04" height="36.94" fill="#FC361C"/><rect x="163.22" y="1683.39" width="25.73" height="36.94" fill="#F95031"/><rect x="188.60" y="1683.39" width="13.04" height="36.94" fill="#FA4B2C"/><rect x="201.29" y="1683.39" width="51.11" height="36.94" fill="#F95031"/><rect x="252.05" y="1683.39" width="13.04" height="36.94" fill="#FA4B2C"/><rect x="264.75" y="1683.39" width="25.73" height="36.94" fill="#F85837"/><rect x="290.13" y="1683.39" width="13.04" height="36.94" fill="#F66343"/><rect x="302.82" y="1683.39" width="13.04" height="36.94" fill="#F1BEAC"/><rect x="315.51" y="1683.39" width="13.04" height="36.94" fill="#F1AC95"/><rect x="328.20" y="1683.39" width="13.04" height="36.94" fill="#F18364"/><rect x="340.89" y="1683.39" width="13.04" height="36.94" fill="#F19C81"/><rect x="353.58" y="1683.39" width="13.04" height="36.94" fill="#F19072"/><rect x="366.27" y="1683.39" width="25.73" height="36.94" fill="#F19578"/><rect x="391.65" y="1683.39" width="25.73" height="36.94" fill="#F1BAA7"/><rect x="417.03" y="1683.39" width="13.04" height="36.94" fill="#F1B19C"/><rect x="429.72" y="1683.39" width="13.04" height="36.94" fill="#F1A38A"/><rect x="442.41" y="1683.39" width="25.73" height="36.94" fill="#F1B19C"/><rect x="467.79" y="1683.39" width="13.04" height="36.94" fill="#F1B7A2"/><rect x="480.48" y="1683.39" width="13.04" height="36.94" fill="#F1B19C"/><rect x="493.17" y="1683.39" width="13.04" height="36.94" fill="#F1B7A2"/><rect x="505.86" y="1683.39" width="13.04" height="36.94" fill="#F1BAA7"/><rect x="518.55" y="1683.39" width="13.04" height="36.94" fill="#DFCDF2"/><rect x="531.24" y="1683.39" width="13.04" height="36.94" fill="#EEEEEE"/><rect x="543.93" y="1683.39" width="13.04" height="36.94" fill="#D7BDF4"/><rect x="556.62" y="1683.39" width="13.04" height="36.94" fill="#EEEEEE"/><rect x="569.31" y="1683.39" width="13.04" height="36.94" fill="#D7BDF4"/><rect x="582.00" y="1683.39" width="13.04" height="36.94" fill="#DFCDF2"/><rect x="594.69" y="1683.39" width="13.04" height="36.94" fill="#DBC5F3"/><rect x="607.38" y="1683.39" width="13.04" height="36.94" fill="#BC92F8"/><rect x="620.07" y="1683.39" width="13.04" height="36.94" fill="#DFCDF2"/><rect x="632.76" y="1683.39" width="13.04" height="36.94" fill="#DBC5F3"/><rect x="645.45" y="1683.39" width="13.04" height="36.94" fill="#EBE6EF"/><rect x="658.15" y="1683.39" width="25.73" height="36.94" fill="#D1B2F5"/><rect x="683.53" y="1683.39" width="13.04" height="36.94" fill="#DBC5F3"/><rect x="696.22" y="1683.39" width="13.04" height="36.94" fill="#F1C8BA"/><rect x="708.91" y="1683.39" width="13.04" height="36.94" fill="#EEEEEE"/><rect x="721.60" y="1683.39" width="13.04" height="36.94" fill="#DFCDF2"/><rect x="734.29" y="1683.39" width="13.04" height="36.94" fill="#E3D5F1"/><rect x="746.98" y="1683.39" width="13.04" height="36.94" fill="#D7BDF4"/><rect x="759.67" y="1683.39" width="13.04" height="36.94" fill="#E7DDF0"/><rect x="772.36" y="1683.39" width="13.04" height="36.94" fill="#C39DF8"/><rect x="785.05" y="1683.39" width="25.73" height="36.94" fill="#F1D4CA"/><rect x="810.43" y="1683.39" width="13.04" height="36.94" fill="#EEEEEE"/><rect x="823.12" y="1683.39" width="25.73" height="36.94" fill="#E7DDF0"/><rect x="848.50" y="1683.39" width="13.04" height="36.94" fill="#F19072"/><rect x="861.19" y="1683.39" width="13.04" height="36.94" fill="#F1DDD6"/><rect x="873.88" y="1683.39" width="13.04" height="36.94" fill="#F19072"/><rect x="886.57" y="1683.39" width="13.04" height="36.94" fill="#F1BAA7"/><rect x="899.26" y="1683.39" width="13.04" height="36.94" fill="#F1AC95"/><rect x="911.95" y="1683.39" width="13.04" height="36.94" fill="#F1B7A2"/><rect x="924.64" y="1683.39" width="13.04" height="36.94" fill="#F1AC95"/><rect x="937.33" y="1683.39" width="13.04" height="36.94" fill="#F1A890"/><rect x="950.02" y="1683.39" width="13.04" height="36.94" fill="#F19C81"/><rect x="962.71" y="1683.39" width="13.04" height="36.94" fill="#F1C3B3"/><rect x="975.40" y="1683.39" width="25.73" height="36.94" fill="#F1BEAC"/><rect x="1000.78" y="1683.39" width="13.04" height="36.94" fill="#F1B19C"/><rect x="1013.47" y="1683.39" width="13.04" height="36.94" fill="#F1A38A"/><rect x="1026.16" y="1683.39" width="13.04" height="36.94" fill="#DFCDF2"/><rect x="1038.85" y="1683.39" width="13.04" height="36.94" fill="#D1B2F5"/><rect x="1051.55" y="1683.39" width="13.04" height="36.94" fill="#E3D5F1"/><rect x="1064.24" y="1683.39" width="13.04" height="36.94" fill="#EBE6EF"/><rect x="1076.93" y="1683.39" width="25.73" height="36.94" fill="#E3D5F1"/><rect x="1102.31" y="1683.39" width="13.04" height="36.94" fill="#EBE6EF"/><rect x="1115.00" y="1683.39" width="13.04" height="36.94" fill="#D1B2F5"/><rect x="1127.69" y="1683.39" width="13.04" height="36.94" fill="#D7BDF4"/><rect x="1140.38" y="1683.39" width="25.73" height="36.94" fill="#C39DF8"/><rect x="1165.76" y="1683.39" width="13.04" height="36.94" fill="#9968FC"/><rect x="1178.45" y="1683.39" width="13.04" height="36.94" fill="#C39DF8"/><rect x="1191.14" y="1683.39" width="13.04" height="36.94" fill="#CAA7F7"/><rect x="1203.83" y="1683.39" width="13.04" height="36.94" fill="#B488F9"/><rect x="1216.52" y="1683.39" width="25.73" height="36.94" fill="#BC92F8"/><rect x="1241.90" y="1683.39" width="76.49" height="36.94" fill="#9968FC"/><rect x="1318.04" y="1683.39" width="13.04" height="36.94" fill="#CAA7F7"/><rect x="1330.73" y="1683.39" width="13.04" height="36.94" fill="#D1B2F5"/><rect x="1343.42" y="1683.39" width="13.04" height="36.94" fill="#BC92F8"/><rect x="1356.11" y="1683.39" width="13.04" height="36.94" fill="#CAA7F7"/><rect x="1368.80" y="1683.39" width="13.04" height="36.94" fill="#BC92F8"/><rect x="1381.49" y="1683.39" width="25.73" height="36.94" fill="#9968FC"/><rect x="1406.87" y="1683.39" width="13.04" height="36.94" fill="#D1B2F5"/><rect x="1419.56" y="1683.39" width="25.73" height="36.94" fill="#9968FC"/><rect x="1444.95" y="1683.39" width="13.04" height="36.94" fill="#DDCAF3"/><rect x="1457.64" y="1683.39" width="13.04" height="36.94" fill="#BC92F8"/><rect x="1470.33" y="1683.39" width="13.04" height="36.94" fill="#CAA7F7"/><rect x="1483.02" y="1683.39" width="51.11" height="36.94" fill="#9968FC"/><rect x="1533.78" y="1683.39" width="13.04" height="36.94" fill="#C39DF8"/><rect x="1546.47" y="1683.39" width="13.04" height="36.94" fill="#DBC5F3"/><rect x="1559.16" y="1683.39" width="13.04" height="36.94" fill="#CDACF6"/><rect x="1571.85" y="1683.39" width="25.73" height="36.94" fill="#BC92F8"/><rect x="1597.23" y="1683.39" width="13.04" height="36.94" fill="#D1B2F5"/><rect x="1609.92" y="1683.39" width="25.73" height="36.94" fill="#9968FC"/><rect x="61.70" y="1719.98" width="13.04" height="36.94" fill="#FC361C"/><rect x="74.39" y="1719.98" width="13.04" height="36.94" fill="#F85837"/><rect x="87.08" y="1719.98" width="25.73" height="36.94" fill="#FC3C20"/><rect x="112.46" y="1719.98" width="13.04" height="36.94" fill="#F85837"/><rect x="125.15" y="1719.98" width="13.04" height="36.94" fill="#FA4527"/><rect x="137.84" y="1719.98" width="13.04" height="36.94" fill="#F85837"/><rect x="150.53" y="1719.98" width="13.04" height="36.94" fill="#F46E4E"/><rect x="163.22" y="1719.98" width="13.04" height="36.94" fill="#F18364"/><rect x="175.91" y="1719.98" width="25.73" height="36.94" fill="#F27D5D"/><rect x="201.29" y="1719.98" width="25.73" height="36.94" fill="#F18161"/><rect x="226.67" y="1719.98" width="25.73" height="36.94" fill="#F18364"/><rect x="252.05" y="1719.98" width="38.42" height="36.94" fill="#F18566"/><rect x="290.13" y="1719.98" width="13.04" height="36.94" fill="#F85837"/><rect x="302.82" y="1719.98" width="25.73" height="36.94" fill="#F19C81"/><rect x="328.20" y="1719.98" width="25.73" height="36.94" fill="#F18364"/><rect x="353.58" y="1719.98" width="13.04" height="36.94" fill="#F46E4E"/><rect x="366.27" y="1719.98" width="13.04" height="36.94" fill="#F37959"/><rect x="378.96" y="1719.98" width="13.04" height="36.94" fill="#F19072"/><rect x="391.65" y="1719.98" width="25.73" height="36.94" fill="#F1A890"/><rect x="417.03" y="1719.98" width="13.04" height="36.94" fill="#F1BAA7"/><rect x="429.72" y="1719.98" width="13.04" height="36.94" fill="#F19072"/><rect x="442.41" y="1719.98" width="13.04" height="36.94" fill="#F1AC95"/><rect x="455.10" y="1719.98" width="25.73" height="36.94" fill="#F1A890"/><rect x="480.48" y="1719.98" width="13.04" height="36.94" fill="#F1AC95"/><rect x="493.17" y="1719.98" width="13.04" height="36.94" fill="#F19072"/><rect x="505.86" y="1719.98" width="13.04" height="36.94" fill="#F1E9E7"/><rect x="518.55" y="1719.98" width="13.04" height="36.94" fill="#C39DF8"/><rect x="531.24" y="1719.98" width="13.04" height="36.94" fill="#EEEEEE"/><rect x="543.93" y="1719.98" width="13.04" height="36.94" fill="#D7BDF4"/><rect x="556.62" y="1719.98" width="13.04" height="36.94" fill="#DBC5F3"/><rect x="569.31" y="1719.98" width="13.04" height="36.94" fill="#D7BDF4"/><rect x="582.00" y="1719.98" width="13.04" height="36.94" fill="#DDCAF3"/><rect x="594.69" y="1719.98" width="13.04" height="36.94" fill="#EEEEEE"/><rect x="607.38" y="1719.98" width="13.04" height="36.94" fill="#ECEBEE"/><rect x="620.07" y="1719.98" width="13.04" height="36.94" fill="#F1E9E7"/><rect x="632.76" y="1719.98" width="13.04" height="36.94" fill="#DDCAF3"/><rect x="645.45" y="1719.98" width="13.04" height="36.94" fill="#EBE6EF"/><rect x="658.15" y="1719.98" width="13.04" height="36.94" fill="#D7BDF4"/><rect x="670.84" y="1719.98" width="25.73" height="36.94" fill="#B488F9"/><rect x="696.22" y="1719.98" width="13.04" height="36.94" fill="#F1C3B3"/><rect x="708.91" y="1719.98" width="13.04" height="36.94" fill="#F1CFC3"/><rect x="721.60" y="1719.98" width="25.73" height="36.94" fill="#F1D4CA"/><rect x="746.98" y="1719.98" width="13.04" height="36.94" fill="#EBE6EF"/><rect x="759.67" y="1719.98" width="13.04" height="36.94" fill="#E1D0F2"/><rect x="772.36" y="1719.98" width="13.04" height="36.94" fill="#BC92F8"/><rect x="785.05" y="1719.98" width="25.73" height="36.94" fill="#F1D4CA"/><rect x="810.43" y="1719.98" width="25.73" height="36.94" fill="#F1CCBE"/><rect x="835.81" y="1719.98" width="13.04" height="36.94" fill="#E7DDF0"/><rect x="848.50" y="1719.98" width="13.04" height="36.94" fill="#F1B7A2"/><rect x="861.19" y="1719.98" width="13.04" height="36.94" fill="#F1BEAC"/><rect x="873.88" y="1719.98" width="13.04" height="36.94" fill="#F1B7A2"/><rect x="886.57" y="1719.98" width="25.73" height="36.94" fill="#F1D4CA"/><rect x="911.95" y="1719.98" width="13.04" height="36.94" fill="#F1E5E2"/><rect x="924.64" y="1719.98" width="13.04" height="36.94" fill="#F1D4CA"/><rect x="937.33" y="1719.98" width="13.04" height="36.94" fill="#F1CFC3"/><rect x="950.02" y="1719.98" width="13.04" height="36.94" fill="#F1D4CA"/><rect x="962.71" y="1719.98" width="13.04" height="36.94" fill="#F1E9E7"/><rect x="975.40" y="1719.98" width="13.04" height="36.94" fill="#F1C3B3"/><rect x="988.09" y="1719.98" width="13.04" height="36.94" fill="#F1BEAC"/><rect x="1000.78" y="1719.98" width="13.04" height="36.94" fill="#F46E4E"/><rect x="1013.47" y="1719.98" width="13.04" height="36.94" fill="#EEEEEE"/><rect x="1026.16" y="1719.98" width="13.04" height="36.94" fill="#DDCAF3"/><rect x="1038.85" y="1719.98" width="13.04" height="36.94" fill="#D8C0F4"/><rect x="1051.55" y="1719.98" width="13.04" height="36.94" fill="#F1D9D1"/><rect x="1064.24" y="1719.98" width="13.04" height="36.94" fill="#E7DDF0"/><rect x="1076.93" y="1719.98" width="13.04" height="36.94" fill="#F1D9D1"/><rect x="1089.62" y="1719.98" width="13.04" height="36.94" fill="#EEEEEE"/><rect x="1102.31" y="1719.98" width="25.73" height="36.94" fill="#DBC5F3"/><rect x="1127.69" y="1719.98" width="13.04" height="36.94" fill="#CAA7F7"/><rect x="1140.38" y="1719.98" width="13.04" height="36.94" fill="#9968FC"/><rect x="1153.07" y="1719.98" width="13.04" height="36.94" fill="#DFCDF2"/><rect x="1165.76" y="1719.98" width="13.04" height="36.94" fill="#9968FC"/><rect x="1178.45" y="1719.98" width="13.04" height="36.94" fill="#BC92F8"/><rect x="1191.14" y="1719.98" width="13.04" height="36.94" fill="#BF96F8"/><rect x="1203.83" y="1719.98" width="13.04" height="36.94" fill="#CDACF6"/><rect x="1216.52" y="1719.98" width="13.04" height="36.94" fill="#BC92F8"/><rect x="1229.21" y="1719.98" width="25.73" height="36.94" fill="#BF96F8"/><rect x="1254.59" y="1719.98" width="63.80" height="36.94" fill="#9968FC"/><rect x="1318.04" y="1719.98" width="13.04" height="36.94" fill="#CAA7F7"/><rect x="1330.73" y="1719.98" width="13.04" height="36.94" fill="#B488F9"/><rect x="1343.42" y="1719.98" width="25.73" height="36.94" fill="#BC92F8"/><rect x="1368.80" y="1719.98" width="38.42" height="36.94" fill="#9968FC"/><rect x="1406.87" y="1719.98" width="13.04" height="36.94" fill="#C39DF8"/><rect x="1419.56" y="1719.98" width="13.04" height="36.94" fill="#C8A3F7"/><rect x="1432.25" y="1719.98" width="13.04" height="36.94" fill="#CAA7F7"/><rect x="1444.95" y="1719.98" width="25.73" height="36.94" fill="#D8C0F4"/><rect x="1470.33" y="1719.98" width="13.04" height="36.94" fill="#C39DF8"/><rect x="1483.02" y="1719.98" width="51.11" height="36.94" fill="#9968FC"/><rect x="1533.78" y="1719.98" width="25.73" height="36.94" fill="#DDCAF3"/><rect x="1559.16" y="1719.98" width="13.04" height="36.94" fill="#DFCDF2"/><rect x="1571.85" y="1719.98" width="13.04" height="36.94" fill="#CDACF6"/><rect x="1584.54" y="1719.98" width="13.04" height="36.94" fill="#9968FC"/><rect x="1597.23" y="1719.98" width="13.04" height="36.94" fill="#C8A3F7"/><rect x="1609.92" y="1719.98" width="13.04" height="36.94" fill="#9968FC"/><rect x="1622.61" y="1719.98" width="13.04" height="36.94" fill="#B488F9"/><rect x="61.70" y="1756.57" width="13.04" height="36.94" fill="#F95031"/><rect x="74.39" y="1756.57" width="13.04" height="36.94" fill="#FC3319"/><rect x="87.08" y="1756.57" width="38.42" height="36.94" fill="#FE1707"/><rect x="125.15" y="1756.57" width="13.04" height="36.94" fill="#FC3C20"/><rect x="137.84" y="1756.57" width="13.04" height="36.94" fill="#F66343"/><rect x="150.53" y="1756.57" width="13.04" height="36.94" fill="#FD2F17"/><rect x="163.22" y="1756.57" width="25.73" height="36.94" fill="#FC3C20"/><rect x="188.60" y="1756.57" width="13.04" height="36.94" fill="#FC3A1F"/><rect x="201.29" y="1756.57" width="25.73" height="36.94" fill="#FB4225"/><rect x="226.67" y="1756.57" width="13.04" height="36.94" fill="#FA4527"/><rect x="239.36" y="1756.57" width="25.73" height="36.94" fill="#FA4B2C"/><rect x="264.75" y="1756.57" width="25.73" height="36.94" fill="#F95031"/><rect x="290.13" y="1756.57" width="13.04" height="36.94" fill="#F46E4E"/><rect x="302.82" y="1756.57" width="13.04" height="36.94" fill="#F1BAA7"/><rect x="315.51" y="1756.57" width="13.04" height="36.94" fill="#F1BEAC"/><rect x="328.20" y="1756.57" width="13.04" height="36.94" fill="#F37959"/><rect x="340.89" y="1756.57" width="13.04" height="36.94" fill="#F19C81"/><rect x="353.58" y="1756.57" width="13.04" height="36.94" fill="#F18364"/><rect x="366.27" y="1756.57" width="13.04" height="36.94" fill="#F19072"/><rect x="378.96" y="1756.57" width="13.04" height="36.94" fill="#F18B6C"/><rect x="391.65" y="1756.57" width="13.04" height="36.94" fill="#F1AC95"/><rect x="404.34" y="1756.57" width="13.04" height="36.94" fill="#F1C3B3"/><rect x="417.03" y="1756.57" width="13.04" height="36.94" fill="#F1A890"/><rect x="429.72" y="1756.57" width="13.04" height="36.94" fill="#F19C81"/><rect x="442.41" y="1756.57" width="38.42" height="36.94" fill="#F1A890"/><rect x="480.48" y="1756.57" width="13.04" height="36.94" fill="#F1BEAC"/><rect x="493.17" y="1756.57" width="13.04" height="36.94" fill="#F1A38A"/><rect x="505.86" y="1756.57" width="25.73" height="36.94" fill="#EEEEEE"/><rect x="531.24" y="1756.57" width="13.04" height="36.94" fill="#E3D5F1"/><rect x="543.93" y="1756.57" width="13.04" height="36.94" fill="#D7BDF4"/><rect x="556.62" y="1756.57" width="13.04" height="36.94" fill="#E3D5F1"/><rect x="569.31" y="1756.57" width="13.04" height="36.94" fill="#BC92F8"/><rect x="582.00" y="1756.57" width="13.04" height="36.94" fill="#D7BDF4"/><rect x="594.69" y="1756.57" width="13.04" height="36.94" fill="#CAA7F7"/><rect x="607.38" y="1756.57" width="13.04" height="36.94" fill="#C39DF8"/><rect x="620.07" y="1756.57" width="13.04" height="36.94" fill="#E5DAF1"/><rect x="632.76" y="1756.57" width="13.04" height="36.94" fill="#DFCDF2"/><rect x="645.45" y="1756.57" width="13.04" height="36.94" fill="#E1D0F2"/><rect x="658.15" y="1756.57" width="13.04" height="36.94" fill="#C39DF8"/><rect x="670.84" y="1756.57" width="13.04" height="36.94" fill="#D7BDF4"/><rect x="683.53" y="1756.57" width="13.04" height="36.94" fill="#9968FC"/><rect x="696.22" y="1756.57" width="13.04" height="36.94" fill="#F1E9E7"/><rect x="708.91" y="1756.57" width="13.04" height="36.94" fill="#E5DAF1"/><rect x="721.60" y="1756.57" width="13.04" height="36.94" fill="#DFCDF2"/><rect x="734.29" y="1756.57" width="13.04" height="36.94" fill="#E3D5F1"/><rect x="746.98" y="1756.57" width="13.04" height="36.94" fill="#D4B8F5"/><rect x="759.67" y="1756.57" width="13.04" height="36.94" fill="#EEEEEE"/><rect x="772.36" y="1756.57" width="13.04" height="36.94" fill="#9968FC"/><rect x="785.05" y="1756.57" width="25.73" height="36.94" fill="#F1CFC3"/><rect x="810.43" y="1756.57" width="13.04" height="36.94" fill="#F1D4CA"/><rect x="823.12" y="1756.57" width="13.04" height="36.94" fill="#EBE9EF"/><rect x="835.81" y="1756.57" width="13.04" height="36.94" fill="#E7DDF0"/><rect x="848.50" y="1756.57" width="13.04" height="36.94" fill="#F1AC95"/><rect x="861.19" y="1756.57" width="13.04" height="36.94" fill="#EEEEEE"/><rect x="873.88" y="1756.57" width="13.04" height="36.94" fill="#F1BAA7"/><rect x="886.57" y="1756.57" width="13.04" height="36.94" fill="#F1BEAC"/><rect x="899.26" y="1756.57" width="13.04" height="36.94" fill="#F1A890"/><rect x="911.95" y="1756.57" width="13.04" height="36.94" fill="#F1B7A2"/><rect x="924.64" y="1756.57" width="13.04" height="36.94" fill="#F1C3B3"/><rect x="937.33" y="1756.57" width="25.73" height="36.94" fill="#F1A38A"/><rect x="962.71" y="1756.57" width="13.04" height="36.94" fill="#F1AC95"/><rect x="975.40" y="1756.57" width="13.04" height="36.94" fill="#F1BEAC"/><rect x="988.09" y="1756.57" width="13.04" height="36.94" fill="#F1BAA7"/><rect x="1000.78" y="1756.57" width="13.04" height="36.94" fill="#F1B19C"/><rect x="1013.47" y="1756.57" width="13.04" height="36.94" fill="#F1D4CA"/><rect x="1026.16" y="1756.57" width="13.04" height="36.94" fill="#D7BDF4"/><rect x="1038.85" y="1756.57" width="13.04" height="36.94" fill="#D4B8F5"/><rect x="1051.55" y="1756.57" width="38.42" height="36.94" fill="#F1DDD6"/><rect x="1089.62" y="1756.57" width="13.04" height="36.94" fill="#EEEEEE"/><rect x="1102.31" y="1756.57" width="25.73" height="36.94" fill="#E7DDF0"/><rect x="1127.69" y="1756.57" width="13.04" height="36.94" fill="#C39DF8"/><rect x="1140.38" y="1756.57" width="13.04" height="36.94" fill="#BC92F8"/><rect x="1153.07" y="1756.57" width="25.73" height="36.94" fill="#9968FC"/><rect x="1178.45" y="1756.57" width="13.04" height="36.94" fill="#D1B2F5"/><rect x="1191.14" y="1756.57" width="13.04" height="36.94" fill="#D7BDF4"/><rect x="1203.83" y="1756.57" width="13.04" height="36.94" fill="#CAA7F7"/><rect x="1216.52" y="1756.57" width="13.04" height="36.94" fill="#9968FC"/><rect x="1229.21" y="1756.57" width="13.04" height="36.94" fill="#B488F9"/><rect x="1241.90" y="1756.57" width="25.73" height="36.94" fill="#9968FC"/><rect x="1267.28" y="1756.57" width="13.04" height="36.94" fill="#B488F9"/><rect x="1279.97" y="1756.57" width="13.04" height="36.94" fill="#9968FC"/><rect x="1292.66" y="1756.57" width="13.04" height="36.94" fill="#BC92F8"/><rect x="1305.35" y="1756.57" width="13.04" height="36.94" fill="#9968FC"/><rect x="1318.04" y="1756.57" width="13.04" height="36.94" fill="#C39DF8"/><rect x="1330.73" y="1756.57" width="13.04" height="36.94" fill="#BC92F8"/><rect x="1343.42" y="1756.57" width="13.04" height="36.94" fill="#CAA7F7"/><rect x="1356.11" y="1756.57" width="13.04" height="36.94" fill="#B488F9"/><rect x="1368.80" y="1756.57" width="38.42" height="36.94" fill="#9968FC"/><rect x="1406.87" y="1756.57" width="13.04" height="36.94" fill="#D1B2F5"/><rect x="1419.56" y="1756.57" width="13.04" height="36.94" fill="#BC92F8"/><rect x="1432.25" y="1756.57" width="13.04" height="36.94" fill="#AB7DFA"/><rect x="1444.95" y="1756.57" width="13.04" height="36.94" fill="#CDACF6"/><rect x="1457.64" y="1756.57" width="13.04" height="36.94" fill="#BC92F8"/><rect x="1470.33" y="1756.57" width="13.04" height="36.94" fill="#C8A3F7"/><rect x="1483.02" y="1756.57" width="51.11" height="36.94" fill="#9968FC"/><rect x="1533.78" y="1756.57" width="25.73" height="36.94" fill="#D7BDF4"/><rect x="1559.16" y="1756.57" width="13.04" height="36.94" fill="#BC92F8"/><rect x="1571.85" y="1756.57" width="13.04" height="36.94" fill="#AF81FA"/><rect x="1584.54" y="1756.57" width="25.73" height="36.94" fill="#9968FC"/><rect x="1609.92" y="1756.57" width="13.04" height="36.94" fill="#AB7DFA"/><rect x="1622.61" y="1756.57" width="13.04" height="36.94" fill="#9968FC"/><rect x="61.70" y="1793.16" width="25.73" height="36.94" fill="#FC3C20"/><rect x="87.08" y="1793.16" width="25.73" height="36.94" fill="#FE1D0B"/><rect x="112.46" y="1793.16" width="13.04" height="36.94" fill="#FD2812"/><rect x="125.15" y="1793.16" width="13.04" height="36.94" fill="#FB4225"/><rect x="137.84" y="1793.16" width="13.04" height="36.94" fill="#F66847"/><rect x="150.53" y="1793.16" width="13.04" height="36.94" fill="#FC3C20"/><rect x="163.22" y="1793.16" width="38.42" height="36.94" fill="#FA4B2C"/><rect x="201.29" y="1793.16" width="38.42" height="36.94" fill="#F85837"/><rect x="239.36" y="1793.16" width="13.04" height="36.94" fill="#F66343"/><rect x="252.05" y="1793.16" width="13.04" height="36.94" fill="#F75C3C"/><rect x="264.75" y="1793.16" width="25.73" height="36.94" fill="#F66343"/><rect x="290.13" y="1793.16" width="13.04" height="36.94" fill="#F46E4E"/><rect x="302.82" y="1793.16" width="25.73" height="36.94" fill="#F1BEAC"/><rect x="328.20" y="1793.16" width="13.04" height="36.94" fill="#F37959"/><rect x="340.89" y="1793.16" width="13.04" height="36.94" fill="#F19072"/><rect x="353.58" y="1793.16" width="13.04" height="36.94" fill="#F46E4E"/><rect x="366.27" y="1793.16" width="13.04" height="36.94" fill="#F27D5D"/><rect x="378.96" y="1793.16" width="13.04" height="36.94" fill="#F18364"/><rect x="391.65" y="1793.16" width="13.04" height="36.94" fill="#F1A890"/><rect x="404.34" y="1793.16" width="13.04" height="36.94" fill="#F1BAA7"/><rect x="417.03" y="1793.16" width="13.04" height="36.94" fill="#F1B19C"/><rect x="429.72" y="1793.16" width="13.04" height="36.94" fill="#F19C81"/><rect x="442.41" y="1793.16" width="13.04" height="36.94" fill="#F1AC95"/><rect x="455.10" y="1793.16" width="25.73" height="36.94" fill="#F1A890"/><rect x="480.48" y="1793.16" width="13.04" height="36.94" fill="#F1B19C"/><rect x="493.17" y="1793.16" width="13.04" height="36.94" fill="#F19C81"/><rect x="505.86" y="1793.16" width="13.04" height="36.94" fill="#DBC5F3"/><rect x="518.55" y="1793.16" width="25.73" height="36.94" fill="#E7DDF0"/><rect x="543.93" y="1793.16" width="13.04" height="36.94" fill="#DBC5F3"/><rect x="556.62" y="1793.16" width="13.04" height="36.94" fill="#D7BDF4"/><rect x="569.31" y="1793.16" width="13.04" height="36.94" fill="#C39DF8"/><rect x="582.00" y="1793.16" width="13.04" height="36.94" fill="#D7BDF4"/><rect x="594.69" y="1793.16" width="25.73" height="36.94" fill="#E3D5F1"/><rect x="620.07" y="1793.16" width="13.04" height="36.94" fill="#EBE6EF"/><rect x="632.76" y="1793.16" width="13.04" height="36.94" fill="#E5DAF1"/><rect x="645.45" y="1793.16" width="38.42" height="36.94" fill="#DBC5F3"/><rect x="683.53" y="1793.16" width="13.04" height="36.94" fill="#BC92F8"/><rect x="696.22" y="1793.16" width="13.04" height="36.94" fill="#F1DDD6"/><rect x="708.91" y="1793.16" width="13.04" height="36.94" fill="#E8E1F0"/><rect x="721.60" y="1793.16" width="13.04" height="36.94" fill="#DFCDF2"/><rect x="734.29" y="1793.16" width="13.04" height="36.94" fill="#F1E5E2"/><rect x="746.98" y="1793.16" width="13.04" height="36.94" fill="#E5DAF1"/><rect x="759.67" y="1793.16" width="13.04" height="36.94" fill="#E1D0F2"/><rect x="772.36" y="1793.16" width="13.04" height="36.94" fill="#BC92F8"/><rect x="785.05" y="1793.16" width="25.73" height="36.94" fill="#F1CFC3"/><rect x="810.43" y="1793.16" width="13.04" height="36.94" fill="#F1CCBE"/><rect x="823.12" y="1793.16" width="13.04" height="36.94" fill="#F1DDD6"/><rect x="835.81" y="1793.16" width="13.04" height="36.94" fill="#DFCDF2"/><rect x="848.50" y="1793.16" width="13.04" height="36.94" fill="#F1C8BA"/><rect x="861.19" y="1793.16" width="13.04" height="36.94" fill="#F1CCBE"/><rect x="873.88" y="1793.16" width="13.04" height="36.94" fill="#F1C3B3"/><rect x="886.57" y="1793.16" width="13.04" height="36.94" fill="#F1CCBE"/><rect x="899.26" y="1793.16" width="25.73" height="36.94" fill="#F1B19C"/><rect x="924.64" y="1793.16" width="13.04" height="36.94" fill="#F1D4CA"/><rect x="937.33" y="1793.16" width="13.04" height="36.94" fill="#F1B19C"/><rect x="950.02" y="1793.16" width="25.73" height="36.94" fill="#F1B7A2"/><rect x="975.40" y="1793.16" width="13.04" height="36.94" fill="#F1BAA7"/><rect x="988.09" y="1793.16" width="13.04" height="36.94" fill="#F1A890"/><rect x="1000.78" y="1793.16" width="13.04" height="36.94" fill="#F19578"/><rect x="1013.47" y="1793.16" width="13.04" height="36.94" fill="#F1BEAC"/><rect x="1026.16" y="1793.16" width="13.04" height="36.94" fill="#EEEEEE"/><rect x="1038.85" y="1793.16" width="13.04" height="36.94" fill="#DBC5F3"/><rect x="1051.55" y="1793.16" width="25.73" height="36.94" fill="#F1D9D1"/><rect x="1076.93" y="1793.16" width="13.04" height="36.94" fill="#F1E9E7"/><rect x="1089.62" y="1793.16" width="13.04" height="36.94" fill="#EEEEEE"/><rect x="1102.31" y="1793.16" width="13.04" height="36.94" fill="#E7DDF0"/><rect x="1115.00" y="1793.16" width="25.73" height="36.94" fill="#DFCDF2"/><rect x="1140.38" y="1793.16" width="13.04" height="36.94" fill="#BC92F8"/><rect x="1153.07" y="1793.16" width="13.04" height="36.94" fill="#C39DF8"/><rect x="1165.76" y="1793.16" width="13.04" height="36.94" fill="#9968FC"/><rect x="1178.45" y="1793.16" width="38.42" height="36.94" fill="#CAA7F7"/><rect x="1216.52" y="1793.16" width="25.73" height="36.94" fill="#BC92F8"/><rect x="1241.90" y="1793.16" width="13.04" height="36.94" fill="#B488F9"/><rect x="1254.59" y="1793.16" width="51.11" height="36.94" fill="#9968FC"/><rect x="1305.35" y="1793.16" width="13.04" height="36.94" fill="#BC92F8"/><rect x="1318.04" y="1793.16" width="13.04" height="36.94" fill="#D1B2F5"/><rect x="1330.73" y="1793.16" width="25.73" height="36.94" fill="#BC92F8"/><rect x="1356.11" y="1793.16" width="13.04" height="36.94" fill="#B488F9"/><rect x="1368.80" y="1793.16" width="38.42" height="36.94" fill="#9968FC"/><rect x="1406.87" y="1793.16" width="13.04" height="36.94" fill="#CAA7F7"/><rect x="1419.56" y="1793.16" width="13.04" height="36.94" fill="#C39DF8"/><rect x="1432.25" y="1793.16" width="13.04" height="36.94" fill="#BC92F8"/><rect x="1444.95" y="1793.16" width="13.04" height="36.94" fill="#D1B2F5"/><rect x="1457.64" y="1793.16" width="13.04" height="36.94" fill="#CAA7F7"/><rect x="1470.33" y="1793.16" width="13.04" height="36.94" fill="#BC92F8"/><rect x="1483.02" y="1793.16" width="51.11" height="36.94" fill="#9968FC"/><rect x="1533.78" y="1793.16" width="25.73" height="36.94" fill="#E1D0F2"/><rect x="1559.16" y="1793.16" width="13.04" height="36.94" fill="#CAA7F7"/><rect x="1571.85" y="1793.16" width="13.04" height="36.94" fill="#B488F9"/><rect x="1584.54" y="1793.16" width="25.73" height="36.94" fill="#9968FC"/><rect x="1609.92" y="1793.16" width="13.04" height="36.94" fill="#AB7DFA"/><rect x="1622.61" y="1793.16" width="13.04" height="36.94" fill="#9968FC"/><rect x="61.70" y="1829.74" width="13.04" height="36.94" fill="#FA4B2C"/><rect x="74.39" y="1829.74" width="13.04" height="36.94" fill="#FC3319"/><rect x="87.08" y="1829.74" width="38.42" height="36.94" fill="#FE1707"/><rect x="125.15" y="1829.74" width="13.04" height="36.94" fill="#FC3C20"/><rect x="137.84" y="1829.74" width="13.04" height="36.94" fill="#F75F3E"/><rect x="150.53" y="1829.74" width="13.04" height="36.94" fill="#FD2F17"/><rect x="163.22" y="1829.74" width="25.73" height="36.94" fill="#FC3C20"/><rect x="188.60" y="1829.74" width="13.04" height="36.94" fill="#FC361C"/><rect x="201.29" y="1829.74" width="25.73" height="36.94" fill="#FC3C20"/><rect x="226.67" y="1829.74" width="13.04" height="36.94" fill="#FB4225"/><rect x="239.36" y="1829.74" width="13.04" height="36.94" fill="#FA4527"/><rect x="252.05" y="1829.74" width="38.42" height="36.94" fill="#FA4B2C"/><rect x="290.13" y="1829.74" width="13.04" height="36.94" fill="#F37959"/><rect x="302.82" y="1829.74" width="13.04" height="36.94" fill="#F1D4CA"/><rect x="315.51" y="1829.74" width="13.04" height="36.94" fill="#F1BAA7"/><rect x="328.20" y="1829.74" width="13.04" height="36.94" fill="#F46E4E"/><rect x="340.89" y="1829.74" width="13.04" height="36.94" fill="#F1A890"/><rect x="353.58" y="1829.74" width="13.04" height="36.94" fill="#F18364"/><rect x="366.27" y="1829.74" width="13.04" height="36.94" fill="#F19072"/><rect x="378.96" y="1829.74" width="13.04" height="36.94" fill="#F18364"/><rect x="391.65" y="1829.74" width="13.04" height="36.94" fill="#F1B19C"/><rect x="404.34" y="1829.74" width="13.04" height="36.94" fill="#F1D9D1"/><rect x="417.03" y="1829.74" width="13.04" height="36.94" fill="#F1A890"/><rect x="429.72" y="1829.74" width="13.04" height="36.94" fill="#F19578"/><rect x="442.41" y="1829.74" width="13.04" height="36.94" fill="#F1A890"/><rect x="455.10" y="1829.74" width="25.73" height="36.94" fill="#F1A38A"/><rect x="480.48" y="1829.74" width="13.04" height="36.94" fill="#F1B7A2"/><rect x="493.17" y="1829.74" width="13.04" height="36.94" fill="#F1A890"/><rect x="505.86" y="1829.74" width="13.04" height="36.94" fill="#E8E1F0"/><rect x="518.55" y="1829.74" width="13.04" height="36.94" fill="#F1E9E7"/><rect x="531.24" y="1829.74" width="13.04" height="36.94" fill="#DBC5F3"/><rect x="543.93" y="1829.74" width="13.04" height="36.94" fill="#CAA7F7"/><rect x="556.62" y="1829.74" width="13.04" height="36.94" fill="#D7BDF4"/><rect x="569.31" y="1829.74" width="13.04" height="36.94" fill="#B488F9"/><rect x="582.00" y="1829.74" width="13.04" height="36.94" fill="#C39DF8"/><rect x="594.69" y="1829.74" width="13.04" height="36.94" fill="#DBC5F3"/><rect x="607.38" y="1829.74" width="13.04" height="36.94" fill="#BC92F8"/><rect x="620.07" y="1829.74" width="13.04" height="36.94" fill="#E8E1F0"/><rect x="632.76" y="1829.74" width="13.04" height="36.94" fill="#E1D0F2"/><rect x="645.45" y="1829.74" width="13.04" height="36.94" fill="#DFCDF2"/><rect x="658.15" y="1829.74" width="13.04" height="36.94" fill="#AB7DFA"/><rect x="670.84" y="1829.74" width="25.73" height="36.94" fill="#C39DF8"/><rect x="696.22" y="1829.74" width="13.04" height="36.94" fill="#EEEEEE"/><rect x="708.91" y="1829.74" width="13.04" height="36.94" fill="#E8E1F0"/><rect x="721.60" y="1829.74" width="13.04" height="36.94" fill="#DFCDF2"/><rect x="734.29" y="1829.74" width="13.04" height="36.94" fill="#C39DF8"/><rect x="746.98" y="1829.74" width="13.04" height="36.94" fill="#DFCDF2"/><rect x="759.67" y="1829.74" width="13.04" height="36.94" fill="#EEEEEE"/><rect x="772.36" y="1829.74" width="13.04" height="36.94" fill="#9968FC"/><rect x="785.05" y="1829.74" width="25.73" height="36.94" fill="#F1D4CA"/><rect x="810.43" y="1829.74" width="13.04" height="36.94" fill="#EEEEEE"/><rect x="823.12" y="1829.74" width="13.04" height="36.94" fill="#E5DAF1"/><rect x="835.81" y="1829.74" width="13.04" height="36.94" fill="#E7DDF0"/><rect x="848.50" y="1829.74" width="13.04" height="36.94" fill="#F1B7A2"/><rect x="861.19" y="1829.74" width="13.04" height="36.94" fill="#F1E5E2"/><rect x="873.88" y="1829.74" width="13.04" height="36.94" fill="#F1B7A2"/><rect x="886.57" y="1829.74" width="13.04" height="36.94" fill="#F1C3B3"/><rect x="899.26" y="1829.74" width="13.04" height="36.94" fill="#F1AC95"/><rect x="911.95" y="1829.74" width="13.04" height="36.94" fill="#F1B7A2"/><rect x="924.64" y="1829.74" width="13.04" height="36.94" fill="#F1D4CA"/><rect x="937.33" y="1829.74" width="13.04" height="36.94" fill="#F1AC95"/><rect x="950.02" y="1829.74" width="13.04" height="36.94" fill="#F19C81"/><rect x="962.71" y="1829.74" width="13.04" height="36.94" fill="#F1B19C"/><rect x="975.40" y="1829.74" width="51.11" height="36.94" fill="#F1BAA7"/><rect x="1026.16" y="1829.74" width="13.04" height="36.94" fill="#EBE9EF"/><rect x="1038.85" y="1829.74" width="13.04" height="36.94" fill="#C8A3F7"/><rect x="1051.55" y="1829.74" width="13.04" height="36.94" fill="#E5DAF1"/><rect x="1064.24" y="1829.74" width="13.04" height="36.94" fill="#F1D4CA"/><rect x="1076.93" y="1829.74" width="13.04" height="36.94" fill="#F1E5E2"/><rect x="1089.62" y="1829.74" width="25.73" height="36.94" fill="#EBE9EF"/><rect x="1115.00" y="1829.74" width="13.04" height="36.94" fill="#E1D0F2"/><rect x="1127.69" y="1829.74" width="13.04" height="36.94" fill="#C39DF8"/><rect x="1140.38" y="1829.74" width="13.04" height="36.94" fill="#BC92F8"/><rect x="1153.07" y="1829.74" width="13.04" height="36.94" fill="#B488F9"/><rect x="1165.76" y="1829.74" width="13.04" height="36.94" fill="#9968FC"/><rect x="1178.45" y="1829.74" width="38.42" height="36.94" fill="#BC92F8"/><rect x="1216.52" y="1829.74" width="38.42" height="36.94" fill="#B488F9"/><rect x="1254.59" y="1829.74" width="38.42" height="36.94" fill="#9968FC"/><rect x="1292.66" y="1829.74" width="25.73" height="36.94" fill="#BC92F8"/><rect x="1318.04" y="1829.74" width="13.04" height="36.94" fill="#CAA7F7"/><rect x="1330.73" y="1829.74" width="13.04" height="36.94" fill="#CDACF6"/><rect x="1343.42" y="1829.74" width="13.04" height="36.94" fill="#C39DF8"/><rect x="1356.11" y="1829.74" width="13.04" height="36.94" fill="#D1B2F5"/><rect x="1368.80" y="1829.74" width="13.04" height="36.94" fill="#9968FC"/><rect x="1381.49" y="1829.74" width="13.04" height="36.94" fill="#B488F9"/><rect x="1394.18" y="1829.74" width="13.04" height="36.94" fill="#9968FC"/><rect x="1406.87" y="1829.74" width="13.04" height="36.94" fill="#CDACF6"/><rect x="1419.56" y="1829.74" width="13.04" height="36.94" fill="#C8A3F7"/><rect x="1432.25" y="1829.74" width="13.04" height="36.94" fill="#C39DF8"/><rect x="1444.95" y="1829.74" width="13.04" height="36.94" fill="#E1D0F2"/><rect x="1457.64" y="1829.74" width="13.04" height="36.94" fill="#CDACF6"/><rect x="1470.33" y="1829.74" width="13.04" height="36.94" fill="#BC92F8"/><rect x="1483.02" y="1829.74" width="51.11" height="36.94" fill="#9968FC"/><rect x="1533.78" y="1829.74" width="13.04" height="36.94" fill="#D1B2F5"/><rect x="1546.47" y="1829.74" width="13.04" height="36.94" fill="#D4B8F5"/><rect x="1559.16" y="1829.74" width="13.04" height="36.94" fill="#C39DF8"/><rect x="1571.85" y="1829.74" width="25.73" height="36.94" fill="#B488F9"/><rect x="1597.23" y="1829.74" width="38.42" height="36.94" fill="#9968FC"/><rect x="61.70" y="1866.33" width="13.04" height="36.94" fill="#FE1D0B"/><rect x="74.39" y="1866.33" width="13.04" height="36.94" fill="#FC3C20"/><rect x="87.08" y="1866.33" width="25.73" height="36.94" fill="#F95031"/><rect x="112.46" y="1866.33" width="13.04" height="36.94" fill="#F66343"/><rect x="125.15" y="1866.33" width="13.04" height="36.94" fill="#F75F3E"/><rect x="137.84" y="1866.33" width="13.04" height="36.94" fill="#F95031"/><rect x="150.53" y="1866.33" width="13.04" height="36.94" fill="#F18364"/><rect x="163.22" y="1866.33" width="13.04" height="36.94" fill="#F19072"/><rect x="175.91" y="1866.33" width="51.11" height="36.94" fill="#F18B6C"/><rect x="226.67" y="1866.33" width="13.04" height="36.94" fill="#F19578"/><rect x="239.36" y="1866.33" width="13.04" height="36.94" fill="#F19072"/><rect x="252.05" y="1866.33" width="13.04" height="36.94" fill="#F19578"/><rect x="264.75" y="1866.33" width="25.73" height="36.94" fill="#F19C81"/><rect x="290.13" y="1866.33" width="25.73" height="36.94" fill="#F18364"/><rect x="315.51" y="1866.33" width="13.04" height="36.94" fill="#F75F3E"/><rect x="328.20" y="1866.33" width="13.04" height="36.94" fill="#F1A890"/><rect x="340.89" y="1866.33" width="13.04" height="36.94" fill="#F1B7A2"/><rect x="353.58" y="1866.33" width="13.04" height="36.94" fill="#F1A890"/><rect x="366.27" y="1866.33" width="13.04" height="36.94" fill="#F18364"/><rect x="378.96" y="1866.33" width="38.42" height="36.94" fill="#F1AC95"/><rect x="417.03" y="1866.33" width="13.04" height="36.94" fill="#F1CCBE"/><rect x="429.72" y="1866.33" width="13.04" height="36.94" fill="#F1C8BA"/><rect x="442.41" y="1866.33" width="13.04" height="36.94" fill="#F1CFC3"/><rect x="455.10" y="1866.33" width="25.73" height="36.94" fill="#F1D9D1"/><rect x="480.48" y="1866.33" width="13.04" height="36.94" fill="#F1E9E7"/><rect x="493.17" y="1866.33" width="13.04" height="36.94" fill="#F1DDD6"/><rect x="505.86" y="1866.33" width="13.04" height="36.94" fill="#EEEEEE"/><rect x="518.55" y="1866.33" width="13.04" height="36.94" fill="#D7BDF4"/><rect x="531.24" y="1866.33" width="13.04" height="36.94" fill="#F1D4CA"/><rect x="543.93" y="1866.33" width="13.04" height="36.94" fill="#F1E9E7"/><rect x="556.62" y="1866.33" width="13.04" height="36.94" fill="#D1B2F5"/><rect x="569.31" y="1866.33" width="13.04" height="36.94" fill="#F1DDD6"/><rect x="582.00" y="1866.33" width="13.04" height="36.94" fill="#F1E0DB"/><rect x="594.69" y="1866.33" width="13.04" height="36.94" fill="#CAA7F7"/><rect x="607.38" y="1866.33" width="25.73" height="36.94" fill="#DFCDF2"/><rect x="632.76" y="1866.33" width="13.04" height="36.94" fill="#C39DF8"/><rect x="645.45" y="1866.33" width="13.04" height="36.94" fill="#E3D5F1"/><rect x="658.15" y="1866.33" width="13.04" height="36.94" fill="#EBE6EF"/><rect x="670.84" y="1866.33" width="13.04" height="36.94" fill="#C39DF8"/><rect x="683.53" y="1866.33" width="13.04" height="36.94" fill="#DBC5F3"/><rect x="696.22" y="1866.33" width="13.04" height="36.94" fill="#F19072"/><rect x="708.91" y="1866.33" width="13.04" height="36.94" fill="#F1A890"/><rect x="721.60" y="1866.33" width="13.04" height="36.94" fill="#F19578"/><rect x="734.29" y="1866.33" width="13.04" height="36.94" fill="#F1BAA7"/><rect x="746.98" y="1866.33" width="25.73" height="36.94" fill="#F1BEAC"/><rect x="772.36" y="1866.33" width="13.04" height="36.94" fill="#F19C81"/><rect x="785.05" y="1866.33" width="13.04" height="36.94" fill="#F1CCBE"/><rect x="797.74" y="1866.33" width="13.04" height="36.94" fill="#F1DDD6"/><rect x="810.43" y="1866.33" width="38.42" height="36.94" fill="#F1CCBE"/><rect x="848.50" y="1866.33" width="13.04" height="36.94" fill="#F19C81"/><rect x="861.19" y="1866.33" width="13.04" height="36.94" fill="#F19072"/><rect x="873.88" y="1866.33" width="13.04" height="36.94" fill="#F1BEAC"/><rect x="886.57" y="1866.33" width="13.04" height="36.94" fill="#F1C3B3"/><rect x="899.26" y="1866.33" width="13.04" height="36.94" fill="#F1E5E2"/><rect x="911.95" y="1866.33" width="13.04" height="36.94" fill="#E7DDF0"/><rect x="924.64" y="1866.33" width="13.04" height="36.94" fill="#F1BAA7"/><rect x="937.33" y="1866.33" width="13.04" height="36.94" fill="#EEEEEE"/><rect x="950.02" y="1866.33" width="13.04" height="36.94" fill="#F1E0DB"/><rect x="962.71" y="1866.33" width="13.04" height="36.94" fill="#E8E1F0"/><rect x="975.40" y="1866.33" width="13.04" height="36.94" fill="#F1E5E2"/><rect x="988.09" y="1866.33" width="13.04" height="36.94" fill="#E7DDF0"/><rect x="1000.78" y="1866.33" width="13.04" height="36.94" fill="#CAA7F7"/><rect x="1013.47" y="1866.33" width="13.04" height="36.94" fill="#F1DDD6"/><rect x="1026.16" y="1866.33" width="13.04" height="36.94" fill="#D7BDF4"/><rect x="1038.85" y="1866.33" width="13.04" height="36.94" fill="#E3D5F1"/><rect x="1051.55" y="1866.33" width="13.04" height="36.94" fill="#DBC5F3"/><rect x="1064.24" y="1866.33" width="13.04" height="36.94" fill="#D1B2F5"/><rect x="1076.93" y="1866.33" width="13.04" height="36.94" fill="#D7BDF4"/><rect x="1089.62" y="1866.33" width="25.73" height="36.94" fill="#BC92F8"/><rect x="1115.00" y="1866.33" width="13.04" height="36.94" fill="#B488F9"/><rect x="1127.69" y="1866.33" width="13.04" height="36.94" fill="#DFCDF2"/><rect x="1140.38" y="1866.33" width="13.04" height="36.94" fill="#C39DF8"/><rect x="1153.07" y="1866.33" width="13.04" height="36.94" fill="#DFCDF2"/><rect x="1165.76" y="1866.33" width="13.04" height="36.94" fill="#E7DDF0"/><rect x="1178.45" y="1866.33" width="25.73" height="36.94" fill="#B488F9"/><rect x="1203.83" y="1866.33" width="13.04" height="36.94" fill="#BF96F8"/><rect x="1216.52" y="1866.33" width="25.73" height="36.94" fill="#B488F9"/><rect x="1241.90" y="1866.33" width="13.04" height="36.94" fill="#BC92F8"/><rect x="1254.59" y="1866.33" width="13.04" height="36.94" fill="#9968FC"/><rect x="1267.28" y="1866.33" width="25.73" height="36.94" fill="#B488F9"/><rect x="1292.66" y="1866.33" width="13.04" height="36.94" fill="#9968FC"/><rect x="1305.35" y="1866.33" width="13.04" height="36.94" fill="#D7BDF4"/><rect x="1318.04" y="1866.33" width="13.04" height="36.94" fill="#C39DF8"/><rect x="1330.73" y="1866.33" width="13.04" height="36.94" fill="#9968FC"/><rect x="1343.42" y="1866.33" width="13.04" height="36.94" fill="#B488F9"/><rect x="1356.11" y="1866.33" width="25.73" height="36.94" fill="#BC92F8"/><rect x="1381.49" y="1866.33" width="13.04" height="36.94" fill="#B488F9"/><rect x="1394.18" y="1866.33" width="13.04" height="36.94" fill="#9968FC"/><rect x="1406.87" y="1866.33" width="25.73" height="36.94" fill="#D1B2F5"/><rect x="1432.25" y="1866.33" width="13.04" height="36.94" fill="#AF81FA"/><rect x="1444.95" y="1866.33" width="13.04" height="36.94" fill="#D1B2F5"/><rect x="1457.64" y="1866.33" width="13.04" height="36.94" fill="#DFCDF2"/><rect x="1470.33" y="1866.33" width="13.04" height="36.94" fill="#D7BDF4"/><rect x="1483.02" y="1866.33" width="51.11" height="36.94" fill="#9968FC"/><rect x="1533.78" y="1866.33" width="13.04" height="36.94" fill="#F1C8BA"/><rect x="1546.47" y="1866.33" width="13.04" height="36.94" fill="#F1D4CA"/><rect x="1559.16" y="1866.33" width="25.73" height="36.94" fill="#E8E1F0"/><rect x="1584.54" y="1866.33" width="13.04" height="36.94" fill="#F1B7A2"/><rect x="1597.23" y="1866.33" width="13.04" height="36.94" fill="#D4B8F5"/><rect x="1609.92" y="1866.33" width="25.73" height="36.94" fill="#9968FC"/><rect x="61.70" y="1902.92" width="13.04" height="36.94" fill="#FE1D0B"/><rect x="74.39" y="1902.92" width="38.42" height="36.94" fill="#F85837"/><rect x="112.46" y="1902.92" width="25.73" height="36.94" fill="#F46E4E"/><rect x="137.84" y="1902.92" width="13.04" height="36.94" fill="#F75F3E"/><rect x="150.53" y="1902.92" width="13.04" height="36.94" fill="#F19072"/><rect x="163.22" y="1902.92" width="25.73" height="36.94" fill="#F19578"/><rect x="188.60" y="1902.92" width="13.04" height="36.94" fill="#F18B6C"/><rect x="201.29" y="1902.92" width="13.04" height="36.94" fill="#F19072"/><rect x="213.98" y="1902.92" width="13.04" height="36.94" fill="#F19578"/><rect x="226.67" y="1902.92" width="13.04" height="36.94" fill="#F19A7E"/><rect x="239.36" y="1902.92" width="13.04" height="36.94" fill="#F18364"/><rect x="252.05" y="1902.92" width="13.04" height="36.94" fill="#F19C81"/><rect x="264.75" y="1902.92" width="13.04" height="36.94" fill="#F1B19C"/><rect x="277.44" y="1902.92" width="13.04" height="36.94" fill="#F1BAA7"/><rect x="290.13" y="1902.92" width="25.73" height="36.94" fill="#F46E4E"/><rect x="315.51" y="1902.92" width="13.04" height="36.94" fill="#F75F3E"/><rect x="328.20" y="1902.92" width="13.04" height="36.94" fill="#F1A890"/><rect x="340.89" y="1902.92" width="13.04" height="36.94" fill="#F1B19C"/><rect x="353.58" y="1902.92" width="13.04" height="36.94" fill="#F1A890"/><rect x="366.27" y="1902.92" width="13.04" height="36.94" fill="#F18364"/><rect x="378.96" y="1902.92" width="25.73" height="36.94" fill="#F1B19C"/><rect x="404.34" y="1902.92" width="13.04" height="36.94" fill="#F19C81"/><rect x="417.03" y="1902.92" width="13.04" height="36.94" fill="#EEEEEE"/><rect x="429.72" y="1902.92" width="13.04" height="36.94" fill="#F1CFC3"/><rect x="442.41" y="1902.92" width="13.04" height="36.94" fill="#F1D9D1"/><rect x="455.10" y="1902.92" width="13.04" height="36.94" fill="#F1D4CA"/><rect x="467.79" y="1902.92" width="13.04" height="36.94" fill="#EBE6EF"/><rect x="480.48" y="1902.92" width="13.04" height="36.94" fill="#F1C3B3"/><rect x="493.17" y="1902.92" width="13.04" height="36.94" fill="#F1E9E7"/><rect x="505.86" y="1902.92" width="13.04" height="36.94" fill="#BC92F8"/><rect x="518.55" y="1902.92" width="13.04" height="36.94" fill="#C39DF8"/><rect x="531.24" y="1902.92" width="13.04" height="36.94" fill="#F1D4CA"/><rect x="543.93" y="1902.92" width="13.04" height="36.94" fill="#F1DDD6"/><rect x="556.62" y="1902.92" width="13.04" height="36.94" fill="#D7BDF4"/><rect x="569.31" y="1902.92" width="13.04" height="36.94" fill="#F1DDD6"/><rect x="582.00" y="1902.92" width="13.04" height="36.94" fill="#F1E0DB"/><rect x="594.69" y="1902.92" width="13.04" height="36.94" fill="#DBC5F3"/><rect x="607.38" y="1902.92" width="13.04" height="36.94" fill="#EEEEEE"/><rect x="620.07" y="1902.92" width="13.04" height="36.94" fill="#E5DAF1"/><rect x="632.76" y="1902.92" width="13.04" height="36.94" fill="#DFCDF2"/><rect x="645.45" y="1902.92" width="13.04" height="36.94" fill="#D7BDF4"/><rect x="658.15" y="1902.92" width="13.04" height="36.94" fill="#DDCAF3"/><rect x="670.84" y="1902.92" width="13.04" height="36.94" fill="#B488F9"/><rect x="683.53" y="1902.92" width="13.04" height="36.94" fill="#AB7DFA"/><rect x="696.22" y="1902.92" width="13.04" height="36.94" fill="#F18364"/><rect x="708.91" y="1902.92" width="13.04" height="36.94" fill="#F1A890"/><rect x="721.60" y="1902.92" width="13.04" height="36.94" fill="#F19578"/><rect x="734.29" y="1902.92" width="13.04" height="36.94" fill="#F1BAA7"/><rect x="746.98" y="1902.92" width="13.04" height="36.94" fill="#F1BEAC"/><rect x="759.67" y="1902.92" width="13.04" height="36.94" fill="#F1C8BA"/><rect x="772.36" y="1902.92" width="13.04" height="36.94" fill="#F1A890"/><rect x="785.05" y="1902.92" width="13.04" height="36.94" fill="#F1CCBE"/><rect x="797.74" y="1902.92" width="13.04" height="36.94" fill="#F1CFC3"/><rect x="810.43" y="1902.92" width="13.04" height="36.94" fill="#F1E0DB"/><rect x="823.12" y="1902.92" width="13.04" height="36.94" fill="#F1D9D1"/><rect x="835.81" y="1902.92" width="13.04" height="36.94" fill="#F1CFC3"/><rect x="848.50" y="1902.92" width="13.04" height="36.94" fill="#F1B19C"/><rect x="861.19" y="1902.92" width="13.04" height="36.94" fill="#F19072"/><rect x="873.88" y="1902.92" width="13.04" height="36.94" fill="#F1C3B3"/><rect x="886.57" y="1902.92" width="13.04" height="36.94" fill="#F1E5E2"/><rect x="899.26" y="1902.92" width="13.04" height="36.94" fill="#E3D5F1"/><rect x="911.95" y="1902.92" width="13.04" height="36.94" fill="#E8E1F0"/><rect x="924.64" y="1902.92" width="13.04" height="36.94" fill="#F1CFC3"/><rect x="937.33" y="1902.92" width="25.73" height="36.94" fill="#F1DDD6"/><rect x="962.71" y="1902.92" width="13.04" height="36.94" fill="#E3D5F1"/><rect x="975.40" y="1902.92" width="13.04" height="36.94" fill="#F1E9E7"/><rect x="988.09" y="1902.92" width="13.04" height="36.94" fill="#F1DDD6"/><rect x="1000.78" y="1902.92" width="13.04" height="36.94" fill="#C39DF8"/><rect x="1013.47" y="1902.92" width="13.04" height="36.94" fill="#DBC5F3"/><rect x="1026.16" y="1902.92" width="38.42" height="36.94" fill="#D7BDF4"/><rect x="1064.24" y="1902.92" width="25.73" height="36.94" fill="#CAA7F7"/><rect x="1089.62" y="1902.92" width="13.04" height="36.94" fill="#C39DF8"/><rect x="1102.31" y="1902.92" width="13.04" height="36.94" fill="#D7BDF4"/><rect x="1115.00" y="1902.92" width="13.04" height="36.94" fill="#B488F9"/><rect x="1127.69" y="1902.92" width="25.73" height="36.94" fill="#C39DF8"/><rect x="1153.07" y="1902.92" width="13.04" height="36.94" fill="#EEEEEE"/><rect x="1165.76" y="1902.92" width="13.04" height="36.94" fill="#D8C0F4"/><rect x="1178.45" y="1902.92" width="13.04" height="36.94" fill="#C39DF8"/><rect x="1191.14" y="1902.92" width="13.04" height="36.94" fill="#BF96F8"/><rect x="1203.83" y="1902.92" width="13.04" height="36.94" fill="#9968FC"/><rect x="1216.52" y="1902.92" width="13.04" height="36.94" fill="#B98EF9"/><rect x="1229.21" y="1902.92" width="13.04" height="36.94" fill="#9968FC"/><rect x="1241.90" y="1902.92" width="25.73" height="36.94" fill="#BF96F8"/><rect x="1267.28" y="1902.92" width="38.42" height="36.94" fill="#9968FC"/><rect x="1305.35" y="1902.92" width="13.04" height="36.94" fill="#CAA7F7"/><rect x="1318.04" y="1902.92" width="13.04" height="36.94" fill="#C39DF8"/><rect x="1330.73" y="1902.92" width="38.42" height="36.94" fill="#9968FC"/><rect x="1368.80" y="1902.92" width="13.04" height="36.94" fill="#C39DF8"/><rect x="1381.49" y="1902.92" width="25.73" height="36.94" fill="#9968FC"/><rect x="1406.87" y="1902.92" width="13.04" height="36.94" fill="#DDCAF3"/><rect x="1419.56" y="1902.92" width="13.04" height="36.94" fill="#C39DF8"/><rect x="1432.25" y="1902.92" width="13.04" height="36.94" fill="#AF81FA"/><rect x="1444.95" y="1902.92" width="25.73" height="36.94" fill="#D1B2F5"/><rect x="1470.33" y="1902.92" width="13.04" height="36.94" fill="#D4B8F5"/><rect x="1483.02" y="1902.92" width="51.11" height="36.94" fill="#9968FC"/><rect x="1533.78" y="1902.92" width="13.04" height="36.94" fill="#F1C3B3"/><rect x="1546.47" y="1902.92" width="13.04" height="36.94" fill="#F1E0DB"/><rect x="1559.16" y="1902.92" width="13.04" height="36.94" fill="#EEEEEE"/><rect x="1571.85" y="1902.92" width="13.04" height="36.94" fill="#EBE9EF"/><rect x="1584.54" y="1902.92" width="13.04" height="36.94" fill="#E5DAF1"/><rect x="1597.23" y="1902.92" width="13.04" height="36.94" fill="#D4B8F5"/><rect x="1609.92" y="1902.92" width="25.73" height="36.94" fill="#9968FC"/><rect x="61.70" y="1939.51" width="13.04" height="36.94" fill="#FE1D0B"/><rect x="74.39" y="1939.51" width="13.04" height="36.94" fill="#F66847"/><rect x="87.08" y="1939.51" width="13.04" height="36.94" fill="#F75F3E"/><rect x="99.77" y="1939.51" width="13.04" height="36.94" fill="#F85837"/><rect x="112.46" y="1939.51" width="13.04" height="36.94" fill="#F46E4E"/><rect x="125.15" y="1939.51" width="13.04" height="36.94" fill="#F75F3E"/><rect x="137.84" y="1939.51" width="13.04" height="36.94" fill="#F85837"/><rect x="150.53" y="1939.51" width="13.04" height="36.94" fill="#F19072"/><rect x="163.22" y="1939.51" width="13.04" height="36.94" fill="#F19C81"/><rect x="175.91" y="1939.51" width="13.04" height="36.94" fill="#F19578"/><rect x="188.60" y="1939.51" width="13.04" height="36.94" fill="#F19072"/><rect x="201.29" y="1939.51" width="13.04" height="36.94" fill="#F19578"/><rect x="213.98" y="1939.51" width="13.04" height="36.94" fill="#F19A7E"/><rect x="226.67" y="1939.51" width="13.04" height="36.94" fill="#F1A38A"/><rect x="239.36" y="1939.51" width="13.04" height="36.94" fill="#F19578"/><rect x="252.05" y="1939.51" width="13.04" height="36.94" fill="#F19C81"/><rect x="264.75" y="1939.51" width="13.04" height="36.94" fill="#F1A890"/><rect x="277.44" y="1939.51" width="13.04" height="36.94" fill="#F1BEAC"/><rect x="290.13" y="1939.51" width="13.04" height="36.94" fill="#F18364"/><rect x="302.82" y="1939.51" width="13.04" height="36.94" fill="#F27D5D"/><rect x="315.51" y="1939.51" width="13.04" height="36.94" fill="#F66847"/><rect x="328.20" y="1939.51" width="25.73" height="36.94" fill="#F1A890"/><rect x="353.58" y="1939.51" width="13.04" height="36.94" fill="#F18364"/><rect x="366.27" y="1939.51" width="13.04" height="36.94" fill="#F37959"/><rect x="378.96" y="1939.51" width="13.04" height="36.94" fill="#F1A38A"/><rect x="391.65" y="1939.51" width="13.04" height="36.94" fill="#F1A890"/><rect x="404.34" y="1939.51" width="13.04" height="36.94" fill="#F1A38A"/><rect x="417.03" y="1939.51" width="13.04" height="36.94" fill="#E7DDF0"/><rect x="429.72" y="1939.51" width="13.04" height="36.94" fill="#F1BAA7"/><rect x="442.41" y="1939.51" width="13.04" height="36.94" fill="#F1CFC3"/><rect x="455.10" y="1939.51" width="25.73" height="36.94" fill="#F1D4CA"/><rect x="480.48" y="1939.51" width="13.04" height="36.94" fill="#F1C8BA"/><rect x="493.17" y="1939.51" width="13.04" height="36.94" fill="#F1E0DB"/><rect x="505.86" y="1939.51" width="13.04" height="36.94" fill="#D1B2F5"/><rect x="518.55" y="1939.51" width="13.04" height="36.94" fill="#BC92F8"/><rect x="531.24" y="1939.51" width="13.04" height="36.94" fill="#F1CCBE"/><rect x="543.93" y="1939.51" width="13.04" height="36.94" fill="#E7DDF0"/><rect x="556.62" y="1939.51" width="13.04" height="36.94" fill="#D7BDF4"/><rect x="569.31" y="1939.51" width="13.04" height="36.94" fill="#EEEEEE"/><rect x="582.00" y="1939.51" width="13.04" height="36.94" fill="#F1E0DB"/><rect x="594.69" y="1939.51" width="13.04" height="36.94" fill="#E3D5F1"/><rect x="607.38" y="1939.51" width="13.04" height="36.94" fill="#EEEEEE"/><rect x="620.07" y="1939.51" width="13.04" height="36.94" fill="#D1B2F5"/><rect x="632.76" y="1939.51" width="13.04" height="36.94" fill="#B488F9"/><rect x="645.45" y="1939.51" width="13.04" height="36.94" fill="#DBC5F3"/><rect x="658.15" y="1939.51" width="13.04" height="36.94" fill="#AB7DFA"/><rect x="670.84" y="1939.51" width="25.73" height="36.94" fill="#BC92F8"/><rect x="696.22" y="1939.51" width="13.04" height="36.94" fill="#F1A38A"/><rect x="708.91" y="1939.51" width="13.04" height="36.94" fill="#F1AC95"/><rect x="721.60" y="1939.51" width="13.04" height="36.94" fill="#F19C81"/><rect x="734.29" y="1939.51" width="25.73" height="36.94" fill="#F1C3B3"/><rect x="759.67" y="1939.51" width="13.04" height="36.94" fill="#F1D9D1"/><rect x="772.36" y="1939.51" width="13.04" height="36.94" fill="#F1B19C"/><rect x="785.05" y="1939.51" width="13.04" height="36.94" fill="#F1D9D1"/><rect x="797.74" y="1939.51" width="13.04" height="36.94" fill="#F1E9E7"/><rect x="810.43" y="1939.51" width="13.04" height="36.94" fill="#F1CCBE"/><rect x="823.12" y="1939.51" width="13.04" height="36.94" fill="#F1C3B3"/><rect x="835.81" y="1939.51" width="13.04" height="36.94" fill="#F1E9E7"/><rect x="848.50" y="1939.51" width="13.04" height="36.94" fill="#F1B7A2"/><rect x="861.19" y="1939.51" width="13.04" height="36.94" fill="#F19072"/><rect x="873.88" y="1939.51" width="13.04" height="36.94" fill="#EEEEEE"/><rect x="886.57" y="1939.51" width="13.04" height="36.94" fill="#E8E1F0"/><rect x="899.26" y="1939.51" width="13.04" height="36.94" fill="#EEEEEE"/><rect x="911.95" y="1939.51" width="13.04" height="36.94" fill="#E5DAF1"/><rect x="924.64" y="1939.51" width="13.04" height="36.94" fill="#F1D4CA"/><rect x="937.33" y="1939.51" width="13.04" height="36.94" fill="#E7DDF0"/><rect x="950.02" y="1939.51" width="13.04" height="36.94" fill="#EEEEEE"/><rect x="962.71" y="1939.51" width="13.04" height="36.94" fill="#E1D0F2"/><rect x="975.40" y="1939.51" width="13.04" height="36.94" fill="#F1E5E2"/><rect x="988.09" y="1939.51" width="13.04" height="36.94" fill="#DFCDF2"/><rect x="1000.78" y="1939.51" width="13.04" height="36.94" fill="#DBC5F3"/><rect x="1013.47" y="1939.51" width="13.04" height="36.94" fill="#EBE6EF"/><rect x="1026.16" y="1939.51" width="13.04" height="36.94" fill="#AF81FA"/><rect x="1038.85" y="1939.51" width="13.04" height="36.94" fill="#E1D0F2"/><rect x="1051.55" y="1939.51" width="13.04" height="36.94" fill="#DFCDF2"/><rect x="1064.24" y="1939.51" width="25.73" height="36.94" fill="#DBC5F3"/><rect x="1089.62" y="1939.51" width="25.73" height="36.94" fill="#CAA7F7"/><rect x="1115.00" y="1939.51" width="13.04" height="36.94" fill="#BF96F8"/><rect x="1127.69" y="1939.51" width="13.04" height="36.94" fill="#BC92F8"/><rect x="1140.38" y="1939.51" width="13.04" height="36.94" fill="#B488F9"/><rect x="1153.07" y="1939.51" width="13.04" height="36.94" fill="#DFCDF2"/><rect x="1165.76" y="1939.51" width="13.04" height="36.94" fill="#D7BDF4"/><rect x="1178.45" y="1939.51" width="13.04" height="36.94" fill="#CAA7F7"/><rect x="1191.14" y="1939.51" width="13.04" height="36.94" fill="#BF96F8"/><rect x="1203.83" y="1939.51" width="13.04" height="36.94" fill="#D1B2F5"/><rect x="1216.52" y="1939.51" width="13.04" height="36.94" fill="#B488F9"/><rect x="1229.21" y="1939.51" width="25.73" height="36.94" fill="#9968FC"/><rect x="1254.59" y="1939.51" width="25.73" height="36.94" fill="#B488F9"/><rect x="1279.97" y="1939.51" width="25.73" height="36.94" fill="#9968FC"/><rect x="1305.35" y="1939.51" width="13.04" height="36.94" fill="#C39DF8"/><rect x="1318.04" y="1939.51" width="25.73" height="36.94" fill="#9968FC"/><rect x="1343.42" y="1939.51" width="13.04" height="36.94" fill="#B488F9"/><rect x="1356.11" y="1939.51" width="13.04" height="36.94" fill="#9968FC"/><rect x="1368.80" y="1939.51" width="13.04" height="36.94" fill="#B488F9"/><rect x="1381.49" y="1939.51" width="25.73" height="36.94" fill="#9968FC"/><rect x="1406.87" y="1939.51" width="13.04" height="36.94" fill="#D1B2F5"/><rect x="1419.56" y="1939.51" width="13.04" height="36.94" fill="#BC92F8"/><rect x="1432.25" y="1939.51" width="13.04" height="36.94" fill="#D4B8F5"/><rect x="1444.95" y="1939.51" width="13.04" height="36.94" fill="#C39DF8"/><rect x="1457.64" y="1939.51" width="13.04" height="36.94" fill="#DBC5F3"/><rect x="1470.33" y="1939.51" width="13.04" height="36.94" fill="#C39DF8"/><rect x="1483.02" y="1939.51" width="51.11" height="36.94" fill="#9968FC"/><rect x="1533.78" y="1939.51" width="25.73" height="36.94" fill="#F1D9D1"/><rect x="1559.16" y="1939.51" width="13.04" height="36.94" fill="#EEEEEE"/><rect x="1571.85" y="1939.51" width="13.04" height="36.94" fill="#DBC5F3"/><rect x="1584.54" y="1939.51" width="13.04" height="36.94" fill="#F1CCBE"/><rect x="1597.23" y="1939.51" width="13.04" height="36.94" fill="#E3D5F1"/><rect x="1609.92" y="1939.51" width="25.73" height="36.94" fill="#9968FC"/><rect x="61.70" y="1976.10" width="13.04" height="36.94" fill="#FC361C"/><rect x="74.39" y="1976.10" width="13.04" height="36.94" fill="#FD2D15"/><rect x="87.08" y="1976.10" width="38.42" height="36.94" fill="#FE1707"/><rect x="125.15" y="1976.10" width="13.04" height="36.94" fill="#F85837"/><rect x="137.84" y="1976.10" width="13.04" height="36.94" fill="#F66847"/><rect x="150.53" y="1976.10" width="13.04" height="36.94" fill="#FC3319"/><rect x="163.22" y="1976.10" width="13.04" height="36.94" fill="#FC361C"/><rect x="175.91" y="1976.10" width="25.73" height="36.94" fill="#FC3C20"/><rect x="201.29" y="1976.10" width="25.73" height="36.94" fill="#FA4B2C"/><rect x="226.67" y="1976.10" width="13.04" height="36.94" fill="#F95031"/><rect x="239.36" y="1976.10" width="25.73" height="36.94" fill="#F85837"/><rect x="264.75" y="1976.10" width="13.04" height="36.94" fill="#F75C3C"/><rect x="277.44" y="1976.10" width="13.04" height="36.94" fill="#F66343"/><rect x="290.13" y="1976.10" width="13.04" height="36.94" fill="#F19072"/><rect x="302.82" y="1976.10" width="13.04" height="36.94" fill="#F1A890"/><rect x="315.51" y="1976.10" width="13.04" height="36.94" fill="#F46E4E"/><rect x="328.20" y="1976.10" width="13.04" height="36.94" fill="#F19C81"/><rect x="340.89" y="1976.10" width="13.04" height="36.94" fill="#F1C3B3"/><rect x="353.58" y="1976.10" width="13.04" height="36.94" fill="#F1BEAC"/><rect x="366.27" y="1976.10" width="25.73" height="36.94" fill="#F1A38A"/><rect x="391.65" y="1976.10" width="13.04" height="36.94" fill="#F1BAA7"/><rect x="404.34" y="1976.10" width="13.04" height="36.94" fill="#F1DDD6"/><rect x="417.03" y="1976.10" width="13.04" height="36.94" fill="#F1BEAC"/><rect x="429.72" y="1976.10" width="25.73" height="36.94" fill="#F1CCBE"/><rect x="455.10" y="1976.10" width="13.04" height="36.94" fill="#F1CFC3"/><rect x="467.79" y="1976.10" width="13.04" height="36.94" fill="#F1CCBE"/><rect x="480.48" y="1976.10" width="25.73" height="36.94" fill="#EEEEEE"/><rect x="505.86" y="1976.10" width="13.04" height="36.94" fill="#C39DF8"/><rect x="518.55" y="1976.10" width="13.04" height="36.94" fill="#F1C3B3"/><rect x="531.24" y="1976.10" width="13.04" height="36.94" fill="#F1E9E7"/><rect x="543.93" y="1976.10" width="13.04" height="36.94" fill="#EEEEEE"/><rect x="556.62" y="1976.10" width="13.04" height="36.94" fill="#CAA7F7"/><rect x="569.31" y="1976.10" width="13.04" height="36.94" fill="#EEEEEE"/><rect x="582.00" y="1976.10" width="13.04" height="36.94" fill="#E3D5F1"/><rect x="594.69" y="1976.10" width="13.04" height="36.94" fill="#DFCDF2"/><rect x="607.38" y="1976.10" width="13.04" height="36.94" fill="#9968FC"/><rect x="620.07" y="1976.10" width="13.04" height="36.94" fill="#E7DDF0"/><rect x="632.76" y="1976.10" width="13.04" height="36.94" fill="#D8C0F4"/><rect x="645.45" y="1976.10" width="13.04" height="36.94" fill="#E5DAF1"/><rect x="658.15" y="1976.10" width="13.04" height="36.94" fill="#D7BDF4"/><rect x="670.84" y="1976.10" width="13.04" height="36.94" fill="#C39DF8"/><rect x="683.53" y="1976.10" width="13.04" height="36.94" fill="#DBC5F3"/><rect x="696.22" y="1976.10" width="13.04" height="36.94" fill="#F19072"/><rect x="708.91" y="1976.10" width="13.04" height="36.94" fill="#F1BAA7"/><rect x="721.60" y="1976.10" width="13.04" height="36.94" fill="#F1B19C"/><rect x="734.29" y="1976.10" width="13.04" height="36.94" fill="#F1BAA7"/><rect x="746.98" y="1976.10" width="13.04" height="36.94" fill="#F1E5E2"/><rect x="759.67" y="1976.10" width="13.04" height="36.94" fill="#F1CFC3"/><rect x="772.36" y="1976.10" width="13.04" height="36.94" fill="#F1AC95"/><rect x="785.05" y="1976.10" width="13.04" height="36.94" fill="#F1CFC3"/><rect x="797.74" y="1976.10" width="13.04" height="36.94" fill="#F1E5E2"/><rect x="810.43" y="1976.10" width="13.04" height="36.94" fill="#E8E1F0"/><rect x="823.12" y="1976.10" width="13.04" height="36.94" fill="#E3D5F1"/><rect x="835.81" y="1976.10" width="13.04" height="36.94" fill="#EEEEEE"/><rect x="848.50" y="1976.10" width="13.04" height="36.94" fill="#F19072"/><rect x="861.19" y="1976.10" width="13.04" height="36.94" fill="#F19C81"/><rect x="873.88" y="1976.10" width="13.04" height="36.94" fill="#F1CCBE"/><rect x="886.57" y="1976.10" width="13.04" height="36.94" fill="#F1CFC3"/><rect x="899.26" y="1976.10" width="13.04" height="36.94" fill="#F1B19C"/><rect x="911.95" y="1976.10" width="13.04" height="36.94" fill="#F1BAA7"/><rect x="924.64" y="1976.10" width="13.04" height="36.94" fill="#F1CCBE"/><rect x="937.33" y="1976.10" width="13.04" height="36.94" fill="#F19C81"/><rect x="950.02" y="1976.10" width="25.73" height="36.94" fill="#F1B19C"/><rect x="975.40" y="1976.10" width="13.04" height="36.94" fill="#F1E0DB"/><rect x="988.09" y="1976.10" width="13.04" height="36.94" fill="#E3D5F1"/><rect x="1000.78" y="1976.10" width="13.04" height="36.94" fill="#BC92F8"/><rect x="1013.47" y="1976.10" width="13.04" height="36.94" fill="#DFCDF2"/><rect x="1026.16" y="1976.10" width="13.04" height="36.94" fill="#E7DDF0"/><rect x="1038.85" y="1976.10" width="25.73" height="36.94" fill="#CAA7F7"/><rect x="1064.24" y="1976.10" width="13.04" height="36.94" fill="#E3D5F1"/><rect x="1076.93" y="1976.10" width="13.04" height="36.94" fill="#DFCDF2"/><rect x="1089.62" y="1976.10" width="13.04" height="36.94" fill="#DBC5F3"/><rect x="1102.31" y="1976.10" width="13.04" height="36.94" fill="#E3D5F1"/><rect x="1115.00" y="1976.10" width="13.04" height="36.94" fill="#CAA7F7"/><rect x="1127.69" y="1976.10" width="13.04" height="36.94" fill="#D1B2F5"/><rect x="1140.38" y="1976.10" width="13.04" height="36.94" fill="#BC92F8"/><rect x="1153.07" y="1976.10" width="13.04" height="36.94" fill="#D7BDF4"/><rect x="1165.76" y="1976.10" width="13.04" height="36.94" fill="#E3D5F1"/><rect x="1178.45" y="1976.10" width="13.04" height="36.94" fill="#C39DF8"/><rect x="1191.14" y="1976.10" width="13.04" height="36.94" fill="#BF96F8"/><rect x="1203.83" y="1976.10" width="13.04" height="36.94" fill="#CAA7F7"/><rect x="1216.52" y="1976.10" width="13.04" height="36.94" fill="#CDACF6"/><rect x="1229.21" y="1976.10" width="25.73" height="36.94" fill="#B98EF9"/><rect x="1254.59" y="1976.10" width="38.42" height="36.94" fill="#9968FC"/><rect x="1292.66" y="1976.10" width="13.04" height="36.94" fill="#B98EF9"/><rect x="1305.35" y="1976.10" width="13.04" height="36.94" fill="#9968FC"/><rect x="1318.04" y="1976.10" width="13.04" height="36.94" fill="#D1B2F5"/><rect x="1330.73" y="1976.10" width="13.04" height="36.94" fill="#BC92F8"/><rect x="1343.42" y="1976.10" width="13.04" height="36.94" fill="#C39DF8"/><rect x="1356.11" y="1976.10" width="25.73" height="36.94" fill="#BF96F8"/><rect x="1381.49" y="1976.10" width="25.73" height="36.94" fill="#9968FC"/><rect x="1406.87" y="1976.10" width="13.04" height="36.94" fill="#E1D0F2"/><rect x="1419.56" y="1976.10" width="13.04" height="36.94" fill="#D4B8F5"/><rect x="1432.25" y="1976.10" width="13.04" height="36.94" fill="#BF96F8"/><rect x="1444.95" y="1976.10" width="13.04" height="36.94" fill="#DBC5F3"/><rect x="1457.64" y="1976.10" width="13.04" height="36.94" fill="#BC92F8"/><rect x="1470.33" y="1976.10" width="13.04" height="36.94" fill="#C39DF8"/><rect x="1483.02" y="1976.10" width="51.11" height="36.94" fill="#9968FC"/><rect x="1533.78" y="1976.10" width="13.04" height="36.94" fill="#F1D4CA"/><rect x="1546.47" y="1976.10" width="13.04" height="36.94" fill="#F1E9E7"/><rect x="1559.16" y="1976.10" width="13.04" height="36.94" fill="#E1D0F2"/><rect x="1571.85" y="1976.10" width="13.04" height="36.94" fill="#D7BDF4"/><rect x="1584.54" y="1976.10" width="13.04" height="36.94" fill="#F1E0DB"/><rect x="1597.23" y="1976.10" width="13.04" height="36.94" fill="#BF96F8"/><rect x="1609.92" y="1976.10" width="25.73" height="36.94" fill="#9968FC"/><rect x="61.70" y="2012.69" width="13.04" height="36.94" fill="#FD2812"/><rect x="74.39" y="2012.69" width="13.04" height="36.94" fill="#FA4527"/><rect x="87.08" y="2012.69" width="25.73" height="36.94" fill="#FE1707"/><rect x="112.46" y="2012.69" width="13.04" height="36.94" fill="#FC3319"/><rect x="125.15" y="2012.69" width="13.04" height="36.94" fill="#F75F3E"/><rect x="137.84" y="2012.69" width="13.04" height="36.94" fill="#F66847"/><rect x="150.53" y="2012.69" width="13.04" height="36.94" fill="#FC3C20"/><rect x="163.22" y="2012.69" width="13.04" height="36.94" fill="#FA4B2C"/><rect x="175.91" y="2012.69" width="25.73" height="36.94" fill="#F95031"/><rect x="201.29" y="2012.69" width="25.73" height="36.94" fill="#F75F3E"/><rect x="226.67" y="2012.69" width="13.04" height="36.94" fill="#F66343"/><rect x="239.36" y="2012.69" width="13.04" height="36.94" fill="#F37554"/><rect x="252.05" y="2012.69" width="13.04" height="36.94" fill="#F66343"/><rect x="264.75" y="2012.69" width="13.04" height="36.94" fill="#F66847"/><rect x="277.44" y="2012.69" width="13.04" height="36.94" fill="#F37959"/><rect x="290.13" y="2012.69" width="25.73" height="36.94" fill="#F19072"/><rect x="315.51" y="2012.69" width="13.04" height="36.94" fill="#F46E4E"/><rect x="328.20" y="2012.69" width="13.04" height="36.94" fill="#F19C81"/><rect x="340.89" y="2012.69" width="13.04" height="36.94" fill="#F1B19C"/><rect x="353.58" y="2012.69" width="13.04" height="36.94" fill="#F19072"/><rect x="366.27" y="2012.69" width="13.04" height="36.94" fill="#F18364"/><rect x="378.96" y="2012.69" width="13.04" height="36.94" fill="#F19C81"/><rect x="391.65" y="2012.69" width="13.04" height="36.94" fill="#F1BAA7"/><rect x="404.34" y="2012.69" width="13.04" height="36.94" fill="#F1BEAC"/><rect x="417.03" y="2012.69" width="13.04" height="36.94" fill="#F1BAA7"/><rect x="429.72" y="2012.69" width="13.04" height="36.94" fill="#F1CCBE"/><rect x="442.41" y="2012.69" width="13.04" height="36.94" fill="#F1C3B3"/><rect x="455.10" y="2012.69" width="25.73" height="36.94" fill="#F1CCBE"/><rect x="480.48" y="2012.69" width="13.04" height="36.94" fill="#F1CFC3"/><rect x="493.17" y="2012.69" width="13.04" height="36.94" fill="#F1C8BA"/><rect x="505.86" y="2012.69" width="13.04" height="36.94" fill="#C39DF8"/><rect x="518.55" y="2012.69" width="13.04" height="36.94" fill="#F1CFC3"/><rect x="531.24" y="2012.69" width="13.04" height="36.94" fill="#F1DDD6"/><rect x="543.93" y="2012.69" width="13.04" height="36.94" fill="#F1E9E7"/><rect x="556.62" y="2012.69" width="13.04" height="36.94" fill="#E3D5F1"/><rect x="569.31" y="2012.69" width="13.04" height="36.94" fill="#EBE6EF"/><rect x="582.00" y="2012.69" width="25.73" height="36.94" fill="#E7DDF0"/><rect x="607.38" y="2012.69" width="13.04" height="36.94" fill="#DBC5F3"/><rect x="620.07" y="2012.69" width="25.73" height="36.94" fill="#E3D5F1"/><rect x="645.45" y="2012.69" width="13.04" height="36.94" fill="#E7DDF0"/><rect x="658.15" y="2012.69" width="13.04" height="36.94" fill="#DFCDF2"/><rect x="670.84" y="2012.69" width="13.04" height="36.94" fill="#DDCAF3"/><rect x="683.53" y="2012.69" width="13.04" height="36.94" fill="#E3D5F1"/><rect x="696.22" y="2012.69" width="13.04" height="36.94" fill="#F1A38A"/><rect x="708.91" y="2012.69" width="13.04" height="36.94" fill="#F1C3B3"/><rect x="721.60" y="2012.69" width="13.04" height="36.94" fill="#F1A38A"/><rect x="734.29" y="2012.69" width="13.04" height="36.94" fill="#F1BAA7"/><rect x="746.98" y="2012.69" width="13.04" height="36.94" fill="#F1CCBE"/><rect x="759.67" y="2012.69" width="13.04" height="36.94" fill="#F1DDD6"/><rect x="772.36" y="2012.69" width="13.04" height="36.94" fill="#F1B7A2"/><rect x="785.05" y="2012.69" width="13.04" height="36.94" fill="#F1D9D1"/><rect x="797.74" y="2012.69" width="13.04" height="36.94" fill="#E8E1F0"/><rect x="810.43" y="2012.69" width="13.04" height="36.94" fill="#F1C3B3"/><rect x="823.12" y="2012.69" width="13.04" height="36.94" fill="#E8E1F0"/><rect x="835.81" y="2012.69" width="13.04" height="36.94" fill="#EBE6EF"/><rect x="848.50" y="2012.69" width="13.04" height="36.94" fill="#F1B19C"/><rect x="861.19" y="2012.69" width="13.04" height="36.94" fill="#F1A890"/><rect x="873.88" y="2012.69" width="13.04" height="36.94" fill="#F1E9E7"/><rect x="886.57" y="2012.69" width="13.04" height="36.94" fill="#F1E0DB"/><rect x="899.26" y="2012.69" width="13.04" height="36.94" fill="#F1BAA7"/><rect x="911.95" y="2012.69" width="13.04" height="36.94" fill="#F1BEAC"/><rect x="924.64" y="2012.69" width="13.04" height="36.94" fill="#F1CCBE"/><rect x="937.33" y="2012.69" width="13.04" height="36.94" fill="#F1B7A2"/><rect x="950.02" y="2012.69" width="13.04" height="36.94" fill="#F1BAA7"/><rect x="962.71" y="2012.69" width="13.04" height="36.94" fill="#F1BEAC"/><rect x="975.40" y="2012.69" width="13.04" height="36.94" fill="#F1E0DB"/><rect x="988.09" y="2012.69" width="13.04" height="36.94" fill="#F0EBE9"/><rect x="1000.78" y="2012.69" width="13.04" height="36.94" fill="#D7BDF4"/><rect x="1013.47" y="2012.69" width="13.04" height="36.94" fill="#DFCDF2"/><rect x="1026.16" y="2012.69" width="13.04" height="36.94" fill="#EEEEEE"/><rect x="1038.85" y="2012.69" width="25.73" height="36.94" fill="#E7DDF0"/><rect x="1064.24" y="2012.69" width="13.04" height="36.94" fill="#DBC5F3"/><rect x="1076.93" y="2012.69" width="13.04" height="36.94" fill="#EBE6EF"/><rect x="1089.62" y="2012.69" width="13.04" height="36.94" fill="#D7BDF4"/><rect x="1102.31" y="2012.69" width="13.04" height="36.94" fill="#BC92F8"/><rect x="1115.00" y="2012.69" width="13.04" height="36.94" fill="#B488F9"/><rect x="1127.69" y="2012.69" width="13.04" height="36.94" fill="#DFCDF2"/><rect x="1140.38" y="2012.69" width="13.04" height="36.94" fill="#C39DF8"/><rect x="1153.07" y="2012.69" width="25.73" height="36.94" fill="#DFCDF2"/><rect x="1178.45" y="2012.69" width="13.04" height="36.94" fill="#C39DF8"/><rect x="1191.14" y="2012.69" width="13.04" height="36.94" fill="#BC92F8"/><rect x="1203.83" y="2012.69" width="13.04" height="36.94" fill="#CAA7F7"/><rect x="1216.52" y="2012.69" width="25.73" height="36.94" fill="#B98EF9"/><rect x="1241.90" y="2012.69" width="13.04" height="36.94" fill="#B488F9"/><rect x="1254.59" y="2012.69" width="51.11" height="36.94" fill="#9968FC"/><rect x="1305.35" y="2012.69" width="13.04" height="36.94" fill="#C39DF8"/><rect x="1318.04" y="2012.69" width="13.04" height="36.94" fill="#B488F9"/><rect x="1330.73" y="2012.69" width="13.04" height="36.94" fill="#9968FC"/><rect x="1343.42" y="2012.69" width="13.04" height="36.94" fill="#BC92F8"/><rect x="1356.11" y="2012.69" width="13.04" height="36.94" fill="#B488F9"/><rect x="1368.80" y="2012.69" width="13.04" height="36.94" fill="#9968FC"/><rect x="1381.49" y="2012.69" width="13.04" height="36.94" fill="#B488F9"/><rect x="1394.18" y="2012.69" width="13.04" height="36.94" fill="#9968FC"/><rect x="1406.87" y="2012.69" width="13.04" height="36.94" fill="#D1B2F5"/><rect x="1419.56" y="2012.69" width="13.04" height="36.94" fill="#D7BDF4"/><rect x="1432.25" y="2012.69" width="13.04" height="36.94" fill="#D4B8F5"/><rect x="1444.95" y="2012.69" width="13.04" height="36.94" fill="#D7BDF4"/><rect x="1457.64" y="2012.69" width="13.04" height="36.94" fill="#C8A3F7"/><rect x="1470.33" y="2012.69" width="13.04" height="36.94" fill="#D1B2F5"/><rect x="1483.02" y="2012.69" width="51.11" height="36.94" fill="#9968FC"/><rect x="1533.78" y="2012.69" width="13.04" height="36.94" fill="#F1CFC3"/><rect x="1546.47" y="2012.69" width="13.04" height="36.94" fill="#EBE6EF"/><rect x="1559.16" y="2012.69" width="13.04" height="36.94" fill="#EEEEEE"/><rect x="1571.85" y="2012.69" width="13.04" height="36.94" fill="#C39DF8"/><rect x="1584.54" y="2012.69" width="13.04" height="36.94" fill="#DFCDF2"/><rect x="1597.23" y="2012.69" width="13.04" height="36.94" fill="#C8A3F7"/><rect x="1609.92" y="2012.69" width="25.73" height="36.94" fill="#9968FC"/><rect x="61.70" y="2049.28" width="13.04" height="36.94" fill="#FD2F17"/><rect x="74.39" y="2049.28" width="13.04" height="36.94" fill="#FC3319"/><rect x="87.08" y="2049.28" width="38.42" height="36.94" fill="#FE1707"/><rect x="125.15" y="2049.28" width="13.04" height="36.94" fill="#F85837"/><rect x="137.84" y="2049.28" width="13.04" height="36.94" fill="#F66343"/><rect x="150.53" y="2049.28" width="13.04" height="36.94" fill="#FD2F17"/><rect x="163.22" y="2049.28" width="13.04" height="36.94" fill="#FC3319"/><rect x="175.91" y="2049.28" width="13.04" height="36.94" fill="#FC361C"/><rect x="188.60" y="2049.28" width="13.04" height="36.94" fill="#FC3319"/><rect x="201.29" y="2049.28" width="25.73" height="36.94" fill="#FC3C20"/><rect x="226.67" y="2049.28" width="13.04" height="36.94" fill="#FB4225"/><rect x="239.36" y="2049.28" width="25.73" height="36.94" fill="#FA4527"/><rect x="264.75" y="2049.28" width="13.04" height="36.94" fill="#FA4B2C"/><rect x="277.44" y="2049.28" width="13.04" height="36.94" fill="#F66343"/><rect x="290.13" y="2049.28" width="25.73" height="36.94" fill="#F19C81"/><rect x="315.51" y="2049.28" width="13.04" height="36.94" fill="#F66847"/><rect x="328.20" y="2049.28" width="13.04" height="36.94" fill="#F19072"/><rect x="340.89" y="2049.28" width="13.04" height="36.94" fill="#F1D9D1"/><rect x="353.58" y="2049.28" width="13.04" height="36.94" fill="#F1B19C"/><rect x="366.27" y="2049.28" width="13.04" height="36.94" fill="#F19072"/><rect x="378.96" y="2049.28" width="13.04" height="36.94" fill="#F19578"/><rect x="391.65" y="2049.28" width="13.04" height="36.94" fill="#F1BEAC"/><rect x="404.34" y="2049.28" width="13.04" height="36.94" fill="#F1D4CA"/><rect x="417.03" y="2049.28" width="13.04" height="36.94" fill="#F1CFC3"/><rect x="429.72" y="2049.28" width="13.04" height="36.94" fill="#F1D4CA"/><rect x="442.41" y="2049.28" width="13.04" height="36.94" fill="#F1D9D1"/><rect x="455.10" y="2049.28" width="25.73" height="36.94" fill="#F1CCBE"/><rect x="480.48" y="2049.28" width="13.04" height="36.94" fill="#EEEEEE"/><rect x="493.17" y="2049.28" width="25.73" height="36.94" fill="#E8E1F0"/><rect x="518.55" y="2049.28" width="13.04" height="36.94" fill="#F1D4CA"/><rect x="531.24" y="2049.28" width="13.04" height="36.94" fill="#EBE6EF"/><rect x="543.93" y="2049.28" width="13.04" height="36.94" fill="#F1E5E2"/><rect x="556.62" y="2049.28" width="13.04" height="36.94" fill="#D7BDF4"/><rect x="569.31" y="2049.28" width="13.04" height="36.94" fill="#EBE9EF"/><rect x="582.00" y="2049.28" width="13.04" height="36.94" fill="#E8E1F0"/><rect x="594.69" y="2049.28" width="13.04" height="36.94" fill="#DBC5F3"/><rect x="607.38" y="2049.28" width="13.04" height="36.94" fill="#CDACF6"/><rect x="620.07" y="2049.28" width="13.04" height="36.94" fill="#E7DDF0"/><rect x="632.76" y="2049.28" width="13.04" height="36.94" fill="#D7BDF4"/><rect x="645.45" y="2049.28" width="13.04" height="36.94" fill="#D8C0F4"/><rect x="658.15" y="2049.28" width="13.04" height="36.94" fill="#E8E1F0"/><rect x="670.84" y="2049.28" width="13.04" height="36.94" fill="#C39DF8"/><rect x="683.53" y="2049.28" width="13.04" height="36.94" fill="#CDACF6"/><rect x="696.22" y="2049.28" width="13.04" height="36.94" fill="#F19C81"/><rect x="708.91" y="2049.28" width="13.04" height="36.94" fill="#F1BAA7"/><rect x="721.60" y="2049.28" width="13.04" height="36.94" fill="#F1AC95"/><rect x="734.29" y="2049.28" width="13.04" height="36.94" fill="#F1C8BA"/><rect x="746.98" y="2049.28" width="13.04" height="36.94" fill="#F1CFC3"/><rect x="759.67" y="2049.28" width="13.04" height="36.94" fill="#F1D4CA"/><rect x="772.36" y="2049.28" width="13.04" height="36.94" fill="#F1B19C"/><rect x="785.05" y="2049.28" width="13.04" height="36.94" fill="#F1D4CA"/><rect x="797.74" y="2049.28" width="13.04" height="36.94" fill="#F1E0DB"/><rect x="810.43" y="2049.28" width="13.04" height="36.94" fill="#F1DDD6"/><rect x="823.12" y="2049.28" width="13.04" height="36.94" fill="#E7DDF0"/><rect x="835.81" y="2049.28" width="13.04" height="36.94" fill="#EBE6EF"/><rect x="848.50" y="2049.28" width="13.04" height="36.94" fill="#F18364"/><rect x="861.19" y="2049.28" width="13.04" height="36.94" fill="#F19C81"/><rect x="873.88" y="2049.28" width="25.73" height="36.94" fill="#F1DDD6"/><rect x="899.26" y="2049.28" width="25.73" height="36.94" fill="#F1B19C"/><rect x="924.64" y="2049.28" width="13.04" height="36.94" fill="#F1BAA7"/><rect x="937.33" y="2049.28" width="13.04" height="36.94" fill="#F1A890"/><rect x="950.02" y="2049.28" width="13.04" height="36.94" fill="#F1A38A"/><rect x="962.71" y="2049.28" width="13.04" height="36.94" fill="#F1AC95"/><rect x="975.40" y="2049.28" width="25.73" height="36.94" fill="#E8E1F0"/><rect x="1000.78" y="2049.28" width="13.04" height="36.94" fill="#D8C0F4"/><rect x="1013.47" y="2049.28" width="13.04" height="36.94" fill="#E8E1F0"/><rect x="1026.16" y="2049.28" width="13.04" height="36.94" fill="#E1D0F2"/><rect x="1038.85" y="2049.28" width="13.04" height="36.94" fill="#D7BDF4"/><rect x="1051.55" y="2049.28" width="13.04" height="36.94" fill="#D1B2F5"/><rect x="1064.24" y="2049.28" width="13.04" height="36.94" fill="#E1D0F2"/><rect x="1076.93" y="2049.28" width="13.04" height="36.94" fill="#D7BDF4"/><rect x="1089.62" y="2049.28" width="13.04" height="36.94" fill="#DBC5F3"/><rect x="1102.31" y="2049.28" width="25.73" height="36.94" fill="#B488F9"/><rect x="1127.69" y="2049.28" width="13.04" height="36.94" fill="#E3D5F1"/><rect x="1140.38" y="2049.28" width="13.04" height="36.94" fill="#BC92F8"/><rect x="1153.07" y="2049.28" width="13.04" height="36.94" fill="#CAA7F7"/><rect x="1165.76" y="2049.28" width="13.04" height="36.94" fill="#DBC5F3"/><rect x="1178.45" y="2049.28" width="13.04" height="36.94" fill="#C39DF8"/><rect x="1191.14" y="2049.28" width="13.04" height="36.94" fill="#B98EF9"/><rect x="1203.83" y="2049.28" width="13.04" height="36.94" fill="#C39DF8"/><rect x="1216.52" y="2049.28" width="13.04" height="36.94" fill="#9968FC"/><rect x="1229.21" y="2049.28" width="25.73" height="36.94" fill="#B98EF9"/><rect x="1254.59" y="2049.28" width="13.04" height="36.94" fill="#B488F9"/><rect x="1267.28" y="2049.28" width="38.42" height="36.94" fill="#9968FC"/><rect x="1305.35" y="2049.28" width="13.04" height="36.94" fill="#B488F9"/><rect x="1318.04" y="2049.28" width="13.04" height="36.94" fill="#BC92F8"/><rect x="1330.73" y="2049.28" width="38.42" height="36.94" fill="#9968FC"/><rect x="1368.80" y="2049.28" width="13.04" height="36.94" fill="#B488F9"/><rect x="1381.49" y="2049.28" width="25.73" height="36.94" fill="#9968FC"/><rect x="1406.87" y="2049.28" width="13.04" height="36.94" fill="#D1B2F5"/><rect x="1419.56" y="2049.28" width="13.04" height="36.94" fill="#D4B8F5"/><rect x="1432.25" y="2049.28" width="13.04" height="36.94" fill="#BC92F8"/><rect x="1444.95" y="2049.28" width="13.04" height="36.94" fill="#D8C0F4"/><rect x="1457.64" y="2049.28" width="13.04" height="36.94" fill="#B488F9"/><rect x="1470.33" y="2049.28" width="13.04" height="36.94" fill="#CAA7F7"/><rect x="1483.02" y="2049.28" width="51.11" height="36.94" fill="#9968FC"/><rect x="1533.78" y="2049.28" width="13.04" height="36.94" fill="#F1D4CA"/><rect x="1546.47" y="2049.28" width="13.04" height="36.94" fill="#EEEEEE"/><rect x="1559.16" y="2049.28" width="13.04" height="36.94" fill="#E1D0F2"/><rect x="1571.85" y="2049.28" width="13.04" height="36.94" fill="#DFCDF2"/><rect x="1584.54" y="2049.28" width="13.04" height="36.94" fill="#F1E5E2"/><rect x="1597.23" y="2049.28" width="13.04" height="36.94" fill="#B98EF9"/><rect x="1609.92" y="2049.28" width="13.04" height="36.94" fill="#B488F9"/><rect x="1622.61" y="2049.28" width="13.04" height="36.94" fill="#9968FC"/><rect x="61.70" y="2085.87" width="13.04" height="36.94" fill="#F1D4CA"/><rect x="74.39" y="2085.87" width="13.04" height="36.94" fill="#F19072"/><rect x="87.08" y="2085.87" width="13.04" height="36.94" fill="#F1C3B3"/><rect x="99.77" y="2085.87" width="13.04" height="36.94" fill="#F1CFC3"/><rect x="112.46" y="2085.87" width="13.04" height="36.94" fill="#EBE9EF"/><rect x="125.15" y="2085.87" width="13.04" height="36.94" fill="#EEEEEE"/><rect x="137.84" y="2085.87" width="13.04" height="36.94" fill="#E7DDF0"/><rect x="150.53" y="2085.87" width="13.04" height="36.94" fill="#F1E0DB"/><rect x="163.22" y="2085.87" width="13.04" height="36.94" fill="#F1CCBE"/><rect x="175.91" y="2085.87" width="13.04" height="36.94" fill="#F1E5E2"/><rect x="188.60" y="2085.87" width="13.04" height="36.94" fill="#EEEEEE"/><rect x="201.29" y="2085.87" width="25.73" height="36.94" fill="#ECEBEE"/><rect x="226.67" y="2085.87" width="13.04" height="36.94" fill="#F0EBE9"/><rect x="239.36" y="2085.87" width="13.04" height="36.94" fill="#F1B19C"/><rect x="252.05" y="2085.87" width="13.04" height="36.94" fill="#DFCDF2"/><rect x="264.75" y="2085.87" width="13.04" height="36.94" fill="#D8C0F4"/><rect x="277.44" y="2085.87" width="13.04" height="36.94" fill="#DDCAF3"/><rect x="290.13" y="2085.87" width="13.04" height="36.94" fill="#FC3C20"/><rect x="302.82" y="2085.87" width="13.04" height="36.94" fill="#F46E4E"/><rect x="315.51" y="2085.87" width="13.04" height="36.94" fill="#F1E0DB"/><rect x="328.20" y="2085.87" width="13.04" height="36.94" fill="#F1BAA7"/><rect x="340.89" y="2085.87" width="13.04" height="36.94" fill="#F1B19C"/><rect x="353.58" y="2085.87" width="13.04" height="36.94" fill="#EBE6EF"/><rect x="366.27" y="2085.87" width="13.04" height="36.94" fill="#F1BAA7"/><rect x="378.96" y="2085.87" width="25.73" height="36.94" fill="#F1C3B3"/><rect x="404.34" y="2085.87" width="13.04" height="36.94" fill="#E3D5F1"/><rect x="417.03" y="2085.87" width="13.04" height="36.94" fill="#F1B7A2"/><rect x="429.72" y="2085.87" width="13.04" height="36.94" fill="#E5DAF1"/><rect x="442.41" y="2085.87" width="13.04" height="36.94" fill="#EEEEEE"/><rect x="455.10" y="2085.87" width="13.04" height="36.94" fill="#E3D5F1"/><rect x="467.79" y="2085.87" width="13.04" height="36.94" fill="#D1B2F5"/><rect x="480.48" y="2085.87" width="13.04" height="36.94" fill="#D7BDF4"/><rect x="493.17" y="2085.87" width="13.04" height="36.94" fill="#FA4B2C"/><rect x="505.86" y="2085.87" width="13.04" height="36.94" fill="#F85837"/><rect x="518.55" y="2085.87" width="13.04" height="36.94" fill="#F18364"/><rect x="531.24" y="2085.87" width="13.04" height="36.94" fill="#E7DDF0"/><rect x="543.93" y="2085.87" width="13.04" height="36.94" fill="#F1BEAC"/><rect x="556.62" y="2085.87" width="13.04" height="36.94" fill="#F1CCBE"/><rect x="569.31" y="2085.87" width="13.04" height="36.94" fill="#F1DDD6"/><rect x="582.00" y="2085.87" width="13.04" height="36.94" fill="#DBC5F3"/><rect x="594.69" y="2085.87" width="13.04" height="36.94" fill="#B488F9"/><rect x="607.38" y="2085.87" width="13.04" height="36.94" fill="#E7DDF0"/><rect x="620.07" y="2085.87" width="13.04" height="36.94" fill="#F46E4E"/><rect x="632.76" y="2085.87" width="13.04" height="36.94" fill="#F37959"/><rect x="645.45" y="2085.87" width="13.04" height="36.94" fill="#F19072"/><rect x="658.15" y="2085.87" width="13.04" height="36.94" fill="#F27D5D"/><rect x="670.84" y="2085.87" width="13.04" height="36.94" fill="#F66343"/><rect x="683.53" y="2085.87" width="13.04" height="36.94" fill="#F27D5D"/><rect x="696.22" y="2085.87" width="13.04" height="36.94" fill="#F18364"/><rect x="708.91" y="2085.87" width="13.04" height="36.94" fill="#F1DDD6"/><rect x="721.60" y="2085.87" width="13.04" height="36.94" fill="#F1A890"/><rect x="734.29" y="2085.87" width="13.04" height="36.94" fill="#F37959"/><rect x="746.98" y="2085.87" width="13.04" height="36.94" fill="#F19C81"/><rect x="759.67" y="2085.87" width="25.73" height="36.94" fill="#F1C3B3"/><rect x="785.05" y="2085.87" width="13.04" height="36.94" fill="#9968FC"/><rect x="797.74" y="2085.87" width="13.04" height="36.94" fill="#CAA7F7"/><rect x="810.43" y="2085.87" width="13.04" height="36.94" fill="#C8A3F7"/><rect x="823.12" y="2085.87" width="13.04" height="36.94" fill="#C39DF8"/><rect x="835.81" y="2085.87" width="13.04" height="36.94" fill="#DBC5F3"/><rect x="848.50" y="2085.87" width="25.73" height="36.94" fill="#BC92F8"/><rect x="873.88" y="2085.87" width="13.04" height="36.94" fill="#B488F9"/><rect x="886.57" y="2085.87" width="13.04" height="36.94" fill="#9968FC"/><rect x="899.26" y="2085.87" width="13.04" height="36.94" fill="#C39DF8"/><rect x="911.95" y="2085.87" width="13.04" height="36.94" fill="#D1B2F5"/><rect x="924.64" y="2085.87" width="13.04" height="36.94" fill="#BC92F8"/><rect x="937.33" y="2085.87" width="13.04" height="36.94" fill="#B488F9"/><rect x="950.02" y="2085.87" width="25.73" height="36.94" fill="#9968FC"/><rect x="975.40" y="2085.87" width="13.04" height="36.94" fill="#F1E5E2"/><rect x="988.09" y="2085.87" width="13.04" height="36.94" fill="#C39DF8"/><rect x="1000.78" y="2085.87" width="13.04" height="36.94" fill="#B488F9"/><rect x="1013.47" y="2085.87" width="13.04" height="36.94" fill="#9968FC"/><rect x="1026.16" y="2085.87" width="13.04" height="36.94" fill="#BC92F8"/><rect x="1038.85" y="2085.87" width="13.04" height="36.94" fill="#B488F9"/><rect x="1051.55" y="2085.87" width="13.04" height="36.94" fill="#E8E1F0"/><rect x="1064.24" y="2085.87" width="13.04" height="36.94" fill="#D7BDF4"/><rect x="1076.93" y="2085.87" width="13.04" height="36.94" fill="#DBC5F3"/><rect x="1089.62" y="2085.87" width="13.04" height="36.94" fill="#9968FC"/><rect x="1102.31" y="2085.87" width="13.04" height="36.94" fill="#C39DF8"/><rect x="1115.00" y="2085.87" width="13.04" height="36.94" fill="#B488F9"/><rect x="1127.69" y="2085.87" width="25.73" height="36.94" fill="#F85837"/><rect x="1153.07" y="2085.87" width="13.04" height="36.94" fill="#F1D4CA"/><rect x="1165.76" y="2085.87" width="13.04" height="36.94" fill="#F1A890"/><rect x="1178.45" y="2085.87" width="13.04" height="36.94" fill="#F1DDD6"/><rect x="1191.14" y="2085.87" width="13.04" height="36.94" fill="#EEEEEE"/><rect x="1203.83" y="2085.87" width="13.04" height="36.94" fill="#D1B2F5"/><rect x="1216.52" y="2085.87" width="13.04" height="36.94" fill="#E3D5F1"/><rect x="1229.21" y="2085.87" width="13.04" height="36.94" fill="#D1B2F5"/><rect x="1241.90" y="2085.87" width="13.04" height="36.94" fill="#F18364"/><rect x="1254.59" y="2085.87" width="13.04" height="36.94" fill="#F37959"/><rect x="1267.28" y="2085.87" width="13.04" height="36.94" fill="#F66343"/><rect x="1279.97" y="2085.87" width="13.04" height="36.94" fill="#F18364"/><rect x="1292.66" y="2085.87" width="13.04" height="36.94" fill="#F1C3B3"/><rect x="1305.35" y="2085.87" width="13.04" height="36.94" fill="#F66343"/><rect x="1318.04" y="2085.87" width="13.04" height="36.94" fill="#F18364"/><rect x="1330.73" y="2085.87" width="13.04" height="36.94" fill="#F37959"/><rect x="1343.42" y="2085.87" width="13.04" height="36.94" fill="#F1C3B3"/><rect x="1356.11" y="2085.87" width="13.04" height="36.94" fill="#F18364"/><rect x="1368.80" y="2085.87" width="13.04" height="36.94" fill="#F1D9D1"/><rect x="1381.49" y="2085.87" width="13.04" height="36.94" fill="#F1DDD6"/><rect x="1394.18" y="2085.87" width="13.04" height="36.94" fill="#F1D4CA"/><rect x="1406.87" y="2085.87" width="13.04" height="36.94" fill="#F1B19C"/><rect x="1419.56" y="2085.87" width="13.04" height="36.94" fill="#EBE9EF"/><rect x="1432.25" y="2085.87" width="13.04" height="36.94" fill="#F1D9D1"/><rect x="1444.95" y="2085.87" width="13.04" height="36.94" fill="#F1E0DB"/><rect x="1457.64" y="2085.87" width="13.04" height="36.94" fill="#F1E9E7"/><rect x="1470.33" y="2085.87" width="13.04" height="36.94" fill="#F1B19C"/><rect x="1483.02" y="2085.87" width="13.04" height="36.94" fill="#F46E4E"/><rect x="1495.71" y="2085.87" width="13.04" height="36.94" fill="#F1DDD6"/><rect x="1508.40" y="2085.87" width="13.04" height="36.94" fill="#F1C8BA"/><rect x="1521.09" y="2085.87" width="13.04" height="36.94" fill="#E3D5F1"/><rect x="1533.78" y="2085.87" width="13.04" height="36.94" fill="#C8A3F7"/><rect x="1546.47" y="2085.87" width="13.04" height="36.94" fill="#DDCAF3"/><rect x="1559.16" y="2085.87" width="13.04" height="36.94" fill="#E3D5F1"/><rect x="1571.85" y="2085.87" width="13.04" height="36.94" fill="#BC92F8"/><rect x="1584.54" y="2085.87" width="13.04" height="36.94" fill="#C39DF8"/><rect x="1597.23" y="2085.87" width="25.73" height="36.94" fill="#9968FC"/><rect x="1622.61" y="2085.87" width="13.04" height="36.94" fill="#B488F9"/><rect x="61.70" y="2122.46" width="13.04" height="36.94" fill="#F1BAA7"/><rect x="74.39" y="2122.46" width="38.42" height="36.94" fill="#F19072"/><rect x="112.46" y="2122.46" width="13.04" height="36.94" fill="#F1BAA7"/><rect x="125.15" y="2122.46" width="13.04" height="36.94" fill="#D7BDF4"/><rect x="137.84" y="2122.46" width="13.04" height="36.94" fill="#BC92F8"/><rect x="150.53" y="2122.46" width="13.04" height="36.94" fill="#F1B19C"/><rect x="163.22" y="2122.46" width="13.04" height="36.94" fill="#F1A890"/><rect x="175.91" y="2122.46" width="13.04" height="36.94" fill="#F1C3B3"/><rect x="188.60" y="2122.46" width="25.73" height="36.94" fill="#F1BAA7"/><rect x="213.98" y="2122.46" width="13.04" height="36.94" fill="#F1BEAC"/><rect x="226.67" y="2122.46" width="13.04" height="36.94" fill="#F1C3B3"/><rect x="239.36" y="2122.46" width="13.04" height="36.94" fill="#F1B19C"/><rect x="252.05" y="2122.46" width="13.04" height="36.94" fill="#F1C3B3"/><rect x="264.75" y="2122.46" width="13.04" height="36.94" fill="#F1D4CA"/><rect x="277.44" y="2122.46" width="13.04" height="36.94" fill="#EEEEEE"/><rect x="290.13" y="2122.46" width="13.04" height="36.94" fill="#F85837"/><rect x="302.82" y="2122.46" width="13.04" height="36.94" fill="#F46E4E"/><rect x="315.51" y="2122.46" width="13.04" height="36.94" fill="#F1E0DB"/><rect x="328.20" y="2122.46" width="13.04" height="36.94" fill="#F1BEAC"/><rect x="340.89" y="2122.46" width="13.04" height="36.94" fill="#F1AC95"/><rect x="353.58" y="2122.46" width="13.04" height="36.94" fill="#E3D5F1"/><rect x="366.27" y="2122.46" width="13.04" height="36.94" fill="#F19C81"/><rect x="378.96" y="2122.46" width="25.73" height="36.94" fill="#F1C3B3"/><rect x="404.34" y="2122.46" width="13.04" height="36.94" fill="#F1E9E7"/><rect x="417.03" y="2122.46" width="13.04" height="36.94" fill="#F1B7A2"/><rect x="429.72" y="2122.46" width="13.04" height="36.94" fill="#F1D9D1"/><rect x="442.41" y="2122.46" width="13.04" height="36.94" fill="#EEEEEE"/><rect x="455.10" y="2122.46" width="13.04" height="36.94" fill="#E8E1F0"/><rect x="467.79" y="2122.46" width="13.04" height="36.94" fill="#E7DDF0"/><rect x="480.48" y="2122.46" width="13.04" height="36.94" fill="#EBE6EF"/><rect x="493.17" y="2122.46" width="13.04" height="36.94" fill="#F85837"/><rect x="505.86" y="2122.46" width="13.04" height="36.94" fill="#F66343"/><rect x="518.55" y="2122.46" width="13.04" height="36.94" fill="#F18364"/><rect x="531.24" y="2122.46" width="25.73" height="36.94" fill="#F1DDD6"/><rect x="556.62" y="2122.46" width="13.04" height="36.94" fill="#F1E0DB"/><rect x="569.31" y="2122.46" width="13.04" height="36.94" fill="#F1D9D1"/><rect x="582.00" y="2122.46" width="25.73" height="36.94" fill="#DFCDF2"/><rect x="607.38" y="2122.46" width="13.04" height="36.94" fill="#D7BDF4"/><rect x="620.07" y="2122.46" width="13.04" height="36.94" fill="#F66343"/><rect x="632.76" y="2122.46" width="13.04" height="36.94" fill="#F37554"/><rect x="645.45" y="2122.46" width="13.04" height="36.94" fill="#F19578"/><rect x="658.15" y="2122.46" width="13.04" height="36.94" fill="#F18B6C"/><rect x="670.84" y="2122.46" width="13.04" height="36.94" fill="#F46E4E"/><rect x="683.53" y="2122.46" width="13.04" height="36.94" fill="#F1A38A"/><rect x="696.22" y="2122.46" width="13.04" height="36.94" fill="#F19072"/><rect x="708.91" y="2122.46" width="13.04" height="36.94" fill="#F1CCBE"/><rect x="721.60" y="2122.46" width="13.04" height="36.94" fill="#F19C81"/><rect x="734.29" y="2122.46" width="13.04" height="36.94" fill="#F27D5D"/><rect x="746.98" y="2122.46" width="13.04" height="36.94" fill="#F1A38A"/><rect x="759.67" y="2122.46" width="13.04" height="36.94" fill="#F1AC95"/><rect x="772.36" y="2122.46" width="13.04" height="36.94" fill="#F1CCBE"/><rect x="785.05" y="2122.46" width="13.04" height="36.94" fill="#9968FC"/><rect x="797.74" y="2122.46" width="13.04" height="36.94" fill="#DBC5F3"/><rect x="810.43" y="2122.46" width="13.04" height="36.94" fill="#D1B2F5"/><rect x="823.12" y="2122.46" width="13.04" height="36.94" fill="#E1D0F2"/><rect x="835.81" y="2122.46" width="13.04" height="36.94" fill="#DBC5F3"/><rect x="848.50" y="2122.46" width="13.04" height="36.94" fill="#BC92F8"/><rect x="861.19" y="2122.46" width="13.04" height="36.94" fill="#AB7DFA"/><rect x="873.88" y="2122.46" width="25.73" height="36.94" fill="#9968FC"/><rect x="899.26" y="2122.46" width="13.04" height="36.94" fill="#DBC5F3"/><rect x="911.95" y="2122.46" width="13.04" height="36.94" fill="#D7BDF4"/><rect x="924.64" y="2122.46" width="13.04" height="36.94" fill="#B488F9"/><rect x="937.33" y="2122.46" width="13.04" height="36.94" fill="#C39DF8"/><rect x="950.02" y="2122.46" width="13.04" height="36.94" fill="#CAA7F7"/><rect x="962.71" y="2122.46" width="13.04" height="36.94" fill="#9968FC"/><rect x="975.40" y="2122.46" width="13.04" height="36.94" fill="#F1D4CA"/><rect x="988.09" y="2122.46" width="25.73" height="36.94" fill="#CAA7F7"/><rect x="1013.47" y="2122.46" width="13.04" height="36.94" fill="#9968FC"/><rect x="1026.16" y="2122.46" width="13.04" height="36.94" fill="#B488F9"/><rect x="1038.85" y="2122.46" width="13.04" height="36.94" fill="#C39DF8"/><rect x="1051.55" y="2122.46" width="25.73" height="36.94" fill="#DBC5F3"/><rect x="1076.93" y="2122.46" width="25.73" height="36.94" fill="#B488F9"/><rect x="1102.31" y="2122.46" width="13.04" height="36.94" fill="#D1B2F5"/><rect x="1115.00" y="2122.46" width="13.04" height="36.94" fill="#DFCDF2"/><rect x="1127.69" y="2122.46" width="25.73" height="36.94" fill="#F85837"/><rect x="1153.07" y="2122.46" width="13.04" height="36.94" fill="#F1C3B3"/><rect x="1165.76" y="2122.46" width="13.04" height="36.94" fill="#F1B19C"/><rect x="1178.45" y="2122.46" width="25.73" height="36.94" fill="#F1CCBE"/><rect x="1203.83" y="2122.46" width="13.04" height="36.94" fill="#DDCAF3"/><rect x="1216.52" y="2122.46" width="13.04" height="36.94" fill="#E7DDF0"/><rect x="1229.21" y="2122.46" width="13.04" height="36.94" fill="#DFCDF2"/><rect x="1241.90" y="2122.46" width="13.04" height="36.94" fill="#F37959"/><rect x="1254.59" y="2122.46" width="13.04" height="36.94" fill="#F46E4E"/><rect x="1267.28" y="2122.46" width="13.04" height="36.94" fill="#F66343"/><rect x="1279.97" y="2122.46" width="13.04" height="36.94" fill="#F19072"/><rect x="1292.66" y="2122.46" width="13.04" height="36.94" fill="#F1AC95"/><rect x="1305.35" y="2122.46" width="13.04" height="36.94" fill="#F37959"/><rect x="1318.04" y="2122.46" width="13.04" height="36.94" fill="#F19072"/><rect x="1330.73" y="2122.46" width="13.04" height="36.94" fill="#F37959"/><rect x="1343.42" y="2122.46" width="13.04" height="36.94" fill="#F1BEAC"/><rect x="1356.11" y="2122.46" width="13.04" height="36.94" fill="#F1E5E2"/><rect x="1368.80" y="2122.46" width="38.42" height="36.94" fill="#F1D4CA"/><rect x="1406.87" y="2122.46" width="13.04" height="36.94" fill="#F1B19C"/><rect x="1419.56" y="2122.46" width="13.04" height="36.94" fill="#EBE6EF"/><rect x="1432.25" y="2122.46" width="13.04" height="36.94" fill="#F1B7A2"/><rect x="1444.95" y="2122.46" width="13.04" height="36.94" fill="#F1D4CA"/><rect x="1457.64" y="2122.46" width="13.04" height="36.94" fill="#F1E9E7"/><rect x="1470.33" y="2122.46" width="13.04" height="36.94" fill="#F1B19C"/><rect x="1483.02" y="2122.46" width="13.04" height="36.94" fill="#F46E4E"/><rect x="1495.71" y="2122.46" width="13.04" height="36.94" fill="#F1D4CA"/><rect x="1508.40" y="2122.46" width="13.04" height="36.94" fill="#F1BEAC"/><rect x="1521.09" y="2122.46" width="13.04" height="36.94" fill="#EEEEEE"/><rect x="1533.78" y="2122.46" width="13.04" height="36.94" fill="#B488F9"/><rect x="1546.47" y="2122.46" width="13.04" height="36.94" fill="#F1E9E7"/><rect x="1559.16" y="2122.46" width="13.04" height="36.94" fill="#EEEEEE"/><rect x="1571.85" y="2122.46" width="13.04" height="36.94" fill="#BC92F8"/><rect x="1584.54" y="2122.46" width="13.04" height="36.94" fill="#D1B2F5"/><rect x="1597.23" y="2122.46" width="38.42" height="36.94" fill="#9968FC"/><rect x="61.70" y="2159.04" width="13.04" height="36.94" fill="#F1BAA7"/><rect x="74.39" y="2159.04" width="13.04" height="36.94" fill="#F19072"/><rect x="87.08" y="2159.04" width="13.04" height="36.94" fill="#F1CFC3"/><rect x="99.77" y="2159.04" width="13.04" height="36.94" fill="#F1D9D1"/><rect x="112.46" y="2159.04" width="38.42" height="36.94" fill="#DFCDF2"/><rect x="150.53" y="2159.04" width="25.73" height="36.94" fill="#E8E1F0"/><rect x="175.91" y="2159.04" width="13.04" height="36.94" fill="#EEEEEE"/><rect x="188.60" y="2159.04" width="13.04" height="36.94" fill="#E5DAF1"/><rect x="201.29" y="2159.04" width="13.04" height="36.94" fill="#E3D5F1"/><rect x="213.98" y="2159.04" width="13.04" height="36.94" fill="#E1D0F2"/><rect x="226.67" y="2159.04" width="13.04" height="36.94" fill="#E5DAF1"/><rect x="239.36" y="2159.04" width="13.04" height="36.94" fill="#F1CCBE"/><rect x="252.05" y="2159.04" width="13.04" height="36.94" fill="#E8E1F0"/><rect x="264.75" y="2159.04" width="13.04" height="36.94" fill="#D7BDF4"/><rect x="277.44" y="2159.04" width="13.04" height="36.94" fill="#CDACF6"/><rect x="290.13" y="2159.04" width="13.04" height="36.94" fill="#F75F3E"/><rect x="302.82" y="2159.04" width="13.04" height="36.94" fill="#F66847"/><rect x="315.51" y="2159.04" width="13.04" height="36.94" fill="#EEEEEE"/><rect x="328.20" y="2159.04" width="13.04" height="36.94" fill="#F1BEAC"/><rect x="340.89" y="2159.04" width="13.04" height="36.94" fill="#F19C81"/><rect x="353.58" y="2159.04" width="13.04" height="36.94" fill="#F1E9E7"/><rect x="366.27" y="2159.04" width="13.04" height="36.94" fill="#F19C81"/><rect x="378.96" y="2159.04" width="13.04" height="36.94" fill="#F1AC95"/><rect x="391.65" y="2159.04" width="13.04" height="36.94" fill="#F1A38A"/><rect x="404.34" y="2159.04" width="13.04" height="36.94" fill="#F1D9D1"/><rect x="417.03" y="2159.04" width="13.04" height="36.94" fill="#F1C3B3"/><rect x="429.72" y="2159.04" width="13.04" height="36.94" fill="#F1D4CA"/><rect x="442.41" y="2159.04" width="13.04" height="36.94" fill="#EBE6EF"/><rect x="455.10" y="2159.04" width="13.04" height="36.94" fill="#E5DAF1"/><rect x="467.79" y="2159.04" width="13.04" height="36.94" fill="#DFCDF2"/><rect x="480.48" y="2159.04" width="13.04" height="36.94" fill="#F1E5E2"/><rect x="493.17" y="2159.04" width="13.04" height="36.94" fill="#FA4B2C"/><rect x="505.86" y="2159.04" width="13.04" height="36.94" fill="#F37959"/><rect x="518.55" y="2159.04" width="13.04" height="36.94" fill="#F19072"/><rect x="531.24" y="2159.04" width="13.04" height="36.94" fill="#EBE6EF"/><rect x="543.93" y="2159.04" width="13.04" height="36.94" fill="#F1CCBE"/><rect x="556.62" y="2159.04" width="13.04" height="36.94" fill="#F1E0DB"/><rect x="569.31" y="2159.04" width="13.04" height="36.94" fill="#F1DDD6"/><rect x="582.00" y="2159.04" width="13.04" height="36.94" fill="#EBE6EF"/><rect x="594.69" y="2159.04" width="13.04" height="36.94" fill="#EEEEEE"/><rect x="607.38" y="2159.04" width="13.04" height="36.94" fill="#C39DF8"/><rect x="620.07" y="2159.04" width="13.04" height="36.94" fill="#F37554"/><rect x="632.76" y="2159.04" width="13.04" height="36.94" fill="#F18364"/><rect x="645.45" y="2159.04" width="13.04" height="36.94" fill="#F1B19C"/><rect x="658.15" y="2159.04" width="13.04" height="36.94" fill="#F19072"/><rect x="670.84" y="2159.04" width="13.04" height="36.94" fill="#F18364"/><rect x="683.53" y="2159.04" width="13.04" height="36.94" fill="#F1A890"/><rect x="696.22" y="2159.04" width="13.04" height="36.94" fill="#F19072"/><rect x="708.91" y="2159.04" width="13.04" height="36.94" fill="#F1BAA7"/><rect x="721.60" y="2159.04" width="25.73" height="36.94" fill="#F18364"/><rect x="746.98" y="2159.04" width="13.04" height="36.94" fill="#F19578"/><rect x="759.67" y="2159.04" width="13.04" height="36.94" fill="#F1AC95"/><rect x="772.36" y="2159.04" width="13.04" height="36.94" fill="#F1CCBE"/><rect x="785.05" y="2159.04" width="13.04" height="36.94" fill="#BC92F8"/><rect x="797.74" y="2159.04" width="13.04" height="36.94" fill="#DDCAF3"/><rect x="810.43" y="2159.04" width="13.04" height="36.94" fill="#D8C0F4"/><rect x="823.12" y="2159.04" width="13.04" height="36.94" fill="#E3D5F1"/><rect x="835.81" y="2159.04" width="13.04" height="36.94" fill="#DFCDF2"/><rect x="848.50" y="2159.04" width="25.73" height="36.94" fill="#BC92F8"/><rect x="873.88" y="2159.04" width="13.04" height="36.94" fill="#B488F9"/><rect x="886.57" y="2159.04" width="13.04" height="36.94" fill="#9968FC"/><rect x="899.26" y="2159.04" width="13.04" height="36.94" fill="#D8C0F4"/><rect x="911.95" y="2159.04" width="13.04" height="36.94" fill="#CDACF6"/><rect x="924.64" y="2159.04" width="13.04" height="36.94" fill="#C39DF8"/><rect x="937.33" y="2159.04" width="13.04" height="36.94" fill="#B98EF9"/><rect x="950.02" y="2159.04" width="13.04" height="36.94" fill="#9968FC"/><rect x="962.71" y="2159.04" width="13.04" height="36.94" fill="#B488F9"/><rect x="975.40" y="2159.04" width="13.04" height="36.94" fill="#F1D4CA"/><rect x="988.09" y="2159.04" width="13.04" height="36.94" fill="#DBC5F3"/><rect x="1000.78" y="2159.04" width="13.04" height="36.94" fill="#C39DF8"/><rect x="1013.47" y="2159.04" width="13.04" height="36.94" fill="#9968FC"/><rect x="1026.16" y="2159.04" width="13.04" height="36.94" fill="#BC92F8"/><rect x="1038.85" y="2159.04" width="13.04" height="36.94" fill="#9968FC"/><rect x="1051.55" y="2159.04" width="25.73" height="36.94" fill="#E5DAF1"/><rect x="1076.93" y="2159.04" width="13.04" height="36.94" fill="#9968FC"/><rect x="1089.62" y="2159.04" width="13.04" height="36.94" fill="#B488F9"/><rect x="1102.31" y="2159.04" width="13.04" height="36.94" fill="#CAA7F7"/><rect x="1115.00" y="2159.04" width="13.04" height="36.94" fill="#D1B2F5"/><rect x="1127.69" y="2159.04" width="13.04" height="36.94" fill="#F19072"/><rect x="1140.38" y="2159.04" width="13.04" height="36.94" fill="#F85837"/><rect x="1153.07" y="2159.04" width="13.04" height="36.94" fill="#F1C3B3"/><rect x="1165.76" y="2159.04" width="13.04" height="36.94" fill="#F1B19C"/><rect x="1178.45" y="2159.04" width="13.04" height="36.94" fill="#F1CCBE"/><rect x="1191.14" y="2159.04" width="13.04" height="36.94" fill="#F1CFC3"/><rect x="1203.83" y="2159.04" width="13.04" height="36.94" fill="#E5DAF1"/><rect x="1216.52" y="2159.04" width="13.04" height="36.94" fill="#CAA7F7"/><rect x="1229.21" y="2159.04" width="13.04" height="36.94" fill="#EEEEEE"/><rect x="1241.90" y="2159.04" width="13.04" height="36.94" fill="#F18364"/><rect x="1254.59" y="2159.04" width="13.04" height="36.94" fill="#F66847"/><rect x="1267.28" y="2159.04" width="13.04" height="36.94" fill="#F66343"/><rect x="1279.97" y="2159.04" width="13.04" height="36.94" fill="#F19072"/><rect x="1292.66" y="2159.04" width="13.04" height="36.94" fill="#F1BAA7"/><rect x="1305.35" y="2159.04" width="13.04" height="36.94" fill="#F19072"/><rect x="1318.04" y="2159.04" width="13.04" height="36.94" fill="#F1BAA7"/><rect x="1330.73" y="2159.04" width="13.04" height="36.94" fill="#F19072"/><rect x="1343.42" y="2159.04" width="13.04" height="36.94" fill="#F1BEAC"/><rect x="1356.11" y="2159.04" width="13.04" height="36.94" fill="#F1BAA7"/><rect x="1368.80" y="2159.04" width="13.04" height="36.94" fill="#F1CFC3"/><rect x="1381.49" y="2159.04" width="13.04" height="36.94" fill="#F1E9E7"/><rect x="1394.18" y="2159.04" width="13.04" height="36.94" fill="#F1D4CA"/><rect x="1406.87" y="2159.04" width="13.04" height="36.94" fill="#F1CCBE"/><rect x="1419.56" y="2159.04" width="13.04" height="36.94" fill="#E8E1F0"/><rect x="1432.25" y="2159.04" width="25.73" height="36.94" fill="#F1E5E2"/><rect x="1457.64" y="2159.04" width="13.04" height="36.94" fill="#EBE6EF"/><rect x="1470.33" y="2159.04" width="13.04" height="36.94" fill="#F1C8BA"/><rect x="1483.02" y="2159.04" width="13.04" height="36.94" fill="#F37959"/><rect x="1495.71" y="2159.04" width="13.04" height="36.94" fill="#EBE6EF"/><rect x="1508.40" y="2159.04" width="13.04" height="36.94" fill="#F1C3B3"/><rect x="1521.09" y="2159.04" width="13.04" height="36.94" fill="#DFCDF2"/><rect x="1533.78" y="2159.04" width="13.04" height="36.94" fill="#B488F9"/><rect x="1546.47" y="2159.04" width="13.04" height="36.94" fill="#D7BDF4"/><rect x="1559.16" y="2159.04" width="13.04" height="36.94" fill="#DDCAF3"/><rect x="1571.85" y="2159.04" width="13.04" height="36.94" fill="#BF96F8"/><rect x="1584.54" y="2159.04" width="25.73" height="36.94" fill="#B488F9"/><rect x="1609.92" y="2159.04" width="13.04" height="36.94" fill="#BC92F8"/><rect x="1622.61" y="2159.04" width="13.04" height="36.94" fill="#9968FC"/><rect x="61.70" y="2195.63" width="13.04" height="36.94" fill="#F1A890"/><rect x="74.39" y="2195.63" width="13.04" height="36.94" fill="#F1E5E2"/><rect x="87.08" y="2195.63" width="13.04" height="36.94" fill="#F1CFC3"/><rect x="99.77" y="2195.63" width="13.04" height="36.94" fill="#F1D4CA"/><rect x="112.46" y="2195.63" width="13.04" height="36.94" fill="#F1E9E7"/><rect x="125.15" y="2195.63" width="13.04" height="36.94" fill="#F1CFC3"/><rect x="137.84" y="2195.63" width="13.04" height="36.94" fill="#F1C8BA"/><rect x="150.53" y="2195.63" width="13.04" height="36.94" fill="#EBE6EF"/><rect x="163.22" y="2195.63" width="13.04" height="36.94" fill="#F1DDD6"/><rect x="175.91" y="2195.63" width="13.04" height="36.94" fill="#DFCDF2"/><rect x="188.60" y="2195.63" width="13.04" height="36.94" fill="#F1E9E7"/><rect x="201.29" y="2195.63" width="13.04" height="36.94" fill="#E7DDF0"/><rect x="213.98" y="2195.63" width="13.04" height="36.94" fill="#D7BDF4"/><rect x="226.67" y="2195.63" width="13.04" height="36.94" fill="#D8C0F4"/><rect x="239.36" y="2195.63" width="13.04" height="36.94" fill="#E8E1F0"/><rect x="252.05" y="2195.63" width="13.04" height="36.94" fill="#F1E0DB"/><rect x="264.75" y="2195.63" width="13.04" height="36.94" fill="#E3D5F1"/><rect x="277.44" y="2195.63" width="13.04" height="36.94" fill="#AB7DFA"/><rect x="290.13" y="2195.63" width="13.04" height="36.94" fill="#F66343"/><rect x="302.82" y="2195.63" width="13.04" height="36.94" fill="#F66847"/><rect x="315.51" y="2195.63" width="13.04" height="36.94" fill="#F1B19C"/><rect x="328.20" y="2195.63" width="13.04" height="36.94" fill="#F1A890"/><rect x="340.89" y="2195.63" width="13.04" height="36.94" fill="#F19C81"/><rect x="353.58" y="2195.63" width="13.04" height="36.94" fill="#F1DDD6"/><rect x="366.27" y="2195.63" width="13.04" height="36.94" fill="#E7DDF0"/><rect x="378.96" y="2195.63" width="25.73" height="36.94" fill="#F1E5E2"/><rect x="404.34" y="2195.63" width="13.04" height="36.94" fill="#F1BEAC"/><rect x="417.03" y="2195.63" width="13.04" height="36.94" fill="#F1C8BA"/><rect x="429.72" y="2195.63" width="13.04" height="36.94" fill="#F1CCBE"/><rect x="442.41" y="2195.63" width="13.04" height="36.94" fill="#DFCDF2"/><rect x="455.10" y="2195.63" width="13.04" height="36.94" fill="#EBE6EF"/><rect x="467.79" y="2195.63" width="25.73" height="36.94" fill="#EEEEEE"/><rect x="493.17" y="2195.63" width="13.04" height="36.94" fill="#F37959"/><rect x="505.86" y="2195.63" width="13.04" height="36.94" fill="#F18364"/><rect x="518.55" y="2195.63" width="13.04" height="36.94" fill="#F37959"/><rect x="531.24" y="2195.63" width="13.04" height="36.94" fill="#F1C8BA"/><rect x="543.93" y="2195.63" width="13.04" height="36.94" fill="#F1B19C"/><rect x="556.62" y="2195.63" width="13.04" height="36.94" fill="#F37959"/><rect x="569.31" y="2195.63" width="13.04" height="36.94" fill="#EBE9EF"/><rect x="582.00" y="2195.63" width="13.04" height="36.94" fill="#E5DAF1"/><rect x="594.69" y="2195.63" width="13.04" height="36.94" fill="#F1B19C"/><rect x="607.38" y="2195.63" width="13.04" height="36.94" fill="#F1BAA7"/><rect x="620.07" y="2195.63" width="13.04" height="36.94" fill="#F1CCBE"/><rect x="632.76" y="2195.63" width="13.04" height="36.94" fill="#F1CFC3"/><rect x="645.45" y="2195.63" width="13.04" height="36.94" fill="#EBE9EF"/><rect x="658.15" y="2195.63" width="25.73" height="36.94" fill="#E3D5F1"/><rect x="683.53" y="2195.63" width="13.04" height="36.94" fill="#E5DAF1"/><rect x="696.22" y="2195.63" width="13.04" height="36.94" fill="#F1A890"/><rect x="708.91" y="2195.63" width="13.04" height="36.94" fill="#F1D4CA"/><rect x="721.60" y="2195.63" width="13.04" height="36.94" fill="#F1A890"/><rect x="734.29" y="2195.63" width="13.04" height="36.94" fill="#F19578"/><rect x="746.98" y="2195.63" width="13.04" height="36.94" fill="#F19C81"/><rect x="759.67" y="2195.63" width="13.04" height="36.94" fill="#F1A890"/><rect x="772.36" y="2195.63" width="13.04" height="36.94" fill="#F1A38A"/><rect x="785.05" y="2195.63" width="13.04" height="36.94" fill="#F18364"/><rect x="797.74" y="2195.63" width="13.04" height="36.94" fill="#F1D4CA"/><rect x="810.43" y="2195.63" width="13.04" height="36.94" fill="#F1BEAC"/><rect x="823.12" y="2195.63" width="13.04" height="36.94" fill="#F1D4CA"/><rect x="835.81" y="2195.63" width="13.04" height="36.94" fill="#F1CFC3"/><rect x="848.50" y="2195.63" width="13.04" height="36.94" fill="#BC92F8"/><rect x="861.19" y="2195.63" width="13.04" height="36.94" fill="#D7BDF4"/><rect x="873.88" y="2195.63" width="13.04" height="36.94" fill="#CAA7F7"/><rect x="886.57" y="2195.63" width="25.73" height="36.94" fill="#BC92F8"/><rect x="911.95" y="2195.63" width="13.04" height="36.94" fill="#D1B2F5"/><rect x="924.64" y="2195.63" width="51.11" height="36.94" fill="#9968FC"/><rect x="975.40" y="2195.63" width="13.04" height="36.94" fill="#CAA7F7"/><rect x="988.09" y="2195.63" width="38.42" height="36.94" fill="#9968FC"/><rect x="1026.16" y="2195.63" width="25.73" height="36.94" fill="#EEEEEE"/><rect x="1051.55" y="2195.63" width="13.04" height="36.94" fill="#F1E9E7"/><rect x="1064.24" y="2195.63" width="13.04" height="36.94" fill="#9968FC"/><rect x="1076.93" y="2195.63" width="25.73" height="36.94" fill="#D1B2F5"/><rect x="1102.31" y="2195.63" width="13.04" height="36.94" fill="#C39DF8"/><rect x="1115.00" y="2195.63" width="13.04" height="36.94" fill="#CAA7F7"/><rect x="1127.69" y="2195.63" width="13.04" height="36.94" fill="#F37959"/><rect x="1140.38" y="2195.63" width="13.04" height="36.94" fill="#F66343"/><rect x="1153.07" y="2195.63" width="25.73" height="36.94" fill="#F37959"/><rect x="1178.45" y="2195.63" width="25.73" height="36.94" fill="#F18364"/><rect x="1203.83" y="2195.63" width="13.04" height="36.94" fill="#F1BAA7"/><rect x="1216.52" y="2195.63" width="13.04" height="36.94" fill="#F19C81"/><rect x="1229.21" y="2195.63" width="13.04" height="36.94" fill="#F1D9D1"/><rect x="1241.90" y="2195.63" width="13.04" height="36.94" fill="#F1A890"/><rect x="1254.59" y="2195.63" width="13.04" height="36.94" fill="#F37959"/><rect x="1267.28" y="2195.63" width="13.04" height="36.94" fill="#F19578"/><rect x="1279.97" y="2195.63" width="13.04" height="36.94" fill="#F1B19C"/><rect x="1292.66" y="2195.63" width="13.04" height="36.94" fill="#F19072"/><rect x="1305.35" y="2195.63" width="25.73" height="36.94" fill="#F1E9E7"/><rect x="1330.73" y="2195.63" width="13.04" height="36.94" fill="#E7DDF0"/><rect x="1343.42" y="2195.63" width="13.04" height="36.94" fill="#F1C8BA"/><rect x="1356.11" y="2195.63" width="13.04" height="36.94" fill="#F1D9D1"/><rect x="1368.80" y="2195.63" width="13.04" height="36.94" fill="#EEEEEE"/><rect x="1381.49" y="2195.63" width="13.04" height="36.94" fill="#F1B7A2"/><rect x="1394.18" y="2195.63" width="13.04" height="36.94" fill="#F1D4CA"/><rect x="1406.87" y="2195.63" width="38.42" height="36.94" fill="#9968FC"/><rect x="1444.95" y="2195.63" width="13.04" height="36.94" fill="#CDACF6"/><rect x="1457.64" y="2195.63" width="13.04" height="36.94" fill="#BF96F8"/><rect x="1470.33" y="2195.63" width="63.80" height="36.94" fill="#9968FC"/><rect x="1533.78" y="2195.63" width="13.04" height="36.94" fill="#C39DF8"/><rect x="1546.47" y="2195.63" width="25.73" height="36.94" fill="#9968FC"/><rect x="1571.85" y="2195.63" width="13.04" height="36.94" fill="#BF96F8"/><rect x="1584.54" y="2195.63" width="13.04" height="36.94" fill="#9968FC"/><rect x="1597.23" y="2195.63" width="13.04" height="36.94" fill="#F1E5E2"/><rect x="1609.92" y="2195.63" width="13.04" height="36.94" fill="#EEEEEE"/><rect x="1622.61" y="2195.63" width="13.04" height="36.94" fill="#F1DDD6"/><rect x="61.70" y="2232.22" width="13.04" height="36.94" fill="#F19C81"/><rect x="74.39" y="2232.22" width="13.04" height="36.94" fill="#F1CFC3"/><rect x="87.08" y="2232.22" width="13.04" height="36.94" fill="#F1B19C"/><rect x="99.77" y="2232.22" width="13.04" height="36.94" fill="#F1BEAC"/><rect x="112.46" y="2232.22" width="13.04" height="36.94" fill="#F1E9E7"/><rect x="125.15" y="2232.22" width="13.04" height="36.94" fill="#CAA7F7"/><rect x="137.84" y="2232.22" width="13.04" height="36.94" fill="#E7DDF0"/><rect x="150.53" y="2232.22" width="13.04" height="36.94" fill="#F1E9E7"/><rect x="163.22" y="2232.22" width="25.73" height="36.94" fill="#F0EBE9"/><rect x="188.60" y="2232.22" width="13.04" height="36.94" fill="#F1E9E7"/><rect x="201.29" y="2232.22" width="13.04" height="36.94" fill="#F1E5E2"/><rect x="213.98" y="2232.22" width="13.04" height="36.94" fill="#EBE6EF"/><rect x="226.67" y="2232.22" width="13.04" height="36.94" fill="#E8E1F0"/><rect x="239.36" y="2232.22" width="13.04" height="36.94" fill="#E7DDF0"/><rect x="252.05" y="2232.22" width="13.04" height="36.94" fill="#F1D4CA"/><rect x="264.75" y="2232.22" width="13.04" height="36.94" fill="#EBE9EF"/><rect x="277.44" y="2232.22" width="13.04" height="36.94" fill="#DBC5F3"/><rect x="290.13" y="2232.22" width="13.04" height="36.94" fill="#F66847"/><rect x="302.82" y="2232.22" width="13.04" height="36.94" fill="#F66343"/><rect x="315.51" y="2232.22" width="13.04" height="36.94" fill="#F1A890"/><rect x="328.20" y="2232.22" width="25.73" height="36.94" fill="#F19072"/><rect x="353.58" y="2232.22" width="13.04" height="36.94" fill="#EBE6EF"/><rect x="366.27" y="2232.22" width="13.04" height="36.94" fill="#E1D0F2"/><rect x="378.96" y="2232.22" width="13.04" height="36.94" fill="#C39DF8"/><rect x="391.65" y="2232.22" width="13.04" height="36.94" fill="#D1B2F5"/><rect x="404.34" y="2232.22" width="13.04" height="36.94" fill="#F18364"/><rect x="417.03" y="2232.22" width="13.04" height="36.94" fill="#F1BEAC"/><rect x="429.72" y="2232.22" width="13.04" height="36.94" fill="#F1C8BA"/><rect x="442.41" y="2232.22" width="13.04" height="36.94" fill="#F1E9E7"/><rect x="455.10" y="2232.22" width="13.04" height="36.94" fill="#F0EBE9"/><rect x="467.79" y="2232.22" width="13.04" height="36.94" fill="#EEEEEE"/><rect x="480.48" y="2232.22" width="13.04" height="36.94" fill="#F1D9D1"/><rect x="493.17" y="2232.22" width="13.04" height="36.94" fill="#F37959"/><rect x="505.86" y="2232.22" width="13.04" height="36.94" fill="#F66847"/><rect x="518.55" y="2232.22" width="13.04" height="36.94" fill="#F46E4E"/><rect x="531.24" y="2232.22" width="13.04" height="36.94" fill="#F19C81"/><rect x="543.93" y="2232.22" width="13.04" height="36.94" fill="#F1C3B3"/><rect x="556.62" y="2232.22" width="13.04" height="36.94" fill="#F37959"/><rect x="569.31" y="2232.22" width="13.04" height="36.94" fill="#ECEBEE"/><rect x="582.00" y="2232.22" width="13.04" height="36.94" fill="#E8E1F0"/><rect x="594.69" y="2232.22" width="13.04" height="36.94" fill="#F1BAA7"/><rect x="607.38" y="2232.22" width="13.04" height="36.94" fill="#F1CCBE"/><rect x="620.07" y="2232.22" width="13.04" height="36.94" fill="#F1BAA7"/><rect x="632.76" y="2232.22" width="13.04" height="36.94" fill="#F1E9E7"/><rect x="645.45" y="2232.22" width="13.04" height="36.94" fill="#EBE9EF"/><rect x="658.15" y="2232.22" width="13.04" height="36.94" fill="#D4B8F5"/><rect x="670.84" y="2232.22" width="13.04" height="36.94" fill="#F1D9D1"/><rect x="683.53" y="2232.22" width="13.04" height="36.94" fill="#F1B7A2"/><rect x="696.22" y="2232.22" width="13.04" height="36.94" fill="#F1A890"/><rect x="708.91" y="2232.22" width="13.04" height="36.94" fill="#F1CCBE"/><rect x="721.60" y="2232.22" width="13.04" height="36.94" fill="#F1AC95"/><rect x="734.29" y="2232.22" width="13.04" height="36.94" fill="#F19C81"/><rect x="746.98" y="2232.22" width="13.04" height="36.94" fill="#F1A38A"/><rect x="759.67" y="2232.22" width="25.73" height="36.94" fill="#F19C81"/><rect x="785.05" y="2232.22" width="13.04" height="36.94" fill="#F37959"/><rect x="797.74" y="2232.22" width="13.04" height="36.94" fill="#F1B7A2"/><rect x="810.43" y="2232.22" width="13.04" height="36.94" fill="#F1CCBE"/><rect x="823.12" y="2232.22" width="25.73" height="36.94" fill="#F1BAA7"/><rect x="848.50" y="2232.22" width="13.04" height="36.94" fill="#D7BDF4"/><rect x="861.19" y="2232.22" width="13.04" height="36.94" fill="#DFCDF2"/><rect x="873.88" y="2232.22" width="13.04" height="36.94" fill="#E3D5F1"/><rect x="886.57" y="2232.22" width="13.04" height="36.94" fill="#C39DF8"/><rect x="899.26" y="2232.22" width="38.42" height="36.94" fill="#9968FC"/><rect x="937.33" y="2232.22" width="13.04" height="36.94" fill="#B488F9"/><rect x="950.02" y="2232.22" width="25.73" height="36.94" fill="#9968FC"/><rect x="975.40" y="2232.22" width="13.04" height="36.94" fill="#C39DF8"/><rect x="988.09" y="2232.22" width="13.04" height="36.94" fill="#C8A3F7"/><rect x="1000.78" y="2232.22" width="25.73" height="36.94" fill="#9968FC"/><rect x="1026.16" y="2232.22" width="13.04" height="36.94" fill="#EEEEEE"/><rect x="1038.85" y="2232.22" width="13.04" height="36.94" fill="#DFCDF2"/><rect x="1051.55" y="2232.22" width="25.73" height="36.94" fill="#DBC5F3"/><rect x="1076.93" y="2232.22" width="13.04" height="36.94" fill="#C39DF8"/><rect x="1089.62" y="2232.22" width="13.04" height="36.94" fill="#CAA7F7"/><rect x="1102.31" y="2232.22" width="13.04" height="36.94" fill="#DFCDF2"/><rect x="1115.00" y="2232.22" width="13.04" height="36.94" fill="#B488F9"/><rect x="1127.69" y="2232.22" width="13.04" height="36.94" fill="#F19072"/><rect x="1140.38" y="2232.22" width="13.04" height="36.94" fill="#F66343"/><rect x="1153.07" y="2232.22" width="25.73" height="36.94" fill="#F46E4E"/><rect x="1178.45" y="2232.22" width="13.04" height="36.94" fill="#F19072"/><rect x="1191.14" y="2232.22" width="13.04" height="36.94" fill="#F27D5D"/><rect x="1203.83" y="2232.22" width="13.04" height="36.94" fill="#F19072"/><rect x="1216.52" y="2232.22" width="13.04" height="36.94" fill="#F18B6C"/><rect x="1229.21" y="2232.22" width="13.04" height="36.94" fill="#F1A890"/><rect x="1241.90" y="2232.22" width="25.73" height="36.94" fill="#F18364"/><rect x="1267.28" y="2232.22" width="13.04" height="36.94" fill="#F1AC95"/><rect x="1279.97" y="2232.22" width="13.04" height="36.94" fill="#F1B19C"/><rect x="1292.66" y="2232.22" width="13.04" height="36.94" fill="#F37959"/><rect x="1305.35" y="2232.22" width="25.73" height="36.94" fill="#F1DDD6"/><rect x="1330.73" y="2232.22" width="13.04" height="36.94" fill="#EEEEEE"/><rect x="1343.42" y="2232.22" width="25.73" height="36.94" fill="#F1B19C"/><rect x="1368.80" y="2232.22" width="13.04" height="36.94" fill="#F1B7A2"/><rect x="1381.49" y="2232.22" width="13.04" height="36.94" fill="#F1A890"/><rect x="1394.18" y="2232.22" width="13.04" height="36.94" fill="#F1D4CA"/><rect x="1406.87" y="2232.22" width="13.04" height="36.94" fill="#DBC5F3"/><rect x="1419.56" y="2232.22" width="13.04" height="36.94" fill="#BC92F8"/><rect x="1432.25" y="2232.22" width="13.04" height="36.94" fill="#D1B2F5"/><rect x="1444.95" y="2232.22" width="25.73" height="36.94" fill="#BC92F8"/><rect x="1470.33" y="2232.22" width="25.73" height="36.94" fill="#9968FC"/><rect x="1495.71" y="2232.22" width="13.04" height="36.94" fill="#D8C0F4"/><rect x="1508.40" y="2232.22" width="25.73" height="36.94" fill="#9968FC"/><rect x="1533.78" y="2232.22" width="25.73" height="36.94" fill="#D1B2F5"/><rect x="1559.16" y="2232.22" width="13.04" height="36.94" fill="#C39DF8"/><rect x="1571.85" y="2232.22" width="13.04" height="36.94" fill="#BC92F8"/><rect x="1584.54" y="2232.22" width="13.04" height="36.94" fill="#B488F9"/><rect x="1597.23" y="2232.22" width="13.04" height="36.94" fill="#F1E9E7"/><rect x="1609.92" y="2232.22" width="25.73" height="36.94" fill="#EBE9EF"/><rect x="61.70" y="2268.81" width="13.04" height="36.94" fill="#F19C81"/><rect x="74.39" y="2268.81" width="13.04" height="36.94" fill="#F1CCBE"/><rect x="87.08" y="2268.81" width="25.73" height="36.94" fill="#F1B19C"/><rect x="112.46" y="2268.81" width="13.04" height="36.94" fill="#F1E9E7"/><rect x="125.15" y="2268.81" width="13.04" height="36.94" fill="#F1CCBE"/><rect x="137.84" y="2268.81" width="25.73" height="36.94" fill="#F1D9D1"/><rect x="163.22" y="2268.81" width="25.73" height="36.94" fill="#EBE9EF"/><rect x="188.60" y="2268.81" width="25.73" height="36.94" fill="#F1D4CA"/><rect x="213.98" y="2268.81" width="13.04" height="36.94" fill="#F1DDD6"/><rect x="226.67" y="2268.81" width="13.04" height="36.94" fill="#EBE9EF"/><rect x="239.36" y="2268.81" width="13.04" height="36.94" fill="#F1CFC3"/><rect x="252.05" y="2268.81" width="13.04" height="36.94" fill="#F1CCBE"/><rect x="264.75" y="2268.81" width="13.04" height="36.94" fill="#E8E1F0"/><rect x="277.44" y="2268.81" width="13.04" height="36.94" fill="#EBE9EF"/><rect x="290.13" y="2268.81" width="13.04" height="36.94" fill="#F46E4E"/><rect x="302.82" y="2268.81" width="13.04" height="36.94" fill="#F66847"/><rect x="315.51" y="2268.81" width="25.73" height="36.94" fill="#F19C81"/><rect x="340.89" y="2268.81" width="13.04" height="36.94" fill="#F1A890"/><rect x="353.58" y="2268.81" width="13.04" height="36.94" fill="#D1B2F5"/><rect x="366.27" y="2268.81" width="13.04" height="36.94" fill="#E3D5F1"/><rect x="378.96" y="2268.81" width="13.04" height="36.94" fill="#D8C0F4"/><rect x="391.65" y="2268.81" width="13.04" height="36.94" fill="#D1B2F5"/><rect x="404.34" y="2268.81" width="13.04" height="36.94" fill="#F18B6C"/><rect x="417.03" y="2268.81" width="13.04" height="36.94" fill="#F1CCBE"/><rect x="429.72" y="2268.81" width="13.04" height="36.94" fill="#F1C8BA"/><rect x="442.41" y="2268.81" width="25.73" height="36.94" fill="#EEEEEE"/><rect x="467.79" y="2268.81" width="13.04" height="36.94" fill="#EBE6EF"/><rect x="480.48" y="2268.81" width="13.04" height="36.94" fill="#F1D4CA"/><rect x="493.17" y="2268.81" width="25.73" height="36.94" fill="#F37959"/><rect x="518.55" y="2268.81" width="13.04" height="36.94" fill="#F37554"/><rect x="531.24" y="2268.81" width="13.04" height="36.94" fill="#F19578"/><rect x="543.93" y="2268.81" width="13.04" height="36.94" fill="#F1C3B3"/><rect x="556.62" y="2268.81" width="13.04" height="36.94" fill="#F18364"/><rect x="569.31" y="2268.81" width="13.04" height="36.94" fill="#EEEEEE"/><rect x="582.00" y="2268.81" width="13.04" height="36.94" fill="#EBE6EF"/><rect x="594.69" y="2268.81" width="13.04" height="36.94" fill="#F1BAA7"/><rect x="607.38" y="2268.81" width="13.04" height="36.94" fill="#F1C3B3"/><rect x="620.07" y="2268.81" width="13.04" height="36.94" fill="#F1BAA7"/><rect x="632.76" y="2268.81" width="13.04" height="36.94" fill="#F1E5E2"/><rect x="645.45" y="2268.81" width="13.04" height="36.94" fill="#E8E1F0"/><rect x="658.15" y="2268.81" width="13.04" height="36.94" fill="#E7DDF0"/><rect x="670.84" y="2268.81" width="13.04" height="36.94" fill="#E5DAF1"/><rect x="683.53" y="2268.81" width="13.04" height="36.94" fill="#F1DDD6"/><rect x="696.22" y="2268.81" width="13.04" height="36.94" fill="#F1A890"/><rect x="708.91" y="2268.81" width="13.04" height="36.94" fill="#F1CCBE"/><rect x="721.60" y="2268.81" width="13.04" height="36.94" fill="#F1B19C"/><rect x="734.29" y="2268.81" width="13.04" height="36.94" fill="#F1A890"/><rect x="746.98" y="2268.81" width="13.04" height="36.94" fill="#F19578"/><rect x="759.67" y="2268.81" width="13.04" height="36.94" fill="#F19072"/><rect x="772.36" y="2268.81" width="13.04" height="36.94" fill="#F19C81"/><rect x="785.05" y="2268.81" width="13.04" height="36.94" fill="#F37959"/><rect x="797.74" y="2268.81" width="13.04" height="36.94" fill="#F1BEAC"/><rect x="810.43" y="2268.81" width="13.04" height="36.94" fill="#F1CCBE"/><rect x="823.12" y="2268.81" width="25.73" height="36.94" fill="#F1BAA7"/><rect x="848.50" y="2268.81" width="13.04" height="36.94" fill="#D7BDF4"/><rect x="861.19" y="2268.81" width="13.04" height="36.94" fill="#C39DF8"/><rect x="873.88" y="2268.81" width="13.04" height="36.94" fill="#E3D5F1"/><rect x="886.57" y="2268.81" width="13.04" height="36.94" fill="#BC92F8"/><rect x="899.26" y="2268.81" width="13.04" height="36.94" fill="#C8A3F7"/><rect x="911.95" y="2268.81" width="63.80" height="36.94" fill="#9968FC"/><rect x="975.40" y="2268.81" width="13.04" height="36.94" fill="#C39DF8"/><rect x="988.09" y="2268.81" width="38.42" height="36.94" fill="#9968FC"/><rect x="1026.16" y="2268.81" width="13.04" height="36.94" fill="#F1D9D1"/><rect x="1038.85" y="2268.81" width="13.04" height="36.94" fill="#DBC5F3"/><rect x="1051.55" y="2268.81" width="13.04" height="36.94" fill="#D1B2F5"/><rect x="1064.24" y="2268.81" width="13.04" height="36.94" fill="#CAA7F7"/><rect x="1076.93" y="2268.81" width="25.73" height="36.94" fill="#C39DF8"/><rect x="1102.31" y="2268.81" width="13.04" height="36.94" fill="#C8A3F7"/><rect x="1115.00" y="2268.81" width="13.04" height="36.94" fill="#CAA7F7"/><rect x="1127.69" y="2268.81" width="13.04" height="36.94" fill="#F19C81"/><rect x="1140.38" y="2268.81" width="13.04" height="36.94" fill="#F46E4E"/><rect x="1153.07" y="2268.81" width="13.04" height="36.94" fill="#F37959"/><rect x="1165.76" y="2268.81" width="13.04" height="36.94" fill="#F66847"/><rect x="1178.45" y="2268.81" width="25.73" height="36.94" fill="#F18364"/><rect x="1203.83" y="2268.81" width="13.04" height="36.94" fill="#F19578"/><rect x="1216.52" y="2268.81" width="13.04" height="36.94" fill="#F1B19C"/><rect x="1229.21" y="2268.81" width="13.04" height="36.94" fill="#F1AC95"/><rect x="1241.90" y="2268.81" width="13.04" height="36.94" fill="#F1A890"/><rect x="1254.59" y="2268.81" width="13.04" height="36.94" fill="#F18B6C"/><rect x="1267.28" y="2268.81" width="13.04" height="36.94" fill="#F1AC95"/><rect x="1279.97" y="2268.81" width="13.04" height="36.94" fill="#F1B19C"/><rect x="1292.66" y="2268.81" width="13.04" height="36.94" fill="#F37959"/><rect x="1305.35" y="2268.81" width="13.04" height="36.94" fill="#F1E9E7"/><rect x="1318.04" y="2268.81" width="25.73" height="36.94" fill="#F1D9D1"/><rect x="1343.42" y="2268.81" width="25.73" height="36.94" fill="#F1BEAC"/><rect x="1368.80" y="2268.81" width="13.04" height="36.94" fill="#F1C8BA"/><rect x="1381.49" y="2268.81" width="13.04" height="36.94" fill="#F1BAA7"/><rect x="1394.18" y="2268.81" width="13.04" height="36.94" fill="#F1CCBE"/><rect x="1406.87" y="2268.81" width="13.04" height="36.94" fill="#E7DDF0"/><rect x="1419.56" y="2268.81" width="13.04" height="36.94" fill="#C39DF8"/><rect x="1432.25" y="2268.81" width="25.73" height="36.94" fill="#BC92F8"/><rect x="1457.64" y="2268.81" width="38.42" height="36.94" fill="#9968FC"/><rect x="1495.71" y="2268.81" width="13.04" height="36.94" fill="#DBC5F3"/><rect x="1508.40" y="2268.81" width="25.73" height="36.94" fill="#9968FC"/><rect x="1533.78" y="2268.81" width="13.04" height="36.94" fill="#C39DF8"/><rect x="1546.47" y="2268.81" width="13.04" height="36.94" fill="#B98EF9"/><rect x="1559.16" y="2268.81" width="25.73" height="36.94" fill="#DBC5F3"/><rect x="1584.54" y="2268.81" width="13.04" height="36.94" fill="#BC92F8"/><rect x="1597.23" y="2268.81" width="13.04" height="36.94" fill="#F1E9E7"/><rect x="1609.92" y="2268.81" width="13.04" height="36.94" fill="#E7DDF0"/><rect x="1622.61" y="2268.81" width="13.04" height="36.94" fill="#F1DDD6"/></g>
<g font-size="12.0"><text transform="translate(73.27 1640.9) rotate(-90)">Dkk2</text><text transform="translate(85.96 1640.9) rotate(-90)">Mmp10</text><text transform="translate(98.65 1640.9) rotate(-90)">Mmrn1</text><text transform="translate(111.34 1640.9) rotate(-90)">Reln</text><text transform="translate(124.03 1640.9) rotate(-90)">Aqp1</text><text transform="translate(136.72 1640.9) rotate(-90)">Lrat</text><text transform="translate(149.41 1640.9) rotate(-90)">Vwc2</text><text transform="translate(162.10 1640.9) rotate(-90)">Flt4</text><text transform="translate(174.79 1640.9) rotate(-90)">D5Ertd615e</text><text transform="translate(187.48 1640.9) rotate(-90)">Emcn</text><text transform="translate(200.17 1640.9) rotate(-90)">Kdr</text><text transform="translate(212.86 1640.9) rotate(-90)">Stab1</text><text transform="translate(225.55 1640.9) rotate(-90)">Adgrg3</text><text transform="translate(238.24 1640.9) rotate(-90)">Cdh5</text><text transform="translate(250.93 1640.9) rotate(-90)">Lcn2</text><text transform="translate(263.62 1640.9) rotate(-90)">Cyp4b1</text><text transform="translate(276.31 1640.9) rotate(-90)">Mrc1</text><text transform="translate(289.00 1640.9) rotate(-90)">Depp1</text><text transform="translate(301.69 1640.9) rotate(-90)">Cxcl13</text><text transform="translate(314.38 1640.9) rotate(-90)">Steap4</text><text transform="translate(327.07 1640.9) rotate(-90)">Hoxc8</text><text transform="translate(339.76 1640.9) rotate(-90)">Hoxa5</text><text transform="translate(352.45 1640.9) rotate(-90)">Esrrg</text><text transform="translate(365.14 1640.9) rotate(-90)">Fgf14</text><text transform="translate(377.83 1640.9) rotate(-90)">Prdm6</text><text transform="translate(390.52 1640.9) rotate(-90)">Hoxb5</text><text transform="translate(403.21 1640.9) rotate(-90)">Isl2</text><text transform="translate(415.90 1640.9) rotate(-90)">Cpz</text><text transform="translate(428.59 1640.9) rotate(-90)">Kcnk3</text><text transform="translate(441.28 1640.9) rotate(-90)">Bche</text><text transform="translate(453.97 1640.9) rotate(-90)">Hoxaas2</text><text transform="translate(466.67 1640.9) rotate(-90)">Hoxa4</text><text transform="translate(479.36 1640.9) rotate(-90)">Hoxa2</text><text transform="translate(492.05 1640.9) rotate(-90)">Zim1</text><text transform="translate(504.74 1640.9) rotate(-90)">Adam23</text><text transform="translate(517.43 1640.9) rotate(-90)">Kctd8</text><text transform="translate(530.12 1640.9) rotate(-90)">Hoxa9</text><text transform="translate(542.81 1640.9) rotate(-90)">Fmod</text><text transform="translate(555.50 1640.9) rotate(-90)">Mcoln2</text><text transform="translate(568.19 1640.9) rotate(-90)">Sema3e</text><text transform="translate(580.88 1640.9) rotate(-90)">Gm45338</text><text transform="translate(593.57 1640.9) rotate(-90)">Gm12580</text><text transform="translate(606.26 1640.9) rotate(-90)">Hs6st2</text><text transform="translate(618.95 1640.9) rotate(-90)">Defb50</text><text transform="translate(631.64 1640.9) rotate(-90)">Bmp3</text><text transform="translate(644.33 1640.9) rotate(-90)">Htr1f</text><text transform="translate(657.02 1640.9) rotate(-90)">Palmd</text><text transform="translate(669.71 1640.9) rotate(-90)">Wif1</text><text transform="translate(682.40 1640.9) rotate(-90)">Lef1</text><text transform="translate(695.09 1640.9) rotate(-90)">Dmp1</text><text transform="translate(707.78 1640.9) rotate(-90)">Masp1</text><text transform="translate(720.47 1640.9) rotate(-90)">D430041D05Rik</text><text transform="translate(733.16 1640.9) rotate(-90)">Cntn4</text><text transform="translate(745.85 1640.9) rotate(-90)">Tafa1</text><text transform="translate(758.54 1640.9) rotate(-90)">Syndig1</text><text transform="translate(771.23 1640.9) rotate(-90)">Ly6h</text><text transform="translate(783.92 1640.9) rotate(-90)">Hoxc9</text><text transform="translate(796.61 1640.9) rotate(-90)">Pitx2</text><text transform="translate(809.30 1640.9) rotate(-90)">Smco3</text><text transform="translate(821.99 1640.9) rotate(-90)">Necab2</text><text transform="translate(834.68 1640.9) rotate(-90)">Slc38a5</text><text transform="translate(847.37 1640.9) rotate(-90)">Nat8</text><text transform="translate(860.07 1640.9) rotate(-90)">Exoc3l2</text><text transform="translate(872.76 1640.9) rotate(-90)">Cdh8</text><text transform="translate(885.45 1640.9) rotate(-90)">Nrsn1</text><text transform="translate(898.14 1640.9) rotate(-90)">Hs3st6</text><text transform="translate(910.83 1640.9) rotate(-90)">D330037F02Rik</text><text transform="translate(923.52 1640.9) rotate(-90)">Hsf3</text><text transform="translate(936.21 1640.9) rotate(-90)">Sptssb</text><text transform="translate(948.90 1640.9) rotate(-90)">Alox12e</text><text transform="translate(961.59 1640.9) rotate(-90)">Cldn4</text><text transform="translate(974.28 1640.9) rotate(-90)">Psg22</text><text transform="translate(986.97 1640.9) rotate(-90)">Hoxb5os</text><text transform="translate(999.66 1640.9) rotate(-90)">Gm32592</text><text transform="translate(1012.35 1640.9) rotate(-90)">Scg2</text><text transform="translate(1025.04 1640.9) rotate(-90)">Fabp1</text><text transform="translate(1037.73 1640.9) rotate(-90)">Shisa6</text><text transform="translate(1050.42 1640.9) rotate(-90)">Espnl</text><text transform="translate(1063.11 1640.9) rotate(-90)">Gm8113</text><text transform="translate(1075.80 1640.9) rotate(-90)">Mc5r</text><text transform="translate(1088.49 1640.9) rotate(-90)">Zfp804a</text><text transform="translate(1101.18 1640.9) rotate(-90)">Gm29430</text><text transform="translate(1113.87 1640.9) rotate(-90)">Clic6</text><text transform="translate(1126.56 1640.9) rotate(-90)">Gm29677</text><text transform="translate(1139.25 1640.9) rotate(-90)">Eya4</text><text transform="translate(1151.94 1640.9) rotate(-90)">Hoxa10</text><text transform="translate(1164.63 1640.9) rotate(-90)">Ccn5</text><text transform="translate(1177.32 1640.9) rotate(-90)">Hoxc10</text><text transform="translate(1190.01 1640.9) rotate(-90)">Cnksr1</text><text transform="translate(1202.70 1640.9) rotate(-90)">Sfrp2</text><text transform="translate(1215.39 1640.9) rotate(-90)">Lrrtm4</text><text transform="translate(1228.08 1640.9) rotate(-90)">Gm19299</text><text transform="translate(1240.77 1640.9) rotate(-90)">Igfbp2</text><text transform="translate(1253.47 1640.9) rotate(-90)">Iqcj</text><text transform="translate(1266.16 1640.9) rotate(-90)">Hoxd11</text><text transform="translate(1278.85 1640.9) rotate(-90)">Hoxa11os</text><text transform="translate(1291.54 1640.9) rotate(-90)">Hoxa11</text><text transform="translate(1304.23 1640.9) rotate(-90)">Wfdc13</text><text transform="translate(1316.92 1640.9) rotate(-90)">Nxf7</text><text transform="translate(1329.61 1640.9) rotate(-90)">8430436N08Rik</text><text transform="translate(1342.30 1640.9) rotate(-90)">Isl1</text><text transform="translate(1354.99 1640.9) rotate(-90)">9330188P03Rik</text><text transform="translate(1367.68 1640.9) rotate(-90)">Spp1</text><text transform="translate(1380.37 1640.9) rotate(-90)">Wnt16</text><text transform="translate(1393.06 1640.9) rotate(-90)">Gm14396</text><text transform="translate(1405.75 1640.9) rotate(-90)">Hoxc11</text><text transform="translate(1418.44 1640.9) rotate(-90)">Nebl</text><text transform="translate(1431.13 1640.9) rotate(-90)">Diras2</text><text transform="translate(1443.82 1640.9) rotate(-90)">Cps1</text><text transform="translate(1456.51 1640.9) rotate(-90)">Sall4</text><text transform="translate(1469.20 1640.9) rotate(-90)">A830011K09Rik</text><text transform="translate(1481.89 1640.9) rotate(-90)">Nrn1</text><text transform="translate(1494.58 1640.9) rotate(-90)">Hoxa13</text><text transform="translate(1507.27 1640.9) rotate(-90)">Kcna4</text><text transform="translate(1519.96 1640.9) rotate(-90)">Hoxd13</text><text transform="translate(1532.65 1640.9) rotate(-90)">Hottip</text><text transform="translate(1545.34 1640.9) rotate(-90)">Galnt3</text><text transform="translate(1558.03 1640.9) rotate(-90)">Tnmd</text><text transform="translate(1570.72 1640.9) rotate(-90)">Ptchd1</text><text transform="translate(1583.41 1640.9) rotate(-90)">Gm13883</text><text transform="translate(1596.10 1640.9) rotate(-90)">Fabp6</text><text transform="translate(1608.79 1640.9) rotate(-90)">Pdzph1</text><text transform="translate(1621.48 1640.9) rotate(-90)">Gm4128</text><text transform="translate(1634.17 1640.9) rotate(-90)">Irs4</text></g>
<rect x="1641.80" y="1646.80" width="14.70" height="219.83" fill="#E8A626"/>
<rect x="1641.80" y="1866.33" width="14.70" height="219.83" fill="#5C5A90"/>
<rect x="1641.80" y="2085.87" width="14.70" height="110.07" fill="#5CADA5"/>
<rect x="1641.80" y="2195.63" width="14.70" height="110.07" fill="#363B38"/>
<text x="1659.60" y="1669.50" font-size="12.4">pSILP−1</text>
<text x="1659.60" y="1706.09" font-size="12.4">pSILP−2</text>
<text x="1659.60" y="1742.67" font-size="12.4">pSILP−3</text>
<text x="1659.60" y="1779.26" font-size="12.4">pSILP−4</text>
<text x="1659.60" y="1815.85" font-size="12.4">pSILP−5</text>
<text x="1659.60" y="1852.44" font-size="12.4">pSILP−6</text>
<text x="1659.60" y="1889.03" font-size="12.4">dSILP−1</text>
<text x="1659.60" y="1925.62" font-size="12.4">dSILP−2</text>
<text x="1659.60" y="1962.21" font-size="12.4">dSILP−3</text>
<text x="1659.60" y="1998.80" font-size="12.4">dSILP−4</text>
<text x="1659.60" y="2035.39" font-size="12.4">dSILP−5</text>
<text x="1659.60" y="2071.97" font-size="12.4">dSILP−6</text>
<text x="1659.60" y="2108.56" font-size="12.4">LILP−1</text>
<text x="1659.60" y="2145.15" font-size="12.4">LILP−2</text>
<text x="1659.60" y="2181.74" font-size="12.4">LILP−3</text>
<text x="1659.60" y="2218.33" font-size="12.4">CecLP−1</text>
<text x="1659.60" y="2254.92" font-size="12.4">CecLP−2</text>
<text x="1659.60" y="2291.51" font-size="12.4">CecLP−3</text>
<text transform="translate(1653.61 2346.0) rotate(-90)" font-size="12.4">Tissue</text>
<path d="M241.6,2322.2V2337.6H1148.2V2327.9M149.5,2316.9V2322.2H333.8V2319.2M99.0,2313.0V2316.9H200.0V2314.8M79.1,2312.0V2313.0H118.8V2306.4M68.0,2306.4V2312.0H90.3V2311.3M80.7,2306.4V2311.3H99.8V2310.0M93.4,2306.4V2310.0H106.1V2306.4M137.8,2311.0V2314.8H262.1V2313.1M131.5,2306.4V2311.0H144.2V2306.4M240.4,2311.2V2313.1H283.8V2306.4M216.0,2311.2V2311.2H264.7V2310.9M186.2,2310.5V2311.2H245.7V2306.4M163.2,2310.4V2310.5H209.2V2310.3M156.9,2306.4V2310.4H169.6V2306.4M191.8,2310.3V2310.3H226.7V2310.1M182.3,2306.4V2310.3H201.3V2310.1M194.9,2306.4V2310.1H207.6V2306.4M220.3,2306.4V2310.1H233.0V2306.4M258.4,2306.4V2310.9H271.1V2306.4M302.8,2313.0V2319.2H364.7V2316.5M296.5,2306.4V2313.0H309.2V2306.4M331.4,2314.5V2316.5H398.1V2315.8M321.9,2306.4V2314.5H340.9V2311.2M334.5,2306.4V2311.2H347.2V2306.4M371.0,2312.8V2315.8H425.2V2313.8M359.9,2306.4V2312.8H382.1V2311.4M372.6,2306.4V2311.4H391.6V2310.8M385.3,2306.4V2310.8H398.0V2306.4M410.7,2306.4V2313.8H439.6V2313.0M423.4,2306.4V2313.0H455.9V2311.3M436.1,2306.4V2311.3H475.7V2310.9M464.6,2310.5V2310.9H486.8V2306.4M455.1,2310.2V2310.5H474.1V2306.4M448.8,2306.4V2310.2H461.4V2306.4M840.7,2324.5V2327.9H1455.7V2322.6M663.5,2320.3V2324.5H1017.9V2319.2M535.1,2318.0V2320.3H792.0V2317.0M499.5,2306.4V2318.0H570.7V2314.3M518.6,2312.9V2314.3H622.9V2313.7M512.2,2306.4V2312.9H524.9V2306.4M587.6,2312.1V2313.7H658.1V2311.6M567.7,2311.8V2312.1H607.4V2311.3M553.5,2311.7V2311.8H582.0V2310.5M543.9,2310.9V2311.7H563.0V2306.4M537.6,2306.4V2310.9H550.3V2306.4M575.7,2306.4V2310.5H588.3V2306.4M601.0,2306.4V2311.3H613.7V2306.4M642.3,2310.7V2311.6H674.0V2311.2M632.8,2310.5V2310.7H651.8V2306.4M626.4,2306.4V2310.5H639.1V2306.4M664.5,2306.4V2311.2H683.5V2310.6M677.2,2306.4V2310.6H689.9V2306.4M747.8,2313.6V2317.0H836.2V2315.2M716.8,2311.5V2313.6H778.7V2306.4M702.6,2306.4V2311.5H731.1V2311.2M715.3,2306.4V2311.2H747.0V2310.9M734.3,2310.5V2310.9H759.7V2310.5M727.9,2306.4V2310.5H740.6V2306.4M753.3,2306.4V2310.5H766.0V2306.4M811.2,2311.8V2315.2H861.2V2311.0M791.4,2306.4V2311.8H831.1V2310.8M819.9,2310.5V2310.8H842.2V2306.4M810.4,2310.4V2310.5H829.5V2306.4M804.1,2306.4V2310.4H816.8V2306.4M854.8,2306.4V2311.0H867.5V2306.4M977.5,2315.5V2319.2H1058.3V2316.0M944.7,2315.5V2315.5H1010.3V2312.8M907.6,2312.4V2315.5H981.7V2306.4M886.6,2311.1V2312.4H928.6V2311.3M880.2,2306.4V2311.1H892.9V2306.4M912.0,2310.5V2311.3H945.3V2311.3M905.6,2306.4V2310.5H918.3V2306.4M931.0,2306.4V2311.3H959.5V2310.7M950.0,2310.3V2310.7H969.1V2306.4M943.7,2306.4V2310.3H956.4V2306.4M1000.8,2312.8V2312.8H1019.8V2306.4M994.4,2306.4V2312.8H1007.1V2306.4M1038.9,2313.5V2316.0H1077.7V2314.6M1032.5,2306.4V2313.5H1045.2V2306.4M1057.9,2306.4V2314.6H1097.5V2313.4M1080.1,2313.2V2313.4H1115.0V2312.1M1070.6,2306.4V2313.2H1089.6V2311.6M1083.3,2306.4V2311.6H1096.0V2306.4M1108.7,2306.4V2312.1H1121.3V2306.4M1321.3,2320.8V2322.6H1590.1V2319.2M1207.9,2318.5V2320.8H1434.6V2317.5M1153.1,2316.5V2318.5H1262.7V2317.3M1140.4,2313.6V2316.5H1165.8V2312.8M1134.0,2306.4V2313.6H1146.7V2306.4M1159.4,2306.4V2312.8H1172.1V2306.4M1208.6,2313.4V2317.3H1316.9V2314.7M1191.1,2310.3V2313.4H1226.0V2312.0M1184.8,2306.4V2310.3H1197.5V2306.4M1216.5,2312.0V2312.0H1235.6V2306.4M1210.2,2306.4V2312.0H1222.9V2306.4M1279.2,2312.4V2314.7H1354.5V2314.1M1259.3,2311.5V2312.4H1299.0V2306.4M1248.2,2306.4V2311.5H1270.5V2311.0M1260.9,2306.4V2311.0H1280.0V2310.6M1273.6,2306.4V2310.6H1286.3V2306.4M1327.6,2313.6V2314.1H1381.5V2311.8M1311.7,2306.4V2313.6H1343.4V2312.4M1330.7,2311.5V2312.4H1356.1V2310.9M1324.4,2306.4V2311.5H1337.1V2306.4M1349.8,2306.4V2310.9H1362.5V2306.4M1375.1,2306.4V2311.8H1387.8V2306.4M1400.5,2306.4V2317.5H1468.7V2314.9M1437.0,2312.0V2314.9H1500.5V2312.9M1413.2,2306.4V2312.0H1460.8V2311.5M1444.9,2311.4V2311.5H1476.7V2306.4M1432.3,2310.9V2311.4H1457.6V2311.0M1425.9,2306.4V2310.9H1438.6V2306.4M1451.3,2306.4V2311.0H1464.0V2306.4M1489.4,2306.4V2312.9H1511.6V2311.2M1502.1,2306.4V2311.2H1521.1V2311.0M1514.7,2306.4V2311.0H1527.4V2306.4M1567.1,2314.5V2319.2H1613.1V2313.5M1549.6,2312.8V2314.5H1584.5V2313.2M1540.1,2306.4V2312.8H1559.2V2311.1M1552.8,2306.4V2311.1H1565.5V2306.4M1578.2,2306.4V2313.2H1590.9V2306.4M1603.6,2306.4V2313.5H1622.6V2310.5M1616.3,2306.4V2310.5H1629.0V2306.4" fill="none" stroke="#000" stroke-width="1.6" stroke-linejoin="miter"/>
<text x="1749.10" y="1843.80" font-size="19.95" font-weight="bold">log2 Normalized Expression</text>
<linearGradient id="hm" gradientUnits="userSpaceOnUse" x1="0" y1="1858.9" x2="0" y2="1971.4"><stop offset="0%" stop-color="#FF0000"/><stop offset="5%" stop-color="#FC3C20"/><stop offset="10%" stop-color="#F85837"/><stop offset="15%" stop-color="#F46E4E"/><stop offset="20%" stop-color="#F18364"/><stop offset="25%" stop-color="#F1967A"/><stop offset="30%" stop-color="#F1A890"/><stop offset="35%" stop-color="#F1BAA7"/><stop offset="40%" stop-color="#F1CCBE"/><stop offset="45%" stop-color="#F1DDD6"/><stop offset="50%" stop-color="#EEEEEE"/><stop offset="55%" stop-color="#E4D8F1"/><stop offset="60%" stop-color="#DAC3F4"/><stop offset="65%" stop-color="#CFAEF6"/><stop offset="70%" stop-color="#C099F8"/><stop offset="75%" stop-color="#B083FA"/><stop offset="80%" stop-color="#9F6EFB"/><stop offset="85%" stop-color="#8B59FC"/><stop offset="90%" stop-color="#7342FD"/><stop offset="95%" stop-color="#5329FE"/><stop offset="100%" stop-color="#0600FF"/></linearGradient>
<rect x="1747.80" y="1854.80" width="24.60" height="121.20" fill="url(#hm)"/>
<line x1="1766.00" y1="1858.90" x2="1772.40" y2="1858.90" stroke="#fff" stroke-width="1.1"/>
<text x="1777.60" y="1866.00" font-size="20">10</text>
<line x1="1766.00" y1="1887.40" x2="1772.40" y2="1887.40" stroke="#fff" stroke-width="1.1"/>
<text x="1777.60" y="1894.50" font-size="20">5</text>
<line x1="1766.00" y1="1915.50" x2="1772.40" y2="1915.50" stroke="#fff" stroke-width="1.1"/>
<text x="1777.60" y="1922.60" font-size="20">0</text>
<line x1="1766.00" y1="1943.50" x2="1772.40" y2="1943.50" stroke="#fff" stroke-width="1.1"/>
<text x="1777.60" y="1950.60" font-size="20">−5</text>
<line x1="1766.00" y1="1971.40" x2="1772.40" y2="1971.40" stroke="#fff" stroke-width="1.1"/>
<text x="1777.60" y="1978.50" font-size="20">−10</text>
<text x="1749.10" y="2012.50" font-size="19.95" font-weight="bold">Tissue</text>
<rect x="1749.70" y="2025.30" width="20.40" height="19.60" fill="#363B38"/>
<text x="1777.60" y="2042.00" font-size="20">Cecum</text>
<rect x="1749.70" y="2048.05" width="20.40" height="19.60" fill="#5C5A90"/>
<text x="1777.60" y="2064.75" font-size="20">dSI</text>
<rect x="1749.70" y="2070.80" width="20.40" height="19.60" fill="#5CADA5"/>
<text x="1777.60" y="2087.50" font-size="20">LI</text>
<rect x="1749.70" y="2093.55" width="20.40" height="19.60" fill="#E8A626"/>
<text x="1777.60" y="2110.25" font-size="20">pSI</text>
</svg>
</body></html>
